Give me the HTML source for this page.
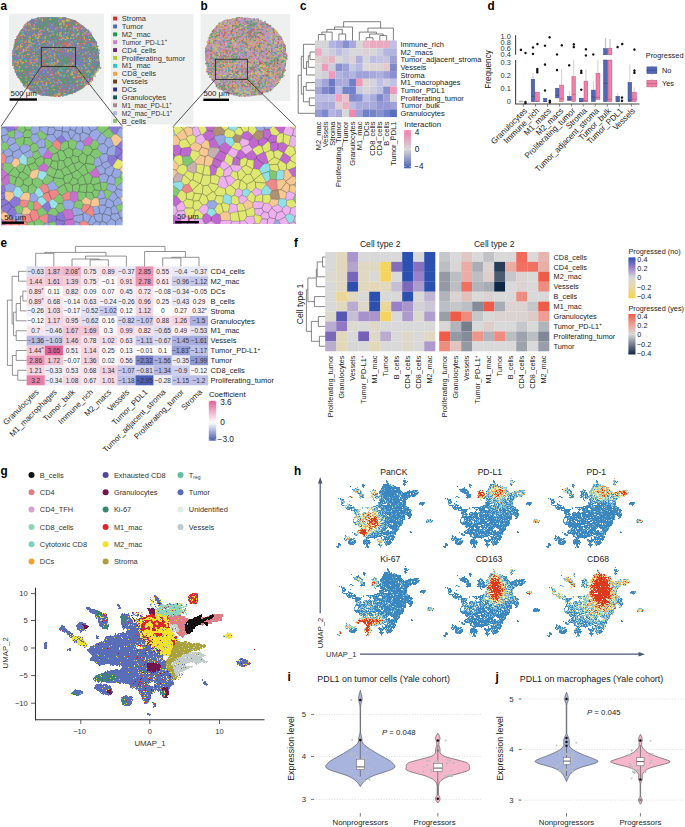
<!DOCTYPE html>
<html><head><meta charset="utf-8"><style>
html,body{margin:0;padding:0;background:#fff;}
svg{display:block;font-family:"Liberation Sans", sans-serif;}
</style></head><body>
<svg width="685" height="827" viewBox="0 0 685 827" fill="#222">
<defs><clipPath id="va"><rect x="1" y="126.4" width="121.5" height="98.8"/></clipPath>
<clipPath id="vb"><rect x="173" y="126.7" width="123" height="97.3"/></clipPath>
<linearGradient id="gc" x1="0" y1="0" x2="0" y2="1"><stop offset="0" stop-color="#f07aa8"/><stop offset="0.5" stop-color="#d8d8d8"/><stop offset="1" stop-color="#4a62b8"/></linearGradient>
<linearGradient id="ge" x1="0" y1="0" x2="0" y2="1"><stop offset="0" stop-color="#e35d94"/><stop offset="0.545" stop-color="#ffffff"/><stop offset="1" stop-color="#4a5cb2"/></linearGradient>
<linearGradient id="gfl" x1="0" y1="0" x2="0" y2="1"><stop offset="0" stop-color="#2c50b0"/><stop offset="0.25" stop-color="#9a80c8"/><stop offset="0.5" stop-color="#d9d9d9"/><stop offset="0.75" stop-color="#ead7a2"/><stop offset="1" stop-color="#f6d44a"/></linearGradient>
<linearGradient id="gfr" x1="0" y1="0" x2="0" y2="1"><stop offset="0" stop-color="#f05a48"/><stop offset="0.25" stop-color="#ef9d92"/><stop offset="0.5" stop-color="#d9d9d9"/><stop offset="0.75" stop-color="#767e8e"/><stop offset="1" stop-color="#0e2746"/></linearGradient>
<g id="hs"><path d="M71 4.5h1M53 6.5h1M70 6.5h3M53 7.5h2M70 7.5h3M74 7.5h1M54 8.5h1M71 8.5h3M54 9.5h2M70 9.5h2M29 10.5h2M50 10.5h6M57 10.5h1M70 10.5h3M29 11.5h3M50 11.5h8M60 11.5h1M71 11.5h1M17 12.5h1M29 12.5h2M49 12.5h11M61 12.5h2M24 13.5h1M30 13.5h1M49 13.5h18M22 14.5h3M48 14.5h19M19 15.5h8M40 15.5h1M48 15.5h10M59 15.5h2M63 15.5h4M20 16.5h8M39 16.5h4M47 16.5h21M76 16.5h1M79 16.5h6M20 17.5h6M27 17.5h2M37 17.5h3M41 17.5h2M46 17.5h23M74 17.5h10M22 18.5h7M38 18.5h4M43 18.5h1M46 18.5h4M51 18.5h17M69 18.5h1M72 18.5h11M84 18.5h2M24 19.5h5M38 19.5h3M42 19.5h3M46 19.5h2M49 19.5h15M65 19.5h12M78 19.5h2M81 19.5h4M27 20.5h4M38 20.5h7M48 20.5h16M65 20.5h1M67 20.5h1M69 20.5h5M75 20.5h2M78 20.5h6M26 21.5h5M37 21.5h8M46 21.5h15M62 21.5h4M68 21.5h15M16 22.5h2M27 22.5h4M38 22.5h3M42 22.5h5M48 22.5h1M50 22.5h17M68 22.5h10M79 22.5h3M18 23.5h1M26 23.5h5M37 23.5h10M48 23.5h8M57 23.5h9M67 23.5h1M69 23.5h6M76 23.5h1M5 24.5h1M7 24.5h1M40 24.5h1M42 24.5h3M46 24.5h20M67 24.5h8M7 25.5h1M9 25.5h2M40 25.5h1M46 25.5h5M52 25.5h17M70 25.5h4M8 26.5h3M41 26.5h1M46 26.5h6M53 26.5h20M8 27.5h1M10 27.5h2M16 27.5h1M47 27.5h7M55 27.5h4M60 27.5h7M69 27.5h4M8 28.5h4M45 28.5h5M51 28.5h18M70 28.5h3M87 28.5h5M9 29.5h2M14 29.5h1M45 29.5h8M54 29.5h19M86 29.5h5M8 30.5h1M14 30.5h3M46 30.5h4M54 30.5h3M58 30.5h6M65 30.5h8M86 30.5h1M88 30.5h3M9 31.5h5M15 31.5h4M43 31.5h25M69 31.5h3M89 31.5h1M12 32.5h1M14 32.5h2M17 32.5h1M20 32.5h1M40 32.5h8M49 32.5h10M60 32.5h2M63 32.5h11M13 33.5h9M32 33.5h9M42 33.5h7M50 33.5h1M52 33.5h7M60 33.5h9M70 33.5h2M74 33.5h2M13 34.5h1M15 34.5h7M29 34.5h1M34 34.5h1M36 34.5h1M38 34.5h7M47 34.5h29M14 35.5h3M18 35.5h1M21 35.5h7M35 35.5h3M39 35.5h6M48 35.5h13M62 35.5h7M70 35.5h8M18 36.5h9M36 36.5h1M39 36.5h8M48 36.5h10M59 36.5h20M21 37.5h6M35 37.5h1M40 37.5h2M43 37.5h7M51 37.5h1M53 37.5h4M59 37.5h7M67 37.5h8M76 37.5h2M21 38.5h5M30 38.5h3M34 38.5h3M39 38.5h12M52 38.5h26M21 39.5h3M25 39.5h2M29 39.5h2M32 39.5h11M45 39.5h13M59 39.5h13M73 39.5h6M23 40.5h5M29 40.5h9M39 40.5h12M52 40.5h27M22 41.5h1M26 41.5h1M29 41.5h9M39 41.5h10M50 41.5h4M56 41.5h12M69 41.5h3M74 41.5h5M22 42.5h10M33 42.5h5M39 42.5h14M54 42.5h2M57 42.5h15M75 42.5h3M21 43.5h18M40 43.5h2M43 43.5h4M48 43.5h24M76 43.5h2M24 44.5h8M33 44.5h1M35 44.5h9M45 44.5h14M60 44.5h12M75 44.5h2M20 45.5h1M24 45.5h4M29 45.5h6M36 45.5h1M38 45.5h18M57 45.5h4M62 45.5h6M69 45.5h3M94 45.5h2M97 45.5h1M20 46.5h1M24 46.5h1M26 46.5h5M32 46.5h13M47 46.5h16M64 46.5h1M67 46.5h3M93 46.5h7M20 47.5h1M25 47.5h3M29 47.5h3M34 47.5h3M38 47.5h11M50 47.5h20M93 47.5h7M20 48.5h9M30 48.5h3M34 48.5h1M36 48.5h1M38 48.5h9M49 48.5h21M93 48.5h4M98 48.5h1M21 49.5h32M54 49.5h2M58 49.5h1M60 49.5h10M22 50.5h20M44 50.5h1M46 50.5h4M51 50.5h8M60 50.5h9M25 51.5h13M41 51.5h10M52 51.5h17M25 52.5h20M46 52.5h3M50 52.5h17M26 53.5h2M29 53.5h5M35 53.5h5M41 53.5h6M48 53.5h5M54 53.5h1M56 53.5h8M65 53.5h1M28 54.5h2M31 54.5h3M36 54.5h4M42 54.5h2M45 54.5h2M48 54.5h6M57 54.5h9M27 55.5h2M30 55.5h13M44 55.5h1M47 55.5h6M59 55.5h7M25 56.5h2M28 56.5h11M40 56.5h1M42 56.5h2M45 56.5h8M54 56.5h2M59 56.5h6M24 57.5h2M27 57.5h6M34 57.5h16M51 57.5h5M57 57.5h2M60 57.5h4M77 57.5h1M19 58.5h1M24 58.5h13M38 58.5h25M77 58.5h2M21 59.5h2M25 59.5h38M21 60.5h2M24 60.5h1M29 60.5h3M33 60.5h7M41 60.5h1M44 60.5h3M48 60.5h1M50 60.5h9M60 60.5h1M62 60.5h1M12 61.5h1M23 61.5h2M30 61.5h1M34 61.5h16M53 61.5h2M57 61.5h4M12 62.5h2M15 62.5h1M30 62.5h2M34 62.5h14M50 62.5h2M53 62.5h1M55 62.5h7M12 63.5h1M14 63.5h3M32 63.5h12M48 63.5h1M51 63.5h6M59 63.5h3M11 64.5h2M14 64.5h3M18 64.5h1M20 64.5h2M33 64.5h1M35 64.5h1M41 64.5h1M48 64.5h1M51 64.5h2M54 64.5h7M11 65.5h1M13 65.5h2M16 65.5h5M31 65.5h4M44 65.5h2M48 65.5h8M57 65.5h4M12 66.5h2M15 66.5h4M21 66.5h2M30 66.5h7M44 66.5h7M52 66.5h1M54 66.5h1M56 66.5h2M59 66.5h1M15 67.5h3M19 67.5h4M30 67.5h7M45 67.5h5M51 67.5h1M53 67.5h5M15 68.5h8M30 68.5h8M46 68.5h1M48 68.5h1M51 68.5h1M53 68.5h6M5 69.5h2M15 69.5h7M30 69.5h7M46 69.5h2M52 69.5h1M54 69.5h4M5 70.5h3M17 70.5h4M31 70.5h1M33 70.5h2M36 70.5h1M45 70.5h5M53 70.5h4M5 71.5h3M33 71.5h2M46 71.5h3M53 71.5h1M3 72.5h3M33 72.5h3M47 72.5h1M4 73.5h2M32 73.5h1M34 73.5h2" fill="none" stroke="#3b87c0" stroke-width="1"/><path d="M53 8.5h1M59 11.5h1M60 12.5h1M58 15.5h1M61 15.5h1M42 18.5h1M50 18.5h1M68 18.5h1M71 18.5h1M83 18.5h1M48 19.5h1M26 20.5h1M47 20.5h1M66 20.5h1M68 20.5h1M74 20.5h1M84 20.5h1M61 21.5h1M66 21.5h2M47 22.5h1M49 22.5h1M15 23.5h1M19 23.5h1M68 23.5h1M75 23.5h1M27 24.5h1M8 25.5h1M54 27.5h1M59 27.5h1M69 28.5h1M8 29.5h1M91 29.5h1M45 30.5h1M64 30.5h1M87 30.5h1M68 31.5h1M72 31.5h1M48 32.5h1M59 32.5h1M62 32.5h1M12 33.5h1M29 33.5h1M49 33.5h1M51 33.5h1M72 33.5h2M14 34.5h1M61 35.5h1M47 36.5h1M42 37.5h1M50 37.5h1M52 37.5h1M57 37.5h2M38 38.5h1M51 38.5h1M31 39.5h1M58 39.5h1M72 39.5h1M22 40.5h1M23 41.5h1M25 41.5h1M49 41.5h1M68 41.5h1M32 42.5h1M53 42.5h1M56 42.5h1M42 43.5h1M21 44.5h1M32 44.5h1M59 44.5h1M28 45.5h1M37 45.5h1M56 45.5h1M61 45.5h1M96 45.5h1M65 46.5h2M23 47.5h2M37 47.5h1M29 48.5h1M37 48.5h1M97 48.5h1M53 49.5h1M56 49.5h1M45 50.5h1M50 50.5h1M51 51.5h1M49 52.5h1M47 53.5h1M53 53.5h1M64 53.5h1M29 55.5h1M43 55.5h1M45 55.5h2M27 56.5h1M39 56.5h1M41 56.5h1M59 57.5h1M23 60.5h1M42 60.5h2M47 60.5h1M59 60.5h1M61 60.5h1M22 61.5h1M31 61.5h1M33 61.5h1M55 61.5h2M32 62.5h1M52 62.5h1M58 63.5h1M13 64.5h1M17 64.5h1M34 64.5h1M53 64.5h1M15 65.5h1M56 65.5h1M20 66.5h1M52 67.5h1M47 68.5h1M52 68.5h1M53 69.5h1M16 70.5h1M52 70.5h1M47 73.5h1" fill="none" stroke="#7fb9d6" stroke-width="1"/></g></defs>
<text transform="translate(0.4 10.3) scale(0.901 1)" font-size="12.99" font-weight="bold" fill="#000">a</text>
<rect x="8.8" y="13.7" width="95.2" height="87.3" fill="#eef0ef"/>
<path d="M37.7 17.5L51.6 16.9L65.5 17.5L75.2 20.3L83.5 25.9L90.4 32.8L96 41.1L98.8 52.2L99.5 61.9L99.9 67.5L96 73L90.4 81.3L82.1 89L72.4 93.8L62.7 95.9L51.6 96.6L40.5 95.2L30.8 91.1L22.5 84.1L16.2 74.4L12.8 63.3L12.5 52.2L14.9 41.1L19.7 31.4L26.6 23.1L32.2 19.6Z" fill="#5f9472"/>
<path d="M37.7 18h1.4M41.7 18h1.4M44.4 18h1.4M47.1 18h1.4M52.5 18h1.4M55.2 18h1.4M63.3 18h2.7M30.9 19.4h4.1M36.3 19.4h1.4M39 19.4h1.4M56.6 19.4h5.4M64.7 19.4h1.4M29.6 20.7h1.4M33.6 20.7h1.4M37.7 20.7h2.7M43 20.7h1.4M47.1 20.7h1.4M51.2 20.7h1.4M59.2 20.7h1.4M71.4 20.7h1.4M28.2 22.1h2.7M32.2 22.1h1.4M36.3 22.1h2.7M41.7 22.1h1.4M48.5 22.1h1.4M60.6 22.1h1.4M64.7 22.1h1.4M68.7 22.1h1.4M74.1 22.1h1.4M26.9 23.4h1.4M29.6 23.4h1.4M33.6 23.4h4.1M39 23.4h1.4M41.7 23.4h1.4M49.8 23.4h1.4M52.5 23.4h2.7M72.8 23.4h1.4M26.9 24.8h1.4M36.3 24.8h1.4M39 24.8h2.7M48.5 24.8h2.7M55.2 24.8h1.4M76.8 24.8h1.4M32.2 26.1h1.4M35 26.1h2.7M47.1 26.1h1.4M49.8 26.1h1.4M52.5 26.1h1.4M60.6 26.1h1.4M64.7 26.1h1.4M76.8 26.1h1.4M25.5 27.5h1.4M37.7 27.5h2.7M47.1 27.5h6.8M59.2 27.5h1.4M62 27.5h1.4M80.9 27.5h4.1M25.5 28.8h1.4M28.2 28.8h4.1M48.5 28.8h6.8M56.6 28.8h1.4M60.6 28.8h2.7M82.2 28.8h1.4M84.9 28.8h1.4M26.9 30.2h1.4M29.6 30.2h1.4M39 30.2h1.4M41.7 30.2h1.4M45.8 30.2h1.4M48.5 30.2h1.4M51.2 30.2h4.1M56.6 30.2h9.5M67.3 30.2h1.4M71.4 30.2h1.4M78.2 30.2h1.4M82.2 30.2h1.4M86.2 30.2h2.7M20.1 31.5h1.4M24.1 31.5h1.4M26.9 31.5h2.7M32.2 31.5h2.7M37.7 31.5h1.4M40.4 31.5h1.4M43 31.5h1.4M49.8 31.5h1.4M53.9 31.5h1.4M60.6 31.5h1.4M68.7 31.5h1.4M72.8 31.5h1.4M84.9 31.5h1.4M87.6 31.5h1.4M22.8 32.9h1.4M25.5 32.9h1.4M28.2 32.9h1.4M30.9 32.9h4.1M36.3 32.9h1.4M39 32.9h1.4M41.7 32.9h1.4M49.8 32.9h4.1M55.2 32.9h1.4M57.9 32.9h1.4M63.3 32.9h1.4M66 32.9h1.4M74.1 32.9h1.4M80.9 32.9h1.4M24.1 34.2h1.4M26.9 34.2h4.1M32.2 34.2h1.4M36.3 34.2h1.4M41.7 34.2h1.4M44.4 34.2h1.4M48.5 34.2h2.7M60.6 34.2h9.5M86.2 34.2h1.4M90.3 34.2h1.4M22.8 35.6h1.4M25.5 35.6h2.7M29.6 35.6h1.4M36.3 35.6h1.4M39 35.6h1.4M45.8 35.6h2.7M55.2 35.6h1.4M62 35.6h1.4M64.7 35.6h1.4M68.7 35.6h1.4M74.1 35.6h1.4M79.5 35.6h1.4M24.1 36.9h1.4M26.9 36.9h1.4M33.6 36.9h1.4M40.4 36.9h1.4M47.1 36.9h1.4M57.9 36.9h2.7M62 36.9h4.1M70.1 36.9h1.4M74.1 36.9h1.4M18.8 38.3h1.4M24.1 38.3h2.7M43 38.3h1.4M48.5 38.3h2.7M59.2 38.3h1.4M75.5 38.3h2.7M86.2 38.3h1.4M91.7 38.3h1.4M14.7 39.6h1.4M18.8 39.6h2.7M25.5 39.6h1.4M35 39.6h4.1M40.4 39.6h1.4M43 39.6h2.7M53.9 39.6h2.7M57.9 39.6h1.4M62 39.6h2.7M67.3 39.6h4.1M79.5 39.6h1.4M24.1 41h1.4M36.3 41h1.4M39 41h2.7M48.5 41h2.7M56.6 41h1.4M59.2 41h2.7M67.3 41h1.4M70.1 41h1.4M72.8 41h1.4M78.2 41h1.4M86.2 41h4.1M91.7 41h2.7M21.5 42.3h1.4M35 42.3h5.4M44.4 42.3h1.4M47.1 42.3h1.4M49.8 42.3h1.4M52.5 42.3h1.4M55.2 42.3h1.4M66 42.3h1.4M68.7 42.3h1.4M74.1 42.3h5.4M84.9 42.3h2.7M89 42.3h1.4M94.4 42.3h2.7M17.4 43.7h1.4M22.8 43.7h1.4M28.2 43.7h1.4M37.7 43.7h1.4M40.4 43.7h1.4M45.8 43.7h4.1M55.2 43.7h2.7M59.2 43.7h1.4M70.1 43.7h6.8M86.2 43.7h5.4M95.7 43.7h1.4M16.1 45h2.7M26.9 45h1.4M35 45h2.7M39 45h2.7M45.8 45h1.4M48.5 45h1.4M51.2 45h1.4M53.9 45h2.7M63.3 45h1.4M68.7 45h1.4M72.8 45h2.7M76.8 45h2.7M82.2 45h2.7M90.3 45h2.7M22.8 46.4h1.4M29.6 46.4h1.4M35 46.4h4.1M41.7 46.4h6.8M49.8 46.4h1.4M53.9 46.4h1.4M59.2 46.4h1.4M62 46.4h1.4M64.7 46.4h1.4M68.7 46.4h4.1M75.5 46.4h1.4M79.5 46.4h1.4M82.2 46.4h2.7M87.6 46.4h2.7M21.5 47.7h1.4M29.6 47.7h1.4M32.2 47.7h2.7M37.7 47.7h1.4M43 47.7h2.7M47.1 47.7h4.1M53.9 47.7h1.4M57.9 47.7h1.4M62 47.7h5.4M68.7 47.7h1.4M72.8 47.7h1.4M75.5 47.7h4.1M13.3 49.1h1.4M21.5 49.1h1.4M30.9 49.1h1.4M37.7 49.1h5.4M45.8 49.1h1.4M49.8 49.1h1.4M63.3 49.1h1.4M66 49.1h4.1M72.8 49.1h1.4M75.5 49.1h1.4M78.2 49.1h1.4M80.9 49.1h2.7M84.9 49.1h5.4M17.4 50.4h1.4M21.5 50.4h1.4M26.9 50.4h1.4M29.6 50.4h1.4M32.2 50.4h1.4M36.3 50.4h5.4M44.4 50.4h1.4M49.8 50.4h1.4M60.6 50.4h5.4M68.7 50.4h1.4M71.4 50.4h1.4M78.2 50.4h2.7M82.2 50.4h4.1M89 50.4h1.4M98.4 50.4h1.4M13.3 51.8h2.7M17.4 51.8h1.4M25.5 51.8h2.7M30.9 51.8h1.4M36.3 51.8h2.7M43 51.8h1.4M49.8 51.8h4.1M57.9 51.8h1.4M60.6 51.8h1.4M63.3 51.8h1.4M66 51.8h1.4M68.7 51.8h4.1M74.1 51.8h4.1M79.5 51.8h5.4M89 51.8h1.4M93 51.8h1.4M13.3 53.1h2.7M21.5 53.1h1.4M26.9 53.1h5.4M37.7 53.1h1.4M40.4 53.1h1.4M43 53.1h4.1M48.5 53.1h1.4M51.2 53.1h2.7M60.6 53.1h4.1M66 53.1h5.4M72.8 53.1h4.1M79.5 53.1h1.4M83.6 53.1h1.4M90.3 53.1h1.4M97.1 53.1h1.4M16.1 54.5h2.7M20.1 54.5h1.4M29.6 54.5h1.4M39 54.5h1.4M43 54.5h1.4M45.8 54.5h1.4M49.8 54.5h4.1M59.2 54.5h14.9M75.5 54.5h2.7M83.6 54.5h4.1M90.3 54.5h2.7M95.7 54.5h1.4M12 55.8h1.4M16.1 55.8h1.4M18.8 55.8h1.4M26.9 55.8h1.4M29.6 55.8h1.4M32.2 55.8h1.4M39 55.8h2.7M44.4 55.8h1.4M48.5 55.8h1.4M52.5 55.8h1.4M57.9 55.8h1.4M60.6 55.8h1.4M66 55.8h1.4M68.7 55.8h1.4M72.8 55.8h1.4M76.8 55.8h5.4M86.2 55.8h2.7M91.7 55.8h1.4M95.7 55.8h1.4M12 57.2h8.1M24.1 57.2h1.4M32.2 57.2h2.7M37.7 57.2h1.4M49.8 57.2h1.4M52.5 57.2h1.4M57.9 57.2h4.1M63.3 57.2h2.7M70.1 57.2h1.4M72.8 57.2h1.4M75.5 57.2h1.4M79.5 57.2h4.1M84.9 57.2h1.4M90.3 57.2h5.4M17.4 58.5h2.7M24.1 58.5h5.4M32.2 58.5h1.4M35 58.5h1.4M44.4 58.5h1.4M49.8 58.5h1.4M55.2 58.5h1.4M57.9 58.5h1.4M60.6 58.5h2.7M68.7 58.5h1.4M71.4 58.5h1.4M74.1 58.5h2.7M79.5 58.5h1.4M89 58.5h1.4M91.7 58.5h1.4M94.4 58.5h2.7M12 59.9h4.1M17.4 59.9h1.4M26.9 59.9h2.7M37.7 59.9h1.4M43 59.9h1.4M49.8 59.9h1.4M59.2 59.9h1.4M74.1 59.9h8.1M83.6 59.9h4.1M94.4 59.9h1.4M16.1 61.2h1.4M18.8 61.2h1.4M22.8 61.2h1.4M30.9 61.2h1.4M35 61.2h1.4M37.7 61.2h1.4M48.5 61.2h2.7M52.5 61.2h2.7M70.1 61.2h1.4M74.1 61.2h9.5M87.6 61.2h1.4M91.7 61.2h1.4M94.4 61.2h4.1M25.5 62.6h1.4M32.2 62.6h1.4M39 62.6h1.4M41.7 62.6h1.4M57.9 62.6h1.4M62 62.6h1.4M70.1 62.6h1.4M72.8 62.6h1.4M75.5 62.6h2.7M79.5 62.6h4.1M84.9 62.6h4.1M94.4 62.6h2.7M18.8 63.9h1.4M22.8 63.9h1.4M25.5 63.9h1.4M30.9 63.9h2.7M35 63.9h1.4M39 63.9h1.4M49.8 63.9h1.4M57.9 63.9h1.4M74.1 63.9h9.5M90.3 63.9h4.1M95.7 63.9h1.4M98.4 63.9h1.4M24.1 65.3h1.4M26.9 65.3h2.7M33.6 65.3h1.4M44.4 65.3h1.4M66 65.3h1.4M74.1 65.3h2.7M78.2 65.3h5.4M84.9 65.3h1.4M93 65.3h1.4M20.1 66.6h1.4M26.9 66.6h2.7M30.9 66.6h1.4M33.6 66.6h1.4M40.4 66.6h4.1M45.8 66.6h1.4M60.6 66.6h2.7M72.8 66.6h2.7M78.2 66.6h2.7M89 66.6h2.7M93 66.6h2.7M98.4 66.6h1.4M16.1 68h1.4M24.1 68h6.8M37.7 68h2.7M44.4 68h1.4M79.5 68h1.4M87.6 68h1.4M94.4 68h1.4M99.8 68h1.4M32.2 69.3h1.4M36.3 69.3h2.7M41.7 69.3h4.1M47.1 69.3h1.4M53.9 69.3h1.4M56.6 69.3h2.7M67.3 69.3h1.4M70.1 69.3h2.7M74.1 69.3h2.7M78.2 69.3h2.7M84.9 69.3h1.4M87.6 69.3h1.4M93 69.3h2.7M14.7 70.7h1.4M22.8 70.7h1.4M29.6 70.7h1.4M35 70.7h2.7M40.4 70.7h6.8M49.8 70.7h1.4M59.2 70.7h1.4M63.3 70.7h1.4M66 70.7h1.4M68.7 70.7h2.7M78.2 70.7h1.4M82.2 70.7h1.4M86.2 70.7h1.4M91.7 70.7h1.4M95.7 70.7h1.4M16.1 72h1.4M25.5 72h1.4M30.9 72h12.2M44.4 72h2.7M48.5 72h1.4M53.9 72h1.4M63.3 72h1.4M68.7 72h2.7M72.8 72h1.4M82.2 72h2.7M87.6 72h1.4M17.4 73.4h2.7M24.1 73.4h1.4M28.2 73.4h1.4M35 73.4h1.4M39 73.4h5.4M45.8 73.4h4.1M56.6 73.4h1.4M59.2 73.4h1.4M68.7 73.4h2.7M74.1 73.4h1.4M80.9 73.4h1.4M89 73.4h2.7M16.1 74.7h1.4M20.1 74.7h1.4M26.9 74.7h2.7M32.2 74.7h4.1M37.7 74.7h1.4M43 74.7h6.8M57.9 74.7h1.4M62 74.7h2.7M74.1 74.7h4.1M91.7 74.7h1.4M18.8 76.1h1.4M22.8 76.1h4.1M32.2 76.1h2.7M37.7 76.1h1.4M43 76.1h1.4M47.1 76.1h1.4M53.9 76.1h2.7M64.7 76.1h1.4M68.7 76.1h1.4M72.8 76.1h1.4M17.4 77.4h1.4M33.6 77.4h2.7M39 77.4h1.4M41.7 77.4h1.4M47.1 77.4h4.1M57.9 77.4h1.4M62 77.4h2.7M66 77.4h1.4M80.9 77.4h1.4M90.3 77.4h2.7M29.6 78.8h1.4M32.2 78.8h2.7M36.3 78.8h2.7M40.4 78.8h1.4M43 78.8h1.4M51.2 78.8h2.7M57.9 78.8h1.4M64.7 78.8h1.4M68.7 78.8h1.4M71.4 78.8h2.7M75.5 78.8h1.4M78.2 78.8h1.4M80.9 78.8h1.4M83.6 78.8h1.4M22.8 80.1h1.4M26.9 80.1h1.4M32.2 80.1h9.5M43 80.1h1.4M45.8 80.1h1.4M53.9 80.1h1.4M59.2 80.1h2.7M68.7 80.1h1.4M74.1 80.1h1.4M76.8 80.1h1.4M26.9 81.5h1.4M30.9 81.5h2.7M44.4 81.5h1.4M48.5 81.5h4.1M56.6 81.5h2.7M67.3 81.5h2.7M79.5 81.5h1.4M86.2 81.5h2.7M39 82.8h2.7M43 82.8h1.4M51.2 82.8h1.4M55.2 82.8h1.4M57.9 82.8h2.7M64.7 82.8h1.4M68.7 82.8h1.4M72.8 82.8h1.4M75.5 82.8h4.1M80.9 82.8h1.4M26.9 84.2h6.8M35 84.2h1.4M39 84.2h2.7M44.4 84.2h1.4M47.1 84.2h1.4M51.2 84.2h1.4M55.2 84.2h1.4M57.9 84.2h4.1M66 84.2h1.4M68.7 84.2h2.7M72.8 84.2h2.7M26.9 85.5h1.4M39 85.5h4.1M47.1 85.5h1.4M49.8 85.5h2.7M53.9 85.5h1.4M56.6 85.5h1.4M62 85.5h2.7M71.4 85.5h1.4M74.1 85.5h1.4M82.2 85.5h1.4M24.1 86.9h1.4M33.6 86.9h1.4M36.3 86.9h2.7M43 86.9h1.4M45.8 86.9h1.4M48.5 86.9h2.7M52.5 86.9h1.4M62 86.9h1.4M66 86.9h1.4M70.1 86.9h2.7M74.1 86.9h2.7M80.9 86.9h2.7M29.6 88.2h1.4M33.6 88.2h1.4M43 88.2h1.4M45.8 88.2h1.4M62 88.2h1.4M64.7 88.2h1.4M67.3 88.2h1.4M70.1 88.2h2.7M75.5 88.2h4.1M29.6 89.6h1.4M33.6 89.6h1.4M36.3 89.6h4.1M43 89.6h1.4M45.8 89.6h4.1M57.9 89.6h1.4M64.7 89.6h2.7M71.4 89.6h1.4M74.1 89.6h2.7M29.6 90.9h1.4M32.2 90.9h1.4M36.3 90.9h1.4M41.7 90.9h1.4M44.4 90.9h1.4M47.1 90.9h1.4M51.2 90.9h1.4M56.6 90.9h1.4M60.6 90.9h1.4M71.4 90.9h2.7M75.5 90.9h1.4M33.6 92.3h1.4M41.7 92.3h1.4M44.4 92.3h4.1M51.2 92.3h1.4M55.2 92.3h1.4M62 92.3h1.4M66 92.3h2.7M71.4 92.3h4.1M39 93.6h8.1M51.2 93.6h1.4M53.9 93.6h1.4M41.7 95h2.7M47.1 95h2.7" fill="none" stroke="#7880b4" stroke-width="1.4"/>
<path d="M39 18h1.4M59.2 18h1.4M35 19.4h1.4M41.7 19.4h1.4M66 19.4h2.7M41.7 20.7h1.4M62 20.7h1.4M68.7 20.7h1.4M62 22.1h2.7M28.2 23.4h1.4M59.2 23.4h2.7M63.3 23.4h1.4M75.5 23.4h1.4M78.2 23.4h1.4M25.5 24.8h1.4M28.2 24.8h1.4M63.3 24.8h1.4M22.8 26.1h1.4M33.6 26.1h1.4M72.8 26.1h1.4M82.2 26.1h1.4M22.8 28.8h1.4M37.7 28.8h1.4M47.1 28.8h1.4M55.2 28.8h1.4M64.7 28.8h1.4M75.5 28.8h1.4M80.9 28.8h1.4M28.2 30.2h1.4M40.4 30.2h1.4M47.1 30.2h1.4M21.5 31.5h1.4M39 31.5h1.4M48.5 31.5h1.4M51.2 31.5h1.4M18.8 32.9h1.4M59.2 32.9h2.7M67.3 32.9h1.4M78.2 32.9h1.4M22.8 34.2h1.4M33.6 34.2h1.4M39 34.2h2.7M52.5 34.2h1.4M56.6 34.2h1.4M59.2 34.2h1.4M72.8 34.2h1.4M76.8 34.2h2.7M20.1 35.6h2.7M24.1 35.6h1.4M32.2 35.6h1.4M35 35.6h1.4M37.7 35.6h1.4M49.8 35.6h1.4M60.6 35.6h1.4M71.4 35.6h2.7M28.2 36.9h1.4M35 36.9h1.4M39 36.9h1.4M44.4 36.9h1.4M60.6 36.9h1.4M75.5 36.9h1.4M83.6 36.9h1.4M90.3 36.9h1.4M21.5 38.3h1.4M29.6 38.3h1.4M36.3 38.3h2.7M44.4 38.3h1.4M62 38.3h2.7M66 38.3h1.4M72.8 38.3h1.4M28.2 39.6h1.4M32.2 39.6h1.4M21.5 41h1.4M37.7 41h1.4M44.4 41h1.4M84.9 41h1.4M24.1 42.3h1.4M28.2 42.3h2.7M41.7 42.3h2.7M48.5 42.3h1.4M71.4 42.3h1.4M21.5 43.7h1.4M39 43.7h1.4M52.5 43.7h1.4M68.7 43.7h1.4M78.2 43.7h1.4M83.6 43.7h1.4M13.3 45h1.4M25.5 45h1.4M28.2 45h1.4M52.5 45h1.4M67.3 45h1.4M70.1 45h1.4M93 45h1.4M30.9 46.4h1.4M52.5 46.4h1.4M56.6 46.4h1.4M60.6 46.4h1.4M67.3 46.4h1.4M78.2 46.4h1.4M94.4 46.4h1.4M17.4 47.7h1.4M20.1 47.7h1.4M39 47.7h1.4M51.2 47.7h2.7M56.6 47.7h1.4M60.6 47.7h1.4M95.7 47.7h1.4M16.1 49.1h1.4M25.5 49.1h1.4M36.3 49.1h1.4M76.8 49.1h1.4M28.2 50.4h1.4M22.8 51.8h1.4M67.3 51.8h1.4M72.8 51.8h1.4M18.8 53.1h2.7M32.2 53.1h1.4M78.2 53.1h1.4M93 53.1h1.4M12 54.5h1.4M14.7 54.5h1.4M26.9 54.5h2.7M47.1 54.5h1.4M53.9 54.5h1.4M82.2 54.5h1.4M89 54.5h1.4M17.4 55.8h1.4M21.5 55.8h1.4M24.1 55.8h1.4M33.6 55.8h1.4M49.8 55.8h1.4M53.9 55.8h1.4M44.4 57.2h1.4M89 57.2h1.4M36.3 58.5h1.4M53.9 58.5h1.4M83.6 58.5h1.4M20.1 59.9h1.4M29.6 59.9h1.4M33.6 59.9h1.4M51.2 59.9h1.4M56.6 59.9h1.4M89 59.9h2.7M95.7 59.9h2.7M14.7 61.2h1.4M17.4 61.2h1.4M20.1 61.2h1.4M56.6 61.2h2.7M83.6 61.2h1.4M13.3 62.6h1.4M16.1 62.6h2.7M21.5 62.6h2.7M33.6 62.6h1.4M53.9 62.6h1.4M56.6 62.6h1.4M71.4 62.6h1.4M17.4 63.9h1.4M21.5 63.9h1.4M29.6 63.9h1.4M45.8 63.9h2.7M53.9 63.9h1.4M68.7 63.9h1.4M87.6 63.9h2.7M16.1 65.3h1.4M36.3 65.3h1.4M49.8 65.3h1.4M52.5 65.3h1.4M67.3 65.3h1.4M70.1 65.3h1.4M18.8 66.6h1.4M25.5 66.6h1.4M63.3 66.6h1.4M67.3 66.6h2.7M18.8 68h1.4M78.2 68h1.4M80.9 68h1.4M91.7 68h1.4M98.4 68h1.4M72.8 69.3h1.4M76.8 69.3h1.4M16.1 70.7h1.4M18.8 70.7h1.4M97.1 70.7h1.4M51.2 72h1.4M57.9 72h1.4M29.6 73.4h1.4M36.3 73.4h1.4M55.2 73.4h1.4M57.9 73.4h1.4M36.3 74.7h1.4M51.2 74.7h1.4M59.2 74.7h1.4M70.1 74.7h1.4M82.2 74.7h1.4M30.9 76.1h1.4M35 76.1h1.4M40.4 76.1h1.4M76.8 76.1h1.4M82.2 76.1h1.4M20.1 77.4h1.4M25.5 77.4h1.4M32.2 77.4h1.4M52.5 77.4h1.4M74.1 77.4h1.4M39 78.8h1.4M47.1 78.8h1.4M82.2 78.8h1.4M25.5 80.1h1.4M48.5 80.1h1.4M57.9 80.1h1.4M20.1 81.5h1.4M37.7 81.5h1.4M40.4 81.5h2.7M75.5 81.5h1.4M80.9 81.5h1.4M28.2 82.8h1.4M33.6 82.8h1.4M36.3 82.8h1.4M45.8 82.8h1.4M49.8 82.8h1.4M56.6 82.8h1.4M60.6 82.8h1.4M89 82.8h1.4M25.5 84.2h1.4M36.3 84.2h1.4M80.9 84.2h1.4M83.6 84.2h1.4M44.4 85.5h1.4M84.9 85.5h1.4M25.5 86.9h1.4M29.6 86.9h1.4M32.2 86.9h1.4M35 86.9h1.4M39 86.9h2.7M51.2 86.9h1.4M60.6 86.9h1.4M83.6 86.9h1.4M47.1 88.2h1.4M68.7 88.2h1.4M52.5 89.6h2.7M63.3 90.9h1.4M67.3 90.9h1.4M36.3 92.3h1.4M43 92.3h1.4M36.3 93.6h1.4M59.2 93.6h1.4M63.3 93.6h2.7M53.9 95h1.4M56.6 95h4.1M55.2 96.3h1.4" fill="none" stroke="#d8a060" stroke-width="1.4"/>
<path d="M40.4 18h1.4M43 18h1.4M44.4 19.4h1.4M48.5 19.4h1.4M30.9 20.7h1.4M36.3 20.7h1.4M70.1 20.7h1.4M74.1 20.7h1.4M26.9 22.1h1.4M70.1 22.1h1.4M75.5 22.1h1.4M47.1 23.4h1.4M76.8 23.4h1.4M32.2 24.8h1.4M64.7 24.8h5.4M71.4 24.8h1.4M26.9 26.1h2.7M30.9 26.1h1.4M63.3 26.1h1.4M70.1 26.1h1.4M78.2 26.1h4.1M24.1 27.5h1.4M28.2 27.5h1.4M32.2 27.5h1.4M35 27.5h1.4M55.2 27.5h1.4M57.9 27.5h1.4M66 27.5h1.4M79.5 27.5h1.4M26.9 28.8h1.4M68.7 28.8h1.4M78.2 28.8h2.7M33.6 30.2h1.4M30.9 31.5h1.4M41.7 31.5h1.4M70.1 31.5h1.4M76.8 31.5h2.7M35 32.9h1.4M71.4 32.9h2.7M86.2 32.9h1.4M18.8 34.2h1.4M35 34.2h1.4M45.8 34.2h1.4M17.4 35.6h2.7M33.6 35.6h1.4M56.6 35.6h1.4M67.3 35.6h1.4M83.6 35.6h1.4M87.6 35.6h1.4M16.1 36.9h1.4M18.8 36.9h1.4M21.5 36.9h1.4M56.6 36.9h1.4M78.2 36.9h1.4M82.2 36.9h1.4M17.4 38.3h1.4M39 38.3h1.4M57.9 38.3h1.4M60.6 38.3h1.4M79.5 38.3h1.4M16.1 39.6h1.4M49.8 39.6h1.4M74.1 39.6h1.4M76.8 39.6h2.7M82.2 39.6h6.8M14.7 41h2.7M18.8 41h1.4M22.8 41h1.4M41.7 41h1.4M51.2 41h1.4M68.7 41h1.4M76.8 41h1.4M80.9 41h1.4M14.7 42.3h1.4M25.5 42.3h2.7M45.8 42.3h1.4M57.9 42.3h1.4M63.3 42.3h2.7M67.3 42.3h1.4M72.8 42.3h1.4M83.6 42.3h1.4M87.6 42.3h1.4M91.7 42.3h1.4M20.1 43.7h1.4M57.9 43.7h1.4M62 43.7h5.4M79.5 43.7h2.7M84.9 43.7h1.4M18.8 45h1.4M22.8 45h1.4M43 45h1.4M62 45h1.4M64.7 45h2.7M71.4 45h1.4M80.9 45h1.4M16.1 46.4h1.4M18.8 46.4h1.4M26.9 46.4h1.4M40.4 46.4h1.4M63.3 46.4h1.4M66 46.4h1.4M80.9 46.4h1.4M18.8 47.7h1.4M35 47.7h1.4M55.2 47.7h1.4M79.5 47.7h1.4M84.9 47.7h1.4M18.8 49.1h2.7M24.1 49.1h1.4M26.9 49.1h1.4M29.6 49.1h1.4M32.2 49.1h1.4M47.1 49.1h1.4M53.9 49.1h1.4M56.6 49.1h1.4M59.2 49.1h2.7M79.5 49.1h1.4M90.3 49.1h1.4M18.8 50.4h2.7M47.1 50.4h1.4M57.9 50.4h2.7M66 50.4h1.4M72.8 50.4h1.4M76.8 50.4h1.4M18.8 51.8h1.4M29.6 51.8h1.4M35 51.8h1.4M41.7 51.8h1.4M45.8 51.8h1.4M56.6 51.8h1.4M59.2 51.8h1.4M62 51.8h1.4M64.7 51.8h1.4M86.2 51.8h1.4M47.1 53.1h1.4M59.2 53.1h1.4M25.5 54.5h1.4M41.7 54.5h1.4M74.1 54.5h1.4M94.4 54.5h1.4M13.3 55.8h1.4M37.7 55.8h1.4M59.2 55.8h1.4M64.7 55.8h1.4M70.1 55.8h1.4M83.6 55.8h1.4M93 55.8h2.7M22.8 57.2h1.4M28.2 57.2h1.4M43 57.2h1.4M55.2 57.2h1.4M68.7 57.2h1.4M45.8 58.5h1.4M32.2 59.9h1.4M39 59.9h1.4M48.5 59.9h1.4M67.3 59.9h1.4M70.1 59.9h2.7M12 61.2h1.4M33.6 61.2h1.4M41.7 61.2h1.4M71.4 61.2h1.4M84.9 61.2h1.4M93 61.2h1.4M14.7 62.6h1.4M24.1 62.6h1.4M26.9 62.6h4.1M35 62.6h1.4M59.2 62.6h1.4M68.7 62.6h1.4M89 62.6h1.4M93 62.6h1.4M13.3 63.9h4.1M28.2 63.9h1.4M41.7 63.9h1.4M44.4 63.9h1.4M12 65.3h1.4M14.7 65.3h1.4M40.4 65.3h4.1M56.6 65.3h1.4M59.2 65.3h1.4M68.7 65.3h1.4M90.3 65.3h1.4M17.4 66.6h1.4M91.7 66.6h1.4M13.3 68h1.4M41.7 68h1.4M45.8 68h1.4M55.2 68h1.4M60.6 68h1.4M68.7 68h4.1M89 68h1.4M32.2 70.7h1.4M37.7 70.7h2.7M74.1 70.7h1.4M76.8 70.7h1.4M79.5 70.7h2.7M84.9 70.7h1.4M14.7 72h1.4M24.1 72h1.4M28.2 72h2.7M62 72h1.4M75.5 72h2.7M22.8 73.4h1.4M49.8 73.4h1.4M75.5 73.4h2.7M25.5 74.7h1.4M52.5 74.7h1.4M55.2 74.7h1.4M78.2 74.7h1.4M83.6 74.7h1.4M36.3 76.1h1.4M45.8 76.1h1.4M52.5 76.1h1.4M57.9 76.1h1.4M75.5 76.1h1.4M94.4 76.1h1.4M18.8 77.4h1.4M30.9 77.4h1.4M37.7 77.4h1.4M44.4 77.4h2.7M75.5 77.4h1.4M78.2 77.4h2.7M82.2 77.4h1.4M35 78.8h1.4M74.1 78.8h1.4M76.8 78.8h1.4M91.7 78.8h1.4M51.2 80.1h2.7M55.2 80.1h1.4M64.7 80.1h1.4M72.8 80.1h1.4M91.7 80.1h1.4M33.6 81.5h1.4M36.3 81.5h1.4M43 81.5h1.4M47.1 81.5h1.4M53.9 81.5h1.4M64.7 81.5h1.4M82.2 81.5h1.4M90.3 81.5h1.4M44.4 82.8h1.4M47.1 82.8h1.4M79.5 82.8h1.4M84.9 82.8h2.7M53.9 84.2h1.4M56.6 84.2h1.4M62 84.2h1.4M71.4 84.2h1.4M75.5 84.2h1.4M87.6 84.2h1.4M64.7 85.5h1.4M67.3 85.5h1.4M28.2 86.9h1.4M44.4 86.9h1.4M57.9 86.9h1.4M78.2 86.9h2.7M26.9 88.2h2.7M74.1 88.2h1.4M80.9 88.2h1.4M32.2 89.6h1.4M40.4 89.6h1.4M59.2 89.6h5.4M78.2 89.6h1.4M35 90.9h1.4M43 90.9h1.4M59.2 90.9h1.4M64.7 90.9h1.4M68.7 90.9h1.4M35 92.3h1.4M40.4 92.3h1.4M60.6 92.3h1.4M37.7 93.6h1.4M48.5 93.6h1.4M71.4 93.6h1.4M51.2 95h1.4M62 95h1.4M53.9 96.3h1.4M57.9 96.3h2.7" fill="none" stroke="#c86c6c" stroke-width="1.4"/>
<path d="M49.8 18h1.4M40.4 19.4h1.4M60.6 20.7h1.4M64.7 20.7h1.4M25.5 26.1h1.4M29.6 26.1h1.4M30.9 27.5h1.4M56.6 27.5h1.4M76.8 27.5h1.4M72.8 30.2h1.4M22.8 31.5h1.4M52.5 31.5h1.4M74.1 31.5h1.4M82.2 31.5h1.4M21.5 32.9h1.4M26.9 32.9h1.4M37.7 32.9h1.4M21.5 34.2h1.4M75.5 34.2h1.4M63.3 35.6h1.4M76.8 35.6h1.4M82.2 35.6h1.4M87.6 36.9h1.4M35 38.3h1.4M41.7 38.3h1.4M71.4 38.3h1.4M59.2 39.6h1.4M66 39.6h1.4M17.4 41h1.4M20.1 41h1.4M29.6 41h1.4M52.5 41h1.4M55.2 41h1.4M74.1 41h2.7M18.8 42.3h1.4M30.9 42.3h1.4M70.1 42.3h1.4M49.8 43.7h1.4M37.7 45h1.4M59.2 45h1.4M87.6 45h1.4M76.8 46.4h1.4M28.2 47.7h1.4M83.6 47.7h1.4M86.2 47.7h1.4M33.6 49.1h1.4M55.2 49.1h1.4M57.9 49.1h1.4M70.1 49.1h1.4M12 50.4h1.4M33.6 50.4h1.4M45.8 50.4h1.4M51.2 50.4h1.4M94.4 50.4h1.4M97.1 51.8h1.4M49.8 53.1h1.4M18.8 54.5h1.4M55.2 54.5h1.4M57.9 54.5h1.4M36.3 55.8h1.4M35 57.2h1.4M51.2 57.2h1.4M12 58.5h1.4M21.5 58.5h1.4M80.9 58.5h1.4M16.1 59.9h1.4M24.1 59.9h1.4M93 59.9h1.4M13.3 61.2h1.4M86.2 61.2h1.4M12 62.6h1.4M36.3 62.6h1.4M49.8 62.6h4.1M78.2 62.6h1.4M90.3 62.6h1.4M12 63.9h1.4M33.6 63.9h1.4M40.4 63.9h1.4M63.3 63.9h1.4M39 65.3h1.4M87.6 65.3h2.7M66 66.6h1.4M76.8 66.6h1.4M14.7 68h1.4M43 68h1.4M51.2 68h1.4M63.3 68h1.4M75.5 68h1.4M82.2 68h1.4M17.4 69.3h1.4M59.2 69.3h2.7M80.9 69.3h1.4M33.6 70.7h1.4M57.9 70.7h1.4M60.6 70.7h2.7M72.8 70.7h1.4M43 72h1.4M56.6 72h1.4M32.2 73.4h2.7M60.6 74.7h1.4M64.7 74.7h1.4M72.8 74.7h1.4M87.6 74.7h1.4M60.6 76.1h1.4M84.9 76.1h1.4M90.3 76.1h1.4M49.8 78.8h1.4M44.4 80.1h1.4M78.2 80.1h2.7M28.2 81.5h1.4M35 81.5h1.4M52.5 81.5h1.4M70.1 81.5h1.4M53.9 82.8h1.4M83.6 82.8h1.4M79.5 84.2h1.4M37.7 85.5h1.4M43 85.5h1.4M45.8 85.5h1.4M70.1 85.5h1.4M30.9 86.9h1.4M30.9 90.9h1.4M56.6 93.6h1.4M63.3 95h4.1M62 96.3h1.4" fill="none" stroke="#58b0b8" stroke-width="1.4"/>
<path d="M60.6 18h1.4M49.8 19.4h1.4M63.3 20.7h1.4M66 20.7h2.7M59.2 24.8h1.4M75.5 24.8h1.4M66 26.1h1.4M60.6 27.5h1.4M32.2 28.8h2.7M76.8 30.2h1.4M86.2 31.5h1.4M64.7 32.9h1.4M82.2 34.2h1.4M59.2 35.6h1.4M37.7 36.9h1.4M66 36.9h1.4M67.3 38.3h1.4M70.1 38.3h1.4M83.6 38.3h1.4M60.6 39.6h1.4M64.7 39.6h1.4M89 39.6h1.4M28.2 41h1.4M76.8 43.7h1.4M20.1 45h1.4M29.6 45h1.4M17.4 46.4h1.4M20.1 46.4h2.7M26.9 47.7h1.4M82.2 47.7h1.4M22.8 49.1h1.4M52.5 49.1h1.4M22.8 50.4h1.4M25.5 50.4h1.4M67.3 50.4h1.4M70.1 50.4h1.4M44.4 51.8h1.4M84.9 53.1h1.4M30.9 57.2h1.4M87.6 58.5h1.4M25.5 61.2h1.4M89 61.2h1.4M30.9 62.6h1.4M51.2 63.9h1.4M71.4 63.9h2.7M32.2 65.3h1.4M64.7 65.3h1.4M83.6 65.3h1.4M44.4 66.6h1.4M70.1 66.6h1.4M97.1 69.3h1.4M21.5 70.7h1.4M67.3 70.7h1.4M87.6 70.7h1.4M47.1 72h1.4M71.4 72h1.4M86.2 72h1.4M89 72h1.4M95.7 72h1.4M71.4 73.4h1.4M78.2 73.4h1.4M94.4 73.4h1.4M71.4 74.7h1.4M80.9 74.7h1.4M94.4 74.7h1.4M63.3 76.1h1.4M79.5 76.1h1.4M91.7 76.1h2.7M72.8 77.4h1.4M82.2 80.1h1.4M76.8 81.5h1.4M45.8 84.2h1.4M28.2 85.5h1.4M52.5 85.5h1.4M76.8 85.5h1.4M26.9 86.9h1.4M72.8 89.6h1.4M57.9 93.6h1.4" fill="none" stroke="#c0c060" stroke-width="1.4"/>
<path d="M62 18h1.4M63.3 19.4h1.4M32.2 20.7h1.4M72.8 20.7h1.4M30.9 23.4h1.4M64.7 23.4h5.4M74.1 23.4h1.4M44.4 26.1h1.4M48.5 26.1h1.4M59.2 26.1h1.4M71.4 26.1h1.4M74.1 26.1h2.7M53.9 27.5h1.4M71.4 27.5h1.4M44.4 28.8h1.4M21.5 30.2h4.1M66 30.2h1.4M74.1 30.2h1.4M79.5 30.2h1.4M84.9 30.2h1.4M57.9 31.5h1.4M79.5 31.5h2.7M44.4 32.9h2.7M87.6 32.9h1.4M25.5 34.2h1.4M83.6 34.2h1.4M40.4 35.6h2.7M80.9 35.6h1.4M86.2 35.6h1.4M20.1 36.9h1.4M22.8 36.9h1.4M71.4 36.9h1.4M84.9 36.9h2.7M89 36.9h1.4M40.4 38.3h1.4M53.9 38.3h1.4M56.6 38.3h1.4M71.4 39.6h2.7M80.9 39.6h1.4M33.6 41h1.4M60.6 42.3h1.4M18.8 43.7h1.4M25.5 43.7h1.4M51.2 43.7h1.4M67.3 43.7h1.4M21.5 45h1.4M24.1 45h1.4M56.6 45h1.4M79.5 45h1.4M89 45h1.4M25.5 46.4h1.4M51.2 46.4h1.4M74.1 46.4h1.4M97.1 46.4h1.4M22.8 47.7h1.4M45.8 47.7h1.4M74.1 47.7h1.4M28.2 49.1h1.4M97.1 49.1h1.4M30.9 50.4h1.4M48.5 50.4h1.4M52.5 50.4h1.4M80.9 50.4h1.4M53.9 51.8h1.4M95.7 51.8h1.4M91.7 53.1h1.4M94.4 53.1h1.4M98.4 53.1h1.4M32.2 54.5h1.4M56.6 54.5h1.4M22.8 55.8h1.4M30.9 55.8h1.4M47.1 55.8h1.4M63.3 55.8h1.4M71.4 55.8h1.4M74.1 55.8h2.7M84.9 55.8h1.4M89 55.8h1.4M45.8 57.2h1.4M71.4 57.2h1.4M74.1 57.2h1.4M87.6 57.2h1.4M14.7 58.5h2.7M29.6 58.5h1.4M41.7 58.5h1.4M86.2 58.5h1.4M53.9 59.9h1.4M68.7 59.9h1.4M32.2 61.2h1.4M43 61.2h2.7M55.2 61.2h1.4M37.7 62.6h1.4M40.4 62.6h1.4M74.1 62.6h1.4M83.6 62.6h1.4M98.4 62.6h1.4M62 63.9h1.4M70.1 63.9h1.4M45.8 65.3h1.4M72.8 65.3h1.4M86.2 65.3h1.4M52.5 66.6h1.4M95.7 66.6h1.4M47.1 68h4.1M52.5 68h1.4M74.1 68h1.4M83.6 68h1.4M14.7 69.3h1.4M48.5 69.3h1.4M51.2 69.3h1.4M47.1 70.7h1.4M52.5 70.7h4.1M49.8 72h1.4M52.5 72h1.4M93 72h1.4M20.1 73.4h1.4M37.7 73.4h1.4M44.4 73.4h1.4M51.2 73.4h2.7M30.9 74.7h1.4M41.7 74.7h1.4M53.9 74.7h1.4M39 76.1h1.4M86.2 76.1h1.4M89 76.1h1.4M36.3 77.4h1.4M40.4 77.4h1.4M60.6 77.4h1.4M53.9 78.8h1.4M66 78.8h1.4M89 78.8h2.7M67.3 82.8h1.4M22.8 85.5h1.4M29.6 85.5h1.4M59.2 85.5h2.7M68.7 85.5h1.4M67.3 86.9h1.4M35 88.2h1.4M56.6 88.2h1.4M60.6 88.2h1.4M63.3 88.2h1.4M66 88.2h1.4M72.8 88.2h1.4M56.6 89.6h1.4M70.1 89.6h1.4M45.8 90.9h1.4M62 90.9h1.4M66 90.9h1.4M64.7 92.3h1.4M60.6 93.6h1.4M66 93.6h1.4M45.8 95h1.4" fill="none" stroke="#9070a8" stroke-width="1.4"/>
<path d="M68.7 19.4h1.4M57.9 20.7h1.4M35 22.1h1.4M25.5 23.4h1.4M24.1 24.8h1.4M29.6 24.8h1.4M33.6 24.8h1.4M51.2 24.8h1.4M60.6 24.8h1.4M79.5 24.8h1.4M44.4 27.5h1.4M72.8 27.5h4.1M78.2 27.5h1.4M24.1 28.8h1.4M35 28.8h1.4M70.1 28.8h1.4M72.8 28.8h1.4M83.6 28.8h1.4M25.5 30.2h1.4M43 30.2h1.4M89 31.5h1.4M40.4 32.9h1.4M83.6 32.9h2.7M89 32.9h2.7M37.7 34.2h1.4M71.4 34.2h1.4M84.9 34.2h1.4M87.6 34.2h1.4M75.5 35.6h1.4M17.4 36.9h1.4M29.6 36.9h1.4M25.5 41h1.4M47.1 41h1.4M51.2 42.3h1.4M30.9 43.7h4.1M91.7 43.7h1.4M94.4 43.7h1.4M47.1 45h1.4M94.4 45h1.4M28.2 46.4h1.4M72.8 46.4h1.4M91.7 46.4h1.4M16.1 47.7h1.4M25.5 47.7h1.4M70.1 47.7h1.4M14.7 49.1h1.4M48.5 49.1h1.4M64.7 49.1h1.4M13.3 50.4h1.4M24.1 50.4h1.4M55.2 50.4h1.4M75.5 50.4h1.4M12 51.8h1.4M21.5 51.8h1.4M48.5 51.8h1.4M87.6 51.8h1.4M12 53.1h1.4M33.6 53.1h1.4M41.7 53.1h1.4M53.9 53.1h1.4M86.2 53.1h1.4M97.1 54.5h1.4M21.5 57.2h1.4M48.5 57.2h1.4M43 58.5h1.4M72.8 58.5h1.4M18.8 59.9h1.4M30.9 59.9h1.4M35 59.9h2.7M40.4 59.9h1.4M29.6 61.2h1.4M36.3 61.2h1.4M48.5 63.9h1.4M55.2 63.9h1.4M76.8 65.3h1.4M36.3 66.6h1.4M39 66.6h1.4M84.9 66.6h1.4M32.2 68h1.4M84.9 68h2.7M40.4 69.3h1.4M45.8 69.3h1.4M49.8 69.3h1.4M94.4 70.7h1.4M66 72h1.4M74.1 72h1.4M94.4 72h1.4M30.9 73.4h1.4M49.8 74.7h1.4M29.6 76.1h1.4M67.3 76.1h1.4M78.2 76.1h1.4M84.9 78.8h1.4M87.6 78.8h1.4M30.9 80.1h1.4M84.9 80.1h4.1M59.2 81.5h1.4M83.6 81.5h1.4M41.7 84.2h1.4M84.9 84.2h2.7M72.8 86.9h1.4M40.4 88.2h1.4M44.4 88.2h1.4M59.2 88.2h1.4M35 89.6h1.4M41.7 89.6h1.4M57.9 90.9h1.4M59.2 92.3h1.4M55.2 93.6h1.4M40.4 95h1.4" fill="none" stroke="#c088b8" stroke-width="1.4"/>
<rect x="41.3" y="47.4" width="34.3" height="19" fill="none" stroke="#2a2a2a" stroke-width="0.9"/>
<text transform="translate(10.6 95.6)" font-size="7.8">500 μm</text>
<rect x="9.6" y="98.3" width="27.4" height="2.4" fill="#000"/>
<rect x="111" y="14" width="82.5" height="110.5" fill="#eef0ef"/>
<rect x="113.1" y="16.6" width="3.9" height="3.9" fill="#d42a2a"/>
<text transform="translate(121.8 21.1)" font-size="7.5" fill="#333">Stroma</text>
<rect x="113.1" y="24.5" width="3.9" height="3.9" fill="#4a6cc0"/>
<text transform="translate(121.8 29)" font-size="7.5" fill="#333">Tumor</text>
<rect x="113.1" y="32.4" width="3.9" height="3.9" fill="#1a9a4a"/>
<text transform="translate(121.8 36.9)" font-size="7.5" fill="#333">M2_mac</text>
<rect x="113.1" y="40.2" width="3.9" height="3.9" fill="#d080c8"/>
<text transform="translate(121.8 44.7)" font-size="7.5" fill="#333" textLength="45.4" lengthAdjust="spacingAndGlyphs">Tumor_PD-L1<tspan font-size="4.7" dy="-2.7">+</tspan></text>
<rect x="113.1" y="48.1" width="3.9" height="3.9" fill="#702880"/>
<text transform="translate(121.8 52.6)" font-size="7.5" fill="#333">CD4_cells</text>
<rect x="113.1" y="56" width="3.9" height="3.9" fill="#b0d030"/>
<text transform="translate(121.8 60.5)" font-size="7.5" fill="#333">Proliferating_tumor</text>
<rect x="113.1" y="63.9" width="3.9" height="3.9" fill="#30c0c8"/>
<text transform="translate(121.8 68.4)" font-size="7.5" fill="#333">M1_mac</text>
<rect x="113.1" y="71.8" width="3.9" height="3.9" fill="#f8a040"/>
<text transform="translate(121.8 76.3)" font-size="7.5" fill="#333">CD8_cells</text>
<rect x="113.1" y="79.6" width="3.9" height="3.9" fill="#6a4010"/>
<text transform="translate(121.8 84.1)" font-size="7.5" fill="#333">Vessels</text>
<rect x="113.1" y="87.5" width="3.9" height="3.9" fill="#28308a"/>
<text transform="translate(121.8 92)" font-size="7.5" fill="#333">DCs</text>
<rect x="113.1" y="95.4" width="3.9" height="3.9" fill="#0a5a5a"/>
<text transform="translate(121.8 99.9)" font-size="7.5" fill="#333">Granulocytes</text>
<rect x="113.1" y="103.3" width="3.9" height="3.9" fill="#a88888"/>
<text transform="translate(121.8 107.8)" font-size="7.5" fill="#333" textLength="49.8" lengthAdjust="spacingAndGlyphs">M1_mac_PD-L1<tspan font-size="4.7" dy="-2.7">+</tspan></text>
<rect x="113.1" y="111.2" width="3.9" height="3.9" fill="#b0b8e8"/>
<text transform="translate(121.8 115.7)" font-size="7.5" fill="#333" textLength="50.5" lengthAdjust="spacingAndGlyphs">M2_mac_PD-L1<tspan font-size="4.7" dy="-2.7">+</tspan></text>
<rect x="113.1" y="119" width="3.9" height="3.9" fill="#90c070"/>
<text transform="translate(121.8 123.5)" font-size="7.5" fill="#333">B_cells</text>
<path d="M41.3 66.4L1 126.4" stroke="#2a2a2a" stroke-width="0.8"/>
<path d="M75.6 66.4L122.5 126.4" stroke="#2a2a2a" stroke-width="0.8"/>
<g clip-path="url(#va)" stroke="#3a403a" stroke-width="0.45" stroke-opacity="0.5">
<path d="M81.7 209.5L73.7 207.2L74.3 202.3L77.9 200L81.4 200.8L83.4 203.9ZM33.8 221.6L35.2 226.7L34.2 229.4L26.3 231.7L25.3 231.1L27.6 222.5L32.3 221.1ZM39.7 130L37.2 133.9L39.8 139.4L44.6 139.3L46 138.3L47.2 135ZM66.6 157.7L63.3 150.9L68.9 147.7L72.8 149.8L72.7 155.5L70.6 157.8ZM47.6 148.9L52.5 145.2L52.8 143L46 138.3L44.6 139.3L45.1 147.1ZM97.2 128L97 128.9L101.1 133.2L102 133.4L109.2 127.8L109.4 126L102.8 123.1ZM66.6 157.7L63.6 160.6L59.3 160.3L57.5 152.7L59 150.5L60 150.1L63.3 150.9ZM91.2 200.6L85.9 196.9L86 192.7L86.6 192.1L92.1 192.6L94.4 197.9ZM103.6 191L106.8 189.5L112.9 192.2L108.3 198.8L107 199L105.4 197.9ZM53.3 199.4L58.8 193.6L62.1 195.5L64.1 200.4L62.6 203.3L58.1 203.6ZM33.8 221.6L35.2 226.7L42.1 227.6L44.5 223.3L38.6 218.6ZM23.3 136.4L23 133.4L25.5 130L30.5 130.2L32.4 134.3L30.4 137.6L24.4 137.5ZM34.6 192.9L37.1 188L32.3 183.8L28.4 186.3L27.9 192.4L30 194.1ZM86.6 192.1L87 184.4L86.3 184L79.8 185L78.8 191.7L86 192.7ZM71.4 173.2L64.3 175.8L61.2 170L65.4 166.7L67.4 167.1ZM100.1 190.9L94.5 189.7L93.1 184.9L100.1 182.8L101.3 190.4ZM116.5 186.9L123.5 181L123.5 180.8L119.8 176.9L115.1 177.9L114.6 184.5ZM95.9 167.5L89.5 173.1L88.1 172.9L84.8 164.1L85.6 163.4L94 164.5L95.9 167.2ZM53 181L53.7 177.6L53.7 177.6L63.2 178.9L64.9 183.2L64.3 184.3L58 187.9ZM76.4 170.4L73.7 163.7L79.3 161.5L83.8 164.2L77.8 170.5ZM8.2 174.1L2.5 169.2L3 164.1L5.3 162.5L11.4 163.7L14 167.3L8.2 174.1ZM28.4 186.3L23.2 184.2L23.4 180.4L29.5 176.4L32.4 179L32.3 183.8ZM35.4 159.4L41.3 156.4L42.9 156.9L43.9 158.1L43.9 163.1L38.5 166.9L35 162.4ZM58.5 212.8L63.1 211.9L65 209.5L62.6 203.3L58.1 203.6L55.1 208.3ZM56.8 169.9L53.7 177.6L53.7 177.6L46.9 174.4L46.1 172.1L48.9 167L49.9 166.6ZM7.3 134.6L8 131.6L15.3 129.8L14.4 137.9L9.3 137.4ZM43.2 183.7L42.3 180.4L46.9 174.4L53.7 177.6L53 181L47 184.9ZM20.1 123.6L16.1 129.4L23 133.4L25.5 130L24.2 125ZM71.4 139L77.2 141.9L75.6 148.4L72.8 149.8L68.9 147.7L68 141.1L70.8 139ZM35.4 159.4L32.6 156.6L26.9 158.1L26.7 164.7L27.9 165.2L35 162.4ZM89.8 145.8L84.6 145.3L82.2 150.9L82.8 152.9L87.4 155.6L90.3 154.7L92.7 149.9ZM92.4 177.2L89.5 173.1L88.1 172.9L83.4 175.6L86.3 184L87 184.4L90.6 183.4ZM66.6 157.7L63.6 160.6L65.4 166.7L67.4 167.1L72.7 163.2L70.6 157.8ZM3.4 142.2L-0.6 146.2L3.7 151.3L8.9 148.6L9.3 145.7L6.7 142.4ZM29.5 200.5L29.1 200.7L26.6 207.1L31.2 210.7L33.9 209.7L33.6 202.3ZM52.3 160.8L49.9 166.6L56.8 169.9L57.6 169.5L57.9 161.3ZM15.8 167.5L14 167.3L8.2 174.1L8.5 174.5L16.6 177.5L18.2 176.7L19.7 172.7ZM26.7 164.7L25.9 165L22.7 171.8L29.4 176.1L31.3 170.9L27.9 165.2ZM32.7 152.3L38.2 150.7L39.1 147.8L36.1 143.3L33.3 143.1L30.3 146L30.2 150ZM87.4 155.6L85.6 163.4L84.8 164.1L83.8 164.2L79.3 161.5L78.3 156.7L82.8 152.9ZM92.7 149.9L90.3 154.7L95 158.4L99.4 157.3L102 153.8L97.6 148.8ZM72.8 177.3L77.8 179.7L82.2 175.4L77.8 170.5L76.4 170.4L71.8 173.3ZM95 158.4L90.3 154.7L87.4 155.6L85.6 163.4L94 164.5ZM69.3 182.9L64.9 183.2L64.3 184.3L67.5 191.6L70.7 192.4L72.8 191.3L72.4 185.2ZM57.6 169.5L61.2 170L64.3 175.8L63.2 178.9L53.7 177.6L56.8 169.9ZM72.8 177.3L69.3 182.9L64.9 183.2L63.2 178.9L64.3 175.8L71.4 173.2L71.8 173.3ZM39.3 187.5L37.1 188L32.3 183.8L32.4 179L37.5 177.6L42.3 180.4L43.2 183.7ZM57.4 189.7L58.8 193.6L62.1 195.5L67.5 191.6L64.3 184.3L58 187.9ZM106.5 138.1L102 133.4L109.2 127.8L113.8 134.6L111 137.8ZM72.7 155.5L78.3 156.7L82.8 152.9L82.2 150.9L75.6 148.4L72.8 149.8ZM93.1 184.9L90.6 183.4L87 184.4L86.6 192.1L92.1 192.6L94.5 189.7ZM14.6 185L16.6 177.5L18.2 176.7L23.4 180.4L23.2 184.2L19.7 187L15.7 186.8ZM47.6 213.6L39.2 216.8L36.8 210.6L41.9 207L47.6 212.7ZM102.4 119.1L104.6 117.2L110 118.1L111.4 124L109.4 126L102.8 123.1ZM89.8 145.8L92.8 139.9L96.7 140.4L99.4 144.2L97.6 148.8L92.7 149.9ZM29 122.1L33 125.6L30.5 130.2L25.5 130L24.2 125ZM19.6 204.4L14.3 207.3L16.7 213.4L22 213.7L23.3 207.8ZM15.4 139L23.3 136.4L24.4 137.5L23.7 144.2L19.8 147.2L15.5 142.9ZM30.3 146L23.7 144.2L24.4 137.5L30.4 137.6L33.3 143.1ZM129.3 175.7L129.5 175L127.3 172.3L121.2 171.9L119.8 176.9L123.5 180.8ZM59.3 160.3L57.9 161.3L57.6 169.5L61.2 170L65.4 166.7L63.6 160.6ZM56.1 216.1L48.3 214.5L47.6 213.6L47.6 212.7L51.2 208.1L55.1 208.3L58.5 212.8ZM3.1 185.3L-2.2 186.7L-6.3 184.4L-4.1 176.9L1.7 179.5ZM35.4 159.4L41.3 156.4L38.2 150.7L32.7 152.3L32.6 156.6ZM79.8 185L78.1 183.5L77.8 179.7L82.2 175.4L83.4 175.6L86.3 184ZM14.6 185L9.1 183.2L8.5 174.5L16.6 177.5ZM35 162.4L38.5 166.9L38.3 169.1L31.3 170.9L27.9 165.2ZM68.9 147.7L68 141.1L66.4 140.8L61 143.3L60 150.1L63.3 150.9ZM101.3 190.4L103.6 191L106.8 189.5L107.9 183.7L106.9 182.1L100.4 182.3L100.1 182.8ZM52.3 160.8L49.9 166.6L48.9 167L43.9 163.1L43.9 158.1L50.9 158.5ZM77.8 170.5L83.8 164.2L84.8 164.1L88.1 172.9L83.4 175.6L82.2 175.4ZM59.3 160.3L57.9 161.3L52.3 160.8L50.9 158.5L52.6 154.2L57.5 152.7ZM23.2 192.9L19.7 187L23.2 184.2L28.4 186.3L27.9 192.4ZM72.8 177.3L69.3 182.9L72.4 185.2L78.1 183.5L77.8 179.7ZM86 192.7L78.8 191.7L77.5 192.6L77.9 200L81.4 200.8L85.9 196.9ZM47.6 148.9L52.5 145.2L59 150.5L57.5 152.7L52.6 154.2L47.7 149.6ZM70.6 157.8L72.7 163.2L73.7 163.7L79.3 161.5L78.3 156.7L72.7 155.5ZM100.1 182.8L100.4 182.3L98.9 176.8L92.4 177.2L90.6 183.4L93.1 184.9ZM29.4 176.1L29.5 176.4L23.4 180.4L18.2 176.7L19.7 172.7L22.7 171.8ZM78.8 191.7L77.5 192.6L72.8 191.3L72.4 185.2L78.1 183.5L79.8 185ZM115.4 206.2L121.8 203.7L123.9 208.8L118.6 212.3ZM56.8 226.5L51.9 230.3L51.2 229.9L48.2 222.6L55.6 221.3ZM71.8 173.3L71.4 173.2L67.4 167.1L72.7 163.2L73.7 163.7L76.4 170.4ZM97.2 128L102.8 123.1L102.4 119.1L98.1 117.3L94.2 122.2ZM22.7 171.8L19.7 172.7L15.8 167.5L20.2 163.5L25.9 165ZM100.1 190.9L97.2 198L94.4 197.9L92.1 192.6L94.5 189.7Z" fill="#82c872"/>
<path d="M121.8 203.7L122.2 202.6L129.2 201.2L131.8 205.6L127.7 210.3L123.9 208.8ZM77.8 124.8L82.1 125.1L82.6 132.2L79.9 134.1L75.8 132.9L75 131ZM19.1 225.5L13.6 229.6L14.4 231.7L20.8 233.9L24.6 231.1ZM-2.8 146L-6.1 148.2L-5.7 153.1L-2.4 155.9L3.4 152.9L3.7 151.3L-0.6 146.2ZM93.6 215.4L94.1 214.9L100.1 213.3L102.3 214.3L102.3 221.1L100.2 222.3L96.2 221.2ZM102.1 163.4L107.7 161L108.3 155.4L106.6 153.6L102 153.8L99.4 157.3ZM126.5 143.5L129.1 143.4L131.9 140.6L129.1 133L128 132.2L121.8 138.4L122 140.3ZM124.2 225.1L127.8 225.5L128.5 226.2L129.1 232L123.2 234.3L119.3 231.7L119 228.6ZM104.9 173.4L108.8 176L111.5 175.4L114.4 168.3L112.8 165.9L111.3 165.5L105.3 169.1ZM89.3 134.6L91.5 131.2L97 128.9L101.1 133.2L96.7 140.4L92.8 139.9L89.4 136ZM12.9 152.1L8.9 148.6L3.7 151.3L3.4 152.9L6.2 157.2L12.4 155.4ZM14.6 185L9.1 183.2L4.3 185.9L5.9 191.3L13 192.3L15.7 186.8ZM99.1 227.2L100.2 222.3L102.3 221.1L106.6 223.2L107.9 226.8L103.5 230.7ZM106.7 207.4L103.4 213.8L110.5 215.7L111.7 214.1L110.8 207.9ZM39.6 127.1L38.1 125.1L39 121.3L45.5 118.8L47.8 120.4L47.4 126.3ZM111.5 175.4L114.4 168.3L119.7 169.3L121.2 171.9L119.8 176.9L115.1 177.9ZM-0.1 128.7L-4.6 128.8L-8.3 133.5L-5.6 137.7L-5.1 137.9L0.7 136ZM30.2 150L30.3 146L23.7 144.2L19.8 147.2L19.7 149.1L22.9 153.8L23 153.8ZM0.7 128L-1.5 119.5L-1 119.1L6.4 119L8.8 121.6L5.1 127.4ZM29 118.9L29 122.1L33 125.6L38.1 125.1L39 121.3L37.5 118.5L30.7 116.6ZM39.7 130L37.2 133.9L32.4 134.3L30.5 130.2L33 125.6L38.1 125.1L39.6 127.1ZM110.3 227.8L115.5 226.1L119 228.6L119.3 231.7L112.2 238.2ZM106.7 207.4L105.1 205.2L107 199L108.3 198.8L113.2 201.8L113.9 205.7L110.8 207.9ZM67.9 132L62.4 131.5L61.9 135.1L66.4 140.8L68 141.1L70.8 139ZM75.8 132.9L71.4 139L77.2 141.9L80.4 140.9L79.9 134.1ZM55.5 130.3L62 130.8L63 125.2L59.4 121.7L55.6 123L53.9 127.1ZM70.6 121.8L66.9 115.4L59.9 119.5L59.4 121.7L63 125.2L69.4 123.4ZM119.8 127.2L127.9 131.2L128.5 129.9L127.5 121.5L127.2 121.3L118.7 123.6ZM117.7 197.4L114.7 191.8L116.7 188.7L125.5 191.1L126.4 192.6L120.2 198.3ZM82.1 125.1L82.2 125L86.9 125.4L91.5 131.2L89.3 134.6L82.6 132.2ZM120.4 217.7L115.6 221.2L115.5 226.1L119 228.6L124.2 225.1L120.6 217.8ZM97.2 128L97 128.9L91.5 131.2L86.9 125.4L91 121.1L94.2 122.2ZM62.6 203.3L65 209.5L71.8 209.6L73.7 207.2L74.3 202.3L70.2 199.7L64.1 200.4ZM83.7 213L81.7 209.5L73.7 207.2L71.8 209.6L73.9 216L82.9 214.2ZM119.8 127.2L116.3 134.3L121.8 138.4L128 132.2L127.9 131.2ZM115.4 206.2L113.9 205.7L113.2 201.8L117.7 197.4L120.2 198.3L122.2 202.6L121.8 203.7ZM12.9 152.1L19.7 149.1L22.9 153.8L18.8 158.7L14.3 158.2L12.4 155.4ZM108.2 147.9L104.1 143.6L106.5 138.1L111 137.8L113.7 145.4ZM34.6 192.9L38.7 197.6L37.3 200.9L33.6 202.3L29.5 200.5L30 194.1ZM47.5 134.8L53.4 134.3L55.5 130.3L53.9 127.1L48.3 127.1ZM15.5 142.9L9.3 145.7L8.9 148.6L12.9 152.1L19.7 149.1L19.8 147.2ZM116.7 188.7L114.7 191.8L112.9 192.2L106.8 189.5L107.9 183.7L114.6 184.5L116.5 186.9ZM110.5 215.7L110.9 218.6L115.6 221.2L120.4 217.7L118.3 213.4L111.7 214.1ZM89 224.8L92 224.9L95.9 228.6L95.1 232.1L92.3 233.6L88.7 232.2L87.2 228.5ZM100.4 182.3L106.9 182.1L108.8 176L104.9 173.4L100.1 174.7L98.9 176.8ZM15.4 139L14.4 137.9L9.3 137.4L6.7 142.4L9.3 145.7L15.5 142.9ZM39.1 147.8L36.1 143.3L39.8 139.4L44.6 139.3L45.1 147.1ZM83.3 220.4L82.9 214.2L73.9 216L72.9 219L74.6 221.5L79.8 222.6ZM80.4 140.9L82.7 141.8L84.6 145.3L82.2 150.9L75.6 148.4L77.2 141.9ZM22 213.7L16.7 213.4L12.6 218.4L12.8 218.8L19.4 222.6L22.8 220.4L22.8 214.7ZM70.6 121.8L74.1 121.6L77.8 124.8L75 131L70.3 129.7L69.4 123.4ZM110.8 207.9L113.9 205.7L115.4 206.2L118.6 212.3L118.3 213.4L111.7 214.1ZM110.5 215.7L110.9 218.6L106.6 223.2L102.3 221.1L102.3 214.3L103.4 213.8ZM100.1 190.9L97.2 198L98.6 199.2L105.4 197.9L103.6 191L101.3 190.4ZM88 222.8L91.5 215.9L85.1 212.8L83.7 213L82.9 214.2L83.3 220.4ZM108.2 147.9L106.6 153.6L108.3 155.4L115 155.7L116.1 146.1L113.7 145.4ZM32.6 156.6L32.7 152.3L30.2 150L23 153.8L26.9 158.1ZM124.2 151.3L127.7 153.9L133.2 149.3L129.1 143.4L126.5 143.5ZM86.9 125.4L91 121.1L89.8 118.6L83.7 117L82.2 125ZM100.1 174.7L95.9 167.5L95.9 167.2L101.4 165L105.3 169.1L104.9 173.4ZM97.6 148.8L102 153.8L106.6 153.6L108.2 147.9L104.1 143.6L99.4 144.2ZM96.7 140.4L101.1 133.2L102 133.4L106.5 138.1L104.1 143.6L99.4 144.2ZM52.8 143L46 138.3L47.2 135L47.5 134.8L53.4 134.3L56.5 138.8L56.4 139.8ZM118.6 212.3L118.3 213.4L120.4 217.7L120.6 217.8L128.6 215.2L127.7 210.3L123.9 208.8ZM69.4 123.4L63 125.2L62 130.8L62.4 131.5L67.9 132L70.3 129.7ZM3.4 142.2L1 136.2L7.3 134.6L9.3 137.4L6.7 142.4ZM43.7 231.3L51.2 229.9L48.2 222.6L48.1 222.5L44.5 223.3L42.1 227.6ZM55.5 130.3L53.4 134.3L56.5 138.8L61.9 135.1L62.4 131.5L62 130.8ZM116.7 188.7L125.5 191.1L126.6 184.6L123.5 181L116.5 186.9ZM107.9 226.8L106.6 223.2L110.9 218.6L115.6 221.2L115.5 226.1L110.3 227.8ZM1 136.2L0.7 136L-0.1 128.7L0.7 128L5.1 127.4L8 131.6L7.3 134.6ZM99.4 205L98.6 199.2L105.4 197.9L107 199L105.1 205.2ZM49.3 190.9L57.4 189.7L58 187.9L53 181L47 184.9ZM3.4 142.2L-0.6 146.2L-2.8 146L-5.1 137.9L0.7 136L1 136.2ZM98.4 206.2L92.3 206.5L94.1 214.9L100.1 213.3ZM15.4 139L14.4 137.9L15.3 129.8L15.4 129.6L16.1 129.4L23 133.4L23.3 136.4ZM117.7 197.4L114.7 191.8L112.9 192.2L108.3 198.8L113.2 201.8ZM88 222.8L91.5 215.9L93.6 215.4L96.2 221.2L92 224.9L89 224.8ZM12.4 155.4L6.2 157.2L5.3 162.5L11.4 163.7L14.3 158.2ZM39.7 130L47.2 135L47.5 134.8L48.3 127.1L47.4 126.3L39.6 127.1ZM79.8 222.6L74.6 221.5L72.7 229.4L80.4 229.8L81.1 229.1ZM108.8 176L111.5 175.4L115.1 177.9L114.6 184.5L107.9 183.7L106.9 182.1ZM101.4 165L102.1 163.4L99.4 157.3L95 158.4L94 164.5L95.9 167.2ZM36.1 143.3L39.8 139.4L37.2 133.9L32.4 134.3L30.4 137.6L33.3 143.1ZM106.7 207.4L105.1 205.2L99.4 205L98.4 206.2L100.1 213.3L102.3 214.3L103.4 213.8ZM75 131L75.8 132.9L71.4 139L70.8 139L67.9 132L70.3 129.7ZM-0.1 128.7L-4.6 128.8L-7.8 124.1L-4.6 119.7L-1.5 119.5L0.7 128ZM47.6 148.9L45.1 147.1L39.1 147.8L38.2 150.7L41.3 156.4L42.9 156.9L47.7 149.6ZM47.4 126.3L47.8 120.4L51.4 119.6L55.6 123L53.9 127.1L48.3 127.1ZM95.1 232.1L95.9 228.6L99.1 227.2L103.5 230.7L103.3 232.1L99.6 234.6ZM96.2 221.2L100.2 222.3L99.1 227.2L95.9 228.6L92 224.9ZM105.3 169.1L111.3 165.5L107.7 161L102.1 163.4L101.4 165ZM79.9 134.1L80.4 140.9L82.7 141.8L89.4 136L89.3 134.6L82.6 132.2Z" fill="#98a8e2"/>
<path d="M88 222.8L83.3 220.4L79.8 222.6L81.1 229.1L87.2 228.5L89 224.8ZM60 150.1L61 143.3L56.4 139.8L52.8 143L52.5 145.2L59 150.5ZM33.9 209.7L31.2 210.7L29.7 214L32.3 221.1L33.8 221.6L38.6 218.6L39.2 216.8L36.8 210.6ZM-0.2 230.4L-6 230.6L-7.7 226.5L-5.2 221.5L0.9 226ZM48.7 192L51.5 199.5L53.3 199.4L58.8 193.6L57.4 189.7L49.3 190.9ZM39.3 187.5L43.6 193.7L48.7 192L49.3 190.9L47 184.9L43.2 183.7ZM19.1 225.5L24.6 231.1L25.3 231.1L27.6 222.5L22.8 220.4L19.4 222.6ZM91.5 215.9L85.1 212.8L91 205.7L92.3 206.5L94.1 214.9L93.6 215.4ZM5.3 162.5L6.2 157.2L3.4 152.9L-2.4 155.9L-2.5 160.8L3 164.1ZM22.8 214.7L22.8 220.4L27.6 222.5L32.3 221.1L29.7 214ZM19.1 225.5L13.6 229.6L10.1 227.6L12.8 218.8L19.4 222.6ZM48.3 214.5L48.1 222.5L44.5 223.3L38.6 218.6L39.2 216.8L47.6 213.6ZM20.4 199.7L29.1 200.7L26.6 207.1L23.3 207.8L19.6 204.4ZM-1.5 217.3L-2.8 217.6L-6.2 212.3L-5.2 209.3L1.1 207.7L3.3 211.9ZM9.3 227.8L4.2 224.3L4.4 220.8L9.3 217.1L12.6 218.4L12.8 218.8L10.1 227.6ZM33.6 202.3L33.9 209.7L36.8 210.6L41.9 207L42.1 205.9L37.3 200.9ZM48.7 192L51.5 199.5L49.1 201.7L46.9 201.7L42.3 196.4L43.6 193.7ZM64.1 200.4L70.2 199.7L70.7 192.4L67.5 191.6L62.1 195.5ZM85.1 212.8L91 205.7L90.5 204.8L83.4 203.9L81.7 209.5L83.7 213Z" fill="#f08888"/>
<path d="M14.3 207.3L11.8 206.6L7.1 212.9L9.3 217.1L12.6 218.4L16.7 213.4ZM124.2 151.3L127.7 153.9L128.3 157L123.9 162L117.5 158.7L116.9 157.2L123.2 151.3ZM56.1 216.1L56.7 219.4L64.9 221.5L65.9 220.2L63.1 211.9L58.5 212.8ZM9.2 202.6L11.8 206.6L7.1 212.9L3.3 211.9L1.1 207.7L1.2 207.2ZM20.4 199.7L19.6 198L14.4 196.1L9.1 201.8L9.2 202.6L11.8 206.6L14.3 207.3L19.6 204.4ZM5.1 198.7L4.7 193L-2.8 193.8L-3.2 194.2L-0.4 200.3ZM56.1 216.1L56.7 219.4L55.6 221.3L48.2 222.6L48.1 222.5L48.3 214.5ZM56.8 226.5L51.9 230.3L52.5 232.3L58.3 234.6L61.5 231L60.4 227.3ZM1.2 207.2L1.1 207.7L-5.2 209.3L-9.2 203.5L-8.6 202.9L-1 201.7ZM124.2 151.3L126.5 143.5L122 140.3L116.4 146L123.2 151.3ZM49.1 201.7L51.2 208.1L47.6 212.7L41.9 207L42.1 205.9L46.9 201.7ZM119.8 127.2L116.3 134.3L113.8 134.6L109.2 127.8L109.4 126L111.4 124L118.6 123.6L118.7 123.6ZM64.9 221.5L56.7 219.4L55.6 221.3L56.8 226.5L60.4 227.3L64.7 223.1ZM112.8 165.9L117.5 158.7L116.9 157.2L115 155.7L108.3 155.4L107.7 161L111.3 165.5ZM4.3 185.9L5.9 191.3L4.7 193L-2.8 193.8L-2.2 186.7L3.1 185.3ZM69 229L64.7 223.1L60.4 227.3L61.5 231L65.2 232.1ZM120.6 217.8L128.6 215.2L129.6 216.1L127.8 225.5L124.2 225.1ZM15.4 129.6L15.3 129.8L8 131.6L5.1 127.4L8.8 121.6L8.9 121.6ZM123.2 151.3L116.9 157.2L115 155.7L116.1 146.1L116.4 146ZM9.1 201.8L5.1 198.7L-0.4 200.3L-1 201.7L1.2 207.2L9.2 202.6ZM61 143.3L66.4 140.8L61.9 135.1L56.5 138.8L56.4 139.8ZM-0.4 200.3L-3.2 194.2L-6.6 194.6L-8.6 202.9L-1 201.7Z" fill="#8a78d8"/>
<path d="M113.7 145.4L116.1 146.1L116.4 146L122 140.3L121.8 138.4L116.3 134.3L113.8 134.6L111 137.8ZM29.4 176.1L29.5 176.4L32.4 179L37.5 177.6L39.3 170.4L38.3 169.1L31.3 170.9ZM30 194.1L27.9 192.4L23.2 192.9L19.6 198L20.4 199.7L29.1 200.7L29.5 200.5ZM98.4 206.2L92.3 206.5L91 205.7L90.5 204.8L91.2 200.6L94.4 197.9L97.2 198L98.6 199.2L99.4 205ZM14.3 158.2L11.4 163.7L14 167.3L15.8 167.5L20.2 163.5L18.8 158.7ZM4.4 220.8L9.3 217.1L7.1 212.9L3.3 211.9L-1.5 217.3ZM91.2 200.6L90.5 204.8L83.4 203.9L81.4 200.8L85.9 196.9ZM9.1 201.8L14.4 196.1L13 192.3L5.9 191.3L4.7 193L5.1 198.7ZM120.2 198.3L126.4 192.6L128.4 193.5L130.2 196.5L129.2 201.2L122.2 202.6ZM128.5 166.6L127.3 172.3L121.2 171.9L119.7 169.3L124 163ZM23.3 207.8L22 213.7L22.8 214.7L29.7 214L31.2 210.7L26.6 207.1Z" fill="#f8c892"/>
<path d="M19 120.5L20.1 123.6L16.1 129.4L15.4 129.6L8.9 121.6L14.3 119ZM98.9 176.8L100.1 174.7L95.9 167.5L89.5 173.1L92.4 177.2ZM74.3 202.3L77.9 200L77.5 192.6L72.8 191.3L70.7 192.4L70.2 199.7ZM43.9 163.1L48.9 167L46.1 172.1L39.3 170.4L38.3 169.1L38.5 166.9ZM82.7 141.8L84.6 145.3L89.8 145.8L92.8 139.9L89.4 136ZM29 118.9L29 122.1L24.2 125L20.1 123.6L19 120.5L21.8 116.8ZM72.7 229.4L72.6 229.5L69 229L64.7 223.1L64.9 221.5L65.9 220.2L72.9 219L74.6 221.5ZM47.7 149.6L52.6 154.2L50.9 158.5L43.9 158.1L42.9 156.9ZM4.3 185.9L9.1 183.2L8.5 174.5L8.2 174.1L8.2 174.1L1.7 179.5L3.1 185.3ZM5.7 232.4L1 231.8L-0.2 230.4L0.9 226L4.2 224.3L9.3 227.8ZM3 164.1L-2.5 160.8L-6.5 162.5L-7.4 167.2L-1.5 171.2L2.5 169.2ZM65.9 220.2L63.1 211.9L65 209.5L71.8 209.6L73.9 216L72.9 219ZM1.7 179.5L-4.1 176.9L-4.1 176.8L-1.5 171.2L2.5 169.2L8.2 174.1ZM4.2 224.3L4.4 220.8L-1.5 217.3L-2.8 217.6L-5.2 221.2L-5.2 221.5L0.9 226Z" fill="#c870d0"/>
<path d="M37.3 200.9L42.1 205.9L46.9 201.7L42.3 196.4L38.7 197.6ZM26.7 164.7L25.9 165L20.2 163.5L18.8 158.7L22.9 153.8L23 153.8L26.9 158.1ZM49.1 201.7L51.2 208.1L55.1 208.3L58.1 203.6L53.3 199.4L51.5 199.5ZM19.6 198L14.4 196.1L13 192.3L15.7 186.8L19.7 187L23.2 192.9ZM46.9 174.4L46.1 172.1L39.3 170.4L37.5 177.6L42.3 180.4ZM39.3 187.5L37.1 188L34.6 192.9L38.7 197.6L42.3 196.4L43.6 193.7Z" fill="#98e2ea"/>
<path d="M35.2 226.7L42.1 227.6L43.7 231.3L42.2 234.8L35.7 232.7L34.2 229.4Z" fill="#e8b0e0"/>
<path d="M124 163L123.9 162L117.5 158.7L112.8 165.9L114.4 168.3L119.7 169.3Z" fill="#e8e870"/>
</g>
<text transform="translate(4.2 219.6)" font-size="7.8">50 μm</text>
<rect x="2" y="221.5" width="22" height="2.4" fill="#000"/>
<text transform="translate(200.4 10.3) scale(0.901 1)" font-size="12.99" font-weight="bold" fill="#000">b</text>
<rect x="200.6" y="14" width="89.6" height="87" fill="#eef0ef"/>
<path d="M224.2 20.1L236.3 18L247 17.6L257.7 19.4L267.2 23.4L275.2 29.5L281.9 37.5L285.3 45.6L286.6 55L286 65.7L283.3 75.1L277.9 83.2L269.8 89.9L260.4 94.6L249.7 96.6L239 96.6L228.2 93.9L218.8 88.6L212.1 80.5L207.4 71.1L205.4 60.3L206 48.3L208.7 37.5L213.4 29.5L218.8 23.4Z" fill="#bc98bc"/>
<path d="M236.1 17.7h1.4M234.7 19h1.4M244.2 20.4h1.4M249.6 20.4h1.4M226.6 21.7h1.4M234.7 21.7h1.4M250.9 23.1h1.4M263.1 23.1h1.4M222.6 24.4h1.4M261.7 24.4h1.4M233.3 25.8h1.4M238.8 27.1h1.4M250.9 27.1h1.4M249.6 28.5h1.4M259 28.5h1.4M225.2 29.8h1.4M230.7 29.8h1.4M213.1 31.2h1.4M237.4 31.2h1.4M267.1 31.2h1.4M269.8 31.2h1.4M244.2 32.5h1.4M226.6 33.9h1.4M246.8 35.2h1.4M263.1 35.2h1.4M232 36.6h1.4M244.2 36.6h1.4M246.8 36.6h1.4M267.1 36.6h1.4M211.8 37.9h1.4M268.4 37.9h2.7M273.9 37.9h1.4M223.9 39.3h1.4M223.9 40.6h1.4M249.6 40.6h1.4M269.8 40.6h1.4M217.2 42h1.4M222.6 42h1.4M226.6 42h1.4M236.1 42h1.4M264.4 42h1.4M272.5 42h1.4M222.6 43.3h1.4M227.9 43.3h1.4M244.2 43.3h1.4M267.1 43.3h1.4M214.4 44.7h1.4M217.2 44.7h1.4M227.9 44.7h1.4M240.1 44.7h1.4M272.5 44.7h1.4M210.4 46h1.4M221.2 46h1.4M241.4 46h1.4M226.6 47.4h1.4M230.7 47.4h1.4M244.2 47.4h1.4M246.8 47.4h1.4M273.9 47.4h1.4M211.8 48.7h1.4M240.1 48.7h2.7M244.2 48.7h1.4M209.1 50.1h1.4M218.5 51.4h1.4M230.7 51.4h1.4M234.7 52.8h1.4M240.1 52.8h1.4M264.4 52.8h1.4M275.2 52.8h1.4M236.1 55.5h1.4M244.2 55.5h1.4M222.6 56.8h1.4M234.7 56.8h1.4M248.2 56.8h1.4M265.8 56.8h1.4M279.2 56.8h1.4M277.9 58.2h1.4M218.5 59.5h1.4M229.3 59.5h4.1M280.6 59.5h1.4M236.1 60.9h1.4M230.7 62.2h1.4M245.5 62.2h1.4M269.8 62.2h1.4M225.2 63.6h1.4M221.2 64.9h1.4M226.6 64.9h1.4M237.4 64.9h1.4M283.3 66.3h1.4M248.2 67.6h1.4M225.2 69h1.4M227.9 69h1.4M236.1 69h1.4M238.8 69h1.4M259 69h1.4M225.2 70.3h1.4M227.9 70.3h1.4M230.7 70.3h1.4M237.4 70.3h1.4M269.8 71.7h1.4M273.9 71.7h1.4M226.6 74.4h1.4M230.7 74.4h1.4M267.1 74.4h1.4M272.5 74.4h1.4M238.8 75.7h1.4M245.5 75.7h1.4M250.9 75.7h2.7M254.9 75.7h1.4M260.4 75.7h1.4M229.3 77.1h1.4M241.4 77.1h1.4M245.5 77.1h1.4M265.8 77.1h1.4M269.8 77.1h1.4M267.1 78.4h1.4M269.8 78.4h1.4M225.2 79.8h2.7M232 79.8h1.4M240.1 79.8h1.4M249.6 79.8h1.4M264.4 79.8h1.4M227.9 81.1h1.4M230.7 81.1h1.4M233.3 81.1h1.4M237.4 81.1h1.4M237.4 82.5h1.4M234.7 83.8h1.4M261.7 83.8h1.4M261.7 85.2h1.4M271.1 85.2h1.4M218.5 86.5h1.4M234.7 86.5h1.4M268.4 86.5h1.4M271.1 86.5h1.4M234.7 87.9h1.4M240.1 87.9h1.4M268.4 87.9h1.4M234.7 89.2h1.4M237.4 89.2h1.4M241.4 89.2h1.4M245.5 89.2h1.4M241.4 90.6h2.7M259 94.6h1.4" fill="none" stroke="#5eb4b8" stroke-width="1.4"/>
<path d="M237.4 17.7h1.4M236.1 19h1.4M237.4 21.7h1.4M246.8 21.7h1.4M234.7 23.1h1.4M242.8 23.1h1.4M261.7 23.1h1.4M254.9 24.4h1.4M267.1 24.4h1.4M223.9 25.8h2.7M234.7 25.8h1.4M268.4 25.8h1.4M221.2 27.1h1.4M232 27.1h1.4M249.6 27.1h1.4M261.7 27.1h1.4M213.1 29.8h1.4M222.6 29.8h2.7M240.1 29.8h1.4M244.2 29.8h1.4M250.9 29.8h4.1M257.6 29.8h1.4M214.4 31.2h1.4M227.9 31.2h1.4M249.6 31.2h2.7M213.1 32.5h1.4M221.2 32.5h1.4M223.9 32.5h2.7M230.7 32.5h1.4M242.8 32.5h1.4M248.2 32.5h1.4M250.9 32.5h1.4M253.6 32.5h1.4M273.9 32.5h1.4M223.9 33.9h1.4M229.3 33.9h2.7M248.2 33.9h2.7M252.2 33.9h1.4M261.7 33.9h2.7M215.8 35.2h2.7M222.6 35.2h2.7M249.6 35.2h1.4M254.9 35.2h1.4M261.7 35.2h1.4M240.1 36.6h1.4M249.6 36.6h1.4M257.6 36.6h1.4M272.5 36.6h1.4M275.2 36.6h1.4M279.2 36.6h1.4M218.5 37.9h1.4M225.2 37.9h2.7M230.7 37.9h5.4M237.4 37.9h1.4M248.2 37.9h1.4M257.6 37.9h1.4M229.3 39.3h2.7M245.5 39.3h1.4M261.7 39.3h1.4M272.5 39.3h1.4M280.6 39.3h1.4M222.6 40.6h1.4M226.6 40.6h1.4M254.9 40.6h1.4M263.1 40.6h2.7M219.8 42h1.4M223.9 42h1.4M241.4 42h1.4M277.9 42h1.4M207.7 43.3h2.7M256.3 43.3h1.4M260.4 43.3h1.4M277.9 43.3h1.4M219.8 44.7h1.4M223.9 44.7h1.4M259 44.7h1.4M268.4 44.7h1.4M283.3 44.7h1.4M240.1 46h1.4M242.8 46h1.4M254.9 46h1.4M284.6 46h1.4M218.5 47.4h1.4M225.2 47.4h1.4M232 47.4h1.4M245.5 47.4h1.4M253.6 47.4h1.4M236.1 48.7h1.4M210.4 50.1h1.4M222.6 50.1h2.7M226.6 50.1h1.4M237.4 50.1h1.4M240.1 50.1h1.4M260.4 50.1h1.4M205 51.4h1.4M211.8 51.4h1.4M225.2 51.4h1.4M229.3 51.4h1.4M233.3 51.4h1.4M263.1 51.4h1.4M283.3 51.4h1.4M213.1 52.8h1.4M217.2 52.8h1.4M222.6 52.8h1.4M225.2 52.8h1.4M267.1 52.8h1.4M214.4 54.1h2.7M229.3 54.1h1.4M236.1 54.1h1.4M245.5 54.1h1.4M253.6 54.1h1.4M280.6 54.1h1.4M206.3 55.5h1.4M210.4 55.5h1.4M219.8 55.5h1.4M222.6 55.5h1.4M225.2 55.5h1.4M230.7 55.5h1.4M261.7 55.5h1.4M279.2 55.5h1.4M286 55.5h1.4M206.3 56.8h1.4M218.5 56.8h1.4M223.9 56.8h1.4M226.6 56.8h2.7M238.8 56.8h1.4M249.6 56.8h1.4M263.1 56.8h1.4M222.6 58.2h1.4M245.5 58.2h1.4M261.7 58.2h1.4M265.8 58.2h1.4M276.6 58.2h1.4M284.6 58.2h1.4M209.1 59.5h1.4M219.8 59.5h1.4M256.3 59.5h1.4M277.9 59.5h1.4M223.9 60.9h1.4M229.3 60.9h1.4M259 60.9h1.4M206.3 62.2h1.4M215.8 62.2h1.4M225.2 62.2h1.4M248.2 62.2h2.7M259 62.2h2.7M263.1 62.2h2.7M273.9 62.2h1.4M213.1 63.6h1.4M244.2 63.6h1.4M261.7 63.6h1.4M268.4 63.6h1.4M273.9 63.6h1.4M284.6 63.6h1.4M257.6 64.9h2.7M263.1 64.9h1.4M272.5 64.9h1.4M279.2 64.9h1.4M223.9 66.3h1.4M265.8 66.3h1.4M273.9 66.3h1.4M221.2 67.6h1.4M232 67.6h1.4M241.4 67.6h1.4M244.2 67.6h1.4M252.2 67.6h1.4M261.7 67.6h1.4M264.4 67.6h1.4M210.4 69h1.4M234.7 69h1.4M246.8 69h1.4M252.2 69h1.4M265.8 69h2.7M271.1 69h1.4M273.9 69h1.4M283.3 69h1.4M232 70.3h1.4M241.4 70.3h1.4M246.8 70.3h1.4M252.2 70.3h1.4M264.4 70.3h1.4M276.6 70.3h1.4M283.3 70.3h1.4M206.3 71.7h2.7M214.4 71.7h1.4M234.7 71.7h1.4M245.5 71.7h1.4M249.6 71.7h1.4M265.8 71.7h4.1M271.1 71.7h1.4M276.6 71.7h1.4M281.9 71.7h1.4M210.4 73h1.4M234.7 73h1.4M279.2 73h1.4M210.4 74.4h1.4M214.4 74.4h1.4M265.8 74.4h1.4M213.1 75.7h1.4M249.6 75.7h1.4M256.3 75.7h1.4M279.2 75.7h1.4M240.1 77.1h1.4M275.2 77.1h1.4M225.2 78.4h1.4M234.7 78.4h1.4M238.8 78.4h1.4M242.8 78.4h4.1M275.2 78.4h1.4M221.2 79.8h1.4M241.4 79.8h1.4M244.2 79.8h1.4M256.3 79.8h1.4M265.8 79.8h1.4M232 81.1h1.4M246.8 81.1h4.1M232 82.5h1.4M234.7 82.5h1.4M241.4 82.5h1.4M257.6 82.5h1.4M277.9 82.5h1.4M246.8 83.8h1.4M249.6 83.8h1.4M267.1 83.8h1.4M221.2 85.2h1.4M226.6 85.2h2.7M232 85.2h1.4M249.6 85.2h1.4M252.2 85.2h1.4M232 86.5h1.4M241.4 86.5h1.4M245.5 86.5h2.7M254.9 86.5h1.4M222.6 87.9h2.7M232 87.9h1.4M265.8 87.9h1.4M221.2 89.2h1.4M230.7 89.2h1.4M233.3 91.9h1.4M249.6 91.9h1.4M261.7 91.9h1.4M229.3 93.3h1.4M234.7 93.3h1.4M250.9 93.3h1.4M259 93.3h1.4M244.2 96h1.4" fill="none" stroke="#c86868" stroke-width="1.4"/>
<path d="M238.8 17.7h1.4M241.4 17.7h1.4M253.6 19h1.4M256.3 19h1.4M226.6 20.4h1.4M233.3 20.4h1.4M250.9 20.4h1.4M253.6 20.4h1.4M238.8 21.7h1.4M244.2 21.7h2.7M248.2 21.7h1.4M250.9 21.7h1.4M264.4 21.7h1.4M222.6 23.1h1.4M229.3 23.1h1.4M245.5 23.1h1.4M249.6 23.1h1.4M244.2 24.4h1.4M246.8 25.8h1.4M250.9 25.8h1.4M253.6 25.8h1.4M256.3 25.8h1.4M218.5 27.1h1.4M244.2 27.1h5.4M253.6 27.1h1.4M263.1 27.1h1.4M227.9 28.5h1.4M246.8 28.5h1.4M250.9 28.5h2.7M257.6 28.5h1.4M249.6 29.8h1.4M259 29.8h2.7M232 31.2h1.4M252.2 31.2h1.4M272.5 31.2h1.4M254.9 32.5h1.4M272.5 32.5h1.4M221.2 33.9h1.4M242.8 33.9h1.4M245.5 33.9h1.4M256.3 33.9h1.4M273.9 33.9h1.4M227.9 35.2h1.4M250.9 35.2h1.4M245.5 36.6h1.4M276.6 36.6h1.4M245.5 37.9h1.4M250.9 37.9h1.4M254.9 37.9h1.4M280.6 37.9h1.4M242.8 39.3h1.4M273.9 39.3h1.4M209.1 40.6h1.4M215.8 40.6h1.4M259 40.6h1.4M209.1 42h1.4M218.5 42h1.4M229.3 42h1.4M219.8 43.3h1.4M237.4 43.3h1.4M221.2 44.7h1.4M246.8 44.7h1.4M276.6 44.7h1.4M280.6 44.7h1.4M207.7 46h1.4M246.8 46h1.4M260.4 46h1.4M276.6 46h1.4M240.1 47.4h1.4M250.9 47.4h1.4M254.9 47.4h1.4M257.6 47.4h1.4M280.6 47.4h1.4M219.8 48.7h1.4M205 50.1h1.4M218.5 50.1h1.4M227.9 50.1h1.4M241.4 50.1h1.4M249.6 50.1h1.4M254.9 50.1h1.4M271.1 50.1h1.4M283.3 50.1h1.4M206.3 51.4h1.4M238.8 51.4h1.4M276.6 51.4h2.7M205 52.8h1.4M215.8 52.8h1.4M226.6 52.8h1.4M229.3 52.8h1.4M244.2 52.8h2.7M252.2 52.8h1.4M260.4 52.8h1.4M269.8 52.8h1.4M272.5 52.8h1.4M281.9 52.8h1.4M226.6 54.1h1.4M232 54.1h1.4M260.4 54.1h1.4M279.2 54.1h1.4M223.9 55.5h1.4M227.9 55.5h1.4M241.4 55.5h1.4M245.5 55.5h1.4M259 55.5h1.4M277.9 55.5h1.4M283.3 55.5h1.4M225.2 56.8h1.4M242.8 56.8h1.4M267.1 56.8h1.4M284.6 56.8h2.7M214.4 58.2h1.4M218.5 58.2h1.4M221.2 58.2h1.4M257.6 58.2h1.4M241.4 60.9h1.4M244.2 60.9h1.4M248.2 60.9h1.4M261.7 60.9h1.4M256.3 62.2h1.4M267.1 62.2h1.4M205 63.6h1.4M207.7 64.9h1.4M210.4 64.9h1.4M236.1 64.9h1.4M210.4 66.3h1.4M219.8 66.3h1.4M236.1 66.3h1.4M257.6 66.3h1.4M268.4 66.3h1.4M219.8 67.6h1.4M230.7 67.6h1.4M250.9 67.6h1.4M256.3 67.6h1.4M207.7 69h1.4M211.8 69h1.4M240.1 69h1.4M277.9 69h1.4M214.4 70.3h1.4M238.8 70.3h1.4M245.5 70.3h1.4M254.9 70.3h1.4M280.6 70.3h1.4M227.9 71.7h1.4M236.1 71.7h1.4M244.2 71.7h1.4M248.2 71.7h1.4M279.2 71.7h1.4M207.7 73h1.4M242.8 74.4h1.4M264.4 74.4h1.4M280.6 74.4h2.7M227.9 75.7h1.4M236.1 75.7h1.4M261.7 75.7h1.4M275.2 75.7h1.4M225.2 77.1h1.4M232 77.1h1.4M234.7 77.1h1.4M248.2 77.1h1.4M256.3 77.1h1.4M268.4 77.1h1.4M281.9 77.1h1.4M222.6 78.4h1.4M236.1 78.4h1.4M254.9 78.4h1.4M259 78.4h2.7M268.4 78.4h1.4M279.2 78.4h1.4M257.6 81.1h1.4M261.7 81.1h1.4M267.1 81.1h1.4M272.5 81.1h1.4M223.9 82.5h2.7M269.8 82.5h1.4M219.8 83.8h1.4M222.6 83.8h1.4M242.8 83.8h1.4M260.4 83.8h1.4M271.1 83.8h1.4M222.6 85.2h1.4M253.6 85.2h1.4M264.4 85.2h1.4M272.5 85.2h1.4M222.6 86.5h1.4M244.2 86.5h1.4M257.6 86.5h2.7M265.8 86.5h1.4M269.8 86.5h1.4M273.9 86.5h1.4M217.2 87.9h1.4M260.4 87.9h2.7M222.6 89.2h1.4M260.4 89.2h1.4M271.1 89.2h1.4M246.8 90.6h2.7M265.8 90.6h1.4M252.2 91.9h1.4M257.6 91.9h2.7M265.8 91.9h1.4M230.7 93.3h1.4M245.5 93.3h1.4M253.6 93.3h1.4M257.6 93.3h1.4M248.2 94.6h1.4M260.4 94.6h1.4" fill="none" stroke="#8488b8" stroke-width="1.4"/>
<path d="M240.1 17.7h1.4M233.3 19h1.4M238.8 19h1.4M250.9 19h1.4M232 20.4h1.4M248.2 20.4h1.4M256.3 20.4h1.4M259 20.4h1.4M225.2 21.7h1.4M253.6 21.7h1.4M221.2 23.1h1.4M223.9 23.1h1.4M227.9 23.1h1.4M219.8 24.4h1.4M237.4 24.4h1.4M241.4 24.4h1.4M215.8 25.8h1.4M219.8 25.8h1.4M222.6 25.8h1.4M229.3 25.8h2.7M244.2 25.8h2.7M257.6 25.8h1.4M233.3 27.1h1.4M240.1 27.1h1.4M254.9 27.1h1.4M259 27.1h1.4M218.5 28.5h1.4M221.2 28.5h1.4M225.2 28.5h1.4M230.7 28.5h1.4M233.3 28.5h1.4M240.1 28.5h1.4M245.5 28.5h1.4M217.2 29.8h1.4M229.3 29.8h1.4M267.1 29.8h1.4M217.2 31.2h1.4M236.1 31.2h1.4M244.2 31.2h1.4M256.3 31.2h1.4M259 31.2h1.4M271.1 31.2h1.4M275.2 31.2h1.4M214.4 32.5h1.4M227.9 32.5h1.4M252.2 32.5h1.4M269.8 32.5h1.4M275.2 32.5h1.4M215.8 33.9h1.4M236.1 33.9h1.4M275.2 33.9h1.4M209.1 35.2h1.4M213.1 35.2h1.4M234.7 35.2h1.4M237.4 35.2h1.4M257.6 35.2h1.4M260.4 35.2h1.4M271.1 35.2h1.4M276.6 35.2h2.7M209.1 36.6h1.4M218.5 36.6h1.4M230.7 36.6h1.4M269.8 36.6h2.7M273.9 36.6h1.4M207.7 37.9h1.4M213.1 37.9h1.4M215.8 37.9h1.4M229.3 37.9h1.4M260.4 37.9h2.7M271.1 37.9h1.4M275.2 37.9h2.7M210.4 39.3h1.4M217.2 39.3h2.7M226.6 39.3h1.4M232 39.3h1.4M234.7 39.3h1.4M244.2 39.3h1.4M269.8 39.3h1.4M275.2 39.3h1.4M210.4 40.6h2.7M232 40.6h2.7M256.3 40.6h1.4M261.7 40.6h1.4M271.1 40.6h1.4M280.6 40.6h1.4M206.3 42h2.7M210.4 42h1.4M232 42h1.4M271.1 42h1.4M279.2 42h1.4M211.8 43.3h1.4M225.2 43.3h1.4M234.7 43.3h1.4M249.6 43.3h2.7M264.4 43.3h1.4M273.9 43.3h2.7M279.2 43.3h1.4M213.1 44.7h1.4M215.8 44.7h1.4M225.2 44.7h1.4M234.7 44.7h1.4M253.6 44.7h1.4M260.4 44.7h1.4M271.1 44.7h1.4M277.9 44.7h1.4M213.1 46h1.4M217.2 46h2.7M234.7 46h1.4M245.5 46h1.4M261.7 46h1.4M269.8 46h1.4M272.5 46h1.4M205 47.4h1.4M213.1 47.4h2.7M221.2 47.4h1.4M233.3 47.4h1.4M248.2 47.4h1.4M256.3 47.4h1.4M268.4 47.4h1.4M279.2 47.4h1.4M281.9 47.4h1.4M214.4 48.7h2.7M226.6 48.7h1.4M245.5 48.7h1.4M261.7 48.7h1.4M275.2 48.7h1.4M277.9 48.7h1.4M281.9 48.7h1.4M214.4 50.1h2.7M245.5 50.1h2.7M276.6 50.1h4.1M213.1 51.4h1.4M217.2 51.4h1.4M234.7 51.4h2.7M248.2 51.4h1.4M269.8 51.4h1.4M272.5 51.4h1.4M281.9 51.4h1.4M218.5 52.8h1.4M238.8 52.8h1.4M277.9 52.8h1.4M280.6 52.8h1.4M217.2 54.1h2.7M223.9 54.1h1.4M230.7 54.1h1.4M261.7 54.1h1.4M268.4 54.1h1.4M272.5 54.1h1.4M277.9 54.1h1.4M213.1 55.5h1.4M218.5 55.5h1.4M226.6 55.5h1.4M229.3 55.5h1.4M256.3 55.5h2.7M267.1 55.5h1.4M284.6 55.5h1.4M209.1 56.8h1.4M214.4 56.8h1.4M217.2 56.8h1.4M273.9 56.8h1.4M281.9 56.8h1.4M217.2 58.2h1.4M223.9 58.2h1.4M227.9 58.2h1.4M260.4 58.2h1.4M264.4 58.2h1.4M279.2 58.2h5.4M207.7 59.5h1.4M223.9 59.5h1.4M241.4 59.5h1.4M246.8 59.5h2.7M254.9 59.5h1.4M261.7 59.5h1.4M283.3 59.5h2.7M209.1 60.9h1.4M249.6 60.9h1.4M256.3 60.9h1.4M263.1 60.9h2.7M268.4 60.9h1.4M211.8 62.2h1.4M219.8 62.2h1.4M242.8 62.2h1.4M283.3 62.2h1.4M227.9 63.6h1.4M234.7 63.6h2.7M240.1 63.6h1.4M245.5 63.6h1.4M248.2 63.6h1.4M256.3 63.6h2.7M263.1 63.6h1.4M283.3 63.6h1.4M206.3 64.9h1.4M223.9 64.9h1.4M244.2 64.9h1.4M248.2 64.9h2.7M260.4 64.9h1.4M264.4 64.9h1.4M234.7 66.3h1.4M245.5 66.3h1.4M249.6 66.3h1.4M259 66.3h6.8M222.6 67.6h2.7M229.3 67.6h1.4M234.7 67.6h1.4M242.8 67.6h1.4M257.6 67.6h1.4M263.1 67.6h1.4M265.8 67.6h2.7M273.9 67.6h1.4M217.2 69h1.4M230.7 69h1.4M233.3 69h1.4M248.2 69h1.4M260.4 69h1.4M275.2 69h1.4M223.9 70.3h1.4M261.7 70.3h2.7M265.8 70.3h1.4M268.4 70.3h1.4M271.1 70.3h1.4M226.6 71.7h1.4M233.3 71.7h1.4M257.6 71.7h1.4M263.1 71.7h2.7M277.9 71.7h1.4M280.6 71.7h1.4M211.8 73h1.4M225.2 73h1.4M229.3 73h4.1M238.8 73h2.7M250.9 73h2.7M254.9 73h2.7M259 73h1.4M263.1 73h1.4M265.8 73h1.4M269.8 73h1.4M280.6 73h1.4M209.1 74.4h1.4M219.8 74.4h1.4M234.7 74.4h2.7M240.1 74.4h1.4M248.2 74.4h1.4M250.9 74.4h1.4M259 74.4h1.4M261.7 74.4h2.7M269.8 74.4h1.4M209.1 75.7h1.4M211.8 75.7h1.4M217.2 75.7h1.4M222.6 75.7h4.1M229.3 75.7h2.7M237.4 75.7h1.4M257.6 75.7h1.4M269.8 75.7h2.7M213.1 77.1h1.4M233.3 77.1h1.4M253.6 77.1h1.4M211.8 78.4h1.4M219.8 78.4h1.4M227.9 78.4h2.7M232 78.4h1.4M249.6 78.4h2.7M256.3 78.4h1.4M263.1 78.4h1.4M272.5 78.4h1.4M276.6 78.4h1.4M218.5 79.8h1.4M233.3 79.8h1.4M245.5 79.8h1.4M261.7 79.8h1.4M273.9 79.8h1.4M217.2 81.1h2.7M245.5 81.1h1.4M260.4 81.1h1.4M269.8 81.1h1.4M277.9 81.1h1.4M218.5 82.5h1.4M227.9 82.5h1.4M249.6 82.5h1.4M254.9 82.5h1.4M265.8 82.5h1.4M275.2 82.5h2.7M221.2 83.8h1.4M226.6 83.8h1.4M233.3 83.8h1.4M244.2 83.8h2.7M263.1 83.8h1.4M268.4 83.8h1.4M272.5 83.8h1.4M275.2 83.8h1.4M229.3 85.2h1.4M236.1 85.2h1.4M240.1 85.2h1.4M245.5 85.2h1.4M256.3 85.2h1.4M260.4 85.2h1.4M265.8 85.2h1.4M273.9 85.2h1.4M217.2 86.5h1.4M225.2 86.5h1.4M233.3 86.5h1.4M260.4 86.5h1.4M226.6 87.9h1.4M253.6 87.9h1.4M264.4 87.9h1.4M271.1 87.9h1.4M236.1 89.2h1.4M238.8 89.2h1.4M261.7 89.2h1.4M234.7 90.6h1.4M237.4 90.6h1.4M244.2 90.6h1.4M249.6 90.6h1.4M253.6 90.6h1.4M227.9 91.9h2.7M234.7 91.9h4.1M241.4 91.9h1.4M244.2 91.9h5.4M256.3 91.9h1.4M240.1 93.3h1.4M246.8 93.3h1.4M249.6 93.3h1.4M256.3 93.3h1.4M237.4 94.6h1.4M241.4 94.6h1.4M244.2 94.6h1.4M249.6 94.6h1.4M241.4 96h1.4" fill="none" stroke="#bcc86c" stroke-width="1.4"/>
<path d="M232 19h1.4M246.8 19h1.4M225.2 20.4h1.4M230.7 20.4h1.4M222.6 21.7h1.4M229.3 21.7h1.4M236.1 21.7h1.4M254.9 21.7h1.4M259 21.7h1.4M233.3 23.1h1.4M236.1 23.1h1.4M244.2 23.1h1.4M226.6 24.4h1.4M230.7 24.4h1.4M233.3 24.4h4.1M217.2 25.8h2.7M227.9 25.8h1.4M237.4 25.8h1.4M260.4 25.8h1.4M217.2 27.1h1.4M219.8 27.1h1.4M225.2 27.1h2.7M252.2 27.1h1.4M257.6 27.1h1.4M260.4 27.1h1.4M222.6 28.5h2.7M238.8 28.5h1.4M254.9 28.5h2.7M260.4 28.5h1.4M265.8 28.5h1.4M214.4 29.8h1.4M234.7 29.8h1.4M237.4 29.8h1.4M268.4 29.8h1.4M273.9 29.8h1.4M221.2 31.2h1.4M260.4 31.2h1.4M273.9 31.2h1.4M222.6 32.5h1.4M229.3 32.5h1.4M232 32.5h2.7M237.4 32.5h1.4M271.1 32.5h1.4M276.6 32.5h1.4M213.1 33.9h1.4M217.2 33.9h1.4M267.1 33.9h2.7M211.8 35.2h1.4M214.4 35.2h1.4M244.2 35.2h2.7M259 35.2h1.4M219.8 36.6h1.4M223.9 36.6h1.4M236.1 36.6h1.4M261.7 36.6h1.4M223.9 37.9h1.4M227.9 37.9h1.4M240.1 37.9h1.4M246.8 37.9h1.4M263.1 37.9h1.4M211.8 39.3h1.4M215.8 39.3h1.4M241.4 39.3h1.4M248.2 39.3h1.4M253.6 39.3h1.4M256.3 39.3h4.1M240.1 40.6h1.4M242.8 40.6h2.7M246.8 40.6h2.7M250.9 40.6h2.7M257.6 40.6h1.4M260.4 40.6h1.4M276.6 40.6h1.4M215.8 42h1.4M233.3 42h2.7M237.4 42h1.4M245.5 42h1.4M248.2 42h1.4M250.9 42h2.7M254.9 42h1.4M263.1 42h1.4M281.9 42h1.4M210.4 43.3h1.4M217.2 43.3h1.4M236.1 43.3h1.4M254.9 43.3h1.4M257.6 43.3h1.4M265.8 43.3h1.4M207.7 44.7h2.7M218.5 44.7h1.4M222.6 44.7h1.4M232 44.7h1.4M241.4 44.7h1.4M248.2 44.7h1.4M250.9 44.7h2.7M257.6 44.7h1.4M261.7 44.7h2.7M214.4 46h1.4M230.7 46h1.4M249.6 46h1.4M252.2 46h2.7M256.3 46h1.4M206.3 47.4h1.4M219.8 47.4h1.4M236.1 47.4h1.4M238.8 47.4h1.4M242.8 47.4h1.4M260.4 47.4h1.4M264.4 47.4h1.4M213.1 48.7h1.4M229.3 48.7h1.4M242.8 48.7h1.4M254.9 48.7h4.1M260.4 48.7h1.4M263.1 48.7h1.4M267.1 48.7h1.4M221.2 50.1h1.4M229.3 50.1h1.4M234.7 50.1h1.4M250.9 50.1h1.4M259 50.1h1.4M275.2 50.1h1.4M221.2 51.4h1.4M223.9 51.4h1.4M227.9 51.4h1.4M241.4 51.4h1.4M257.6 51.4h1.4M267.1 51.4h1.4M284.6 51.4h1.4M209.1 52.8h1.4M211.8 52.8h1.4M221.2 52.8h1.4M223.9 52.8h1.4M249.6 52.8h1.4M254.9 52.8h1.4M268.4 52.8h1.4M279.2 52.8h1.4M227.9 54.1h1.4M209.1 55.5h1.4M211.8 55.5h1.4M233.3 55.5h1.4M249.6 55.5h1.4M205 56.8h1.4M246.8 56.8h1.4M252.2 56.8h1.4M268.4 56.8h2.7M272.5 56.8h1.4M209.1 58.2h1.4M229.3 58.2h2.7M246.8 58.2h1.4M272.5 58.2h1.4M206.3 59.5h1.4M221.2 59.5h1.4M225.2 59.5h2.7M236.1 59.5h1.4M244.2 59.5h1.4M252.2 59.5h1.4M263.1 59.5h1.4M268.4 59.5h1.4M271.1 59.5h1.4M281.9 59.5h1.4M207.7 60.9h1.4M230.7 60.9h1.4M237.4 60.9h1.4M267.1 60.9h1.4M284.6 60.9h1.4M223.9 62.2h1.4M227.9 62.2h1.4M233.3 62.2h1.4M252.2 62.2h1.4M275.2 62.2h1.4M279.2 62.2h1.4M219.8 63.6h4.1M226.6 63.6h1.4M230.7 63.6h4.1M250.9 63.6h1.4M272.5 63.6h1.4M275.2 63.6h1.4M279.2 63.6h1.4M218.5 64.9h1.4M225.2 64.9h1.4M229.3 64.9h1.4M261.7 64.9h1.4M271.1 64.9h1.4M211.8 66.3h1.4M217.2 66.3h1.4M221.2 66.3h1.4M225.2 66.3h4.1M233.3 66.3h1.4M250.9 66.3h1.4M267.1 66.3h1.4M271.1 66.3h1.4M275.2 66.3h1.4M279.2 66.3h1.4M210.4 67.6h1.4M213.1 67.6h2.7M217.2 67.6h1.4M226.6 67.6h1.4M233.3 67.6h1.4M238.8 67.6h2.7M269.8 67.6h1.4M275.2 67.6h1.4M206.3 69h1.4M218.5 69h2.7M226.6 69h1.4M264.4 69h1.4M269.8 69h1.4M206.3 70.3h1.4M209.1 70.3h1.4M234.7 70.3h2.7M275.2 70.3h1.4M209.1 71.7h1.4M213.1 71.7h1.4M215.8 71.7h1.4M218.5 71.7h1.4M213.1 73h1.4M253.6 73h1.4M264.4 73h1.4M271.1 73h1.4M275.2 73h4.1M217.2 74.4h1.4M227.9 74.4h1.4M246.8 74.4h1.4M252.2 74.4h1.4M256.3 74.4h1.4M268.4 74.4h1.4M271.1 74.4h1.4M273.9 74.4h2.7M279.2 74.4h1.4M219.8 75.7h2.7M240.1 75.7h1.4M248.2 75.7h1.4M268.4 75.7h1.4M272.5 75.7h1.4M276.6 75.7h1.4M283.3 75.7h1.4M237.4 77.1h1.4M244.2 77.1h1.4M250.9 77.1h1.4M254.9 77.1h1.4M273.9 77.1h1.4M253.6 78.4h1.4M264.4 78.4h1.4M277.9 78.4h1.4M230.7 79.8h1.4M257.6 79.8h1.4M267.1 79.8h1.4M269.8 79.8h1.4M276.6 79.8h1.4M279.2 79.8h1.4M240.1 81.1h1.4M256.3 81.1h1.4M271.1 81.1h1.4M221.2 82.5h1.4M259 82.5h1.4M272.5 82.5h1.4M265.8 83.8h1.4M233.3 85.2h2.7M250.9 85.2h1.4M254.9 85.2h1.4M229.3 86.5h2.7M236.1 86.5h1.4M252.2 86.5h2.7M219.8 87.9h1.4M236.1 87.9h1.4M238.8 87.9h1.4M218.5 89.2h1.4M226.6 89.2h1.4M233.3 89.2h1.4M242.8 89.2h2.7M253.6 89.2h1.4M257.6 89.2h2.7M264.4 89.2h4.1M250.9 90.6h1.4M256.3 90.6h1.4M263.1 90.6h1.4M260.4 91.9h1.4M263.1 91.9h2.7M238.8 93.3h1.4M254.9 93.3h1.4M256.3 94.6h2.7" fill="none" stroke="#d8a060" stroke-width="1.4"/>
<path d="M237.4 19h1.4M240.1 19h2.7M248.2 19h1.4M257.6 19h1.4M229.3 20.4h1.4M234.7 20.4h1.4M246.8 20.4h1.4M260.4 20.4h1.4M242.8 21.7h1.4M252.2 21.7h1.4M257.6 21.7h1.4M232 23.1h1.4M238.8 23.1h1.4M221.2 24.4h1.4M242.8 24.4h1.4M245.5 24.4h1.4M248.2 24.4h1.4M240.1 25.8h1.4M254.9 25.8h1.4M259 25.8h1.4M264.4 25.8h1.4M223.9 27.1h1.4M242.8 27.1h1.4M267.1 27.1h1.4M269.8 27.1h1.4M214.4 28.5h1.4M226.6 28.5h1.4M232 28.5h1.4M236.1 28.5h2.7M241.4 28.5h1.4M261.7 28.5h1.4M264.4 28.5h1.4M215.8 29.8h1.4M227.9 29.8h1.4M236.1 29.8h1.4M245.5 29.8h1.4M263.1 29.8h1.4M269.8 29.8h1.4M215.8 31.2h1.4M222.6 31.2h1.4M229.3 31.2h1.4M233.3 31.2h2.7M240.1 31.2h1.4M254.9 31.2h1.4M257.6 31.2h1.4M261.7 31.2h1.4M268.4 31.2h1.4M217.2 32.5h1.4M234.7 32.5h1.4M238.8 32.5h1.4M268.4 32.5h1.4M232 33.9h4.1M244.2 33.9h1.4M250.9 33.9h1.4M257.6 33.9h1.4M272.5 33.9h1.4M225.2 35.2h1.4M229.3 35.2h2.7M233.3 35.2h1.4M252.2 35.2h1.4M272.5 35.2h4.1M217.2 36.6h1.4M233.3 36.6h1.4M210.4 37.9h1.4M219.8 37.9h1.4M238.8 37.9h1.4M256.3 37.9h1.4M272.5 37.9h1.4M213.1 39.3h2.7M222.6 39.3h1.4M227.9 39.3h1.4M260.4 39.3h1.4M276.6 39.3h1.4M207.7 40.6h1.4M265.8 40.6h1.4M227.9 42h1.4M230.7 42h1.4M249.6 42h1.4M256.3 42h1.4M259 42h2.7M269.8 42h1.4M214.4 43.3h2.7M218.5 43.3h1.4M221.2 43.3h1.4M226.6 43.3h1.4M232 43.3h1.4M238.8 43.3h1.4M280.6 43.3h1.4M210.4 44.7h2.7M230.7 44.7h1.4M236.1 44.7h1.4M249.6 44.7h1.4M206.3 46h1.4M209.1 46h1.4M211.8 46h1.4M219.8 46h1.4M223.9 46h1.4M233.3 46h1.4M238.8 46h1.4M244.2 46h1.4M250.9 46h1.4M277.9 46h1.4M207.7 47.4h2.7M217.2 47.4h1.4M249.6 47.4h1.4M261.7 47.4h1.4M284.6 47.4h1.4M206.3 48.7h4.1M223.9 48.7h1.4M227.9 48.7h1.4M230.7 48.7h1.4M233.3 48.7h1.4M238.8 48.7h1.4M264.4 48.7h1.4M211.8 50.1h2.7M219.8 50.1h1.4M207.7 51.4h1.4M219.8 51.4h1.4M246.8 51.4h1.4M265.8 51.4h1.4M273.9 51.4h1.4M279.2 51.4h1.4M206.3 52.8h2.7M210.4 52.8h1.4M214.4 52.8h1.4M230.7 52.8h1.4M233.3 52.8h1.4M236.1 52.8h1.4M250.9 52.8h1.4M256.3 52.8h1.4M265.8 52.8h1.4M207.7 54.1h2.7M221.2 54.1h2.7M225.2 54.1h1.4M242.8 54.1h1.4M252.2 54.1h1.4M263.1 54.1h1.4M276.6 54.1h1.4M281.9 54.1h1.4M286 54.1h1.4M205 55.5h1.4M207.7 55.5h1.4M263.1 55.5h2.7M280.6 55.5h2.7M232 56.8h1.4M237.4 56.8h1.4M240.1 56.8h2.7M245.5 56.8h1.4M253.6 56.8h1.4M264.4 56.8h1.4M280.6 56.8h1.4M205 58.2h4.1M219.8 58.2h1.4M242.8 58.2h1.4M249.6 58.2h1.4M259 58.2h1.4M263.1 58.2h1.4M205 59.5h1.4M210.4 59.5h1.4M217.2 59.5h1.4M222.6 59.5h1.4M249.6 59.5h1.4M265.8 59.5h1.4M275.2 59.5h1.4M279.2 59.5h1.4M286 59.5h1.4M206.3 60.9h1.4M210.4 60.9h1.4M213.1 60.9h1.4M226.6 60.9h2.7M242.8 60.9h1.4M279.2 60.9h2.7M234.7 62.2h1.4M209.1 63.6h1.4M241.4 63.6h1.4M254.9 63.6h1.4M267.1 63.6h1.4M217.2 64.9h1.4M227.9 64.9h1.4M234.7 64.9h1.4M241.4 64.9h1.4M245.5 64.9h2.7M237.4 66.3h1.4M248.2 66.3h1.4M253.6 66.3h1.4M246.8 67.6h1.4M259 67.6h1.4M272.5 67.6h1.4M222.6 69h2.7M232 69h1.4M272.5 69h1.4M211.8 70.3h1.4M217.2 70.3h1.4M219.8 70.3h1.4M249.6 70.3h2.7M223.9 71.7h1.4M230.7 71.7h1.4M250.9 71.7h1.4M275.2 71.7h1.4M214.4 73h2.7M218.5 73h1.4M222.6 73h1.4M227.9 73h1.4M233.3 73h1.4M237.4 73h1.4M273.9 73h1.4M213.1 74.4h1.4M222.6 74.4h1.4M245.5 74.4h1.4M257.6 74.4h1.4M215.8 75.7h1.4M253.6 75.7h1.4M277.9 75.7h1.4M210.4 77.1h1.4M215.8 77.1h1.4M227.9 77.1h1.4M249.6 77.1h1.4M271.1 77.1h2.7M276.6 77.1h1.4M213.1 78.4h1.4M230.7 78.4h1.4M237.4 78.4h1.4M241.4 78.4h1.4M223.9 79.8h1.4M227.9 79.8h1.4M234.7 79.8h4.1M272.5 79.8h1.4M275.2 79.8h1.4M223.9 81.1h1.4M229.3 81.1h1.4M238.8 81.1h1.4M242.8 81.1h2.7M275.2 81.1h2.7M226.6 82.5h1.4M242.8 82.5h1.4M261.7 82.5h2.7M267.1 82.5h1.4M271.1 82.5h1.4M273.9 82.5h1.4M230.7 83.8h2.7M236.1 83.8h1.4M240.1 83.8h2.7M273.9 83.8h1.4M217.2 85.2h1.4M219.8 85.2h1.4M225.2 85.2h1.4M230.7 85.2h1.4M257.6 85.2h1.4M263.1 85.2h1.4M267.1 85.2h4.1M240.1 86.5h1.4M267.1 86.5h1.4M272.5 86.5h1.4M242.8 87.9h1.4M263.1 87.9h1.4M267.1 87.9h1.4M269.8 87.9h1.4M272.5 87.9h1.4M250.9 89.2h1.4M268.4 89.2h1.4M229.3 90.6h2.7M233.3 90.6h1.4M238.8 90.6h1.4M268.4 90.6h1.4M230.7 91.9h1.4M232 93.3h1.4" fill="none" stroke="#cc8cc0" stroke-width="1.4"/>
<path d="M244.2 19h1.4M236.1 20.4h1.4M246.8 23.1h1.4M249.6 24.4h1.4M260.4 24.4h1.4M265.8 24.4h1.4M232 25.8h1.4M215.8 27.1h1.4M237.4 27.1h1.4M234.7 28.5h1.4M232 29.8h1.4M241.4 29.8h1.4M211.8 31.2h1.4M230.7 31.2h1.4M236.1 32.5h1.4M246.8 32.5h1.4M259 32.5h2.7M218.5 35.2h1.4M214.4 36.6h1.4M252.2 36.6h1.4M254.9 36.6h1.4M233.3 39.3h1.4M277.9 39.3h1.4M214.4 40.6h1.4M234.7 40.6h1.4M241.4 40.6h1.4M245.5 43.3h1.4M245.5 44.7h1.4M276.6 47.4h1.4M283.3 47.4h1.4M249.6 48.7h1.4M207.7 50.1h1.4M253.6 50.1h1.4M261.7 51.4h1.4M268.4 51.4h1.4M271.1 51.4h1.4M280.6 51.4h1.4M210.4 54.1h1.4M265.8 54.1h1.4M283.3 54.1h1.4M254.9 55.5h1.4M210.4 58.2h1.4M276.6 59.5h1.4M214.4 60.9h1.4M276.6 60.9h1.4M211.8 63.6h1.4M259 63.6h2.7M269.8 63.6h1.4M276.6 63.6h1.4M214.4 64.9h1.4M241.4 66.3h1.4M236.1 67.6h1.4M253.6 67.6h1.4M279.2 67.6h1.4M242.8 69h1.4M250.9 69h1.4M259 70.3h1.4M232 71.7h1.4M237.4 71.7h1.4M241.4 71.7h1.4M236.1 73h1.4M246.8 73h1.4M229.3 74.4h1.4M263.1 75.7h1.4M265.8 75.7h2.7M252.2 77.1h1.4M233.3 78.4h1.4M261.7 78.4h1.4M211.8 79.8h1.4M241.4 81.1h1.4M259 81.1h1.4M245.5 82.5h1.4M252.2 83.8h1.4M257.6 83.8h1.4M215.8 85.2h1.4M223.9 85.2h1.4M241.4 85.2h1.4M259 85.2h1.4M221.2 87.9h1.4M233.3 87.9h1.4M225.2 89.2h1.4M227.9 90.6h1.4M254.9 90.6h1.4M257.6 90.6h1.4M269.8 90.6h1.4M227.9 93.3h1.4M236.1 93.3h1.4M261.7 93.3h1.4" fill="none" stroke="#927050" stroke-width="1.4"/>
<path d="M257.6 20.4h1.4M249.6 21.7h1.4M218.5 23.1h1.4M248.2 23.1h1.4M252.2 23.1h5.4M264.4 23.1h1.4M238.8 24.4h2.7M250.9 24.4h4.1M263.1 24.4h1.4M236.1 25.8h1.4M238.8 25.8h1.4M241.4 25.8h2.7M248.2 25.8h2.7M252.2 25.8h1.4M261.7 25.8h1.4M267.1 25.8h1.4M269.8 25.8h1.4M236.1 27.1h1.4M256.3 27.1h1.4M265.8 27.1h1.4M242.8 28.5h2.7M248.2 28.5h1.4M272.5 28.5h1.4M218.5 29.8h1.4M238.8 29.8h1.4M256.3 29.8h1.4M261.7 29.8h1.4M272.5 29.8h1.4M219.8 31.2h1.4M242.8 31.2h1.4M248.2 31.2h1.4M265.8 31.2h1.4M215.8 32.5h1.4M218.5 32.5h1.4M249.6 32.5h1.4M256.3 32.5h2.7M210.4 33.9h2.7M214.4 33.9h1.4M238.8 33.9h1.4M241.4 33.9h1.4M253.6 33.9h1.4M260.4 33.9h1.4M210.4 35.2h1.4M232 35.2h1.4M236.1 35.2h1.4M241.4 35.2h1.4M248.2 35.2h1.4M253.6 35.2h1.4M210.4 36.6h2.7M215.8 36.6h1.4M222.6 36.6h1.4M237.4 36.6h2.7M248.2 36.6h1.4M250.9 36.6h1.4M256.3 36.6h1.4M277.9 36.6h1.4M209.1 37.9h1.4M214.4 37.9h1.4M236.1 37.9h1.4M252.2 37.9h1.4M259 37.9h1.4M236.1 39.3h1.4M249.6 39.3h1.4M227.9 40.6h2.7M253.6 40.6h1.4M272.5 40.6h1.4M213.1 42h1.4M238.8 42h1.4M242.8 42h2.7M213.1 43.3h1.4M229.3 43.3h2.7M242.8 43.3h1.4M259 43.3h1.4M263.1 43.3h1.4M272.5 43.3h1.4M267.1 44.7h1.4M269.8 44.7h1.4M227.9 46h2.7M257.6 46h2.7M271.1 46h1.4M279.2 46h2.7M283.3 46h1.4M210.4 47.4h1.4M227.9 47.4h2.7M259 47.4h1.4M275.2 47.4h1.4M205 48.7h1.4M210.4 48.7h1.4M232 48.7h1.4M234.7 48.7h1.4M253.6 48.7h1.4M265.8 48.7h1.4M271.1 48.7h1.4M279.2 48.7h1.4M284.6 48.7h1.4M206.3 50.1h1.4M225.2 50.1h1.4M232 50.1h1.4M265.8 50.1h1.4M284.6 50.1h1.4M209.1 51.4h2.7M226.6 51.4h1.4M244.2 51.4h1.4M256.3 51.4h1.4M260.4 51.4h1.4M219.8 52.8h1.4M237.4 52.8h1.4M241.4 52.8h1.4M253.6 52.8h1.4M259 52.8h1.4M273.9 52.8h1.4M205 54.1h1.4M233.3 54.1h2.7M244.2 54.1h1.4M271.1 54.1h1.4M275.2 54.1h1.4M284.6 54.1h1.4M215.8 55.5h2.7M232 55.5h1.4M272.5 55.5h1.4M210.4 56.8h1.4M221.2 56.8h1.4M230.7 56.8h1.4M233.3 56.8h1.4M236.1 56.8h1.4M250.9 56.8h1.4M277.9 56.8h1.4M283.3 56.8h1.4M211.8 58.2h1.4M215.8 58.2h1.4M232 58.2h1.4M234.7 58.2h2.7M238.8 58.2h1.4M248.2 58.2h1.4M267.1 58.2h2.7M271.1 58.2h1.4M273.9 58.2h2.7M286 58.2h1.4M213.1 59.5h2.7M233.3 59.5h2.7M273.9 59.5h1.4M217.2 60.9h1.4M219.8 60.9h2.7M225.2 60.9h1.4M232 60.9h4.1M269.8 60.9h6.8M277.9 60.9h1.4M281.9 60.9h2.7M210.4 62.2h1.4M217.2 62.2h2.7M222.6 62.2h1.4M226.6 62.2h1.4M229.3 62.2h1.4M232 62.2h1.4M238.8 62.2h1.4M253.6 62.2h1.4M265.8 62.2h1.4M271.1 62.2h1.4M276.6 62.2h1.4M280.6 62.2h2.7M206.3 63.6h2.7M215.8 63.6h1.4M253.6 63.6h1.4M264.4 63.6h2.7M271.1 63.6h1.4M277.9 63.6h1.4M219.8 64.9h1.4M222.6 64.9h1.4M256.3 64.9h1.4M265.8 64.9h4.1M273.9 64.9h1.4M284.6 64.9h1.4M207.7 66.3h1.4M213.1 66.3h4.1M218.5 66.3h1.4M222.6 66.3h1.4M232 66.3h1.4M252.2 66.3h1.4M254.9 66.3h1.4M272.5 66.3h1.4M276.6 66.3h1.4M211.8 67.6h1.4M227.9 67.6h1.4M249.6 67.6h1.4M260.4 67.6h1.4M268.4 67.6h1.4M209.1 69h1.4M213.1 69h1.4M215.8 69h1.4M245.5 69h1.4M249.6 69h1.4M257.6 69h1.4M263.1 69h1.4M279.2 69h1.4M210.4 70.3h1.4M215.8 70.3h1.4M218.5 70.3h1.4M221.2 70.3h1.4M229.3 70.3h1.4M253.6 70.3h1.4M267.1 70.3h1.4M272.5 70.3h1.4M277.9 70.3h1.4M284.6 70.3h1.4M211.8 71.7h1.4M225.2 71.7h1.4M253.6 71.7h1.4M260.4 71.7h1.4M283.3 71.7h1.4M209.1 73h1.4M244.2 73h1.4M272.5 73h1.4M281.9 73h1.4M207.7 74.4h1.4M215.8 74.4h1.4M233.3 74.4h1.4M237.4 74.4h1.4M241.4 74.4h1.4M253.6 74.4h1.4M276.6 74.4h2.7M226.6 75.7h1.4M233.3 75.7h1.4M281.9 75.7h1.4M209.1 77.1h1.4M217.2 77.1h1.4M221.2 77.1h1.4M223.9 77.1h1.4M226.6 77.1h1.4M230.7 77.1h1.4M236.1 77.1h1.4M246.8 77.1h1.4M260.4 77.1h1.4M277.9 77.1h4.1M240.1 78.4h1.4M248.2 78.4h1.4M222.6 79.8h1.4M229.3 79.8h1.4M238.8 79.8h1.4M246.8 79.8h2.7M260.4 79.8h1.4M219.8 81.1h1.4M226.6 81.1h1.4M234.7 81.1h1.4M250.9 81.1h4.1M264.4 81.1h1.4M222.6 82.5h1.4M229.3 82.5h1.4M240.1 82.5h1.4M252.2 82.5h1.4M260.4 82.5h1.4M264.4 82.5h1.4M268.4 82.5h1.4M218.5 83.8h1.4M227.9 83.8h1.4M248.2 83.8h1.4M250.9 83.8h1.4M254.9 83.8h1.4M259 83.8h1.4M264.4 83.8h1.4M276.6 83.8h1.4M218.5 85.2h1.4M237.4 85.2h1.4M242.8 85.2h2.7M275.2 85.2h1.4M215.8 86.5h1.4M219.8 86.5h2.7M223.9 86.5h1.4M227.9 86.5h1.4M237.4 86.5h1.4M249.6 86.5h1.4M256.3 86.5h1.4M261.7 86.5h2.7M218.5 87.9h1.4M227.9 87.9h1.4M230.7 87.9h1.4M252.2 87.9h1.4M254.9 87.9h5.4M223.9 89.2h1.4M229.3 89.2h1.4M252.2 89.2h1.4M254.9 89.2h1.4M269.8 89.2h1.4M222.6 90.6h1.4M232 90.6h1.4M267.1 90.6h1.4M226.6 91.9h1.4M232 91.9h1.4M253.6 91.9h2.7M267.1 91.9h1.4M233.3 93.3h1.4M237.4 93.3h1.4M242.8 93.3h1.4M233.3 94.6h1.4M236.1 94.6h1.4M240.1 94.6h1.4M246.8 94.6h1.4M250.9 94.6h1.4M253.6 94.6h2.7M238.8 96h1.4" fill="none" stroke="#60a070" stroke-width="1.4"/>
<rect x="215.4" y="59.3" width="32" height="20.1" fill="none" stroke="#2a2a2a" stroke-width="0.9"/>
<path d="M215.4 79.4L173 126.7" stroke="#2a2a2a" stroke-width="0.8"/>
<path d="M247.4 79.4L296 126.7" stroke="#2a2a2a" stroke-width="0.8"/>
<text transform="translate(203.4 96)" font-size="7.8">500 μm</text>
<rect x="203.4" y="98.6" width="25.6" height="2.4" fill="#000"/>
<g clip-path="url(#vb)" stroke="#3a403a" stroke-width="0.45" stroke-opacity="0.5">
<path d="M232.2 164.5L233.4 157.8L227.4 153.6L226.4 153.9L224 160.8L229.8 166L230.3 166.1ZM186.2 138.9L190.5 145.4L190.1 147L181.4 148.5L178.6 145L180 140.3ZM267.8 163.1L268.1 162.1L274.3 157.2L280 159.6L280.1 160.1L277.5 164.2L269.2 164.8ZM283 142.4L283.6 133.8L282.9 133L280 133.1L276.7 135.8L276.3 141.9L278.1 143.4ZM223.6 196L216.4 195.5L214.3 192L218.8 186.5L225.3 188.7L225.9 193.7ZM255.4 182.3L255.7 187.6L261.3 190.6L266.3 184.3L266.1 182.9ZM250.5 174.2L246.1 174.5L241.5 168.4L241.7 167.2L246 165.2L252.7 169ZM202.6 205L198.3 209.8L195.1 210.2L192.9 208L193.5 201.2L199 200.5ZM247.6 159.4L245.7 157.1L240.1 159.3L239.8 165.2L241.7 167.2L246 165.2ZM255.5 196.2L251.9 191.8L250.6 191.8L246.8 197.4L247.4 199.8L253.1 202.8L254.6 201.4ZM183.5 129.4L179 124.9L175.7 124.9L172.8 128.2L175.2 134.9L176.3 135.1ZM286.3 205.4L290.9 208.1L297.2 206L297.4 205.8L297.4 205.1L293.3 199.4L286.6 200.1ZM234.8 122.1L237.9 127.4L240.7 127.5L243.3 124.4L241.7 120.3L237.1 119.7ZM177.5 172.7L176.5 170.2L178.8 165.9L183.1 164.2L187 166.2L187.4 170.7L184 174.9L183.1 175.2ZM191.4 149.8L198.8 151.6L200.4 155.1L194.3 161.8L193.6 161.7L189.7 155.8ZM223.3 176.1L224 170.3L219.7 166.8L217.1 167.7L215.4 174.8L219.8 177.1ZM194.4 193.2L192.6 200L186.5 199L186.2 193.2L192.4 190.8ZM210.7 175.3L210.8 175.2L209.8 166.1L204.4 165.4L202.6 174.3L203 174.9ZM254 179.8L254 180.6L246.9 184.2L241.1 180.2L246.1 174.5L250.5 174.2ZM202.3 193.7L206.6 195.9L208.4 201L206.6 204.6L202.6 205L199 200.5L201.7 194ZM246 209.8L252.9 207L254.5 208.8L255.1 214.5L253.7 216.2L246.8 216.7L245.6 210.5ZM262.7 194.7L270 194.4L271.2 198.8L269.1 203.3L263.9 203.4L262.7 202.1ZM293.7 147.1L299.8 142L304.4 147.7L303 152.4L298.3 154.1L296 153.1ZM192.8 217.4L190.2 218.1L185.6 216L184.1 210.4L185.6 207.9L192.9 208L195.1 210.2ZM203.5 214.7L198.3 209.8L195.1 210.2L192.8 217.4L194.5 218.9L202.2 218.7ZM183.7 129.4L187.8 126.6L187.9 120.2L186.9 119.2L181.6 119L179 124.9L183.5 129.4ZM228.2 128.6L224.9 130.7L223.9 134.7L225.4 137.3L232.8 137.6L235.3 134.4L234.4 131.2ZM179.9 154.8L175.1 156.1L173.4 159.6L178.8 165.9L183.1 164.2L182.5 156.8ZM203 174.9L202.6 174.3L196.2 172L194 173.3L192.8 179.8L199.6 183.4L200.3 183.3ZM235.6 180L238.3 179.4L240.3 180.2L239 188.6L235.9 189.7L230.7 185.3ZM261.8 146.5L263.8 152.1L265.1 152.6L270.7 150.3L270.3 142.8L268.1 141.1ZM212.5 191.8L206.6 195.9L202.3 193.7L203 185.8L208 185.2ZM221.2 203.9L223.5 212L219.9 214.6L216.3 213.5L214.4 209.2L217.5 203.9ZM245.6 210.5L246.8 216.7L244.5 220.4L239.9 221.1L237.8 211.4ZM208 185.2L203 185.8L200.3 183.3L203 174.9L210.7 175.3L210.4 182.9ZM219.8 177.1L215.4 174.8L210.8 175.2L210.7 175.3L210.4 182.9L218 184.6ZM225.9 193.7L225.3 188.7L228.3 185.7L230.7 185.3L235.9 189.7L234.5 195.2L231.4 196.4ZM288.1 145.7L283.7 152.8L290.3 157.2L296 153.1L293.7 147.1L288.9 145.5ZM231.4 196.4L234.5 195.2L238.7 197.2L239.5 202.9L236.9 204.9L231.3 203.6ZM249.1 124.7L249.4 124.5L254.4 124.3L257.1 130.6L252.7 135.5L248.1 131.4ZM255.4 182.3L255.7 187.6L251.9 191.8L250.6 191.8L246.8 188.5L246.9 184.2L254 180.6ZM229.8 213.3L230.8 220.4L231.6 221.4L239.8 221.2L239.9 221.1L237.8 211.4L237.6 211.3ZM202.3 193.7L203 185.8L200.3 183.3L199.6 183.4L192.5 190.1L192.4 190.8L194.4 193.2L201.7 194ZM262.7 194.7L262.7 202.1L254.6 201.4L255.5 196.2L261.7 193.9ZM303.5 172.6L303.4 163.6L299.8 162.6L296.9 164.1L295.6 167.3L298.5 172.9ZM279.5 170.1L277.5 164.2L280.1 160.1L286.4 164.1L286.7 169.2L284.1 170.8ZM261.8 146.5L263.8 152.1L256.9 155.7L252.5 150.2L252.4 148.7L259 144.9ZM167.5 127.4L165 121.6L167.2 118.7L173 120.1L175.7 124.9L172.8 128.2ZM190.7 180.6L192.8 179.8L194 173.3L187.4 170.7L184 174.9ZM221.3 121.1L220.5 126.6L214.7 127.4L212.5 121.7L216.9 116.9ZM237.4 172.1L238.3 179.4L240.3 180.2L241.1 180.2L246.1 174.5L241.5 168.4ZM198.8 123.1L204.7 123.4L207.1 130.5L202.8 134.7L201 134.4L197.2 125.9ZM242.4 190.5L246.8 188.5L246.9 184.2L241.1 180.2L240.3 180.2L239 188.6ZM254 179.8L261.6 173.8L261.6 173.8L259.2 169.3L253.6 168.4L252.7 169L250.5 174.2ZM186.5 199L183.1 202.1L185.6 207.9L192.9 208L193.5 201.2L192.6 200ZM280 133.1L276.7 135.8L271.2 134.8L269.3 129.1L273.6 125.6ZM254 179.8L254 180.6L255.4 182.3L266.1 182.9L266.4 182.3L261.6 173.8ZM296 153.1L298.3 154.1L299.8 162.6L296.9 164.1L290.2 160.2L290.3 157.2ZM223.6 196L216.4 195.5L214.6 200.5L217.5 203.9L221.2 203.9L222.9 202.5ZM240.7 127.5L243.4 132.2L248.1 131.4L249.1 124.7L243.3 124.4ZM265.1 152.6L268.1 162.1L274.3 157.2L273.5 151.4L270.7 150.3ZM186.2 138.9L190.5 145.4L195.3 142.1L196.2 136.7L193 134.6L187.1 136.3ZM186.2 193.2L181.8 190.1L179.9 190.7L176.7 196.1L181.3 201.7L183.1 202.1L186.5 199ZM241.2 149.7L242.1 147.3L239.5 142.4L234.6 142.2L231.1 147L231.2 147.7L238.5 150.8ZM252.7 169L246 165.2L247.6 159.4L254.2 160L253.6 168.4ZM295.6 167.3L288.5 169.8L286.7 169.2L286.4 164.1L290.2 160.2L296.9 164.1ZM216.4 195.5L214.3 192L212.5 191.8L206.6 195.9L208.4 201L214.6 200.5ZM236.9 204.9L239.5 202.9L242.9 203.5L246 209.8L245.6 210.5L237.8 211.4L237.6 211.3ZM230 122.3L228.1 119.8L221.3 121.1L220.5 126.6L224.9 130.7L228.2 128.6ZM283.6 152.8L280 159.6L274.3 157.2L273.5 151.4L277.6 149.8ZM240.7 127.5L243.4 132.2L241.3 135.9L235.3 134.4L234.4 131.2L237.9 127.4ZM204 164.9L196.4 164L196.2 172L202.6 174.3L204.4 165.4ZM190.7 180.6L192.8 179.8L199.6 183.4L192.5 190.1L188.6 184ZM222.9 202.5L221.2 203.9L223.5 212L228.5 212.1L230 204.5ZM297.4 205.8L307.1 210.4L302.1 216L297.3 214.6L297.2 206ZM201.7 194L194.4 193.2L192.6 200L193.5 201.2L199 200.5ZM288.1 145.7L283 142.4L283.6 133.8L291 136L288.9 145.5ZM255.2 223.1L258.8 224.3L262 218.7L260.7 215.7L255.1 214.5L253.7 216.2ZM218.8 186.5L214.3 192L212.5 191.8L208 185.2L210.4 182.9L218 184.6ZM183.1 175.2L184 174.9L190.7 180.6L188.6 184L183.9 185.2L181.3 181.3ZM235.6 180L238.3 179.4L237.4 172.1L232.4 170.7L230.2 175.5ZM241.7 120.3L247.1 113.7L249.4 124.5L249.1 124.7L243.3 124.4ZM270.1 169.9L269.2 164.8L277.5 164.2L279.5 170.1L276.6 171.8ZM302.7 188.3L297 188.7L294.7 193.6L295 194.4L302.9 196.3L304 189.3Z" fill="#e0e872"/>
<path d="M286.5 124.6L293.6 129.2L297.6 126.8L298.3 122.7L293.7 118.4L288.1 121.4ZM286.2 182.4L289.9 185.1L294.4 184.6L296.7 180.4L295.2 176.7L292.6 176.1L285.8 181.1ZM286.2 182.4L289.9 185.1L289 191.5L286.7 192.6L281 189.5ZM212.1 164.5L213.7 158.2L208.2 155.3L205.3 156.5L204 164.9L204.4 165.4L209.8 166.1ZM180 140.3L178.6 145L171.6 145.9L170.1 137.6L175.2 134.9L176.3 135.1ZM187.1 136.3L193 134.6L192.4 128.1L187.8 126.6L183.7 129.4ZM223.5 212L228.5 212.1L229.8 213.3L230.8 220.4L221 220.6L219.9 214.6ZM204 164.9L196.4 164L194.3 161.8L200.4 155.1L205.3 156.5ZM190.1 147L191.4 149.8L198.8 151.6L201.6 147.1L201 144.7L195.3 142.1L190.5 145.4ZM286.2 182.4L281 189.5L278.1 190L277 189.5L276.6 180L283.5 179.2L285.8 181.1ZM208.2 155.3L208.6 149.4L201.6 147.1L198.8 151.6L200.4 155.1L205.3 156.5ZM186.2 138.9L180 140.3L176.3 135.1L183.5 129.4L183.7 129.4L187.1 136.3ZM278.1 190L279.7 198.7L285.7 199.1L286.7 192.6L281 189.5ZM247.4 199.8L242.9 203.5L246 209.8L252.9 207L253.1 202.8ZM208.9 140.8L205.6 139.7L201 144.7L201.6 147.1L208.6 149.4L210.2 147.6ZM177.5 172.7L176.5 170.2L169.5 168.5L168.4 169.1L166.9 174.7L173.2 178.2ZM178.8 165.9L176.5 170.2L169.5 168.5L170.7 161.1L173.4 159.6ZM289 191.5L294.7 193.6L297 188.7L294.4 184.6L289.9 185.1ZM285.8 181.1L292.6 176.1L288.5 169.8L286.7 169.2L284.1 170.8L283.5 179.2ZM278.2 204.5L271.8 207.3L269.1 203.3L271.2 198.8L278.8 199.5Z" fill="#f8c892"/>
<path d="M261.6 173.8L269.3 171.3L270.1 169.9L269.2 164.8L267.8 163.1L263.5 163.9L259.2 169.3ZM181.3 181.3L183.9 185.2L181.8 190.1L179.9 190.7L172.3 184.8L173.7 182.1ZM283.5 179.2L284.1 170.8L279.5 170.1L276.6 171.8L276.1 179.7L276.6 180ZM223.6 196L222.9 202.5L230 204.5L231.3 203.6L231.4 196.4L225.9 193.7ZM234.8 122.1L230 122.3L228.2 128.6L234.4 131.2L237.9 127.4ZM278.2 204.5L282.5 208.2L286.3 205.4L286.6 200.1L285.7 199.1L279.7 198.7L278.8 199.5ZM262.7 194.7L270 194.4L272 190.6L266.3 184.3L261.3 190.6L261.7 193.9ZM261.6 173.8L266.4 182.3L270.4 179.4L269.3 171.3L261.6 173.8ZM206.9 232.4L208.5 230.7L206.2 223.7L204.5 223.1L198 227.3L199.8 232.1ZM170.1 137.6L175.2 134.9L172.8 128.2L167.5 127.4L165.2 131.7L168.3 137.1ZM214.4 209.2L208.6 207.8L206.7 213.6L211.5 217.1L216.3 213.5ZM225.4 137.3L232.8 137.6L234.6 142.2L231.1 147L224.8 141.9ZM246.8 197.4L242.1 195.2L242.4 190.5L246.8 188.5L250.6 191.8ZM285 217L285.4 215.2L289.7 213.5L294.8 216.4L293.8 221.9L289 223.7Z" fill="#90e0e8"/>
<path d="M230 226.8L233.3 231.8L239.7 230.2L239.8 221.2L231.6 221.4ZM195.3 142.1L201 144.7L205.6 139.7L202.8 134.7L201 134.4L196.2 136.7ZM247.4 199.8L242.9 203.5L239.5 202.9L238.7 197.2L242.1 195.2L246.8 197.4ZM269.1 203.3L263.9 203.4L261.8 208.3L263.5 211.7L268.2 212.5L271.8 208L271.8 207.3ZM167.7 210.3L173 215.8L174.7 215.4L177.6 211.2L175.9 205.9L171.3 204.6ZM224.9 176.8L230.2 175.5L235.6 180L230.7 185.3L228.3 185.7ZM289 223.7L293.8 221.9L297.5 224.3L297 231.6L296.2 232.3L290.7 231.4L288.3 224.9ZM249.5 225.5L244.5 220.4L246.8 216.7L253.7 216.2L255.2 223.1ZM288.9 145.5L291 136L292.7 135.2L299.6 138.2L300.3 139.5L299.8 142L293.7 147.1ZM253.2 234.2L259.6 229.4L260.1 226.5L258.8 224.3L255.2 223.1L249.5 225.5L249.4 227ZM275.6 219.6L275.1 218.9L269.6 217.6L267.5 219.3L267.2 226L271.1 229.1L271.8 229ZM232.2 164.5L239.8 165.2L241.7 167.2L241.5 168.4L237.4 172.1L232.4 170.7L230.3 166.1ZM278.4 220.5L282.1 226.9L288.3 224.9L289 223.7L285 217ZM275.1 218.9L277 212.8L271.8 208L268.2 212.5L269.6 217.6ZM192.8 217.4L190.2 218.1L187.1 225.4L189.5 229.2L196.3 226.5L194.5 218.9ZM184.1 210.4L177.6 211.2L174.7 215.4L180.5 219.3L185.6 216ZM262.7 202.1L263.9 203.4L261.8 208.3L254.5 208.8L252.9 207L253.1 202.8L254.6 201.4ZM261.7 193.9L261.3 190.6L255.7 187.6L251.9 191.8L255.5 196.2ZM297.2 206L290.9 208.1L289.7 213.5L294.8 216.4L297.3 214.6ZM190.2 218.1L185.6 216L180.5 219.3L180.9 224.3L187.1 225.4ZM189.5 229.2L189.4 229.7L185 232.9L177.2 229.7L177.4 227.7L180.9 224.3L187.1 225.4ZM267.2 226L267.5 219.3L262 218.7L258.8 224.3L260.1 226.5ZM278.2 204.5L282.5 208.2L282 211L277 212.8L271.8 208L271.8 207.3ZM211.1 220.8L206.2 223.7L208.5 230.7L213.3 230.9L217.5 224.9ZM224.9 176.8L228.3 185.7L225.3 188.7L218.8 186.5L218 184.6L219.8 177.1L223.3 176.1ZM285.9 124.9L282.9 133L283.6 133.8L291 136L292.7 135.2L293.6 129.2L286.5 124.6ZM249.4 227L249.5 225.5L244.5 220.4L239.9 221.1L239.8 221.2L239.7 230.2L242.1 232ZM245.7 154.7L252.5 150.2L252.4 148.7L249 144.6L242.1 147.3L241.2 149.7ZM289 191.5L294.7 193.6L295 194.4L293.3 199.4L286.6 200.1L285.7 199.1L286.7 192.6ZM169 221.5L170 221.1L177.4 227.7L177.2 229.7L176.8 230.1L171.4 232.1L167.2 230.3L165.7 226ZM297.6 126.8L302.1 130.7L299.6 138.2L292.7 135.2L293.6 129.2ZM308.9 176.5L303.5 172.6L298.5 172.9L295.2 176.7L296.7 180.4L302.4 181.5ZM230 204.5L228.5 212.1L229.8 213.3L237.6 211.3L236.9 204.9L231.3 203.6ZM263.5 211.7L260.7 215.7L255.1 214.5L254.5 208.8L261.8 208.3ZM206.6 204.6L208.6 207.8L206.7 213.6L203.5 214.7L198.3 209.8L202.6 205ZM303.7 232.3L297 231.6L297.5 224.3L302.8 223L305.8 230.5ZM278.4 220.5L275.6 219.6L275.1 218.9L277 212.8L282 211L285.4 215.2L285 217ZM302.1 216L303.9 221.4L302.8 223L297.5 224.3L293.8 221.9L294.8 216.4L297.3 214.6ZM224 170.3L219.7 166.8L221.5 161.7L224 160.8L229.8 166ZM267.5 219.3L262 218.7L260.7 215.7L263.5 211.7L268.2 212.5L269.6 217.6ZM221 220.6L230.8 220.4L231.6 221.4L230 226.8L223.5 228.6L219.1 224.5ZM202.2 218.7L204.5 223.1L198 227.3L196.3 226.5L194.5 218.9ZM236.3 156.8L233.4 157.8L227.4 153.6L231.2 147.7L238.5 150.8ZM185.6 207.9L183.1 202.1L181.3 201.7L175.9 205.9L177.6 211.2L184.1 210.4ZM234.5 195.2L238.7 197.2L242.1 195.2L242.4 190.5L239 188.6L235.9 189.7ZM224.9 176.8L230.2 175.5L232.4 170.7L230.3 166.1L229.8 166L224 170.3L223.3 176.1ZM282.5 208.2L282 211L285.4 215.2L289.7 213.5L290.9 208.1L286.3 205.4ZM239.5 142.4L241.9 137.8L249.4 140.4L249 144.6L242.1 147.3ZM192.4 128.1L197.2 125.9L201 134.4L196.2 136.7L193 134.6Z" fill="#eeb0ee"/>
<path d="M171.6 145.9L178.6 145L181.4 148.5L179.9 154.8L175.1 156.1L170.7 151.1L170.6 147.1ZM243.4 132.2L241.3 135.9L241.9 137.8L249.4 140.4L252.7 136.9L252.7 135.5L248.1 131.4ZM216.3 213.5L211.5 217.1L211.1 220.8L217.5 224.9L219.1 224.5L221 220.6L219.9 214.6ZM259 144.9L252.4 148.7L249 144.6L249.4 140.4L252.7 136.9L258 140.2ZM214.3 137.6L215 136L212.7 131.2L207.1 130.5L202.8 134.7L205.6 139.7L208.9 140.8ZM245.7 154.7L241.2 149.7L238.5 150.8L236.3 156.8L240.1 159.3L245.7 157.1ZM170.8 203.1L174.9 196.3L176.7 196.1L181.3 201.7L175.9 205.9L171.3 204.6ZM267.8 163.1L268.1 162.1L265.1 152.6L263.8 152.1L256.9 155.7L256.3 158.3L263.5 163.9ZM211.1 220.8L206.2 223.7L204.5 223.1L202.2 218.7L203.5 214.7L206.7 213.6L211.5 217.1ZM283.7 152.8L283.6 152.8L280 159.6L280.1 160.1L286.4 164.1L290.2 160.2L290.3 157.2ZM173 215.8L170 221.1L177.4 227.7L180.9 224.3L180.5 219.3L174.7 215.4ZM285.9 124.9L282.9 133L280 133.1L273.6 125.6L274 124L278.5 122.3ZM254.2 160L256.3 158.3L256.9 155.7L252.5 150.2L245.7 154.7L245.7 157.1L247.6 159.4ZM219.1 146.4L224.8 141.9L231.1 147L231.2 147.7L227.4 153.6L226.4 153.9L219.6 150.5L218.7 147.8ZM181.4 148.5L179.9 154.8L182.5 156.8L189.7 155.8L191.4 149.8L190.1 147ZM295.2 176.7L298.5 172.9L295.6 167.3L288.5 169.8L292.6 176.1ZM263.4 137.1L262.6 130.8L264.6 129L269.3 129.1L271.2 134.8L267.7 139.8ZM288.1 145.7L283 142.4L278.1 143.4L277.6 149.8L283.6 152.8L283.7 152.8ZM224 160.8L226.4 153.9L219.6 150.5L214.4 158L221.5 161.7ZM253.6 168.4L254.2 160L256.3 158.3L263.5 163.9L259.2 169.3ZM268.1 141.1L270.3 142.8L276.3 141.9L276.7 135.8L271.2 134.8L267.7 139.8ZM261.8 146.5L268.1 141.1L267.7 139.8L263.4 137.1L258 140.2L259 144.9ZM219.1 146.4L214.3 137.6L208.9 140.8L210.2 147.6L218.7 147.8ZM175.1 156.1L170.7 151.1L165 154.5L165.6 159.4L170.7 161.1L173.4 159.6ZM212.1 164.5L213.7 158.2L214.4 158L221.5 161.7L219.7 166.8L217.1 167.7ZM232.2 164.5L233.4 157.8L236.3 156.8L240.1 159.3L239.8 165.2ZM212.5 121.7L207.1 121.3L204.7 123.4L207.1 130.5L212.7 131.2L214.7 127.4ZM270.3 142.8L276.3 141.9L278.1 143.4L277.6 149.8L273.5 151.4L270.7 150.3ZM212.1 164.5L217.1 167.7L215.4 174.8L210.8 175.2L209.8 166.1Z" fill="#c068d0"/>
<path d="M187 166.2L193.6 161.7L194.3 161.8L196.4 164L196.2 172L194 173.3L187.4 170.7ZM218.7 147.8L219.6 150.5L214.4 158L213.7 158.2L208.2 155.3L208.6 149.4L210.2 147.6ZM187.9 120.2L187.8 126.6L192.4 128.1L197.2 125.9L198.8 123.1L196.4 118.5ZM177.5 172.7L173.2 178.2L173.7 182.1L181.3 181.3L183.1 175.2Z" fill="#c8b0b0"/>
<path d="M172.3 184.8L179.9 190.7L176.7 196.1L174.9 196.3L170.7 193.9L169.5 188L170.9 185.5ZM302.4 181.5L296.7 180.4L294.4 184.6L297 188.7L302.7 188.3ZM173.2 178.2L166.9 174.7L166.2 175.1L164.3 181.4L170.9 185.5L172.3 184.8L173.7 182.1ZM302.9 196.3L304.2 198.8L297.4 205.1L293.3 199.4L295 194.4ZM182.5 156.8L183.1 164.2L187 166.2L193.6 161.7L189.7 155.8ZM270.4 179.4L269.3 171.3L270.1 169.9L276.6 171.8L276.1 179.7ZM166.3 196.6L166 200.3L170.8 203.1L174.9 196.3L170.7 193.9Z" fill="#82c872"/>
<path d="M258 140.2L252.7 136.9L252.7 135.5L257.1 130.6L262.6 130.8L263.4 137.1ZM234.6 142.2L232.8 137.6L235.3 134.4L241.3 135.9L241.9 137.8L239.5 142.4ZM277 189.5L272 190.6L270 194.4L271.2 198.8L278.8 199.5L279.7 198.7L278.1 190ZM223.9 134.7L224.9 130.7L220.5 126.6L214.7 127.4L212.7 131.2L215 136Z" fill="#b09072"/>
<path d="M219.1 146.4L224.8 141.9L225.4 137.3L223.9 134.7L215 136L214.3 137.6ZM274 124L271.2 119.8L265.7 118.9L262.6 121.7L264.6 129L269.3 129.1L273.6 125.6ZM217.5 203.9L214.6 200.5L208.4 201L206.6 204.6L208.6 207.8L214.4 209.2ZM254.4 124.3L257.1 130.6L262.6 130.8L264.6 129L262.6 121.7L257.2 120.8ZM278.4 220.5L275.6 219.6L271.8 229L273.9 229.9L281.2 228.5L282.1 226.9Z" fill="#98a8e2"/>
<path d="M277 189.5L272 190.6L266.3 184.3L266.1 182.9L266.4 182.3L270.4 179.4L276.1 179.7L276.6 180ZM188.6 184L192.5 190.1L192.4 190.8L186.2 193.2L181.8 190.1L183.9 185.2Z" fill="#f08888"/>
</g>
<text transform="translate(177 219)" font-size="7.8">50 μm</text>
<rect x="175" y="221" width="24" height="2.4" fill="#000"/>
<text transform="translate(299.9 10.3) scale(0.901 1)" font-size="12.99" font-weight="bold" fill="#000">c</text>
<rect x="315" y="40.5" width="6.9" height="7.7" fill="#d6d6d6"/>
<rect x="321.8" y="40.5" width="6.9" height="7.7" fill="#d4d4d8"/>
<rect x="328.6" y="40.5" width="6.9" height="7.7" fill="#b4b4e0"/>
<rect x="335.5" y="40.5" width="6.9" height="7.7" fill="#a8a8dc"/>
<rect x="342.3" y="40.5" width="6.9" height="7.7" fill="#8890d0"/>
<rect x="349.1" y="40.5" width="6.9" height="7.7" fill="#a8a8dc"/>
<rect x="355.9" y="40.5" width="6.9" height="7.7" fill="#d8d8d8"/>
<rect x="362.7" y="40.5" width="6.9" height="7.7" fill="#e8b8c8"/>
<rect x="369.6" y="40.5" width="6.9" height="7.7" fill="#eaaac0"/>
<rect x="376.4" y="40.5" width="6.9" height="7.7" fill="#eaaac0"/>
<rect x="383.2" y="40.5" width="6.9" height="7.7" fill="#eaaac0"/>
<rect x="390" y="40.5" width="6.9" height="7.7" fill="#c0c0e4"/>
<rect x="315" y="48.2" width="6.9" height="7.7" fill="#eaaac0"/>
<rect x="321.8" y="48.2" width="6.9" height="7.7" fill="#d6d6d8"/>
<rect x="328.6" y="48.2" width="6.9" height="7.7" fill="#cccce0"/>
<rect x="335.5" y="48.2" width="6.9" height="7.7" fill="#bcbce4"/>
<rect x="342.3" y="48.2" width="6.9" height="7.7" fill="#cccce0"/>
<rect x="349.1" y="48.2" width="6.9" height="7.7" fill="#d8d8d8"/>
<rect x="355.9" y="48.2" width="6.9" height="7.7" fill="#d6d6dc"/>
<rect x="362.7" y="48.2" width="6.9" height="7.7" fill="#dcd0d4"/>
<rect x="369.6" y="48.2" width="6.9" height="7.7" fill="#d8d8d8"/>
<rect x="376.4" y="48.2" width="6.9" height="7.7" fill="#cccce0"/>
<rect x="383.2" y="48.2" width="6.9" height="7.7" fill="#b4b4e0"/>
<rect x="390" y="48.2" width="6.9" height="7.7" fill="#b4b4e0"/>
<rect x="315" y="55.8" width="6.9" height="7.7" fill="#dcd0d0"/>
<rect x="321.8" y="55.8" width="6.9" height="7.7" fill="#dcc8cc"/>
<rect x="328.6" y="55.8" width="6.9" height="7.7" fill="#e8b4c4"/>
<rect x="335.5" y="55.8" width="6.9" height="7.7" fill="#d8d8d8"/>
<rect x="342.3" y="55.8" width="6.9" height="7.7" fill="#ccccdc"/>
<rect x="349.1" y="55.8" width="6.9" height="7.7" fill="#dcd4d4"/>
<rect x="355.9" y="55.8" width="6.9" height="7.7" fill="#b0b0e0"/>
<rect x="362.7" y="55.8" width="6.9" height="7.7" fill="#d4d4dc"/>
<rect x="369.6" y="55.8" width="6.9" height="7.7" fill="#bcbce4"/>
<rect x="376.4" y="55.8" width="6.9" height="7.7" fill="#c4c4e0"/>
<rect x="383.2" y="55.8" width="6.9" height="7.7" fill="#c4c4e0"/>
<rect x="390" y="55.8" width="6.9" height="7.7" fill="#a0a0d8"/>
<rect x="315" y="63.5" width="6.9" height="7.7" fill="#d8d8d8"/>
<rect x="321.8" y="63.5" width="6.9" height="7.7" fill="#ee9cbc"/>
<rect x="328.6" y="63.5" width="6.9" height="7.7" fill="#ccccdc"/>
<rect x="335.5" y="63.5" width="6.9" height="7.7" fill="#8890d0"/>
<rect x="342.3" y="63.5" width="6.9" height="7.7" fill="#a0a0d8"/>
<rect x="349.1" y="63.5" width="6.9" height="7.7" fill="#c8c8e0"/>
<rect x="355.9" y="63.5" width="6.9" height="7.7" fill="#b8b8e4"/>
<rect x="362.7" y="63.5" width="6.9" height="7.7" fill="#dcd8d8"/>
<rect x="369.6" y="63.5" width="6.9" height="7.7" fill="#ddd4d4"/>
<rect x="376.4" y="63.5" width="6.9" height="7.7" fill="#ddd4d4"/>
<rect x="383.2" y="63.5" width="6.9" height="7.7" fill="#e4c8cc"/>
<rect x="390" y="63.5" width="6.9" height="7.7" fill="#8088cc"/>
<rect x="315" y="71.1" width="6.9" height="7.7" fill="#d8d8d8"/>
<rect x="321.8" y="71.1" width="6.9" height="7.7" fill="#d0d0d8"/>
<rect x="328.6" y="71.1" width="6.9" height="7.7" fill="#ee9cbc"/>
<rect x="335.5" y="71.1" width="6.9" height="7.7" fill="#b4b4e0"/>
<rect x="342.3" y="71.1" width="6.9" height="7.7" fill="#a8a8dc"/>
<rect x="349.1" y="71.1" width="6.9" height="7.7" fill="#b4b4e0"/>
<rect x="355.9" y="71.1" width="6.9" height="7.7" fill="#a0a0d8"/>
<rect x="362.7" y="71.1" width="6.9" height="7.7" fill="#a0a0d8"/>
<rect x="369.6" y="71.1" width="6.9" height="7.7" fill="#a8a8dc"/>
<rect x="376.4" y="71.1" width="6.9" height="7.7" fill="#b0b0e0"/>
<rect x="383.2" y="71.1" width="6.9" height="7.7" fill="#a0a0d8"/>
<rect x="390" y="71.1" width="6.9" height="7.7" fill="#8890d0"/>
<rect x="315" y="78.8" width="6.9" height="7.7" fill="#bcbce0"/>
<rect x="321.8" y="78.8" width="6.9" height="7.7" fill="#a4a4d8"/>
<rect x="328.6" y="78.8" width="6.9" height="7.7" fill="#6c7cc4"/>
<rect x="335.5" y="78.8" width="6.9" height="7.7" fill="#a8a8dc"/>
<rect x="342.3" y="78.8" width="6.9" height="7.7" fill="#acacdc"/>
<rect x="349.1" y="78.8" width="6.9" height="7.7" fill="#7080c8"/>
<rect x="355.9" y="78.8" width="6.9" height="7.7" fill="#f09ab8"/>
<rect x="362.7" y="78.8" width="6.9" height="7.7" fill="#ddd4d4"/>
<rect x="369.6" y="78.8" width="6.9" height="7.7" fill="#d4d4dc"/>
<rect x="376.4" y="78.8" width="6.9" height="7.7" fill="#c0c0e4"/>
<rect x="383.2" y="78.8" width="6.9" height="7.7" fill="#d0d0dc"/>
<rect x="390" y="78.8" width="6.9" height="7.7" fill="#c0c0e4"/>
<rect x="315" y="86.5" width="6.9" height="7.7" fill="#a4a4d8"/>
<rect x="321.8" y="86.5" width="6.9" height="7.7" fill="#8088cc"/>
<rect x="328.6" y="86.5" width="6.9" height="7.7" fill="#6c7cc4"/>
<rect x="335.5" y="86.5" width="6.9" height="7.7" fill="#bcbce4"/>
<rect x="342.3" y="86.5" width="6.9" height="7.7" fill="#7484c8"/>
<rect x="349.1" y="86.5" width="6.9" height="7.7" fill="#7080c8"/>
<rect x="355.9" y="86.5" width="6.9" height="7.7" fill="#c8c8e0"/>
<rect x="362.7" y="86.5" width="6.9" height="7.7" fill="#d8d4d8"/>
<rect x="369.6" y="86.5" width="6.9" height="7.7" fill="#ccccdc"/>
<rect x="376.4" y="86.5" width="6.9" height="7.7" fill="#c0c0e4"/>
<rect x="383.2" y="86.5" width="6.9" height="7.7" fill="#8890d0"/>
<rect x="390" y="86.5" width="6.9" height="7.7" fill="#f09ab8"/>
<rect x="315" y="94.1" width="6.9" height="7.7" fill="#bcbce4"/>
<rect x="321.8" y="94.1" width="6.9" height="7.7" fill="#bcbce4"/>
<rect x="328.6" y="94.1" width="6.9" height="7.7" fill="#c0c0e4"/>
<rect x="335.5" y="94.1" width="6.9" height="7.7" fill="#eea0bc"/>
<rect x="342.3" y="94.1" width="6.9" height="7.7" fill="#e4c4cc"/>
<rect x="349.1" y="94.1" width="6.9" height="7.7" fill="#8088cc"/>
<rect x="355.9" y="94.1" width="6.9" height="7.7" fill="#8890d0"/>
<rect x="362.7" y="94.1" width="6.9" height="7.7" fill="#bcbce4"/>
<rect x="369.6" y="94.1" width="6.9" height="7.7" fill="#acacdc"/>
<rect x="376.4" y="94.1" width="6.9" height="7.7" fill="#8088cc"/>
<rect x="383.2" y="94.1" width="6.9" height="7.7" fill="#a0a0d8"/>
<rect x="390" y="94.1" width="6.9" height="7.7" fill="#d8d8d8"/>
<rect x="315" y="101.8" width="6.9" height="7.7" fill="#b4b4e0"/>
<rect x="321.8" y="101.8" width="6.9" height="7.7" fill="#acacdc"/>
<rect x="328.6" y="101.8" width="6.9" height="7.7" fill="#acacdc"/>
<rect x="335.5" y="101.8" width="6.9" height="7.7" fill="#dcd0d4"/>
<rect x="342.3" y="101.8" width="6.9" height="7.7" fill="#e8b4c4"/>
<rect x="349.1" y="101.8" width="6.9" height="7.7" fill="#bcbce4"/>
<rect x="355.9" y="101.8" width="6.9" height="7.7" fill="#acacdc"/>
<rect x="362.7" y="101.8" width="6.9" height="7.7" fill="#acacdc"/>
<rect x="369.6" y="101.8" width="6.9" height="7.7" fill="#a8a8dc"/>
<rect x="376.4" y="101.8" width="6.9" height="7.7" fill="#9898d4"/>
<rect x="383.2" y="101.8" width="6.9" height="7.7" fill="#9898d4"/>
<rect x="390" y="101.8" width="6.9" height="7.7" fill="#a0a0d8"/>
<rect x="315" y="109.4" width="6.9" height="7.7" fill="#9898d4"/>
<rect x="321.8" y="109.4" width="6.9" height="7.7" fill="#8088cc"/>
<rect x="328.6" y="109.4" width="6.9" height="7.7" fill="#b4b4e0"/>
<rect x="335.5" y="109.4" width="6.9" height="7.7" fill="#a8a8dc"/>
<rect x="342.3" y="109.4" width="6.9" height="7.7" fill="#d8d8d8"/>
<rect x="349.1" y="109.4" width="6.9" height="7.7" fill="#f088b0"/>
<rect x="355.9" y="109.4" width="6.9" height="7.7" fill="#a0a0d8"/>
<rect x="362.7" y="109.4" width="6.9" height="7.7" fill="#7080c8"/>
<rect x="369.6" y="109.4" width="6.9" height="7.7" fill="#7484c8"/>
<rect x="376.4" y="109.4" width="6.9" height="7.7" fill="#8890d0"/>
<rect x="383.2" y="109.4" width="6.9" height="7.7" fill="#7080c8"/>
<rect x="390" y="109.4" width="6.9" height="7.7" fill="#5870bc"/>
<path d="M318.4 40.5V34.5H325.2V40.5M321.8 34.5V32.1H332.1V40.5M338.9 40.5V34H345.7V40.5M326.9 32.1V29.4H342.3V34M334.6 29.4V27H352.5V40.5M366.1 40.5V37.7H373V40.5M379.8 40.5V35.6H386.6V40.5M369.6 37.7V34H383.2V35.6M359.3 40.5V32.1H376.4V34M367.9 32.1V28.1H393.4V40.5M343.6 27V21.7H380.6V28.1" fill="none" stroke="#555" stroke-width="0.75"/>
<path d="M315 52H310V59.6H315M310 55.8H308.3V67.3H315M308.3 61.6H306.5V75H315M315 44.3H303.4V68.3H306.5M315 82.6H306.2V90.3H315M315 98H309.3V105.6H315M306.2 86.5H303.4V101.8H309.3M303.4 56.3H301.3V94.1H303.4M301.3 75.2H298.2V113.3H315" fill="none" stroke="#555" stroke-width="0.75"/>
<text transform="translate(400.5 47)" font-size="7.5">Immune_rich</text>
<text transform="translate(400.5 54.7)" font-size="7.5">M2_macs</text>
<text transform="translate(400.5 62.4)" font-size="7.5">Tumor_adjacent_stroma</text>
<text transform="translate(400.5 70)" font-size="7.5">Vessels</text>
<text transform="translate(400.5 77.7)" font-size="7.5">Stroma</text>
<text transform="translate(400.5 85.3)" font-size="7.5">M1_macrophages</text>
<text transform="translate(400.5 93)" font-size="7.5">Tumor_PDL1</text>
<text transform="translate(400.5 100.7)" font-size="7.5">Proliferating_tumor</text>
<text transform="translate(400.5 108.3)" font-size="7.5">Tumor_bulk</text>
<text transform="translate(400.5 116)" font-size="7.5">Granulocytes</text>
<text transform="translate(320.8 121.5) rotate(-90)" font-size="7.5" text-anchor="end">M2_mac</text>
<text transform="translate(327.6 121.5) rotate(-90)" font-size="7.5" text-anchor="end">Vessels</text>
<text transform="translate(334.5 121.5) rotate(-90)" font-size="7.5" text-anchor="end">Stroma</text>
<text transform="translate(341.3 121.5) rotate(-90)" font-size="7.5" text-anchor="end">Proliferating_Tumor</text>
<text transform="translate(348.1 121.5) rotate(-90)" font-size="7.5" text-anchor="end">Tumor</text>
<text transform="translate(354.9 121.5) rotate(-90)" font-size="7.5" text-anchor="end">Granulocytes</text>
<text transform="translate(361.7 121.5) rotate(-90)" font-size="7.5" text-anchor="end">M1_mac</text>
<text transform="translate(368.6 121.5) rotate(-90)" font-size="7.5" text-anchor="end">DCs</text>
<text transform="translate(375.4 121.5) rotate(-90)" font-size="7.5" text-anchor="end">CD8_cells</text>
<text transform="translate(382.2 121.5) rotate(-90)" font-size="7.5" text-anchor="end">CD4_cells</text>
<text transform="translate(389 121.5) rotate(-90)" font-size="7.5" text-anchor="end">B_cells</text>
<text transform="translate(395.8 121.5) rotate(-90)" font-size="7.5" text-anchor="end">Tumor_PDL1</text>
<text transform="translate(404.3 126.6)" font-size="7.9">Interaction</text>
<rect x="404" y="130.2" width="7" height="38.1" fill="url(#gc)"/>
<text transform="translate(414.8 134.9)" font-size="8.2">4</text>
<text transform="translate(414.8 151.8)" font-size="8.2">0</text>
<text transform="translate(414.3 169.3)" font-size="8.2">−4</text>
<path d="M404 132L405.6 132" stroke="#fff" stroke-width="0.5"/>
<path d="M409.4 132L411 132" stroke="#fff" stroke-width="0.5"/>
<path d="M404 149.3L405.6 149.3" stroke="#fff" stroke-width="0.5"/>
<path d="M409.4 149.3L411 149.3" stroke="#fff" stroke-width="0.5"/>
<path d="M404 166.5L405.6 166.5" stroke="#fff" stroke-width="0.5"/>
<path d="M409.4 166.5L411 166.5" stroke="#fff" stroke-width="0.5"/>
<text transform="translate(487.4 10.3) scale(0.901 1)" font-size="12.99" font-weight="bold" fill="#000">d</text>
<path d="M515.6 35.2L515.6 54.8" stroke="#444" stroke-width="1.1"/>
<path d="M515.6 60L515.6 104" stroke="#444" stroke-width="1.1"/>
<path d="M515.1 104L639.5 104" stroke="#444" stroke-width="1.1"/>
<text transform="translate(510.8 38.6)" font-size="7.4" text-anchor="end" fill="#333">1.0</text>
<text transform="translate(510.8 44.8)" font-size="7.4" text-anchor="end" fill="#333">0.8</text>
<text transform="translate(510.8 51)" font-size="7.4" text-anchor="end" fill="#333">0.6</text>
<text transform="translate(510.8 57.2)" font-size="7.4" text-anchor="end" fill="#333">0.4</text>
<text transform="translate(510.8 64.5)" font-size="7.4" text-anchor="end" fill="#333">0.3</text>
<text transform="translate(510.8 77.8)" font-size="7.4" text-anchor="end" fill="#333">0.2</text>
<text transform="translate(510.8 91.1)" font-size="7.4" text-anchor="end" fill="#333">0.1</text>
<text transform="translate(510.8 104.4)" font-size="7.4" text-anchor="end" fill="#333">0</text>
<text transform="translate(490.6 69.5) rotate(-90)" font-size="8.2" text-anchor="middle">Frequency</text>
<path d="M523.4 104L523.4 106.6" stroke="#555" stroke-width="0.7"/>
<path d="M535.5 104L535.5 106.6" stroke="#555" stroke-width="0.7"/>
<path d="M547.5 104L547.5 106.6" stroke="#555" stroke-width="0.7"/>
<path d="M559.6 104L559.6 106.6" stroke="#555" stroke-width="0.7"/>
<path d="M571.6 104L571.6 106.6" stroke="#555" stroke-width="0.7"/>
<path d="M583.2 104L583.2 106.6" stroke="#555" stroke-width="0.7"/>
<path d="M595.2 104L595.2 106.6" stroke="#555" stroke-width="0.7"/>
<path d="M607.3 104L607.3 106.6" stroke="#555" stroke-width="0.7"/>
<path d="M619.3 104L619.3 106.6" stroke="#555" stroke-width="0.7"/>
<path d="M631.4 104L631.4 106.6" stroke="#555" stroke-width="0.7"/>
<rect x="519.2" y="101" width="3.7" height="0.9" fill="#c8c8c8" stroke="#aaa" stroke-width="0.5"/>
<path d="M519.2 101.5L523 101.5" stroke="#aaa" stroke-width="0.8"/>
<path d="M533 73L533 79.2" stroke="#bbb" stroke-width="0.7"/>
<rect x="531.2" y="79.2" width="3.5" height="22.5" fill="#5168b8" stroke="#3a4a88" stroke-width="0.5"/>
<path d="M531.2 96.3L534.8 96.3" stroke="#3a4a88" stroke-width="0.8"/>
<rect x="535.2" y="92.2" width="4.2" height="9.5" fill="#f27fa6" stroke="#b85a7c" stroke-width="0.5"/>
<path d="M535.2 101.2L539.5 101.2" stroke="#b85a7c" stroke-width="0.8"/>
<rect x="543.5" y="98.2" width="3.3" height="3.5" fill="#5168b8" stroke="#3a4a88" stroke-width="0.5"/>
<path d="M543.5 101.5L546.8 101.5" stroke="#3a4a88" stroke-width="0.8"/>
<rect x="555.5" y="88.2" width="3.6" height="9.7" fill="#5168b8" stroke="#3a4a88" stroke-width="0.5"/>
<path d="M555.5 95.3L559.1 95.3" stroke="#3a4a88" stroke-width="0.8"/>
<path d="M561.6 69L561.6 85.1" stroke="#bbb" stroke-width="0.7"/>
<rect x="559.6" y="85.1" width="4" height="16.4" fill="#f27fa6" stroke="#b85a7c" stroke-width="0.5"/>
<path d="M559.6 98.4L563.6 98.4" stroke="#b85a7c" stroke-width="0.8"/>
<path d="M569.4 91L569.4 96.3" stroke="#bbb" stroke-width="0.7"/>
<rect x="567.5" y="96.3" width="3.9" height="4.2" fill="#5168b8" stroke="#3a4a88" stroke-width="0.5"/>
<path d="M567.5 98.8L571.4 98.8" stroke="#3a4a88" stroke-width="0.8"/>
<path d="M573.7 59.7L573.7 76.6" stroke="#bbb" stroke-width="0.7"/>
<rect x="571.9" y="76.6" width="3.6" height="24.9" fill="#f27fa6" stroke="#b85a7c" stroke-width="0.5"/>
<path d="M571.9 94.4L575.5 94.4" stroke="#b85a7c" stroke-width="0.8"/>
<rect x="579.2" y="98.2" width="4.3" height="3.5" fill="#5168b8" stroke="#3a4a88" stroke-width="0.5"/>
<path d="M579.2 101.4L583.5 101.4" stroke="#3a4a88" stroke-width="0.8"/>
<path d="M586 69.2L586 81.1" stroke="#bbb" stroke-width="0.7"/>
<rect x="584" y="81.1" width="3.8" height="20.6" fill="#f27fa6" stroke="#b85a7c" stroke-width="0.5"/>
<path d="M584 101L587.9 101" stroke="#b85a7c" stroke-width="0.8"/>
<path d="M593.4 81.1L593.4 90.1" stroke="#bbb" stroke-width="0.7"/>
<rect x="591.4" y="90.1" width="4.1" height="11.4" fill="#5168b8" stroke="#3a4a88" stroke-width="0.5"/>
<path d="M591.4 97.2L595.5 97.2" stroke="#3a4a88" stroke-width="0.8"/>
<path d="M597.9 59.7L597.9 73.2" stroke="#bbb" stroke-width="0.7"/>
<rect x="596" y="73.2" width="3.9" height="26.4" fill="#f27fa6" stroke="#b85a7c" stroke-width="0.5"/>
<path d="M596 97.4L599.9 97.4" stroke="#b85a7c" stroke-width="0.8"/>
<rect x="603.5" y="60" width="4.1" height="41.7" fill="#5168b8" stroke="#3a4a88" stroke-width="0.5"/>
<path d="M603.5 83.3L607.6 83.3" stroke="#3a4a88" stroke-width="0.8"/>
<rect x="608.1" y="60" width="3.8" height="41.7" fill="#f27fa6" stroke="#b85a7c" stroke-width="0.5"/>
<path d="M608.1 99.3L612 99.3" stroke="#b85a7c" stroke-width="0.8"/>
<path d="M617.7 93L617.7 96.3" stroke="#bbb" stroke-width="0.7"/>
<rect x="615.9" y="96.3" width="3.7" height="5.4" fill="#5168b8" stroke="#3a4a88" stroke-width="0.5"/>
<path d="M615.9 101.2L619.5 101.2" stroke="#3a4a88" stroke-width="0.8"/>
<path d="M629.8 64.5L629.8 82.3" stroke="#bbb" stroke-width="0.7"/>
<rect x="628" y="82.3" width="3.7" height="19.4" fill="#5168b8" stroke="#3a4a88" stroke-width="0.5"/>
<path d="M628 100.3L631.6 100.3" stroke="#3a4a88" stroke-width="0.8"/>
<path d="M634.3 87.3L634.3 92.2" stroke="#bbb" stroke-width="0.7"/>
<rect x="632.1" y="92.2" width="4.3" height="9.5" fill="#f27fa6" stroke="#b85a7c" stroke-width="0.5"/>
<path d="M632.1 99.1L636.5 99.1" stroke="#b85a7c" stroke-width="0.8"/>
<rect x="603.5" y="48.5" width="4.1" height="6.3" fill="#5168b8" stroke="#3a4a88" stroke-width="0.5"/>
<rect x="608.1" y="48.2" width="3.8" height="6.6" fill="#f27fa6" stroke="#b85a7c" stroke-width="0.5"/>
<path d="M605.6 38.1L605.6 48.5" stroke="#999" stroke-width="0.7"/>
<path d="M610 39L610 48.2" stroke="#999" stroke-width="0.7"/>
<path d="M520.9 48.6a1.25 1.25 0 1 0 0.01 0zM525.5 51.7a1.25 1.25 0 1 0 0.01 0zM533 46.2a1.25 1.25 0 1 0 0.01 0zM533 52.7a1.25 1.25 0 1 0 0.01 0zM537.4 42.8a1.25 1.25 0 1 0 0.01 0zM549.6 36a1.25 1.25 0 1 0 0.01 0zM545 44.4a1.25 1.25 0 1 0 0.01 0zM561.8 44a1.25 1.25 0 1 0 0.01 0zM557 53.2a1.25 1.25 0 1 0 0.01 0zM573.8 43.1a1.25 1.25 0 1 0 0.01 0zM573.8 45.8a1.25 1.25 0 1 0 0.01 0zM585.9 48a1.25 1.25 0 1 0 0.01 0zM585.9 54.2a1.25 1.25 0 1 0 0.01 0zM593.3 53.2a1.25 1.25 0 1 0 0.01 0zM617.6 45.8a1.25 1.25 0 1 0 0.01 0zM622.2 42.8a1.25 1.25 0 1 0 0.01 0zM634.4 48.3a1.25 1.25 0 1 0 0.01 0zM545 63.3a1.25 1.25 0 1 0 0.01 0zM537.3 67.8a1.25 1.25 0 1 0 0.01 0zM537.3 69.5a1.25 1.25 0 1 0 0.01 0zM537.3 71a1.25 1.25 0 1 0 0.01 0zM545 89.2a1.25 1.25 0 1 0 0.01 0zM549.8 99.5a1.25 1.25 0 1 0 0.01 0zM549.8 101a1.25 1.25 0 1 0 0.01 0zM557 68.8a1.25 1.25 0 1 0 0.01 0zM569.2 64a1.25 1.25 0 1 0 0.01 0zM581.3 69.6a1.25 1.25 0 1 0 0.01 0zM581.3 71.5a1.25 1.25 0 1 0 0.01 0zM581.3 88.4a1.25 1.25 0 1 0 0.01 0zM622 96.3a1.25 1.25 0 1 0 0.01 0zM622 99.6a1.25 1.25 0 1 0 0.01 0zM634.4 69.3a1.25 1.25 0 1 0 0.01 0zM634.4 71.5a1.25 1.25 0 1 0 0.01 0zM525.5 100.8a1.25 1.25 0 1 0 0.01 0zM525.5 101.8a1.25 1.25 0 1 0 0.01 0z" fill="#111"/>
<text transform="translate(645.7 57.8)" font-size="7.4">Progressed</text>
<path d="M651.9 65.4L651.9 75.1" stroke="#bbb" stroke-width="0.6"/>
<rect x="646.9" y="66.9" width="10" height="6.7" fill="#5168b8" stroke="#3a4a88" stroke-width="0.5"/>
<path d="M646.9 70.3L656.9 70.3" stroke="#3a4a88" stroke-width="0.8"/>
<text transform="translate(662 73.1)" font-size="7.4">No</text>
<path d="M651.9 78.7L651.9 88.4" stroke="#bbb" stroke-width="0.6"/>
<rect x="646.9" y="80.2" width="10" height="6.7" fill="#f27fa6" stroke="#b85a7c" stroke-width="0.5"/>
<path d="M646.9 83.6L656.9 83.6" stroke="#b85a7c" stroke-width="0.8"/>
<text transform="translate(662 86.4)" font-size="7.4">Yes</text>
<text transform="translate(527.6 111.4) rotate(-45) scale(0.952 1)" font-size="8.4" text-anchor="end">Granulocytes</text>
<text transform="translate(539.7 111.4) rotate(-45) scale(0.952 1)" font-size="8.4" text-anchor="end">Immune_rich</text>
<text transform="translate(551.7 111.4) rotate(-45) scale(0.952 1)" font-size="8.4" text-anchor="end">M1_macs</text>
<text transform="translate(563.8 111.4) rotate(-45) scale(0.952 1)" font-size="8.4" text-anchor="end">M2_macs</text>
<text transform="translate(575.8 111.4) rotate(-45) scale(0.952 1)" font-size="8.4" text-anchor="end">Proliferating_tumor</text>
<text transform="translate(587.4 111.4) rotate(-45) scale(0.952 1)" font-size="8.4" text-anchor="end">Stroma</text>
<text transform="translate(599.4 111.4) rotate(-45) scale(0.952 1)" font-size="8.4" text-anchor="end">Tumor_adjacent_stroma</text>
<text transform="translate(611.5 111.4) rotate(-45) scale(0.952 1)" font-size="8.4" text-anchor="end">Tumor_bulk</text>
<text transform="translate(623.5 111.4) rotate(-45) scale(0.952 1)" font-size="8.4" text-anchor="end">Tumor_PDL1</text>
<text transform="translate(635.6 111.4) rotate(-45) scale(0.952 1)" font-size="8.4" text-anchor="end">Vessels</text>
<text transform="translate(0.4 247.3) scale(0.901 1)" font-size="12.99" font-weight="bold" fill="#000">e</text>
<rect x="26.6" y="266.4" width="18.2" height="10" fill="#dddef2"/>
<rect x="44.8" y="266.4" width="18.2" height="10" fill="#f1bdd0"/>
<rect x="62.9" y="266.4" width="18.2" height="10" fill="#efb5cb"/>
<rect x="81" y="266.4" width="18.2" height="10" fill="#f8e4eb"/>
<rect x="99.2" y="266.4" width="18.2" height="10" fill="#f7dfe8"/>
<rect x="117.3" y="266.4" width="18.2" height="10" fill="#eaeaf7"/>
<rect x="135.5" y="266.4" width="18.2" height="10" fill="#ea93b4"/>
<rect x="153.6" y="266.4" width="18.2" height="10" fill="#faeaf0"/>
<rect x="171.8" y="266.4" width="18.2" height="10" fill="#e9e9f6"/>
<rect x="189.9" y="266.4" width="18.2" height="10" fill="#eaeaf7"/>
<rect x="26.6" y="276.3" width="18.2" height="10" fill="#f3ccda"/>
<rect x="44.8" y="276.3" width="18.2" height="10" fill="#f2c6d6"/>
<rect x="62.9" y="276.3" width="18.2" height="10" fill="#f4cedc"/>
<rect x="81" y="276.3" width="18.2" height="10" fill="#f8e4eb"/>
<rect x="99.2" y="276.3" width="18.2" height="10" fill="#f9f9fd"/>
<rect x="117.3" y="276.3" width="18.2" height="10" fill="#f7dee7"/>
<rect x="135.5" y="276.3" width="18.2" height="10" fill="#eb96b6"/>
<rect x="153.6" y="276.3" width="18.2" height="10" fill="#fae8ee"/>
<rect x="171.8" y="276.3" width="18.2" height="10" fill="#cccded"/>
<rect x="189.9" y="276.3" width="18.2" height="10" fill="#c3c5e9"/>
<rect x="26.6" y="286.2" width="18.2" height="10" fill="#f7dfe8"/>
<rect x="44.8" y="286.2" width="18.2" height="10" fill="#fefbfc"/>
<rect x="62.9" y="286.2" width="18.2" height="10" fill="#f8e1e9"/>
<rect x="81" y="286.2" width="18.2" height="10" fill="#fefcfc"/>
<rect x="99.2" y="286.2" width="18.2" height="10" fill="#fefcfd"/>
<rect x="117.3" y="286.2" width="18.2" height="10" fill="#fbeef2"/>
<rect x="135.5" y="286.2" width="18.2" height="10" fill="#f9e5ec"/>
<rect x="153.6" y="286.2" width="18.2" height="10" fill="#fafafd"/>
<rect x="171.8" y="286.2" width="18.2" height="10" fill="#ececf7"/>
<rect x="189.9" y="286.2" width="18.2" height="10" fill="#fcfcfe"/>
<rect x="26.6" y="296.1" width="18.2" height="10" fill="#f7dfe8"/>
<rect x="44.8" y="296.1" width="18.2" height="10" fill="#f9e6ed"/>
<rect x="62.9" y="296.1" width="18.2" height="10" fill="#f7f7fc"/>
<rect x="81" y="296.1" width="18.2" height="10" fill="#fae8ee"/>
<rect x="99.2" y="296.1" width="18.2" height="10" fill="#f1f1f9"/>
<rect x="117.3" y="296.1" width="18.2" height="10" fill="#f0f0f9"/>
<rect x="135.5" y="296.1" width="18.2" height="10" fill="#f6dce6"/>
<rect x="153.6" y="296.1" width="18.2" height="10" fill="#fdf6f8"/>
<rect x="171.8" y="296.1" width="18.2" height="10" fill="#e7e8f6"/>
<rect x="189.9" y="296.1" width="18.2" height="10" fill="#fdf4f7"/>
<rect x="26.6" y="306" width="18.2" height="10" fill="#f0f0f9"/>
<rect x="44.8" y="306" width="18.2" height="10" fill="#f6dae4"/>
<rect x="62.9" y="306" width="18.2" height="10" fill="#f5f5fb"/>
<rect x="81" y="306" width="18.2" height="10" fill="#e3e3f4"/>
<rect x="99.2" y="306" width="18.2" height="10" fill="#c9caeb"/>
<rect x="117.3" y="306" width="18.2" height="10" fill="#fefafc"/>
<rect x="135.5" y="306" width="18.2" height="10" fill="#f5d7e2"/>
<rect x="153.6" y="306" width="18.2" height="10" fill="#ffffff"/>
<rect x="171.8" y="306" width="18.2" height="10" fill="#fdf5f7"/>
<rect x="189.9" y="306" width="18.2" height="10" fill="#fcf3f6"/>
<rect x="26.6" y="315.9" width="18.2" height="10" fill="#f8f8fc"/>
<rect x="44.8" y="315.9" width="18.2" height="10" fill="#f5d5e1"/>
<rect x="62.9" y="315.9" width="18.2" height="10" fill="#f6dde6"/>
<rect x="81" y="315.9" width="18.2" height="10" fill="#dedef3"/>
<rect x="99.2" y="315.9" width="18.2" height="10" fill="#fef9fb"/>
<rect x="117.3" y="315.9" width="18.2" height="10" fill="#d3d4ef"/>
<rect x="135.5" y="315.9" width="18.2" height="10" fill="#c6c7ea"/>
<rect x="153.6" y="315.9" width="18.2" height="10" fill="#f7dfe8"/>
<rect x="171.8" y="315.9" width="18.2" height="10" fill="#f4d2df"/>
<rect x="189.9" y="315.9" width="18.2" height="10" fill="#abb0df"/>
<rect x="26.6" y="325.8" width="18.2" height="10" fill="#f9e5ec"/>
<rect x="44.8" y="325.8" width="18.2" height="10" fill="#e6e6f5"/>
<rect x="62.9" y="325.8" width="18.2" height="10" fill="#f2c4d5"/>
<rect x="81" y="325.8" width="18.2" height="10" fill="#f2c4d4"/>
<rect x="99.2" y="325.8" width="18.2" height="10" fill="#fdf4f7"/>
<rect x="117.3" y="325.8" width="18.2" height="10" fill="#f6dbe5"/>
<rect x="135.5" y="325.8" width="18.2" height="10" fill="#f8e1e9"/>
<rect x="153.6" y="325.8" width="18.2" height="10" fill="#dcdcf2"/>
<rect x="171.8" y="325.8" width="18.2" height="10" fill="#fbecf1"/>
<rect x="189.9" y="325.8" width="18.2" height="10" fill="#e2e2f4"/>
<rect x="26.6" y="335.7" width="18.2" height="10" fill="#b4b8e3"/>
<rect x="44.8" y="335.7" width="18.2" height="10" fill="#c8c9eb"/>
<rect x="62.9" y="335.7" width="18.2" height="10" fill="#f3cbda"/>
<rect x="81" y="335.7" width="18.2" height="10" fill="#f8e2ea"/>
<rect x="99.2" y="335.7" width="18.2" height="10" fill="#f6dae5"/>
<rect x="117.3" y="335.7" width="18.2" height="10" fill="#fae8ee"/>
<rect x="135.5" y="335.7" width="18.2" height="10" fill="#c3c5e9"/>
<rect x="153.6" y="335.7" width="18.2" height="10" fill="#dbdcf2"/>
<rect x="171.8" y="335.7" width="18.2" height="10" fill="#aeb3e0"/>
<rect x="189.9" y="335.7" width="18.2" height="10" fill="#a4abdc"/>
<rect x="26.6" y="345.6" width="18.2" height="10" fill="#f3ccda"/>
<rect x="44.8" y="345.6" width="18.2" height="10" fill="#e35d94"/>
<rect x="62.9" y="345.6" width="18.2" height="10" fill="#fbecf1"/>
<rect x="81" y="345.6" width="18.2" height="10" fill="#f5d6e2"/>
<rect x="99.2" y="345.6" width="18.2" height="10" fill="#fdf6f8"/>
<rect x="117.3" y="345.6" width="18.2" height="10" fill="#fefafb"/>
<rect x="135.5" y="345.6" width="18.2" height="10" fill="#fefeff"/>
<rect x="153.6" y="345.6" width="18.2" height="10" fill="#fefbfc"/>
<rect x="171.8" y="345.6" width="18.2" height="10" fill="#979fd6"/>
<rect x="189.9" y="345.6" width="18.2" height="10" fill="#bfc2e8"/>
<rect x="26.6" y="355.5" width="18.2" height="10" fill="#ea92b4"/>
<rect x="44.8" y="355.5" width="18.2" height="10" fill="#f2c3d4"/>
<rect x="62.9" y="355.5" width="18.2" height="10" fill="#fbfbfd"/>
<rect x="81" y="355.5" width="18.2" height="10" fill="#f4cfdc"/>
<rect x="99.2" y="355.5" width="18.2" height="10" fill="#fffefe"/>
<rect x="117.3" y="355.5" width="18.2" height="10" fill="#faeaf0"/>
<rect x="135.5" y="355.5" width="18.2" height="10" fill="#7783c8"/>
<rect x="153.6" y="355.5" width="18.2" height="10" fill="#a7addd"/>
<rect x="171.8" y="355.5" width="18.2" height="10" fill="#ebecf7"/>
<rect x="189.9" y="355.5" width="18.2" height="10" fill="#8d97d2"/>
<rect x="26.6" y="365.4" width="18.2" height="10" fill="#f5d4e0"/>
<rect x="44.8" y="365.4" width="18.2" height="10" fill="#ececf7"/>
<rect x="62.9" y="365.4" width="18.2" height="10" fill="#fbebf0"/>
<rect x="81" y="365.4" width="18.2" height="10" fill="#f9e6ed"/>
<rect x="99.2" y="365.4" width="18.2" height="10" fill="#f4cfdd"/>
<rect x="117.3" y="365.4" width="18.2" height="10" fill="#c6c7ea"/>
<rect x="135.5" y="365.4" width="18.2" height="10" fill="#d4d4ef"/>
<rect x="153.6" y="365.4" width="18.2" height="10" fill="#b5b9e3"/>
<rect x="171.8" y="365.4" width="18.2" height="10" fill="#cfd0ee"/>
<rect x="189.9" y="365.4" width="18.2" height="10" fill="#f8f8fc"/>
<rect x="26.6" y="375.3" width="18.2" height="10" fill="#e77ea7"/>
<rect x="44.8" y="375.3" width="18.2" height="10" fill="#ececf7"/>
<rect x="62.9" y="375.3" width="18.2" height="10" fill="#f6d8e3"/>
<rect x="81" y="375.3" width="18.2" height="10" fill="#f9e6ed"/>
<rect x="99.2" y="375.3" width="18.2" height="10" fill="#f6dbe5"/>
<rect x="117.3" y="375.3" width="18.2" height="10" fill="#bfc1e7"/>
<rect x="135.5" y="375.3" width="18.2" height="10" fill="#4d5fb4"/>
<rect x="153.6" y="375.3" width="18.2" height="10" fill="#efeff8"/>
<rect x="171.8" y="375.3" width="18.2" height="10" fill="#c1c3e8"/>
<rect x="189.9" y="375.3" width="18.2" height="10" fill="#bec0e7"/>
<text transform="translate(35.7 273.8)" font-size="6.5" text-anchor="middle" fill="#333">−0.63</text>
<text transform="translate(53.8 273.8)" font-size="6.5" text-anchor="middle" fill="#333">1.87</text>
<text transform="translate(72.5 273.8)" font-size="6.5" text-anchor="middle" fill="#333">2.08<tspan font-size="5.4" dy="-1.6">*</tspan></text>
<text transform="translate(90.1 273.8)" font-size="6.5" text-anchor="middle" fill="#333">0.75</text>
<text transform="translate(108.3 273.8)" font-size="6.5" text-anchor="middle" fill="#333">0.89</text>
<text transform="translate(126.4 273.8)" font-size="6.5" text-anchor="middle" fill="#333">−0.37</text>
<text transform="translate(144.6 273.8)" font-size="6.5" text-anchor="middle" fill="#333">2.85</text>
<text transform="translate(162.7 273.8)" font-size="6.5" text-anchor="middle" fill="#333">0.55</text>
<text transform="translate(180.9 273.8)" font-size="6.5" text-anchor="middle" fill="#333">−0.4</text>
<text transform="translate(199 273.8)" font-size="6.5" text-anchor="middle" fill="#333">−0.37</text>
<text transform="translate(35.7 283.8)" font-size="6.5" text-anchor="middle" fill="#333">1.44</text>
<text transform="translate(53.8 283.8)" font-size="6.5" text-anchor="middle" fill="#333">1.61</text>
<text transform="translate(72 283.8)" font-size="6.5" text-anchor="middle" fill="#333">1.39</text>
<text transform="translate(90.1 283.8)" font-size="6.5" text-anchor="middle" fill="#333">0.75</text>
<text transform="translate(108.3 283.8)" font-size="6.5" text-anchor="middle" fill="#333">−0.1</text>
<text transform="translate(126.4 283.8)" font-size="6.5" text-anchor="middle" fill="#333">0.91</text>
<text transform="translate(144.6 283.8)" font-size="6.5" text-anchor="middle" fill="#333">2.78</text>
<text transform="translate(162.7 283.8)" font-size="6.5" text-anchor="middle" fill="#333">0.61</text>
<text transform="translate(180.9 283.8)" font-size="6.5" text-anchor="middle" fill="#333">−0.96</text>
<text transform="translate(199 283.8)" font-size="6.5" text-anchor="middle" fill="#333">−1.12</text>
<text transform="translate(36.2 293.6)" font-size="6.5" text-anchor="middle" fill="#333">0.89<tspan font-size="5.4" dy="-1.6">*</tspan></text>
<text transform="translate(53.8 293.6)" font-size="6.5" text-anchor="middle" fill="#333">0.11</text>
<text transform="translate(72 293.6)" font-size="6.5" text-anchor="middle" fill="#333">0.82</text>
<text transform="translate(90.1 293.6)" font-size="6.5" text-anchor="middle" fill="#333">0.09</text>
<text transform="translate(108.3 293.6)" font-size="6.5" text-anchor="middle" fill="#333">0.07</text>
<text transform="translate(126.4 293.6)" font-size="6.5" text-anchor="middle" fill="#333">0.45</text>
<text transform="translate(144.6 293.6)" font-size="6.5" text-anchor="middle" fill="#333">0.72</text>
<text transform="translate(162.7 293.6)" font-size="6.5" text-anchor="middle" fill="#333">−0.08</text>
<text transform="translate(180.9 293.6)" font-size="6.5" text-anchor="middle" fill="#333">−0.34</text>
<text transform="translate(199 293.6)" font-size="6.5" text-anchor="middle" fill="#333">−0.05</text>
<text transform="translate(36.2 303.5)" font-size="6.5" text-anchor="middle" fill="#333">0.89<tspan font-size="5.4" dy="-1.6">*</tspan></text>
<text transform="translate(53.8 303.5)" font-size="6.5" text-anchor="middle" fill="#333">0.68</text>
<text transform="translate(72 303.5)" font-size="6.5" text-anchor="middle" fill="#333">−0.14</text>
<text transform="translate(90.1 303.5)" font-size="6.5" text-anchor="middle" fill="#333">0.63</text>
<text transform="translate(108.3 303.5)" font-size="6.5" text-anchor="middle" fill="#333">−0.24</text>
<text transform="translate(126.4 303.5)" font-size="6.5" text-anchor="middle" fill="#333">−0.26</text>
<text transform="translate(144.6 303.5)" font-size="6.5" text-anchor="middle" fill="#333">0.96</text>
<text transform="translate(162.7 303.5)" font-size="6.5" text-anchor="middle" fill="#333">0.25</text>
<text transform="translate(180.9 303.5)" font-size="6.5" text-anchor="middle" fill="#333">−0.43</text>
<text transform="translate(199 303.5)" font-size="6.5" text-anchor="middle" fill="#333">0.29</text>
<text transform="translate(35.7 313.4)" font-size="6.5" text-anchor="middle" fill="#333">−0.26</text>
<text transform="translate(53.8 313.4)" font-size="6.5" text-anchor="middle" fill="#333">1.03</text>
<text transform="translate(72 313.4)" font-size="6.5" text-anchor="middle" fill="#333">−0.17</text>
<text transform="translate(90.1 313.4)" font-size="6.5" text-anchor="middle" fill="#333">−0.52</text>
<text transform="translate(108.3 313.4)" font-size="6.5" text-anchor="middle" fill="#333">−1.02</text>
<text transform="translate(126.4 313.4)" font-size="6.5" text-anchor="middle" fill="#333">0.12</text>
<text transform="translate(144.6 313.4)" font-size="6.5" text-anchor="middle" fill="#333">1.12</text>
<text transform="translate(162.7 313.4)" font-size="6.5" text-anchor="middle" fill="#333">0</text>
<text transform="translate(180.9 313.4)" font-size="6.5" text-anchor="middle" fill="#333">0.27</text>
<text transform="translate(199.5 313.4)" font-size="6.5" text-anchor="middle" fill="#333">0.32<tspan font-size="5.4" dy="-1.6">*</tspan></text>
<text transform="translate(35.7 323.3)" font-size="6.5" text-anchor="middle" fill="#333">−0.12</text>
<text transform="translate(53.8 323.3)" font-size="6.5" text-anchor="middle" fill="#333">1.17</text>
<text transform="translate(72 323.3)" font-size="6.5" text-anchor="middle" fill="#333">0.95</text>
<text transform="translate(90.1 323.3)" font-size="6.5" text-anchor="middle" fill="#333">−0.62</text>
<text transform="translate(108.3 323.3)" font-size="6.5" text-anchor="middle" fill="#333">0.16</text>
<text transform="translate(126.4 323.3)" font-size="6.5" text-anchor="middle" fill="#333">−0.82</text>
<text transform="translate(144.6 323.3)" font-size="6.5" text-anchor="middle" fill="#333">−1.07</text>
<text transform="translate(162.7 323.3)" font-size="6.5" text-anchor="middle" fill="#333">0.88</text>
<text transform="translate(180.9 323.3)" font-size="6.5" text-anchor="middle" fill="#333">1.26</text>
<text transform="translate(199 323.3)" font-size="6.5" text-anchor="middle" fill="#333">−1.5</text>
<text transform="translate(35.7 333.2)" font-size="6.5" text-anchor="middle" fill="#333">0.7</text>
<text transform="translate(53.8 333.2)" font-size="6.5" text-anchor="middle" fill="#333">−0.46</text>
<text transform="translate(72 333.2)" font-size="6.5" text-anchor="middle" fill="#333">1.67</text>
<text transform="translate(90.1 333.2)" font-size="6.5" text-anchor="middle" fill="#333">1.69</text>
<text transform="translate(108.3 333.2)" font-size="6.5" text-anchor="middle" fill="#333">0.3</text>
<text transform="translate(126.4 333.2)" font-size="6.5" text-anchor="middle" fill="#333">0.99</text>
<text transform="translate(144.6 333.2)" font-size="6.5" text-anchor="middle" fill="#333">0.82</text>
<text transform="translate(162.7 333.2)" font-size="6.5" text-anchor="middle" fill="#333">−0.65</text>
<text transform="translate(180.9 333.2)" font-size="6.5" text-anchor="middle" fill="#333">0.49</text>
<text transform="translate(199 333.2)" font-size="6.5" text-anchor="middle" fill="#333">−0.53</text>
<text transform="translate(35.7 343.1)" font-size="6.5" text-anchor="middle" fill="#333">−1.36</text>
<text transform="translate(53.8 343.1)" font-size="6.5" text-anchor="middle" fill="#333">−1.03</text>
<text transform="translate(72 343.1)" font-size="6.5" text-anchor="middle" fill="#333">1.46</text>
<text transform="translate(90.1 343.1)" font-size="6.5" text-anchor="middle" fill="#333">0.78</text>
<text transform="translate(108.3 343.1)" font-size="6.5" text-anchor="middle" fill="#333">1.02</text>
<text transform="translate(126.4 343.1)" font-size="6.5" text-anchor="middle" fill="#333">0.63</text>
<text transform="translate(144.6 343.1)" font-size="6.5" text-anchor="middle" fill="#333">−1.11</text>
<text transform="translate(162.7 343.1)" font-size="6.5" text-anchor="middle" fill="#333">−0.67</text>
<text transform="translate(180.9 343.1)" font-size="6.5" text-anchor="middle" fill="#333">−1.45</text>
<text transform="translate(199 343.1)" font-size="6.5" text-anchor="middle" fill="#333">−1.61</text>
<text transform="translate(36.2 353)" font-size="6.5" text-anchor="middle" fill="#333">1.44<tspan font-size="5.4" dy="-1.6">*</tspan></text>
<text transform="translate(53.8 353)" font-size="6.5" text-anchor="middle" fill="#333">3.65</text>
<text transform="translate(72 353)" font-size="6.5" text-anchor="middle" fill="#333">0.51</text>
<text transform="translate(90.1 353)" font-size="6.5" text-anchor="middle" fill="#333">1.14</text>
<text transform="translate(108.3 353)" font-size="6.5" text-anchor="middle" fill="#333">0.25</text>
<text transform="translate(126.4 353)" font-size="6.5" text-anchor="middle" fill="#333">0.13</text>
<text transform="translate(144.6 353)" font-size="6.5" text-anchor="middle" fill="#333">−0.01</text>
<text transform="translate(162.7 353)" font-size="6.5" text-anchor="middle" fill="#333">0.1</text>
<text transform="translate(181.4 353)" font-size="6.5" text-anchor="middle" fill="#333">−1.83<tspan font-size="5.4" dy="-1.6">*</tspan></text>
<text transform="translate(199 353)" font-size="6.5" text-anchor="middle" fill="#333">−1.17</text>
<text transform="translate(35.7 362.9)" font-size="6.5" text-anchor="middle" fill="#333">2.86</text>
<text transform="translate(53.8 362.9)" font-size="6.5" text-anchor="middle" fill="#333">1.72</text>
<text transform="translate(72 362.9)" font-size="6.5" text-anchor="middle" fill="#333">−0.07</text>
<text transform="translate(90.1 362.9)" font-size="6.5" text-anchor="middle" fill="#333">1.36</text>
<text transform="translate(108.3 362.9)" font-size="6.5" text-anchor="middle" fill="#333">0.02</text>
<text transform="translate(126.4 362.9)" font-size="6.5" text-anchor="middle" fill="#333">0.56</text>
<text transform="translate(144.6 362.9)" font-size="6.5" text-anchor="middle" fill="#333">−2.32</text>
<text transform="translate(162.7 362.9)" font-size="6.5" text-anchor="middle" fill="#333">−1.56</text>
<text transform="translate(180.9 362.9)" font-size="6.5" text-anchor="middle" fill="#333">−0.35</text>
<text transform="translate(199 362.9)" font-size="6.5" text-anchor="middle" fill="#333">−1.99</text>
<text transform="translate(35.7 372.8)" font-size="6.5" text-anchor="middle" fill="#333">1.21</text>
<text transform="translate(53.8 372.8)" font-size="6.5" text-anchor="middle" fill="#333">−0.33</text>
<text transform="translate(72 372.8)" font-size="6.5" text-anchor="middle" fill="#333">0.53</text>
<text transform="translate(90.1 372.8)" font-size="6.5" text-anchor="middle" fill="#333">0.68</text>
<text transform="translate(108.3 372.8)" font-size="6.5" text-anchor="middle" fill="#333">1.34</text>
<text transform="translate(126.4 372.8)" font-size="6.5" text-anchor="middle" fill="#333">−1.07</text>
<text transform="translate(144.6 372.8)" font-size="6.5" text-anchor="middle" fill="#333">−0.81</text>
<text transform="translate(162.7 372.8)" font-size="6.5" text-anchor="middle" fill="#333">−1.34</text>
<text transform="translate(180.9 372.8)" font-size="6.5" text-anchor="middle" fill="#333">−0.9</text>
<text transform="translate(199 372.8)" font-size="6.5" text-anchor="middle" fill="#333">−0.12</text>
<text transform="translate(35.7 382.8)" font-size="6.5" text-anchor="middle" fill="#333">3.2</text>
<text transform="translate(53.8 382.8)" font-size="6.5" text-anchor="middle" fill="#333">−0.34</text>
<text transform="translate(72 382.8)" font-size="6.5" text-anchor="middle" fill="#333">1.08</text>
<text transform="translate(90.1 382.8)" font-size="6.5" text-anchor="middle" fill="#333">0.67</text>
<text transform="translate(108.3 382.8)" font-size="6.5" text-anchor="middle" fill="#333">1.01</text>
<text transform="translate(126.4 382.8)" font-size="6.5" text-anchor="middle" fill="#333">−1.18</text>
<text transform="translate(144.6 382.8)" font-size="6.5" text-anchor="middle" fill="#333">−2.95</text>
<text transform="translate(162.7 382.8)" font-size="6.5" text-anchor="middle" fill="#333">−0.28</text>
<text transform="translate(180.9 382.8)" font-size="6.5" text-anchor="middle" fill="#333">−1.15</text>
<text transform="translate(199 382.8)" font-size="6.5" text-anchor="middle" fill="#333">−1.2</text>
<path d="M35.7 266.4V253.3H53.8V266.4M90.1 266.4V259.8H108.3V266.4M72 266.4V259H99.2V259.8M85.6 259V256.1H126.4V266.4M44.8 253.3V252.4H106V256.1M162.7 266.4V258H180.9V266.4M171.8 258V257.3H199V266.4M144.6 266.4V251.5H185.4V257.3M75.4 252.4V246.4H165V251.5" fill="none" stroke="#666" stroke-width="0.7"/>
<path d="M26.6 271.3H18.6V281.2H26.6M26.6 291.1H22.9V301H26.6M22.9 296.1H20.4V310.9H26.6M20.4 303.5H16.2V320.8H26.6M26.6 330.8H16.2V340.6H26.6M16.2 312.2H13.6V335.7H16.2M18.6 276.3H12.1V323.9H13.6M26.6 350.5H16.2V360.4H26.6M26.6 370.3H17.8V380.2H26.6M16.2 355.5H12.4V375.3H17.8M12.1 300.1H7.4V365.4H12.4" fill="none" stroke="#666" stroke-width="0.7"/>
<text transform="translate(210.6 274)" font-size="7.5">CD4_cells</text>
<text transform="translate(210.6 283.9)" font-size="7.5">M2_mac</text>
<text transform="translate(210.6 293.8)" font-size="7.5">DCs</text>
<text transform="translate(210.6 303.7)" font-size="7.5">B_cells</text>
<text transform="translate(210.6 313.6)" font-size="7.5">Stroma</text>
<text transform="translate(210.6 323.5)" font-size="7.5">Granulocytes</text>
<text transform="translate(210.6 333.4)" font-size="7.5">M1_mac</text>
<text transform="translate(210.6 343.3)" font-size="7.5">Vessels</text>
<text transform="translate(210.6 353.2)" font-size="7.5">Tumor_PD-L1<tspan font-size="4.7" dy="-2.7">+</tspan></text>
<text transform="translate(210.6 363.1)" font-size="7.5">Tumor</text>
<text transform="translate(210.6 373)" font-size="7.5">CD8_cells</text>
<text transform="translate(210.6 382.9)" font-size="7.5">Proliferating_tumor</text>
<text transform="translate(39.2 392.6) rotate(-45)" font-size="7.9" text-anchor="end">Granulocytes</text>
<text transform="translate(57.3 392.6) rotate(-45)" font-size="7.9" text-anchor="end">M1_macrophages</text>
<text transform="translate(75.5 392.6) rotate(-45)" font-size="7.9" text-anchor="end">Tumor_bulk</text>
<text transform="translate(93.6 392.6) rotate(-45)" font-size="7.9" text-anchor="end">Immune_rich</text>
<text transform="translate(111.8 392.6) rotate(-45)" font-size="7.9" text-anchor="end">M2_macs</text>
<text transform="translate(129.9 392.6) rotate(-45)" font-size="7.9" text-anchor="end">Vessels</text>
<text transform="translate(148.1 392.6) rotate(-45)" font-size="7.9" text-anchor="end">Tumor_PDL1</text>
<text transform="translate(166.2 392.6) rotate(-45)" font-size="7.9" text-anchor="end">Tumor_adjacent_stroma</text>
<text transform="translate(184.4 392.6) rotate(-45)" font-size="7.9" text-anchor="end">Proliferating_tumor</text>
<text transform="translate(202.5 392.6) rotate(-45)" font-size="7.9" text-anchor="end">Stroma</text>
<text transform="translate(208.9 396.9)" font-size="7.8">Coefficient</text>
<rect x="208.8" y="400.8" width="7.4" height="39.9" fill="url(#ge)"/>
<text transform="translate(220.2 404.8)" font-size="8.3">3.6</text>
<text transform="translate(220.2 425.3)" font-size="8.3">0</text>
<text transform="translate(217.6 441.6)" font-size="8.3">−3.0</text>
<path d="M208.8 401.6L210.3 401.6" stroke="#fff" stroke-width="0.5"/>
<path d="M214.7 401.6L216.2 401.6" stroke="#fff" stroke-width="0.5"/>
<path d="M208.8 439.9L210.3 439.9" stroke="#fff" stroke-width="0.5"/>
<path d="M214.7 439.9L216.2 439.9" stroke="#fff" stroke-width="0.5"/>
<text transform="translate(294.1 246.8) scale(0.901 1)" font-size="12.99" font-weight="bold" fill="#000">f</text>
<rect x="325.2" y="252" width="11.1" height="10" fill="#d9d9d9"/>
<rect x="439.2" y="252" width="11.1" height="10" fill="#c5c7ca"/>
<rect x="336.2" y="252" width="11.1" height="10" fill="#e2d8be"/>
<rect x="450.2" y="252" width="11.1" height="10" fill="#d9d9d9"/>
<rect x="347.2" y="252" width="11.1" height="10" fill="#aa96cc"/>
<rect x="461.2" y="252" width="11.1" height="10" fill="#e0c7c4"/>
<rect x="358.2" y="252" width="11.1" height="10" fill="#d9d9d9"/>
<rect x="472.2" y="252" width="11.1" height="10" fill="#d9d9d9"/>
<rect x="369.2" y="252" width="11.1" height="10" fill="#d9d9d9"/>
<rect x="483.2" y="252" width="11.1" height="10" fill="#c0c2c6"/>
<rect x="380.2" y="252" width="11.1" height="10" fill="#d9d9d9"/>
<rect x="494.2" y="252" width="11.1" height="10" fill="#d9d9d9"/>
<rect x="391.2" y="252" width="11.1" height="10" fill="#d9d9d9"/>
<rect x="505.2" y="252" width="11.1" height="10" fill="#d9d9d9"/>
<rect x="402.2" y="252" width="11.1" height="10" fill="#2c50b0"/>
<rect x="516.2" y="252" width="11.1" height="10" fill="#f06b5b"/>
<rect x="413.2" y="252" width="11.1" height="10" fill="#d9d9d9"/>
<rect x="527.2" y="252" width="11.1" height="10" fill="#d9d9d9"/>
<rect x="424.2" y="252" width="11.1" height="10" fill="#2c50b0"/>
<rect x="538.2" y="252" width="11.1" height="10" fill="#e6b5ae"/>
<rect x="325.2" y="261.9" width="11.1" height="10" fill="#d9d9d9"/>
<rect x="439.2" y="261.9" width="11.1" height="10" fill="#bbbec2"/>
<rect x="336.2" y="261.9" width="11.1" height="10" fill="#e2d8be"/>
<rect x="450.2" y="261.9" width="11.1" height="10" fill="#dad6d5"/>
<rect x="347.2" y="261.9" width="11.1" height="10" fill="#b3a4cf"/>
<rect x="461.2" y="261.9" width="11.1" height="10" fill="#eaaca4"/>
<rect x="358.2" y="261.9" width="11.1" height="10" fill="#e0d8c3"/>
<rect x="472.2" y="261.9" width="11.1" height="10" fill="#a8acb4"/>
<rect x="369.2" y="261.9" width="11.1" height="10" fill="#e0d8c3"/>
<rect x="483.2" y="261.9" width="11.1" height="10" fill="#dbd3d2"/>
<rect x="380.2" y="261.9" width="11.1" height="10" fill="#f3d560"/>
<rect x="494.2" y="261.9" width="11.1" height="10" fill="#283d58"/>
<rect x="391.2" y="261.9" width="11.1" height="10" fill="#826cbe"/>
<rect x="505.2" y="261.9" width="11.1" height="10" fill="#eaaca4"/>
<rect x="402.2" y="261.9" width="11.1" height="10" fill="#2c50b0"/>
<rect x="516.2" y="261.9" width="11.1" height="10" fill="#f07162"/>
<rect x="413.2" y="261.9" width="11.1" height="10" fill="#8770c0"/>
<rect x="527.2" y="261.9" width="11.1" height="10" fill="#f07162"/>
<rect x="424.2" y="261.9" width="11.1" height="10" fill="#2c50b0"/>
<rect x="538.2" y="261.9" width="11.1" height="10" fill="#e8afa7"/>
<rect x="325.2" y="271.8" width="11.1" height="10" fill="#dcd9d1"/>
<rect x="439.2" y="271.8" width="11.1" height="10" fill="#9499a4"/>
<rect x="336.2" y="271.8" width="11.1" height="10" fill="#e0d8c3"/>
<rect x="450.2" y="271.8" width="11.1" height="10" fill="#bbbec2"/>
<rect x="347.2" y="271.8" width="11.1" height="10" fill="#7864ba"/>
<rect x="461.2" y="271.8" width="11.1" height="10" fill="#eaaca4"/>
<rect x="358.2" y="271.8" width="11.1" height="10" fill="#e0d8c3"/>
<rect x="472.2" y="271.8" width="11.1" height="10" fill="#bbbec2"/>
<rect x="369.2" y="271.8" width="11.1" height="10" fill="#d9d9d9"/>
<rect x="483.2" y="271.8" width="11.1" height="10" fill="#ddcdcb"/>
<rect x="380.2" y="271.8" width="11.1" height="10" fill="#f3d560"/>
<rect x="494.2" y="271.8" width="11.1" height="10" fill="#4c5b71"/>
<rect x="391.2" y="271.8" width="11.1" height="10" fill="#d9d9d9"/>
<rect x="505.2" y="271.8" width="11.1" height="10" fill="#c5c7ca"/>
<rect x="402.2" y="271.8" width="11.1" height="10" fill="#2c50b0"/>
<rect x="516.2" y="271.8" width="11.1" height="10" fill="#dbd3d2"/>
<rect x="413.2" y="271.8" width="11.1" height="10" fill="#9a80c8"/>
<rect x="527.2" y="271.8" width="11.1" height="10" fill="#d9d9d9"/>
<rect x="424.2" y="271.8" width="11.1" height="10" fill="#2c50b0"/>
<rect x="538.2" y="271.8" width="11.1" height="10" fill="#f05a48"/>
<rect x="325.2" y="281.8" width="11.1" height="10" fill="#d9d9d9"/>
<rect x="439.2" y="281.8" width="11.1" height="10" fill="#9499a4"/>
<rect x="336.2" y="281.8" width="11.1" height="10" fill="#e0d8c3"/>
<rect x="450.2" y="281.8" width="11.1" height="10" fill="#bbbec2"/>
<rect x="347.2" y="281.8" width="11.1" height="10" fill="#2c50b0"/>
<rect x="461.2" y="281.8" width="11.1" height="10" fill="#f07162"/>
<rect x="358.2" y="281.8" width="11.1" height="10" fill="#e2d8be"/>
<rect x="472.2" y="281.8" width="11.1" height="10" fill="#b1b5bb"/>
<rect x="369.2" y="281.8" width="11.1" height="10" fill="#e3d8b8"/>
<rect x="483.2" y="281.8" width="11.1" height="10" fill="#a8acb4"/>
<rect x="380.2" y="281.8" width="11.1" height="10" fill="#e2d8be"/>
<rect x="494.2" y="281.8" width="11.1" height="10" fill="#0e2746"/>
<rect x="391.2" y="281.8" width="11.1" height="10" fill="#c6bed4"/>
<rect x="505.2" y="281.8" width="11.1" height="10" fill="#d9d9d9"/>
<rect x="402.2" y="281.8" width="11.1" height="10" fill="#7d68bc"/>
<rect x="516.2" y="281.8" width="11.1" height="10" fill="#dbd3d2"/>
<rect x="413.2" y="281.8" width="11.1" height="10" fill="#ad9bcd"/>
<rect x="527.2" y="281.8" width="11.1" height="10" fill="#d9d9d9"/>
<rect x="424.2" y="281.8" width="11.1" height="10" fill="#2c50b0"/>
<rect x="538.2" y="281.8" width="11.1" height="10" fill="#ef8c80"/>
<rect x="325.2" y="291.7" width="11.1" height="10" fill="#d9d9d9"/>
<rect x="439.2" y="291.7" width="11.1" height="10" fill="#b1b5bb"/>
<rect x="336.2" y="291.7" width="11.1" height="10" fill="#ebd799"/>
<rect x="450.2" y="291.7" width="11.1" height="10" fill="#dbd3d2"/>
<rect x="347.2" y="291.7" width="11.1" height="10" fill="#e2d8be"/>
<rect x="461.2" y="291.7" width="11.1" height="10" fill="#e2c1bd"/>
<rect x="358.2" y="291.7" width="11.1" height="10" fill="#d9d9d9"/>
<rect x="472.2" y="291.7" width="11.1" height="10" fill="#d9d9d9"/>
<rect x="369.2" y="291.7" width="11.1" height="10" fill="#2c50b0"/>
<rect x="483.2" y="291.7" width="11.1" height="10" fill="#dbd3d2"/>
<rect x="380.2" y="291.7" width="11.1" height="10" fill="#d9d9d9"/>
<rect x="494.2" y="291.7" width="11.1" height="10" fill="#d9d9d9"/>
<rect x="391.2" y="291.7" width="11.1" height="10" fill="#d9d9d9"/>
<rect x="505.2" y="291.7" width="11.1" height="10" fill="#d9d9d9"/>
<rect x="402.2" y="291.7" width="11.1" height="10" fill="#2c50b0"/>
<rect x="516.2" y="291.7" width="11.1" height="10" fill="#ef8c80"/>
<rect x="413.2" y="291.7" width="11.1" height="10" fill="#d9d9d9"/>
<rect x="527.2" y="291.7" width="11.1" height="10" fill="#d9d9d9"/>
<rect x="424.2" y="291.7" width="11.1" height="10" fill="#c0b5d2"/>
<rect x="538.2" y="291.7" width="11.1" height="10" fill="#d9d9d9"/>
<rect x="325.2" y="301.6" width="11.1" height="10" fill="#d9d9d9"/>
<rect x="439.2" y="301.6" width="11.1" height="10" fill="#bbbec2"/>
<rect x="336.2" y="301.6" width="11.1" height="10" fill="#e0d8c3"/>
<rect x="450.2" y="301.6" width="11.1" height="10" fill="#c5c7ca"/>
<rect x="347.2" y="301.6" width="11.1" height="10" fill="#baacd0"/>
<rect x="461.2" y="301.6" width="11.1" height="10" fill="#bbbec2"/>
<rect x="358.2" y="301.6" width="11.1" height="10" fill="#ded8c8"/>
<rect x="472.2" y="301.6" width="11.1" height="10" fill="#858c99"/>
<rect x="369.2" y="301.6" width="11.1" height="10" fill="#2c50b0"/>
<rect x="483.2" y="301.6" width="11.1" height="10" fill="#f05a48"/>
<rect x="380.2" y="301.6" width="11.1" height="10" fill="#ebd799"/>
<rect x="494.2" y="301.6" width="11.1" height="10" fill="#a8acb4"/>
<rect x="391.2" y="301.6" width="11.1" height="10" fill="#9a80c8"/>
<rect x="505.2" y="301.6" width="11.1" height="10" fill="#dbd3d2"/>
<rect x="402.2" y="301.6" width="11.1" height="10" fill="#aa96cc"/>
<rect x="516.2" y="301.6" width="11.1" height="10" fill="#dbd3d2"/>
<rect x="413.2" y="301.6" width="11.1" height="10" fill="#d3d0d7"/>
<rect x="527.2" y="301.6" width="11.1" height="10" fill="#c5c7ca"/>
<rect x="424.2" y="301.6" width="11.1" height="10" fill="#ccc7d6"/>
<rect x="538.2" y="301.6" width="11.1" height="10" fill="#f05a48"/>
<rect x="325.2" y="311.5" width="11.1" height="10" fill="#ded8c8"/>
<rect x="439.2" y="311.5" width="11.1" height="10" fill="#999ea8"/>
<rect x="336.2" y="311.5" width="11.1" height="10" fill="#5756b3"/>
<rect x="450.2" y="311.5" width="11.1" height="10" fill="#f05a48"/>
<rect x="347.2" y="311.5" width="11.1" height="10" fill="#c6bed4"/>
<rect x="461.2" y="311.5" width="11.1" height="10" fill="#ef8c80"/>
<rect x="358.2" y="311.5" width="11.1" height="10" fill="#a792cb"/>
<rect x="472.2" y="311.5" width="11.1" height="10" fill="#c5c7ca"/>
<rect x="369.2" y="311.5" width="11.1" height="10" fill="#aa96cc"/>
<rect x="483.2" y="311.5" width="11.1" height="10" fill="#d9d9d9"/>
<rect x="380.2" y="311.5" width="11.1" height="10" fill="#f3d560"/>
<rect x="494.2" y="311.5" width="11.1" height="10" fill="#dbd3d2"/>
<rect x="391.2" y="311.5" width="11.1" height="10" fill="#d9d9d9"/>
<rect x="505.2" y="311.5" width="11.1" height="10" fill="#dbd3d2"/>
<rect x="402.2" y="311.5" width="11.1" height="10" fill="#ad9bcd"/>
<rect x="516.2" y="311.5" width="11.1" height="10" fill="#dbd3d2"/>
<rect x="413.2" y="311.5" width="11.1" height="10" fill="#dcd9ce"/>
<rect x="527.2" y="311.5" width="11.1" height="10" fill="#decac7"/>
<rect x="424.2" y="311.5" width="11.1" height="10" fill="#b09fce"/>
<rect x="538.2" y="311.5" width="11.1" height="10" fill="#ef9d92"/>
<rect x="325.2" y="321.4" width="11.1" height="10" fill="#baacd0"/>
<rect x="439.2" y="321.4" width="11.1" height="10" fill="#dad6d5"/>
<rect x="336.2" y="321.4" width="11.1" height="10" fill="#9078c4"/>
<rect x="450.2" y="321.4" width="11.1" height="10" fill="#b1b5bb"/>
<rect x="347.2" y="321.4" width="11.1" height="10" fill="#dcd9ce"/>
<rect x="461.2" y="321.4" width="11.1" height="10" fill="#767e8e"/>
<rect x="358.2" y="321.4" width="11.1" height="10" fill="#d9d9d9"/>
<rect x="472.2" y="321.4" width="11.1" height="10" fill="#d9d9d9"/>
<rect x="369.2" y="321.4" width="11.1" height="10" fill="#ded8c8"/>
<rect x="483.2" y="321.4" width="11.1" height="10" fill="#ddcdcb"/>
<rect x="380.2" y="321.4" width="11.1" height="10" fill="#d9d9d9"/>
<rect x="494.2" y="321.4" width="11.1" height="10" fill="#d9d9d9"/>
<rect x="391.2" y="321.4" width="11.1" height="10" fill="#d9d9d9"/>
<rect x="505.2" y="321.4" width="11.1" height="10" fill="#d9d9d9"/>
<rect x="402.2" y="321.4" width="11.1" height="10" fill="#d9d9d9"/>
<rect x="516.2" y="321.4" width="11.1" height="10" fill="#c5c7ca"/>
<rect x="413.2" y="321.4" width="11.1" height="10" fill="#d9d9d9"/>
<rect x="527.2" y="321.4" width="11.1" height="10" fill="#d9d9d9"/>
<rect x="424.2" y="321.4" width="11.1" height="10" fill="#d9d9d9"/>
<rect x="538.2" y="321.4" width="11.1" height="10" fill="#b1b5bb"/>
<rect x="325.2" y="331.4" width="11.1" height="10" fill="#7d68bc"/>
<rect x="439.2" y="331.4" width="11.1" height="10" fill="#f05a48"/>
<rect x="336.2" y="331.4" width="11.1" height="10" fill="#e2d8be"/>
<rect x="450.2" y="331.4" width="11.1" height="10" fill="#9499a4"/>
<rect x="347.2" y="331.4" width="11.1" height="10" fill="#d9d9d9"/>
<rect x="461.2" y="331.4" width="11.1" height="10" fill="#858c99"/>
<rect x="358.2" y="331.4" width="11.1" height="10" fill="#7460b8"/>
<rect x="472.2" y="331.4" width="11.1" height="10" fill="#ef968b"/>
<rect x="369.2" y="331.4" width="11.1" height="10" fill="#ded8c8"/>
<rect x="483.2" y="331.4" width="11.1" height="10" fill="#b1b5bb"/>
<rect x="380.2" y="331.4" width="11.1" height="10" fill="#baacd0"/>
<rect x="494.2" y="331.4" width="11.1" height="10" fill="#ef8c80"/>
<rect x="391.2" y="331.4" width="11.1" height="10" fill="#d9d9d9"/>
<rect x="505.2" y="331.4" width="11.1" height="10" fill="#bbbec2"/>
<rect x="402.2" y="331.4" width="11.1" height="10" fill="#ded8c8"/>
<rect x="516.2" y="331.4" width="11.1" height="10" fill="#9ea2ac"/>
<rect x="413.2" y="331.4" width="11.1" height="10" fill="#d9d9d9"/>
<rect x="527.2" y="331.4" width="11.1" height="10" fill="#bbbec2"/>
<rect x="424.2" y="331.4" width="11.1" height="10" fill="#e0d8c3"/>
<rect x="538.2" y="331.4" width="11.1" height="10" fill="#808796"/>
<rect x="325.2" y="341.3" width="11.1" height="10" fill="#baacd0"/>
<rect x="439.2" y="341.3" width="11.1" height="10" fill="#ef8c80"/>
<rect x="336.2" y="341.3" width="11.1" height="10" fill="#e3d8b8"/>
<rect x="450.2" y="341.3" width="11.1" height="10" fill="#e1c4c0"/>
<rect x="347.2" y="341.3" width="11.1" height="10" fill="#d6d5d8"/>
<rect x="461.2" y="341.3" width="11.1" height="10" fill="#9499a4"/>
<rect x="358.2" y="341.3" width="11.1" height="10" fill="#d9d9d9"/>
<rect x="472.2" y="341.3" width="11.1" height="10" fill="#d9d9d9"/>
<rect x="369.2" y="341.3" width="11.1" height="10" fill="#e3d8b8"/>
<rect x="483.2" y="341.3" width="11.1" height="10" fill="#d9d9d9"/>
<rect x="380.2" y="341.3" width="11.1" height="10" fill="#d9d9d9"/>
<rect x="494.2" y="341.3" width="11.1" height="10" fill="#d9d9d9"/>
<rect x="391.2" y="341.3" width="11.1" height="10" fill="#d9d9d9"/>
<rect x="505.2" y="341.3" width="11.1" height="10" fill="#d9d9d9"/>
<rect x="402.2" y="341.3" width="11.1" height="10" fill="#ded8c8"/>
<rect x="516.2" y="341.3" width="11.1" height="10" fill="#9ea2ac"/>
<rect x="413.2" y="341.3" width="11.1" height="10" fill="#d9d9d9"/>
<rect x="527.2" y="341.3" width="11.1" height="10" fill="#d9d9d9"/>
<rect x="424.2" y="341.3" width="11.1" height="10" fill="#ad9bcd"/>
<rect x="538.2" y="341.3" width="11.1" height="10" fill="#999ea8"/>
<path d="M325.2 257H322.6V266.9H325.2M322.6 261.9H317.2V276.8H325.2M317.2 269.4H316.3V286.7H325.2M325.2 296.6H314.4V306.6H325.2M316.3 278H307.9V301.6H314.4M325.2 316.5H318.4V326.4H325.2M325.2 336.3H319.4V346.2H325.2M318.4 321.4H311.4V341.3H319.4M307.9 289.8H306.4V331.4H311.4" fill="none" stroke="#555" stroke-width="0.7"/>
<text transform="translate(380.2 247.3)" font-size="8.6" text-anchor="middle">Cell type 2</text>
<text transform="translate(494.2 247.3)" font-size="8.6" text-anchor="middle">Cell type 2</text>
<text transform="translate(303.2 304) rotate(-90)" font-size="8.6" text-anchor="middle">Cell type 1</text>
<text transform="translate(333.3 355.6) rotate(-90)" font-size="7.3" text-anchor="end">Proliferating_tumor</text>
<text transform="translate(344.3 355.6) rotate(-90)" font-size="7.3" text-anchor="end">Granulocytes</text>
<text transform="translate(355.3 355.6) rotate(-90)" font-size="7.3" text-anchor="end">Vessels</text>
<text transform="translate(366.3 355.6) rotate(-90)" font-size="7.3" text-anchor="end">Tumor_PD-L1<tspan font-size="4.5" dy="-2.6">+</tspan></text>
<text transform="translate(377.3 355.6) rotate(-90)" font-size="7.3" text-anchor="end">M1_mac</text>
<text transform="translate(388.3 355.6) rotate(-90)" font-size="7.3" text-anchor="end">Tumor</text>
<text transform="translate(399.3 355.6) rotate(-90)" font-size="7.3" text-anchor="end">B_cells</text>
<text transform="translate(410.3 355.6) rotate(-90)" font-size="7.3" text-anchor="end">CD4_cells</text>
<text transform="translate(421.3 355.6) rotate(-90)" font-size="7.3" text-anchor="end">CD8_cells</text>
<text transform="translate(432.3 355.6) rotate(-90)" font-size="7.3" text-anchor="end">M2_mac</text>
<text transform="translate(447.3 355.6) rotate(-90)" font-size="7.3" text-anchor="end">Proliferating_tumor</text>
<text transform="translate(458.3 355.6) rotate(-90)" font-size="7.3" text-anchor="end">Granulocytes</text>
<text transform="translate(469.3 355.6) rotate(-90)" font-size="7.3" text-anchor="end">Vessels</text>
<text transform="translate(480.3 355.6) rotate(-90)" font-size="7.3" text-anchor="end">Tumor_PD-L1<tspan font-size="4.5" dy="-2.6">+</tspan></text>
<text transform="translate(491.3 355.6) rotate(-90)" font-size="7.3" text-anchor="end">M1_mac</text>
<text transform="translate(502.3 355.6) rotate(-90)" font-size="7.3" text-anchor="end">Tumor</text>
<text transform="translate(513.3 355.6) rotate(-90)" font-size="7.3" text-anchor="end">B_cells</text>
<text transform="translate(524.3 355.6) rotate(-90)" font-size="7.3" text-anchor="end">CD4_cells</text>
<text transform="translate(535.3 355.6) rotate(-90)" font-size="7.3" text-anchor="end">CD8_cells</text>
<text transform="translate(546.3 355.6) rotate(-90)" font-size="7.3" text-anchor="end">M2_mac</text>
<text transform="translate(553.6 259.6)" font-size="7.3">CD8_cells</text>
<text transform="translate(553.6 269.5)" font-size="7.3">CD4_cells</text>
<text transform="translate(553.6 279.4)" font-size="7.3">M2_mac</text>
<text transform="translate(553.6 289.3)" font-size="7.3">Vessels</text>
<text transform="translate(553.6 299.2)" font-size="7.3">B_cells</text>
<text transform="translate(553.6 309.2)" font-size="7.3">M1_mac</text>
<text transform="translate(553.6 319.1)" font-size="7.3">Granulocytes</text>
<text transform="translate(553.6 329)" font-size="7.3">Tumor_PD-L1<tspan font-size="4.5" dy="-2.6">+</tspan></text>
<text transform="translate(553.6 338.9)" font-size="7.3">Proliferating_tumor</text>
<text transform="translate(553.6 348.8)" font-size="7.3">Tumor</text>
<text transform="translate(628.4 253.6)" font-size="7.3">Progressed (no)</text>
<rect x="628.4" y="257.4" width="7.1" height="40.8" fill="url(#gfl)"/>
<text transform="translate(637.3 262)" font-size="7.3">0.4</text>
<text transform="translate(637.3 270.8)" font-size="7.3">0.2</text>
<text transform="translate(637.3 280.4)" font-size="7.3">0</text>
<text transform="translate(636.8 290)" font-size="7.3">−0.2</text>
<text transform="translate(636.8 299.2)" font-size="7.3">−0.4</text>
<text transform="translate(628.4 310.6)" font-size="7.3">Progressed (yes)</text>
<rect x="628.4" y="314" width="7.1" height="40.5" fill="url(#gfr)"/>
<text transform="translate(637.3 318.6)" font-size="7.3">0.4</text>
<text transform="translate(637.3 327.9)" font-size="7.3">0.2</text>
<text transform="translate(637.3 337.1)" font-size="7.3">0</text>
<text transform="translate(636.8 346.6)" font-size="7.3">−0.2</text>
<text transform="translate(636.8 355.6)" font-size="7.3">−0.4</text>
<text transform="translate(0.4 474.8) scale(0.901 1)" font-size="12.99" font-weight="bold" fill="#000">g</text>
<circle cx="31.5" cy="475" r="3" fill="#111111"/>
<text transform="translate(39.8 477.6)" font-size="7.4" fill="#333">B_cells</text>
<circle cx="31.5" cy="492.3" r="3" fill="#e07b88"/>
<text transform="translate(39.8 494.9)" font-size="7.4" fill="#333">CD4</text>
<circle cx="31.5" cy="509.6" r="3" fill="#d8a0d2"/>
<text transform="translate(39.8 512.2)" font-size="7.4" fill="#333">CD4_TFH</text>
<circle cx="31.5" cy="526.9" r="3" fill="#8fd3bf"/>
<text transform="translate(39.8 529.5)" font-size="7.4" fill="#333">CD8_cells</text>
<circle cx="31.5" cy="544.2" r="3" fill="#7fd1bf"/>
<text transform="translate(39.8 546.8)" font-size="7.4" fill="#333">Cytotoxic CD8</text>
<circle cx="31.5" cy="561.5" r="3" fill="#f2a030"/>
<text transform="translate(39.8 564.1)" font-size="7.4" fill="#333">DCs</text>
<circle cx="105.6" cy="475" r="3" fill="#4f479c"/>
<text transform="translate(113.9 477.6)" font-size="7.4" fill="#333">Exhausted CD8</text>
<circle cx="105.6" cy="492.3" r="3" fill="#72154d"/>
<text transform="translate(113.9 494.9)" font-size="7.4" fill="#333">Granulocytes</text>
<circle cx="105.6" cy="509.6" r="3" fill="#3a8570"/>
<text transform="translate(113.9 512.2)" font-size="7.4" fill="#333">Ki-67</text>
<circle cx="105.6" cy="526.9" r="3" fill="#e0262a"/>
<text transform="translate(113.9 529.5)" font-size="7.4" fill="#333">M1_mac</text>
<circle cx="105.6" cy="544.2" r="3" fill="#f3e22c"/>
<text transform="translate(113.9 546.8)" font-size="7.4" fill="#333">M2_mac</text>
<circle cx="105.6" cy="561.5" r="3" fill="#a9a23e"/>
<text transform="translate(113.9 564.1)" font-size="7.4" fill="#333">Stroma</text>
<circle cx="180.5" cy="475" r="3" fill="#5fc0a0"/>
<text transform="translate(188.8 477.6)" font-size="7.4" fill="#333">T<tspan font-size="5" dy="1.5">reg</tspan></text>
<circle cx="180.5" cy="492.3" r="3" fill="#5a6db8"/>
<text transform="translate(188.8 494.9)" font-size="7.4" fill="#333">Tumor</text>
<circle cx="180.5" cy="509.6" r="3" fill="#e2ede8"/>
<text transform="translate(188.8 512.2)" font-size="7.4" fill="#333">Unidentified</text>
<circle cx="180.5" cy="526.9" r="3" fill="#c0cac8"/>
<text transform="translate(188.8 529.5)" font-size="7.4" fill="#333">Vessels</text>
<path d="M35.5 587.7L35.5 720.3" stroke="#333" stroke-width="1.1"/>
<path d="M35 719.8L264.5 719.8" stroke="#333" stroke-width="1.1"/>
<path d="M31 593.6L35.5 593.6" stroke="#333" stroke-width="0.8"/>
<text transform="translate(27.8 596.2)" font-size="7.6" text-anchor="end" fill="#333">10</text>
<path d="M31 620.5L35.5 620.5" stroke="#333" stroke-width="0.8"/>
<text transform="translate(27.8 623.1)" font-size="7.6" text-anchor="end" fill="#333">5</text>
<path d="M31 648L35.5 648" stroke="#333" stroke-width="0.8"/>
<text transform="translate(27.8 650.6)" font-size="7.6" text-anchor="end" fill="#333">0</text>
<path d="M31 675.6L35.5 675.6" stroke="#333" stroke-width="0.8"/>
<text transform="translate(27.8 678.2)" font-size="7.6" text-anchor="end" fill="#333">−5</text>
<path d="M31 703.2L35.5 703.2" stroke="#333" stroke-width="0.8"/>
<text transform="translate(27.8 705.8)" font-size="7.6" text-anchor="end" fill="#333">−10</text>
<path d="M80.8 719.8L80.8 724" stroke="#333" stroke-width="0.8"/>
<text transform="translate(79.6 734.4)" font-size="7.6" text-anchor="middle" fill="#333">−10</text>
<path d="M149.8 719.8L149.8 724" stroke="#333" stroke-width="0.8"/>
<text transform="translate(149.8 734.4)" font-size="7.6" text-anchor="middle" fill="#333">0</text>
<path d="M219.5 719.8L219.5 724" stroke="#333" stroke-width="0.8"/>
<text transform="translate(219.5 734.4)" font-size="7.6" text-anchor="middle" fill="#333">10</text>
<text transform="translate(150 746)" font-size="7.8" text-anchor="middle" fill="#333">UMAP_1</text>
<text transform="translate(8.3 652.8) rotate(-90)" font-size="7.8" text-anchor="middle" fill="#333">UMAP_2</text>
<path d="M192 593.5h3M196 593.5h1M190 594.5h3M194 594.5h2M197 594.5h1M189 595.5h6M196 595.5h2M154 596.5h1M188 596.5h1M190 596.5h1M195 596.5h3M188 597.5h2M191 597.5h3M195 597.5h3M189 598.5h1M191 598.5h2M194 598.5h2M197 598.5h1M191 599.5h1M193 599.5h3M197 599.5h1M188 600.5h3M193 600.5h2M196 600.5h2M153 601.5h1M189 601.5h2M192 601.5h4M197 601.5h1M190 602.5h5M196 602.5h1M169 603.5h1M190 603.5h2M193 603.5h1M195 603.5h2M177 604.5h1M155 606.5h1M168 606.5h1M164 607.5h1M165 608.5h1M185 608.5h1M172 610.5h1M136 612.5h1M182 612.5h1M101 613.5h1M103 613.5h1M151 613.5h1M99 614.5h1M103 614.5h2M150 614.5h3M104 615.5h2M146 615.5h1M148 615.5h7M168 615.5h1M146 616.5h9M167 616.5h1M143 617.5h4M152 617.5h4M161 617.5h2M167 617.5h1M103 618.5h1M105 618.5h1M142 618.5h2M145 618.5h1M149 618.5h1M154 618.5h1M161 618.5h2M167 618.5h2M103 619.5h1M107 619.5h1M138 619.5h2M142 619.5h1M162 619.5h1M167 619.5h1M104 620.5h3M139 620.5h1M144 620.5h5M150 620.5h2M156 620.5h2M162 620.5h2M143 621.5h1M145 621.5h4M151 621.5h2M154 621.5h5M163 621.5h2M168 621.5h1M128 622.5h1M143 622.5h5M151 622.5h5M157 622.5h8M135 623.5h1M138 623.5h2M142 623.5h4M152 623.5h3M158 623.5h6M168 623.5h1M141 624.5h4M153 624.5h3M158 624.5h7M168 624.5h1M136 625.5h1M141 625.5h4M153 625.5h13M168 625.5h1M139 626.5h1M141 626.5h3M148 626.5h1M153 626.5h13M168 626.5h1M141 627.5h4M147 627.5h3M153 627.5h2M157 627.5h3M166 627.5h4M137 628.5h1M141 628.5h5M147 628.5h3M153 628.5h2M157 628.5h2M140 629.5h1M142 629.5h4M148 629.5h2M152 629.5h4M62 630.5h1M141 630.5h3M152 630.5h2M155 630.5h1M141 631.5h1M138 632.5h1M141 632.5h1M154 633.5h5M160 633.5h2M136 634.5h1M155 634.5h7M135 635.5h1M156 635.5h6M144 636.5h2M157 636.5h1M175 636.5h2M143 637.5h1M145 637.5h2M148 637.5h1M175 637.5h2M141 638.5h2M147 638.5h2M175 638.5h1M138 639.5h1M145 639.5h1M147 639.5h2M171 639.5h1M144 640.5h1M148 640.5h3M171 640.5h4M145 641.5h1M149 641.5h3M172 641.5h3M173 642.5h2M173 643.5h2M137 644.5h1M173 644.5h2M138 645.5h1M140 645.5h1M173 645.5h1M140 646.5h1M154 646.5h1M152 647.5h1M103 648.5h1M108 648.5h1M153 648.5h1M155 648.5h1M140 649.5h1M159 649.5h1M254 649.5h1M159 650.5h1M145 651.5h1M159 651.5h1M151 652.5h1M143 653.5h1M157 653.5h1M137 655.5h1M128 656.5h1M136 656.5h1M142 657.5h1M136 658.5h1M93 659.5h1M101 659.5h1M162 659.5h1M142 660.5h1M156 661.5h1M145 662.5h1M165 662.5h1M237 662.5h1M248 663.5h1M140 666.5h1M244 666.5h1M141 668.5h1M145 668.5h1M143 669.5h1M137 670.5h1M139 670.5h1M139 671.5h1M147 671.5h1M105 672.5h1M150 674.5h1M163 674.5h1M140 675.5h1M153 675.5h1M158 675.5h1M142 676.5h1M155 676.5h1M148 678.5h1M150 678.5h1M137 679.5h1M157 679.5h1M162 679.5h1M175 679.5h1M138 681.5h1M140 681.5h1M141 682.5h1M205 682.5h1M142 683.5h1M144 686.5h1M144 690.5h1M147 691.5h1M151 692.5h1M151 693.5h1M142 695.5h1M147 697.5h1M142 698.5h1M147 699.5h1M126 700.5h1M145 701.5h1M144 702.5h1M154 703.5h1M155 704.5h1M155 705.5h1M155 706.5h1M147 714.5h1" fill="none" stroke="#e0262a" stroke-width="1"/>
<path d="M195 593.5h1M196 594.5h1M154 595.5h2M155 596.5h2M191 596.5h1M155 597.5h3M190 597.5h1M155 598.5h4M190 598.5h1M193 598.5h1M150 599.5h1M155 599.5h4M188 599.5h2M151 600.5h1M155 600.5h6M157 601.5h3M157 602.5h4M157 603.5h1M160 603.5h2M194 603.5h1M117 604.5h2M150 604.5h1M154 604.5h1M159 604.5h2M167 604.5h1M170 604.5h1M173 604.5h1M186 604.5h1M117 605.5h3M158 605.5h2M181 605.5h1M118 606.5h2M86 607.5h4M119 607.5h2M166 607.5h1M174 607.5h1M86 608.5h5M118 608.5h3M179 608.5h1M87 609.5h8M162 609.5h1M89 610.5h9M175 610.5h1M184 610.5h1M89 611.5h7M158 611.5h1M166 611.5h1M90 612.5h7M100 612.5h2M133 612.5h1M138 612.5h1M183 612.5h1M92 613.5h3M105 613.5h1M122 613.5h1M124 613.5h1M128 613.5h1M132 613.5h1M101 614.5h2M121 614.5h2M124 614.5h5M133 614.5h2M137 614.5h1M95 615.5h1M101 615.5h3M106 615.5h1M121 615.5h1M124 615.5h6M132 615.5h1M135 615.5h4M179 615.5h2M95 616.5h1M97 616.5h1M101 616.5h6M123 616.5h1M126 616.5h2M129 616.5h1M137 616.5h1M140 616.5h3M96 617.5h1M98 617.5h2M104 617.5h4M122 617.5h1M126 617.5h4M141 617.5h1M96 618.5h1M98 618.5h5M104 618.5h1M107 618.5h1M123 618.5h1M126 618.5h5M136 618.5h1M140 618.5h2M155 618.5h1M98 619.5h3M102 619.5h1M104 619.5h1M106 619.5h1M121 619.5h1M123 619.5h1M125 619.5h3M129 619.5h3M134 619.5h1M137 619.5h1M151 619.5h1M160 619.5h1M169 619.5h1M98 620.5h2M102 620.5h2M107 620.5h1M125 620.5h2M128 620.5h5M135 620.5h1M138 620.5h1M149 620.5h1M98 621.5h4M103 621.5h2M106 621.5h2M121 621.5h3M125 621.5h8M137 621.5h1M142 621.5h1M79 622.5h4M98 622.5h10M121 622.5h3M125 622.5h3M129 622.5h4M136 622.5h1M78 623.5h7M99 623.5h8M121 623.5h1M123 623.5h12M136 623.5h1M77 624.5h5M84 624.5h2M99 624.5h5M105 624.5h2M121 624.5h8M130 624.5h1M132 624.5h6M165 624.5h1M184 624.5h1M61 625.5h2M76 625.5h7M87 625.5h1M99 625.5h5M107 625.5h1M122 625.5h6M129 625.5h4M134 625.5h2M139 625.5h1M61 626.5h4M76 626.5h8M100 626.5h3M122 626.5h1M125 626.5h14M144 626.5h1M61 627.5h4M77 627.5h7M102 627.5h2M105 627.5h1M107 627.5h1M122 627.5h1M124 627.5h12M138 627.5h1M165 627.5h1M59 628.5h7M77 628.5h7M102 628.5h2M123 628.5h2M126 628.5h11M138 628.5h3M175 628.5h1M59 629.5h8M77 629.5h3M81 629.5h4M123 629.5h1M127 629.5h1M130 629.5h9M162 629.5h1M165 629.5h1M172 629.5h1M60 630.5h1M63 630.5h5M79 630.5h5M85 630.5h1M127 630.5h11M139 630.5h1M157 630.5h1M163 630.5h1M62 631.5h8M80 631.5h2M126 631.5h10M137 631.5h2M140 631.5h1M64 632.5h1M66 632.5h5M80 632.5h1M122 632.5h2M126 632.5h12M140 632.5h1M67 633.5h6M115 633.5h1M118 633.5h22M142 633.5h1M67 634.5h3M71 634.5h2M115 634.5h1M117 634.5h2M120 634.5h16M137 634.5h3M153 634.5h1M70 635.5h2M73 635.5h1M96 635.5h1M110 635.5h1M114 635.5h13M128 635.5h7M136 635.5h4M172 635.5h1M231 635.5h1M69 636.5h1M71 636.5h2M75 636.5h1M78 636.5h1M96 636.5h3M106 636.5h34M142 636.5h2M156 636.5h1M159 636.5h1M162 636.5h1M224 636.5h1M70 637.5h2M77 637.5h1M80 637.5h1M82 637.5h1M96 637.5h2M105 637.5h9M115 637.5h6M122 637.5h17M144 637.5h1M78 638.5h2M96 638.5h3M105 638.5h11M117 638.5h5M123 638.5h13M137 638.5h4M176 638.5h1M74 639.5h1M77 639.5h1M79 639.5h1M82 639.5h1M104 639.5h2M107 639.5h21M129 639.5h9M139 639.5h3M144 639.5h1M146 639.5h1M75 640.5h2M80 640.5h2M104 640.5h34M139 640.5h5M74 641.5h1M76 641.5h1M81 641.5h2M101 641.5h1M103 641.5h42M45 642.5h2M74 642.5h1M76 642.5h1M83 642.5h1M99 642.5h5M105 642.5h32M138 642.5h3M142 642.5h3M149 642.5h1M162 642.5h1M44 643.5h3M85 643.5h1M96 643.5h45M142 643.5h3M44 644.5h3M95 644.5h3M99 644.5h31M131 644.5h4M136 644.5h1M138 644.5h1M140 644.5h2M144 644.5h1M149 644.5h1M151 644.5h1M171 644.5h1M44 645.5h3M80 645.5h1M83 645.5h2M86 645.5h1M93 645.5h1M95 645.5h16M112 645.5h24M141 645.5h5M147 645.5h3M157 645.5h1M44 646.5h3M90 646.5h19M110 646.5h14M125 646.5h1M127 646.5h7M135 646.5h1M137 646.5h1M142 646.5h2M145 646.5h6M163 646.5h1M44 647.5h3M84 647.5h1M90 647.5h4M95 647.5h24M120 647.5h16M143 647.5h1M145 647.5h6M154 647.5h1M166 647.5h1M44 648.5h3M69 648.5h2M89 648.5h13M104 648.5h3M109 648.5h10M120 648.5h17M143 648.5h8M152 648.5h1M156 648.5h1M67 649.5h4M87 649.5h32M120 649.5h13M134 649.5h1M136 649.5h4M141 649.5h10M152 649.5h1M157 649.5h1M67 650.5h1M69 650.5h2M87 650.5h32M120 650.5h6M127 650.5h10M138 650.5h8M147 650.5h5M153 650.5h2M156 650.5h1M88 651.5h57M148 651.5h6M157 651.5h2M89 652.5h40M130 652.5h8M139 652.5h12M152 652.5h4M157 652.5h3M90 653.5h28M119 653.5h19M139 653.5h4M144 653.5h1M146 653.5h1M148 653.5h5M154 653.5h3M158 653.5h1M91 654.5h6M98 654.5h39M138 654.5h10M149 654.5h9M159 654.5h1M162 654.5h1M166 654.5h1M198 654.5h1M92 655.5h6M99 655.5h5M105 655.5h6M113 655.5h24M138 655.5h25M92 656.5h6M99 656.5h17M117 656.5h7M125 656.5h3M129 656.5h7M137 656.5h5M143 656.5h1M145 656.5h8M154 656.5h9M91 657.5h26M118 657.5h19M138 657.5h2M143 657.5h2M146 657.5h10M157 657.5h4M162 657.5h1M90 658.5h9M100 658.5h5M106 658.5h2M109 658.5h18M128 658.5h8M137 658.5h8M146 658.5h4M151 658.5h6M158 658.5h1M161 658.5h2M191 658.5h1M240 658.5h3M90 659.5h3M94 659.5h5M100 659.5h1M102 659.5h43M146 659.5h2M149 659.5h8M158 659.5h1M160 659.5h2M177 659.5h1M201 659.5h1M239 659.5h2M242 659.5h4M90 660.5h2M93 660.5h11M105 660.5h29M135 660.5h1M137 660.5h5M143 660.5h1M145 660.5h7M153 660.5h4M158 660.5h4M163 660.5h2M240 660.5h1M242 660.5h6M94 661.5h54M149 661.5h5M155 661.5h1M157 661.5h4M162 661.5h4M179 661.5h1M236 661.5h3M240 661.5h8M95 662.5h1M97 662.5h23M121 662.5h24M146 662.5h7M155 662.5h10M238 662.5h10M249 662.5h1M96 663.5h41M138 663.5h9M159 663.5h6M237 663.5h4M242 663.5h6M249 663.5h2M98 664.5h7M110 664.5h28M139 664.5h5M145 664.5h2M160 664.5h6M178 664.5h1M182 664.5h1M184 664.5h1M237 664.5h1M239 664.5h4M245 664.5h1M247 664.5h3M110 665.5h1M112 665.5h2M116 665.5h2M119 665.5h1M121 665.5h8M130 665.5h4M135 665.5h12M161 665.5h5M239 665.5h5M245 665.5h2M119 666.5h1M122 666.5h12M135 666.5h1M137 666.5h3M141 666.5h1M143 666.5h4M161 666.5h5M241 666.5h3M122 667.5h6M129 667.5h18M161 667.5h5M185 667.5h1M121 668.5h16M138 668.5h3M142 668.5h3M161 668.5h3M165 668.5h2M181 668.5h1M115 669.5h3M120 669.5h23M144 669.5h3M160 669.5h2M164 669.5h1M167 669.5h1M107 670.5h1M110 670.5h27M140 670.5h3M144 670.5h3M156 670.5h1M160 670.5h5M166 670.5h2M105 671.5h1M107 671.5h32M140 671.5h2M143 671.5h1M145 671.5h2M148 671.5h2M151 671.5h1M156 671.5h3M160 671.5h7M168 671.5h2M104 672.5h1M106 672.5h22M129 672.5h9M139 672.5h1M141 672.5h1M144 672.5h7M152 672.5h1M154 672.5h8M163 672.5h1M165 672.5h4M101 673.5h2M108 673.5h2M111 673.5h31M144 673.5h2M150 673.5h8M159 673.5h1M161 673.5h9M98 674.5h1M101 674.5h1M104 674.5h1M110 674.5h1M113 674.5h1M115 674.5h24M140 674.5h3M144 674.5h6M151 674.5h12M164 674.5h7M179 674.5h1M182 674.5h1M96 675.5h1M103 675.5h3M107 675.5h1M109 675.5h1M114 675.5h14M129 675.5h11M141 675.5h12M155 675.5h3M159 675.5h2M162 675.5h7M170 675.5h1M105 676.5h2M108 676.5h1M111 676.5h1M115 676.5h1M118 676.5h24M144 676.5h5M150 676.5h3M156 676.5h7M164 676.5h2M167 676.5h3M171 676.5h1M98 677.5h1M103 677.5h1M106 677.5h2M113 677.5h1M118 677.5h17M136 677.5h12M149 677.5h6M156 677.5h5M162 677.5h4M167 677.5h6M93 678.5h2M100 678.5h1M102 678.5h1M104 678.5h1M116 678.5h17M134 678.5h7M142 678.5h6M149 678.5h1M151 678.5h2M154 678.5h9M164 678.5h3M168 678.5h3M172 678.5h1M93 679.5h1M95 679.5h1M105 679.5h1M107 679.5h2M116 679.5h3M120 679.5h17M138 679.5h2M141 679.5h8M150 679.5h3M155 679.5h2M158 679.5h4M163 679.5h4M169 679.5h3M202 679.5h1M94 680.5h2M101 680.5h1M105 680.5h1M111 680.5h1M114 680.5h42M157 680.5h2M160 680.5h6M167 680.5h4M172 680.5h1M202 680.5h1M95 681.5h1M99 681.5h1M101 681.5h1M104 681.5h31M136 681.5h2M139 681.5h1M141 681.5h9M151 681.5h2M154 681.5h13M168 681.5h5M204 681.5h2M101 682.5h1M106 682.5h10M117 682.5h4M122 682.5h17M140 682.5h1M142 682.5h2M146 682.5h5M154 682.5h2M157 682.5h17M203 682.5h2M100 683.5h1M119 683.5h2M123 683.5h1M125 683.5h8M134 683.5h8M143 683.5h4M148 683.5h1M156 683.5h4M161 683.5h1M163 683.5h1M165 683.5h9M203 683.5h4M96 684.5h6M103 684.5h4M129 684.5h9M139 684.5h5M145 684.5h3M154 684.5h2M157 684.5h17M204 684.5h4M95 685.5h13M109 685.5h1M130 685.5h10M142 685.5h8M154 685.5h6M161 685.5h11M206 685.5h1M95 686.5h9M105 686.5h6M130 686.5h4M135 686.5h3M139 686.5h5M145 686.5h8M154 686.5h1M156 686.5h7M164 686.5h7M94 687.5h17M130 687.5h2M133 687.5h2M136 687.5h2M139 687.5h2M142 687.5h21M165 687.5h1M168 687.5h2M94 688.5h8M103 688.5h9M132 688.5h1M135 688.5h10M146 688.5h7M154 688.5h3M158 688.5h2M161 688.5h1M168 688.5h2M75 689.5h1M96 689.5h12M109 689.5h1M111 689.5h1M136 689.5h1M138 689.5h13M152 689.5h7M160 689.5h2M168 689.5h1M74 690.5h7M97 690.5h9M111 690.5h1M139 690.5h5M146 690.5h5M152 690.5h1M155 690.5h1M157 690.5h5M163 690.5h1M168 690.5h1M73 691.5h2M77 691.5h6M99 691.5h8M111 691.5h2M139 691.5h4M145 691.5h1M148 691.5h6M158 691.5h1M74 692.5h9M100 692.5h1M102 692.5h5M112 692.5h1M139 692.5h12M154 692.5h1M76 693.5h4M81 693.5h2M101 693.5h8M139 693.5h1M141 693.5h4M146 693.5h4M152 693.5h1M160 693.5h3M77 694.5h4M103 694.5h1M105 694.5h5M140 694.5h11M77 695.5h2M108 695.5h1M125 695.5h2M141 695.5h1M143 695.5h1M145 695.5h2M148 695.5h2M163 695.5h1M167 695.5h1M123 696.5h5M129 696.5h3M141 696.5h10M162 696.5h2M122 697.5h1M125 697.5h8M142 697.5h2M146 697.5h1M148 697.5h3M163 697.5h1M123 698.5h1M126 698.5h6M143 698.5h8M121 699.5h1M126 699.5h7M142 699.5h1M145 699.5h2M149 699.5h1M123 700.5h1M125 700.5h1M127 700.5h4M132 700.5h1M143 700.5h6M121 701.5h2M126 701.5h6M146 701.5h3M124 702.5h1M127 702.5h5M145 702.5h3M153 702.5h1M127 703.5h5M144 703.5h3M153 703.5h1M155 703.5h1M127 704.5h4M153 704.5h2M124 705.5h6M154 705.5h1M153 706.5h2M147 713.5h2M148 714.5h3M149 715.5h1" fill="none" stroke="#5a6db8" stroke-width="1"/>
<path d="M197 593.5h1M193 594.5h1M195 595.5h1M189 596.5h1M192 596.5h1M194 596.5h1M153 597.5h2M194 597.5h1M159 598.5h1M188 598.5h1M196 598.5h1M152 599.5h1M160 599.5h1M190 599.5h1M192 599.5h1M196 599.5h1M152 600.5h1M191 600.5h2M150 601.5h1M152 601.5h1M160 601.5h1M191 601.5h1M196 601.5h1M152 602.5h1M189 602.5h1M195 602.5h1M156 603.5h1M175 603.5h1M180 603.5h1M189 603.5h1M192 603.5h1M151 604.5h1M155 604.5h1M163 604.5h1M195 604.5h1M169 605.5h1M178 605.5h1M151 606.5h1M158 606.5h1M155 608.5h1M155 609.5h1M160 609.5h1M170 609.5h1M174 609.5h1M180 609.5h1M156 610.5h1M186 610.5h1M156 611.5h1M170 611.5h1M183 611.5h1M102 613.5h1M104 613.5h1M135 613.5h1M137 613.5h2M155 613.5h2M164 613.5h1M180 613.5h1M105 614.5h1M149 614.5h1M155 614.5h6M99 615.5h1M133 615.5h1M147 615.5h1M155 615.5h1M157 615.5h5M164 615.5h1M167 615.5h1M173 615.5h1M96 616.5h1M100 616.5h1M128 616.5h1M155 616.5h4M160 616.5h7M95 617.5h1M97 617.5h1M100 617.5h4M140 617.5h1M142 617.5h1M147 617.5h5M156 617.5h4M163 617.5h4M97 618.5h1M106 618.5h1M132 618.5h1M146 618.5h3M150 618.5h4M156 618.5h5M163 618.5h4M178 618.5h1M101 619.5h1M105 619.5h1M132 619.5h1M135 619.5h2M140 619.5h1M143 619.5h8M152 619.5h5M158 619.5h2M161 619.5h1M163 619.5h4M168 619.5h1M100 620.5h2M127 620.5h1M137 620.5h1M140 620.5h4M152 620.5h4M158 620.5h3M164 620.5h5M176 620.5h1M135 621.5h2M138 621.5h1M140 621.5h2M149 621.5h2M153 621.5h1M159 621.5h3M165 621.5h3M133 622.5h1M135 622.5h1M137 622.5h6M148 622.5h3M156 622.5h1M165 622.5h4M107 623.5h1M140 623.5h2M146 623.5h2M149 623.5h3M155 623.5h3M164 623.5h3M187 623.5h1M104 624.5h1M107 624.5h1M129 624.5h1M131 624.5h1M139 624.5h2M145 624.5h8M156 624.5h2M166 624.5h2M133 625.5h1M140 625.5h1M145 625.5h8M166 625.5h2M103 626.5h1M140 626.5h1M145 626.5h3M149 626.5h4M166 626.5h2M136 627.5h2M139 627.5h2M145 627.5h2M150 627.5h3M155 627.5h2M160 627.5h3M164 627.5h1M150 628.5h2M155 628.5h2M159 628.5h8M168 628.5h2M80 629.5h1M128 629.5h2M139 629.5h1M146 629.5h2M150 629.5h2M156 629.5h6M163 629.5h2M166 629.5h6M61 630.5h1M138 630.5h1M140 630.5h1M144 630.5h8M156 630.5h1M158 630.5h5M164 630.5h8M139 631.5h1M142 631.5h1M144 631.5h28M139 632.5h1M142 632.5h31M227 632.5h1M140 633.5h2M143 633.5h3M147 633.5h7M159 633.5h1M162 633.5h11M227 633.5h4M70 634.5h1M140 634.5h2M143 634.5h10M154 634.5h1M163 634.5h4M168 634.5h7M226 634.5h6M72 635.5h1M127 635.5h1M140 635.5h1M142 635.5h1M144 635.5h2M147 635.5h6M154 635.5h2M162 635.5h1M164 635.5h2M167 635.5h5M173 635.5h2M223 635.5h5M229 635.5h2M73 636.5h2M76 636.5h2M79 636.5h2M140 636.5h2M146 636.5h4M151 636.5h3M155 636.5h1M158 636.5h1M160 636.5h2M164 636.5h11M225 636.5h8M72 637.5h5M78 637.5h2M81 637.5h1M114 637.5h1M140 637.5h3M149 637.5h18M168 637.5h6M177 637.5h1M227 637.5h5M72 638.5h6M80 638.5h3M143 638.5h4M149 638.5h26M177 638.5h1M228 638.5h2M72 639.5h2M75 639.5h2M78 639.5h1M80 639.5h2M83 639.5h1M106 639.5h1M128 639.5h1M142 639.5h1M149 639.5h3M153 639.5h18M172 639.5h7M72 640.5h1M74 640.5h1M77 640.5h3M82 640.5h2M147 640.5h1M151 640.5h8M161 640.5h7M169 640.5h2M175 640.5h1M77 641.5h4M84 641.5h1M146 641.5h1M148 641.5h1M152 641.5h20M175 641.5h2M75 642.5h1M77 642.5h6M84 642.5h2M104 642.5h1M137 642.5h1M141 642.5h1M145 642.5h3M150 642.5h2M153 642.5h9M163 642.5h10M175 642.5h1M77 643.5h8M86 643.5h1M141 643.5h1M145 643.5h2M149 643.5h24M78 644.5h10M130 644.5h1M142 644.5h2M145 644.5h2M148 644.5h1M152 644.5h5M159 644.5h9M169 644.5h2M172 644.5h1M81 645.5h2M85 645.5h1M94 645.5h1M111 645.5h1M136 645.5h1M151 645.5h6M158 645.5h15M188 645.5h1M83 646.5h4M109 646.5h1M126 646.5h1M141 646.5h1M152 646.5h2M155 646.5h8M164 646.5h9M199 646.5h1M85 647.5h1M140 647.5h1M142 647.5h1M144 647.5h1M151 647.5h1M156 647.5h8M165 647.5h1M167 647.5h6M102 648.5h1M139 648.5h2M142 648.5h1M154 648.5h1M157 648.5h15M200 648.5h1M119 649.5h1M133 649.5h1M135 649.5h1M151 649.5h1M153 649.5h3M160 649.5h4M165 649.5h7M184 649.5h1M195 649.5h1M152 650.5h1M155 650.5h1M161 650.5h10M193 650.5h1M146 651.5h2M155 651.5h2M160 651.5h2M163 651.5h8M138 652.5h1M160 652.5h11M183 652.5h1M147 653.5h1M153 653.5h1M160 653.5h11M97 654.5h1M137 654.5h1M158 654.5h1M160 654.5h2M163 654.5h3M167 654.5h3M98 655.5h1M164 655.5h5M116 656.5h1M124 656.5h1M153 656.5h1M141 657.5h1M145 657.5h1M156 657.5h1M161 657.5h1M171 657.5h1M127 658.5h1M157 658.5h1M159 658.5h2M145 659.5h1M148 659.5h1M157 659.5h1M159 659.5h1M136 660.5h1M144 660.5h1M152 660.5h1M157 660.5h1M238 660.5h2M241 660.5h1M148 661.5h1M154 661.5h1M239 661.5h1M248 661.5h1M96 662.5h1M120 662.5h1M154 662.5h1M173 662.5h1M248 662.5h1M137 663.5h1M157 663.5h1M171 663.5h1M178 663.5h1M138 664.5h1M238 664.5h1M243 664.5h2M246 664.5h1M134 666.5h1M142 666.5h1M166 666.5h1M128 667.5h1M166 667.5h1M137 668.5h1M146 668.5h1M160 668.5h1M162 669.5h2M165 669.5h2M177 669.5h1M138 670.5h1M165 670.5h1M142 671.5h1M159 671.5h1M128 672.5h1M140 672.5h1M162 672.5h1M169 672.5h3M142 673.5h2M146 673.5h1M148 673.5h1M158 673.5h1M139 674.5h1M181 674.5h1M95 675.5h1M100 675.5h1M112 675.5h1M154 675.5h1M101 676.5h1M143 676.5h1M149 676.5h1M153 676.5h2M163 676.5h1M175 676.5h1M115 677.5h1M135 677.5h1M148 677.5h1M155 677.5h1M161 677.5h1M166 677.5h1M179 677.5h1M96 678.5h1M110 678.5h1M133 678.5h1M153 678.5h1M163 678.5h1M167 678.5h1M171 678.5h1M119 679.5h1M154 679.5h1M167 679.5h2M172 679.5h1M96 680.5h1M113 680.5h1M166 680.5h1M171 680.5h1M173 680.5h1M150 681.5h1M153 681.5h1M167 681.5h1M116 682.5h1M121 682.5h1M144 682.5h1M147 683.5h1M155 683.5h1M162 683.5h1M164 683.5h1M144 684.5h1M148 684.5h1M156 684.5h1M141 685.5h1M153 686.5h1M163 686.5h1M132 687.5h1M138 687.5h1M141 687.5h1M102 688.5h1M153 688.5h1M157 688.5h1M160 688.5h1M108 689.5h1M106 690.5h1M143 691.5h2M146 691.5h1M154 691.5h1M161 691.5h1M164 691.5h1M71 692.5h1M101 692.5h1M152 692.5h1M164 692.5h1M140 693.5h1M145 693.5h1M72 694.5h1M111 694.5h1M161 694.5h1M144 695.5h1M147 695.5h1M164 695.5h1M144 697.5h1M121 698.5h1M124 699.5h1M143 699.5h1M131 700.5h1M149 700.5h1M144 701.5h1M149 701.5h1M148 702.5h1M126 703.5h1M147 703.5h1M124 704.5h1M149 713.5h1" fill="none" stroke="#f3e22c" stroke-width="1"/>
<path d="M193 596.5h1M150 597.5h1M153 602.5h1M151 603.5h1M170 603.5h1M176 603.5h1M179 603.5h1M161 604.5h2M166 604.5h1M168 604.5h2M171 604.5h2M174 604.5h3M178 604.5h1M180 604.5h2M150 605.5h1M160 605.5h9M170 605.5h8M179 605.5h2M182 605.5h1M186 605.5h1M160 606.5h8M169 606.5h12M183 606.5h4M152 607.5h1M156 607.5h1M159 607.5h5M165 607.5h1M167 607.5h7M175 607.5h9M150 608.5h1M157 608.5h8M166 608.5h1M169 608.5h10M180 608.5h2M156 609.5h4M161 609.5h1M165 609.5h5M171 609.5h3M175 609.5h5M181 609.5h1M183 609.5h3M157 610.5h15M173 610.5h2M176 610.5h7M185 610.5h1M157 611.5h1M159 611.5h7M167 611.5h3M171 611.5h12M184 611.5h1M155 612.5h27M185 612.5h1M157 613.5h7M165 613.5h15M183 613.5h1M186 613.5h1M161 614.5h12M174 614.5h7M186 614.5h1M215 614.5h1M156 615.5h1M162 615.5h2M165 615.5h2M169 615.5h2M172 615.5h1M176 615.5h1M168 616.5h2M172 616.5h1M213 617.5h1M128 619.5h1M157 619.5h1M219 619.5h1M136 620.5h1M161 620.5h1M174 620.5h1M181 620.5h1M212 620.5h1M148 623.5h1M143 631.5h1M183 631.5h1M173 633.5h1M184 635.5h1M154 636.5h1M163 636.5h1M167 637.5h1M226 637.5h1M159 640.5h1M168 640.5h1M177 640.5h1M168 644.5h1M134 646.5h1M119 647.5h1M164 649.5h1M148 654.5h1M104 655.5h1M117 657.5h1M108 658.5h1M99 659.5h1M134 660.5h1M100 665.5h1M156 682.5h1M80 693.5h1" fill="none" stroke="#8fd3bf" stroke-width="1"/>
<path d="M195 600.5h1M158 603.5h2M177 603.5h1M147 608.5h3M151 608.5h3M148 609.5h7M148 610.5h7M149 611.5h6M132 612.5h1M149 612.5h6M149 613.5h2M152 613.5h3M106 614.5h1M138 614.5h1M153 614.5h2M173 614.5h1M131 615.5h1M140 615.5h1M132 617.5h1M160 617.5h1M133 618.5h1M139 618.5h1M144 618.5h1M134 620.5h1M102 621.5h1M134 621.5h1M162 621.5h1M167 623.5h1M82 624.5h2M83 625.5h4M137 625.5h1M84 626.5h5M123 626.5h1M84 627.5h4M163 627.5h1M84 628.5h3M146 628.5h1M152 628.5h1M141 629.5h1M154 630.5h1M142 634.5h1M143 635.5h1M146 635.5h1M153 635.5h1M166 635.5h1M150 636.5h1M147 637.5h1M174 637.5h1M143 639.5h1M152 639.5h1M73 640.5h1M160 640.5h1M176 640.5h1M147 641.5h1M148 642.5h1M152 642.5h1M147 643.5h2M98 644.5h1M147 644.5h1M150 644.5h1M139 645.5h1M146 645.5h1M150 645.5h1M107 648.5h1M151 648.5h1M137 650.5h1M146 650.5h1M157 650.5h2M160 650.5h1M154 651.5h1M118 653.5h1M145 653.5h1M159 653.5h1M137 657.5h1M140 657.5h1M99 658.5h1M241 659.5h1M153 662.5h1M147 663.5h10M158 663.5h1M241 663.5h1M144 664.5h1M147 664.5h13M99 665.5h1M147 665.5h14M244 665.5h1M147 666.5h14M147 667.5h14M147 668.5h13M147 669.5h13M147 670.5h9M157 670.5h3M150 671.5h1M152 671.5h4M167 671.5h1M142 672.5h2M151 672.5h1M153 672.5h1M164 672.5h1M147 673.5h1M160 673.5h1M161 675.5h1M169 675.5h1M170 676.5h1M141 678.5h1M140 679.5h1M149 679.5h1M135 681.5h1M139 682.5h1M145 682.5h1M133 683.5h1M160 683.5h1M138 684.5h1M140 685.5h1M155 686.5h1M163 687.5h2M166 687.5h2M145 688.5h1M162 688.5h6M110 689.5h1M151 689.5h1M162 689.5h6M107 690.5h4M138 690.5h1M145 690.5h1M151 690.5h1M153 690.5h1M162 690.5h1M165 690.5h3M107 691.5h4M165 691.5h4M107 692.5h5M166 692.5h3M109 693.5h3M166 693.5h3M110 694.5h1M165 694.5h4M150 695.5h1M162 695.5h1M165 695.5h2M165 696.5h2M164 697.5h4M148 699.5h1" fill="none" stroke="#72154d" stroke-width="1"/>
<path d="M96 611.5h4M97 612.5h3M95 613.5h6M95 614.5h4M100 614.5h1M123 614.5h1M96 615.5h3M100 615.5h1M122 615.5h2M98 616.5h2M120 616.5h3M124 616.5h2M120 617.5h2M123 617.5h3M121 618.5h2M124 618.5h2M122 619.5h1M124 619.5h1M121 620.5h4M105 621.5h1M124 621.5h1M124 622.5h1M85 623.5h1M122 623.5h1M108 624.5h1M104 625.5h3M108 625.5h1M104 626.5h5M124 626.5h1M60 627.5h1M104 627.5h1M106 627.5h1M104 628.5h4M107 629.5h1M136 631.5h1M69 635.5h1M139 637.5h1M116 638.5h1M136 638.5h1M138 640.5h1M83 641.5h1M144 646.5h1M156 649.5h1M119 650.5h1M126 650.5h1M138 653.5h1M111 655.5h2M98 656.5h1M142 656.5h1M144 656.5h1M105 658.5h1M92 660.5h1M104 660.5h1M129 665.5h1M136 666.5h1M164 668.5h1M143 670.5h1M144 671.5h1M103 673.5h5M110 673.5h1M170 673.5h1M99 674.5h2M102 674.5h2M105 674.5h5M111 674.5h2M114 674.5h1M143 674.5h1M97 675.5h3M101 675.5h2M106 675.5h1M108 675.5h1M110 675.5h2M113 675.5h1M128 675.5h1M95 676.5h6M102 676.5h3M107 676.5h1M109 676.5h2M112 676.5h3M116 676.5h2M94 677.5h4M99 677.5h4M104 677.5h2M108 677.5h5M114 677.5h1M116 677.5h2M95 678.5h1M97 678.5h3M101 678.5h1M103 678.5h1M105 678.5h5M111 678.5h5M96 679.5h9M106 679.5h1M109 679.5h7M97 680.5h4M102 680.5h3M106 680.5h5M112 680.5h1M156 680.5h1M159 680.5h1M97 681.5h2M102 681.5h2M98 682.5h1M138 686.5h1M159 689.5h1M164 690.5h1M75 691.5h2M160 691.5h1M162 691.5h2M72 692.5h2M160 692.5h4M165 692.5h1M71 693.5h5M150 693.5h1M163 693.5h3M73 694.5h4M160 694.5h1M162 694.5h3M76 695.5h1M164 696.5h1M121 697.5h1M123 697.5h2M122 698.5h1M124 698.5h2M122 699.5h2M125 699.5h1M144 699.5h1M121 700.5h2M124 700.5h1M123 701.5h3M122 702.5h2M125 702.5h2M152 702.5h1M122 703.5h4M122 704.5h2M125 704.5h2M153 707.5h1" fill="none" stroke="#3a8570" stroke-width="1"/>
<path d="M141 612.5h1M133 613.5h1M142 614.5h1M213 614.5h2M216 614.5h7M141 615.5h1M171 615.5h1M174 615.5h2M177 615.5h2M209 615.5h1M214 615.5h9M159 616.5h1M170 616.5h2M173 616.5h12M207 616.5h2M214 616.5h9M168 617.5h17M201 617.5h4M214 617.5h8M169 618.5h9M179 618.5h9M201 618.5h2M212 618.5h10M133 619.5h1M170 619.5h19M207 619.5h1M210 619.5h9M220 619.5h2M169 620.5h5M175 620.5h1M177 620.5h4M182 620.5h6M206 620.5h6M213 620.5h9M139 621.5h1M169 621.5h18M204 621.5h14M170 622.5h16M208 622.5h4M170 623.5h16M201 623.5h3M208 623.5h4M138 624.5h1M177 624.5h7M187 624.5h1M201 624.5h3M178 625.5h7M202 625.5h1M178 626.5h7M123 627.5h1M178 627.5h7M167 628.5h1M179 628.5h6M180 629.5h5M179 630.5h6M179 631.5h4M184 631.5h2M176 632.5h10M146 633.5h1M177 633.5h10M162 634.5h1M167 634.5h1M178 634.5h9M163 635.5h1M179 635.5h5M228 635.5h1M181 636.5h3M223 636.5h1M182 637.5h1M75 641.5h1M157 644.5h2M153 647.5h1M164 647.5h1M162 651.5h1M163 655.5h1M134 686.5h1" fill="none" stroke="#e07b88" stroke-width="1"/>
<path d="M201 614.5h1M212 614.5h1M199 615.5h3M210 615.5h4M197 616.5h5M209 616.5h5M194 617.5h7M205 617.5h8M193 618.5h8M203 618.5h9M189 619.5h18M208 619.5h2M188 620.5h18M187 621.5h17M186 622.5h22M186 623.5h1M188 623.5h13M204 623.5h4M185 624.5h2M188 624.5h13M205 624.5h3M185 625.5h13M206 625.5h2M185 626.5h11M185 627.5h10M185 628.5h10M185 629.5h8M185 630.5h8M186 631.5h7M186 632.5h5M187 633.5h3" fill="none" stroke="#111111" stroke-width="1"/>
<path d="M170 624.5h2M173 624.5h4M170 625.5h8M171 626.5h1M173 626.5h5M171 627.5h3M175 627.5h3M171 628.5h1M173 628.5h2M177 628.5h2M173 629.5h7M172 630.5h2M175 630.5h4M172 631.5h3M176 631.5h3M186 643.5h1M195 643.5h1M203 644.5h1M195 645.5h1M182 646.5h1M193 647.5h2M179 649.5h1M192 649.5h1M189 652.5h9M199 652.5h2M176 653.5h1M188 653.5h3M192 653.5h10M183 654.5h2M186 654.5h9M197 654.5h1M199 654.5h5M183 655.5h15M199 655.5h7M181 656.5h23M177 657.5h1M179 657.5h6M186 657.5h1M189 657.5h13M169 658.5h1M177 658.5h14M192 658.5h11M175 659.5h2M178 659.5h23M202 659.5h2M176 660.5h29M175 661.5h4M180 661.5h28M174 662.5h16M192 662.5h1M194 662.5h7M203 662.5h2M206 662.5h1M173 663.5h3M179 663.5h8M195 663.5h2M198 663.5h1M167 664.5h1M172 664.5h3M176 664.5h2M179 664.5h3M183 664.5h1M196 664.5h1M172 665.5h2M175 665.5h11M169 666.5h1M173 666.5h2M176 666.5h6M183 666.5h10M173 667.5h10M184 667.5h1M186 667.5h4M191 667.5h1M173 668.5h8M182 668.5h7M174 669.5h3M178 669.5h9M174 670.5h4M179 670.5h6M174 671.5h9M174 672.5h6M183 672.5h1M175 673.5h5M181 673.5h2M175 674.5h3M176 675.5h3M173 677.5h1M178 677.5h1" fill="none" stroke="#c3cdcb" stroke-width="1"/>
<path d="M172 624.5h1M172 628.5h1M177 641.5h3M184 641.5h3M176 642.5h11M188 642.5h2M175 643.5h11M187 643.5h5M193 643.5h2M196 643.5h4M175 644.5h27M204 644.5h1M174 645.5h14M189 645.5h6M196 645.5h10M173 646.5h9M183 646.5h16M200 646.5h6M173 647.5h20M195 647.5h7M203 647.5h2M172 648.5h16M189 648.5h11M201 648.5h1M172 649.5h7M180 649.5h4M185 649.5h7M193 649.5h2M196 649.5h4M171 650.5h22M194 650.5h3M199 650.5h1M171 651.5h20M171 652.5h12M184 652.5h5M198 652.5h1M171 653.5h5M177 653.5h11M170 654.5h13M196 654.5h1M169 655.5h13M169 656.5h12M168 657.5h3M172 657.5h5M178 657.5h1M187 657.5h1M168 658.5h1M170 658.5h7M167 659.5h8M166 660.5h10M166 661.5h8M166 662.5h6M165 663.5h6M176 663.5h1M166 664.5h1M168 664.5h3M166 665.5h6M174 665.5h1M167 666.5h2M170 666.5h3M175 666.5h1M167 667.5h6M183 667.5h1M167 668.5h6M168 669.5h6M168 670.5h6M170 671.5h4M172 672.5h2M171 673.5h4M171 674.5h4M171 675.5h5M179 675.5h1M181 675.5h1M172 676.5h3M176 676.5h2M174 677.5h3M180 677.5h1M173 678.5h4M173 679.5h2M178 679.5h1" fill="none" stroke="#a9a23e" stroke-width="1"/>
<text transform="translate(293.9 475.3) scale(0.901 1)" font-size="12.99" font-weight="bold" fill="#000">h</text>
<path d="M320.2 481L320.2 613.3" stroke="#4a5670" stroke-width="1.2"/>
<path d="M320.2 477L318 483.5L322.4 483.5Z" fill="#4a5670"/>
<path d="M359.9 654.2L641 654.2" stroke="#4a5670" stroke-width="1.2"/>
<path d="M645 654.2L638.5 652L638.5 656.4Z" fill="#4a5670"/>
<text transform="translate(323.1 633) rotate(-90)" font-size="7.6" text-anchor="middle" fill="#333">UMAP_2</text>
<text transform="translate(326 656.9)" font-size="7.6" fill="#333">UMAP_1</text>
<text transform="translate(393.8 474.8)" font-size="8.6" text-anchor="middle">PanCK</text>
<text transform="translate(489.8 474.8)" font-size="8.6" text-anchor="middle">PD-L1</text>
<text transform="translate(596.3 474.8)" font-size="8.6" text-anchor="middle">PD-1</text>
<text transform="translate(390.2 561.6)" font-size="8.6" text-anchor="middle">Ki-67</text>
<text transform="translate(489 561.6)" font-size="8.6" text-anchor="middle">CD163</text>
<text transform="translate(598 561.6)" font-size="8.6" text-anchor="middle">CD68</text>
<use href="#hs" x="333" y="474"/>
<use href="#hs" x="440" y="474"/>
<use href="#hs" x="543" y="474"/>
<use href="#hs" x="334" y="562"/>
<use href="#hs" x="440" y="563"/>
<use href="#hs" x="544" y="563"/>
<path d="M387 482.5h1M390 485.5h1M357 487.5h1M384 488.5h1M353 489.5h2M356 489.5h1M382 489.5h1M353 490.5h2M356 490.5h1M372 490.5h1M381 490.5h1M384 490.5h1M412 490.5h1M370 491.5h1M414 491.5h1M357 492.5h2M415 492.5h1M380 493.5h1M396 493.5h1M401 493.5h1M359 494.5h1M361 494.5h3M377 494.5h1M359 495.5h1M363 495.5h1M380 495.5h1M382 495.5h1M349 496.5h1M378 496.5h1M359 497.5h1M382 497.5h1M387 497.5h1M360 498.5h1M373 498.5h1M376 498.5h2M383 498.5h1M392 498.5h1M406 498.5h1M373 499.5h1M379 499.5h1M382 499.5h1M389 499.5h1M341 500.5h1M343 500.5h1M392 500.5h1M341 501.5h1M343 501.5h2M387 502.5h1M341 503.5h1M343 503.5h1M378 503.5h1M381 503.5h1M389 503.5h2M398 503.5h1M402 503.5h1M380 504.5h1M382 504.5h1M397 504.5h1M344 505.5h1M348 505.5h2M378 505.5h1M395 505.5h1M398 505.5h1M347 506.5h2M353 506.5h1M382 506.5h1M354 507.5h1M366 507.5h3M371 507.5h2M377 507.5h2M380 507.5h1M348 508.5h1M352 508.5h3M362 508.5h1M367 508.5h1M371 508.5h1M375 508.5h2M380 508.5h1M389 508.5h1M356 509.5h1M372 509.5h2M376 509.5h2M384 509.5h2M393 509.5h1M397 509.5h1M403 509.5h1M352 510.5h1M355 510.5h1M357 510.5h1M374 510.5h1M377 510.5h1M382 510.5h1M384 510.5h2M410 510.5h2M356 511.5h2M359 511.5h1M376 511.5h1M379 511.5h1M383 511.5h1M387 511.5h2M406 511.5h1M364 512.5h1M369 512.5h1M378 512.5h1M354 513.5h1M358 513.5h1M363 513.5h2M375 513.5h1M381 513.5h1M383 513.5h1M391 513.5h1M396 513.5h1M355 514.5h2M381 514.5h1M383 514.5h1M392 514.5h1M395 514.5h1M400 514.5h1M402 514.5h1M404 514.5h1M356 515.5h1M376 515.5h1M378 515.5h1M385 515.5h1M391 515.5h1M358 516.5h1M366 516.5h1M377 516.5h2M380 516.5h1M382 516.5h1M396 516.5h1M354 517.5h2M364 518.5h2M382 518.5h2M392 518.5h1M403 518.5h1M379 519.5h1M386 519.5h1M398 519.5h1M427 519.5h1M357 520.5h1M359 520.5h1M363 520.5h1M376 520.5h1M382 520.5h2M386 520.5h1M388 520.5h1M360 521.5h1M384 521.5h1M427 521.5h1M353 522.5h1M359 522.5h1M363 522.5h1M382 522.5h2M401 522.5h1M427 522.5h1M430 522.5h1M355 523.5h1M358 523.5h2M364 523.5h1M380 523.5h1M384 523.5h1M391 523.5h1M364 524.5h1M382 524.5h2M391 524.5h1M397 524.5h1M358 525.5h1M367 525.5h1M379 525.5h1M382 525.5h2M386 525.5h1M389 525.5h1M401 525.5h1M367 526.5h1M379 526.5h2M383 526.5h1M380 527.5h1M382 527.5h1M384 527.5h1M372 528.5h1M376 528.5h1M378 528.5h1M398 528.5h1M379 529.5h1M382 529.5h1M370 530.5h1M376 530.5h1M378 530.5h1M385 530.5h1M357 531.5h1M373 531.5h1M375 531.5h1M385 531.5h1M357 532.5h1M372 532.5h1M374 532.5h1M355 533.5h1M370 533.5h2M373 533.5h1M377 533.5h1M355 534.5h1M357 534.5h1M375 534.5h1M389 534.5h1M393 534.5h1M371 535.5h1M373 535.5h1M386 535.5h1M345 536.5h2M364 536.5h2M367 536.5h2M371 536.5h1M375 536.5h1M345 537.5h1M349 537.5h1M349 538.5h1M353 539.5h1M364 539.5h2M377 539.5h2M382 539.5h1M346 540.5h1M353 541.5h1M366 541.5h1M385 541.5h1M365 542.5h1M367 542.5h1M381 542.5h1M353 543.5h1M379 543.5h1M386 543.5h1M369 544.5h1M339 545.5h1M380 545.5h1M380 546.5h1" fill="none" stroke="#7fb9d6" stroke-width="1"/>
<path d="M392 486.5h1M356 488.5h1M359 489.5h1M355 490.5h1M357 490.5h2M374 490.5h1M353 491.5h2M375 491.5h1M355 492.5h1M361 492.5h1M357 493.5h1M372 493.5h1M360 494.5h1M361 495.5h1M376 495.5h2M379 495.5h1M363 496.5h1M371 496.5h1M348 497.5h1M361 497.5h1M372 497.5h1M374 497.5h1M376 497.5h2M379 497.5h1M379 498.5h2M385 501.5h1M343 502.5h2M347 503.5h1M348 504.5h1M345 505.5h2M350 506.5h1M376 506.5h2M346 507.5h1M365 507.5h1M375 507.5h1M369 508.5h1M359 509.5h2M375 509.5h1M358 510.5h1M369 510.5h1M372 510.5h2M376 510.5h1M355 511.5h1M358 511.5h1M368 511.5h1M373 511.5h1M375 511.5h1M378 511.5h1M381 511.5h1M354 512.5h1M356 512.5h1M358 512.5h1M363 512.5h1M373 512.5h1M381 512.5h1M356 513.5h1M359 513.5h1M362 513.5h1M367 513.5h3M379 513.5h1M411 513.5h1M357 514.5h1M359 514.5h1M367 514.5h1M372 514.5h2M375 514.5h1M378 514.5h2M386 514.5h1M359 515.5h1M362 515.5h1M366 515.5h1M373 515.5h1M380 515.5h1M355 516.5h1M360 516.5h2M365 516.5h1M368 516.5h2M379 516.5h1M381 516.5h1M388 516.5h1M357 517.5h2M360 517.5h1M377 517.5h3M381 517.5h1M384 517.5h1M357 518.5h1M359 518.5h1M378 518.5h4M399 518.5h1M363 519.5h1M380 519.5h1M384 519.5h1M428 519.5h2M353 520.5h1M361 520.5h2M380 520.5h1M426 520.5h2M429 520.5h1M431 520.5h1M356 521.5h1M359 521.5h1M368 521.5h1M378 521.5h1M381 521.5h1M430 521.5h1M432 521.5h1M356 522.5h3M361 522.5h2M365 522.5h1M428 522.5h1M431 522.5h1M354 523.5h1M357 523.5h1M360 523.5h2M359 524.5h1M361 524.5h2M366 524.5h1M379 524.5h1M381 524.5h1M387 524.5h1M359 525.5h1M365 525.5h1M398 525.5h1M359 526.5h1M369 526.5h1M381 526.5h2M386 526.5h2M362 528.5h1M360 529.5h1M373 529.5h1M376 529.5h1M380 529.5h1M366 530.5h1M369 530.5h1M371 530.5h1M374 530.5h2M380 530.5h1M393 530.5h1M358 531.5h1M369 531.5h1M371 531.5h2M378 531.5h1M384 531.5h1M371 532.5h1M376 532.5h1M379 532.5h2M358 533.5h1M369 533.5h1M368 534.5h1M370 534.5h1M379 534.5h1M391 534.5h1M357 535.5h1M367 535.5h1M378 535.5h1M348 536.5h1M369 536.5h1M347 537.5h1M345 538.5h1M390 538.5h1M347 539.5h2M367 539.5h1M381 539.5h1M348 540.5h1M380 540.5h2M384 541.5h1M379 542.5h1M380 544.5h3" fill="none" stroke="#a9dbc2" stroke-width="1"/>
<path d="M357 488.5h1M355 489.5h1M359 490.5h1M358 491.5h1M371 491.5h2M374 491.5h1M359 492.5h1M371 492.5h3M375 492.5h2M371 494.5h1M370 495.5h4M373 496.5h1M360 497.5h1M370 497.5h2M373 497.5h1M375 498.5h1M347 504.5h1M345 506.5h1M369 507.5h2M373 507.5h1M372 508.5h2M358 509.5h1M368 509.5h3M359 510.5h1M374 511.5h1M367 512.5h1M371 512.5h1M374 512.5h4M371 513.5h3M364 514.5h3M370 514.5h1M376 514.5h2M355 515.5h1M358 515.5h1M364 515.5h2M370 515.5h1M374 515.5h2M377 515.5h1M362 516.5h1M372 516.5h1M376 516.5h1M356 517.5h1M359 517.5h1M361 517.5h4M370 517.5h2M373 517.5h1M354 518.5h1M358 518.5h1M361 518.5h2M366 518.5h1M370 518.5h1M384 518.5h1M357 519.5h1M359 519.5h1M361 519.5h1M364 519.5h1M369 519.5h1M378 519.5h1M383 519.5h1M365 520.5h2M370 520.5h1M363 521.5h1M373 521.5h1M379 521.5h1M383 521.5h1M360 522.5h1M364 522.5h1M378 522.5h1M429 522.5h1M356 523.5h1M362 523.5h1M365 523.5h2M379 523.5h1M357 524.5h1M363 524.5h1M367 524.5h1M369 524.5h1M378 524.5h1M380 524.5h1M360 525.5h1M362 525.5h3M366 525.5h1M368 525.5h1M358 526.5h1M362 526.5h1M368 526.5h1M376 526.5h2M359 527.5h2M362 527.5h3M366 527.5h1M372 527.5h1M376 527.5h2M379 527.5h1M364 528.5h1M366 528.5h1M381 528.5h1M365 529.5h4M370 529.5h1M372 529.5h1M374 529.5h2M377 529.5h1M367 530.5h1M372 530.5h2M379 530.5h1M367 531.5h1M370 531.5h1M374 531.5h1M358 532.5h1M367 532.5h3M359 533.5h1M368 533.5h1M367 534.5h1M348 537.5h1M365 537.5h1M346 538.5h1M378 540.5h2M382 540.5h1M381 541.5h2M380 543.5h1" fill="none" stroke="#f1e89a" stroke-width="1"/>
<path d="M357 489.5h1M357 491.5h1M359 493.5h1M377 493.5h1M373 494.5h1M375 494.5h1M350 496.5h1M351 497.5h1M375 497.5h1M365 513.5h1M370 513.5h1M368 514.5h1M367 515.5h2M359 516.5h1M370 516.5h1M375 516.5h1M365 517.5h1M368 517.5h1M374 517.5h1M376 517.5h1M369 518.5h1M371 518.5h5M360 519.5h1M366 519.5h1M370 519.5h2M373 519.5h4M368 520.5h2M371 520.5h5M377 520.5h1M362 521.5h1M364 521.5h1M369 521.5h4M374 521.5h3M369 522.5h3M375 522.5h3M367 523.5h1M369 523.5h1M372 523.5h1M374 523.5h2M377 523.5h1M368 524.5h1M372 524.5h3M377 524.5h1M361 525.5h1M369 525.5h1M375 525.5h2M378 525.5h1M370 526.5h1M372 526.5h2M375 526.5h1M369 527.5h1M374 527.5h1M361 528.5h1M370 528.5h2M379 528.5h1M362 529.5h1M364 529.5h1M369 529.5h1M358 530.5h8M368 530.5h1M361 531.5h5M359 532.5h8M360 533.5h6M363 534.5h2M364 535.5h1M346 539.5h1" fill="none" stroke="#dc3a1e" stroke-width="1"/>
<path d="M360 490.5h1M373 490.5h1M355 491.5h2M361 491.5h1M356 492.5h1M374 492.5h1M361 493.5h1M371 493.5h1M373 493.5h1M375 493.5h2M372 494.5h1M374 494.5h1M360 495.5h1M375 495.5h1M372 496.5h1M375 496.5h1M352 497.5h1M349 501.5h1M375 510.5h1M357 512.5h1M365 512.5h1M368 512.5h1M372 512.5h1M366 513.5h1M374 513.5h1M360 514.5h1M362 514.5h1M369 514.5h1M374 514.5h1M363 515.5h1M369 515.5h1M372 515.5h1M356 516.5h2M363 516.5h2M367 516.5h1M373 516.5h2M366 517.5h2M369 517.5h1M375 517.5h1M363 518.5h1M368 518.5h1M376 518.5h1M362 519.5h1M365 519.5h1M367 519.5h1M372 519.5h1M377 519.5h1M360 520.5h1M367 520.5h1M357 521.5h1M367 521.5h1M377 521.5h1M380 521.5h1M429 521.5h1M367 522.5h1M372 522.5h3M379 522.5h1M363 523.5h1M368 523.5h1M370 523.5h2M373 523.5h1M376 523.5h1M378 523.5h1M360 524.5h1M365 524.5h1M370 524.5h2M370 525.5h1M374 525.5h1M377 525.5h1M363 526.5h4M371 526.5h1M374 526.5h1M365 527.5h1M368 527.5h1M370 527.5h2M375 527.5h1M365 528.5h1M369 528.5h1M375 528.5h1M361 529.5h1M363 529.5h1M371 529.5h1M360 531.5h1M368 531.5h1M375 532.5h1M366 533.5h2M362 534.5h1M366 534.5h1M369 534.5h1M363 535.5h1M363 536.5h1M347 538.5h2M377 540.5h1M378 541.5h3" fill="none" stroke="#f0a35c" stroke-width="1"/>
<path d="M511 478.5h1M511 482.5h2M495 484.5h1M494 485.5h1M470 486.5h1M494 486.5h1M497 486.5h1M500 486.5h1M491 487.5h1M497 487.5h1M501 487.5h1M503 487.5h1M505 487.5h1M489 488.5h1M493 488.5h1M504 488.5h1M506 488.5h1M492 489.5h1M501 489.5h1M506 489.5h1M479 490.5h1M489 490.5h1M497 490.5h1M491 491.5h1M504 491.5h2M516 491.5h1M523 491.5h1M486 492.5h1M491 492.5h1M503 492.5h1M505 492.5h1M508 492.5h1M511 492.5h1M513 492.5h1M521 492.5h1M525 492.5h1M487 493.5h1M496 493.5h1M507 493.5h1M509 493.5h1M513 493.5h1M521 493.5h1M524 493.5h1M483 494.5h1M489 494.5h3M497 494.5h1M506 494.5h1M510 494.5h1M512 494.5h1M520 494.5h2M489 495.5h2M493 495.5h1M500 495.5h1M508 495.5h1M518 495.5h1M492 496.5h1M495 496.5h1M501 496.5h2M506 496.5h1M509 496.5h1M515 496.5h1M519 496.5h1M489 497.5h1M499 497.5h5M505 497.5h1M507 497.5h1M509 497.5h1M511 497.5h2M515 497.5h2M498 498.5h3M505 498.5h1M480 499.5h1M496 499.5h2M481 500.5h1M490 500.5h1M499 500.5h2M504 500.5h1M492 501.5h1M501 501.5h1M503 501.5h1M512 501.5h1M498 502.5h2M511 502.5h1M495 503.5h1M499 503.5h1M503 503.5h1M505 503.5h1M503 504.5h2M490 505.5h1M497 505.5h1M507 505.5h1M492 506.5h1M500 506.5h2M492 507.5h2M504 507.5h1M476 508.5h1M494 508.5h1M491 509.5h1M506 509.5h1M493 510.5h1M510 510.5h1M501 511.5h1M511 512.5h1M501 513.5h1M499 514.5h1M473 515.5h1M489 515.5h1M497 515.5h1M502 515.5h1M496 518.5h1M535 519.5h1M479 520.5h1M533 520.5h1M535 520.5h1M537 520.5h1M477 521.5h1M479 521.5h1M533 521.5h1M537 521.5h1M533 522.5h1M473 523.5h1M504 523.5h1M472 524.5h1M501 527.5h1M465 530.5h1M474 531.5h1M492 533.5h1M461 540.5h1" fill="none" stroke="#a9dbc2" stroke-width="1"/>
<path d="M510 480.5h2M510 481.5h1M494 483.5h2M494 484.5h1M493 485.5h1M496 485.5h1M500 485.5h1M490 486.5h1M492 486.5h1M502 486.5h1M489 487.5h1M498 487.5h1M504 487.5h1M506 487.5h1M462 488.5h1M488 488.5h1M489 489.5h1M505 489.5h1M487 490.5h2M507 490.5h1M520 490.5h4M460 491.5h1M477 491.5h1M487 491.5h2M493 491.5h1M506 491.5h1M515 491.5h1M517 491.5h3M522 491.5h1M489 492.5h2M492 492.5h1M506 492.5h1M512 492.5h1M514 492.5h2M517 492.5h2M524 492.5h1M489 493.5h1M493 493.5h1M508 493.5h1M514 493.5h1M516 493.5h1M522 493.5h1M487 494.5h1M507 494.5h1M509 494.5h1M513 494.5h4M519 494.5h1M523 494.5h1M477 495.5h1M486 495.5h3M507 495.5h1M512 495.5h1M515 495.5h1M519 495.5h2M522 495.5h1M486 496.5h1M489 496.5h1M497 496.5h1M503 496.5h1M505 496.5h1M511 496.5h1M514 496.5h1M520 496.5h1M470 497.5h1M477 497.5h1M485 497.5h2M490 497.5h1M492 497.5h1M504 497.5h1M508 497.5h1M514 497.5h1M490 498.5h1M493 498.5h1M502 498.5h3M509 498.5h1M512 498.5h1M514 498.5h1M486 499.5h1M492 499.5h4M500 499.5h3M508 499.5h1M489 500.5h1M491 500.5h1M496 500.5h3M501 500.5h2M506 500.5h3M510 500.5h2M488 501.5h1M491 501.5h1M493 501.5h1M495 501.5h1M497 501.5h2M500 501.5h1M502 501.5h1M506 501.5h1M450 502.5h1M491 502.5h2M494 502.5h2M502 502.5h1M504 502.5h1M508 502.5h1M485 503.5h1M492 503.5h1M496 503.5h2M500 503.5h1M507 503.5h4M531 503.5h1M448 504.5h1M454 504.5h2M485 504.5h1M495 504.5h1M500 504.5h3M505 504.5h1M511 504.5h2M489 505.5h1M492 505.5h1M495 505.5h2M499 505.5h2M503 505.5h2M506 505.5h1M509 505.5h1M511 505.5h1M480 506.5h1M484 506.5h1M488 506.5h1M491 506.5h1M496 506.5h1M499 506.5h1M503 506.5h1M505 506.5h2M510 506.5h1M494 507.5h1M496 507.5h1M500 507.5h2M503 507.5h1M505 507.5h1M508 507.5h1M456 508.5h1M487 508.5h1M489 508.5h1M496 508.5h1M498 508.5h2M505 508.5h2M511 508.5h1M514 508.5h1M475 509.5h1M488 509.5h1M490 509.5h1M496 509.5h2M501 509.5h1M508 509.5h1M511 509.5h1M487 510.5h1M491 510.5h1M494 510.5h2M502 510.5h1M509 510.5h1M461 511.5h2M498 511.5h2M507 511.5h1M513 511.5h1M495 512.5h1M499 512.5h1M502 512.5h1M506 512.5h1M508 512.5h1M512 512.5h1M470 513.5h1M479 513.5h1M481 513.5h1M486 513.5h1M488 513.5h3M495 513.5h1M497 513.5h1M499 513.5h2M504 513.5h1M509 513.5h1M470 514.5h1M482 514.5h1M490 514.5h1M493 514.5h3M504 514.5h1M509 514.5h1M514 514.5h1M469 515.5h1M506 515.5h1M510 515.5h1M516 515.5h1M484 516.5h1M495 516.5h1M498 516.5h1M503 516.5h1M505 517.5h1M465 518.5h1M470 518.5h1M494 518.5h1M503 518.5h1M473 519.5h1M479 519.5h1M487 519.5h1M498 519.5h1M511 519.5h1M534 519.5h1M536 519.5h1M472 520.5h1M478 520.5h1M500 520.5h1M539 520.5h1M488 521.5h1M495 521.5h1M509 521.5h1M539 521.5h1M462 522.5h1M470 522.5h1M472 522.5h1M499 522.5h1M537 522.5h1M503 523.5h1M502 524.5h1M465 525.5h1M471 525.5h1M492 525.5h1M483 526.5h1M488 526.5h1M502 526.5h1M467 527.5h1M479 528.5h1M497 528.5h1M483 529.5h1M483 530.5h1M469 531.5h1M491 531.5h1M485 532.5h1M492 532.5h1M475 533.5h1M478 534.5h1M479 535.5h1M484 535.5h1M482 536.5h1M456 537.5h1M488 537.5h1M488 539.5h1M475 540.5h1M457 542.5h1M488 542.5h1M497 543.5h1" fill="none" stroke="#7fb9d6" stroke-width="1"/>
<path d="M511 481.5h2M511 483.5h1M492 485.5h1M499 485.5h1M491 486.5h1M501 486.5h1M494 487.5h3M499 487.5h1M502 487.5h1M491 488.5h2M494 488.5h1M496 488.5h6M503 488.5h1M505 488.5h1M480 489.5h1M490 489.5h2M493 489.5h1M496 489.5h2M503 489.5h2M481 490.5h1M490 490.5h1M492 490.5h4M499 490.5h1M503 490.5h1M516 490.5h1M481 491.5h1M489 491.5h2M497 491.5h2M503 491.5h1M487 492.5h1M494 492.5h1M496 492.5h1M499 492.5h1M507 492.5h1M509 492.5h1M520 492.5h1M482 493.5h1M490 493.5h3M494 493.5h1M502 493.5h1M506 493.5h1M512 493.5h1M518 493.5h2M493 494.5h1M495 494.5h1M503 494.5h1M505 494.5h1M522 494.5h1M494 495.5h1M496 495.5h1M499 495.5h1M502 495.5h1M505 495.5h2M513 495.5h1M517 495.5h1M483 496.5h2M493 496.5h2M500 496.5h1M504 496.5h1M480 497.5h1M483 497.5h1M491 497.5h1M493 497.5h1M497 497.5h2M480 498.5h1M482 498.5h1M488 498.5h1M492 498.5h1M495 498.5h2M501 498.5h1M498 499.5h2M506 499.5h1M487 500.5h1M499 501.5h1M496 502.5h1M501 505.5h1M501 508.5h1M498 509.5h1M537 519.5h1M536 520.5h1M538 520.5h1M538 521.5h1M534 522.5h1" fill="none" stroke="#f1e89a" stroke-width="1"/>
<path d="M512 484.5h1M496 486.5h1M492 487.5h1M495 488.5h1M494 489.5h2M498 489.5h1M491 490.5h1M498 490.5h1M504 490.5h2M478 491.5h1M482 491.5h1M492 491.5h1M494 491.5h1M500 491.5h2M508 491.5h1M521 491.5h1M478 492.5h1M488 492.5h1M493 492.5h1M495 492.5h1M498 492.5h1M501 492.5h2M504 492.5h1M516 492.5h1M519 492.5h1M484 493.5h1M497 493.5h3M501 493.5h1M503 493.5h1M478 494.5h2M482 494.5h1M492 494.5h1M499 494.5h4M524 494.5h1M478 495.5h1M484 495.5h1M491 495.5h1M495 495.5h1M501 495.5h1M503 495.5h1M521 495.5h1M479 496.5h2M498 496.5h2M479 497.5h1M481 497.5h2M494 497.5h1M503 499.5h1M500 502.5h1M502 503.5h1M494 506.5h1M534 520.5h1M534 521.5h1M536 521.5h1M536 522.5h1" fill="none" stroke="#f0a35c" stroke-width="1"/>
<path d="M500 487.5h1M499 489.5h2M482 490.5h1M496 490.5h1M500 490.5h3M479 491.5h1M495 491.5h2M499 491.5h1M502 491.5h1M479 492.5h5M497 492.5h1M500 492.5h1M478 493.5h3M483 493.5h1M495 493.5h1M500 493.5h1M505 493.5h1M480 494.5h2M484 494.5h1M494 494.5h1M496 494.5h1M498 494.5h1M479 495.5h5M497 495.5h2M504 495.5h1M478 496.5h1M482 496.5h1M496 496.5h1M478 497.5h1M495 497.5h1M535 521.5h1M535 522.5h1" fill="none" stroke="#dc3a1e" stroke-width="1"/>
<path d="M614 478.5h1M613 480.5h1M613 481.5h1M600 486.5h1M602 486.5h1M604 486.5h1M606 487.5h3M565 488.5h1M602 488.5h1M606 488.5h1M597 489.5h1M600 489.5h2M606 489.5h1M598 490.5h1M601 490.5h1M606 490.5h2M619 490.5h1M624 490.5h1M593 491.5h1M595 491.5h2M598 491.5h2M604 491.5h1M607 491.5h1M617 491.5h1M622 491.5h1M593 492.5h1M600 492.5h2M608 492.5h1M611 492.5h2M618 492.5h1M620 492.5h1M601 493.5h3M606 493.5h1M609 493.5h1M614 493.5h2M619 493.5h1M625 493.5h1M599 494.5h1M601 494.5h1M603 494.5h4M609 494.5h1M617 494.5h1M622 494.5h1M625 494.5h2M609 495.5h1M619 495.5h1M621 495.5h1M597 496.5h1M602 496.5h1M605 496.5h1M615 496.5h1M617 496.5h1M605 497.5h1M613 497.5h1M600 498.5h1M637 520.5h1M638 521.5h1" fill="none" stroke="#f0a35c" stroke-width="1"/>
<path d="M614 480.5h1M614 481.5h1M597 483.5h1M613 483.5h1M593 484.5h2M600 484.5h1M614 484.5h1M573 485.5h1M593 485.5h1M597 485.5h1M599 485.5h2M594 486.5h2M601 486.5h1M605 486.5h1M567 487.5h1M592 487.5h2M592 488.5h1M567 489.5h2M591 489.5h2M607 489.5h1M566 490.5h1M568 490.5h1M583 490.5h1M590 490.5h2M623 490.5h1M625 490.5h1M589 491.5h1M591 491.5h1M600 491.5h2M606 491.5h1M610 491.5h1M570 492.5h1M582 492.5h1M585 492.5h1M589 492.5h1M594 492.5h1M597 492.5h1M628 492.5h1M567 493.5h2M571 493.5h1M593 493.5h1M618 493.5h1M627 493.5h1M584 494.5h1M591 494.5h1M600 494.5h1M611 494.5h1M573 495.5h1M584 495.5h1M586 495.5h1M592 495.5h1M603 495.5h1M608 495.5h1M612 495.5h1M583 496.5h1M586 496.5h1M589 496.5h3M594 496.5h1M596 496.5h1M599 496.5h1M603 496.5h1M612 496.5h1M614 496.5h1M618 496.5h1M562 497.5h1M573 497.5h1M583 497.5h2M587 497.5h3M592 497.5h1M595 497.5h3M608 497.5h1M611 497.5h2M586 498.5h1M591 498.5h2M596 498.5h1M599 498.5h1M601 498.5h1M605 498.5h1M610 498.5h1M615 498.5h1M617 498.5h1M591 499.5h1M605 499.5h1M607 499.5h2M613 499.5h1M615 499.5h1M589 500.5h1M591 500.5h1M601 500.5h1M604 500.5h1M606 500.5h1M609 500.5h1M611 500.5h1M613 500.5h3M591 501.5h2M595 501.5h2M598 501.5h2M601 501.5h1M604 501.5h1M609 501.5h1M612 501.5h1M615 501.5h1M592 502.5h1M594 502.5h1M599 502.5h2M602 502.5h1M604 502.5h1M607 502.5h1M610 502.5h1M614 502.5h1M594 503.5h1M607 503.5h1M610 503.5h1M612 503.5h1M559 504.5h1M588 504.5h1M606 504.5h1M609 504.5h1M612 504.5h1M552 505.5h1M586 505.5h1M593 505.5h1M604 505.5h1M612 505.5h1M593 506.5h1M606 506.5h1M611 506.5h2M577 508.5h1M606 508.5h1M585 509.5h1M600 509.5h1M616 509.5h1M606 510.5h2M618 510.5h1M590 511.5h1M602 511.5h1M597 512.5h1M618 512.5h1M602 514.5h1M572 516.5h1M605 516.5h1M610 516.5h1M568 518.5h1M575 518.5h1M586 518.5h1M614 518.5h1M579 519.5h1M584 519.5h1M590 519.5h2M638 519.5h2M608 520.5h1M636 520.5h1M568 521.5h1M595 521.5h1M637 521.5h1M563 522.5h1M586 522.5h1M638 522.5h1M640 522.5h1M565 523.5h1M567 523.5h1M604 523.5h1M592 524.5h1M603 526.5h1M570 527.5h1M605 528.5h1M570 529.5h1M608 529.5h1M575 530.5h1M588 530.5h1M567 531.5h1M572 531.5h1M580 531.5h1M600 531.5h1M620 531.5h1M571 532.5h1M600 532.5h3M578 533.5h1M589 533.5h1M604 533.5h1M578 534.5h1M603 535.5h1M590 536.5h1M593 536.5h1M596 536.5h1M554 539.5h1M557 539.5h1M574 540.5h1M588 540.5h1M579 542.5h1M561 543.5h1M576 546.5h1" fill="none" stroke="#7fb9d6" stroke-width="1"/>
<path d="M615 480.5h1M598 483.5h1M614 483.5h1M595 484.5h1M595 485.5h1M598 485.5h1M603 485.5h1M614 485.5h1M592 486.5h1M598 486.5h2M595 487.5h4M603 487.5h2M566 488.5h1M591 488.5h1M593 488.5h1M595 488.5h1M597 488.5h4M603 488.5h1M607 488.5h1M566 489.5h1M596 489.5h1M598 489.5h1M604 489.5h1M608 489.5h2M567 490.5h1M582 490.5h1M592 490.5h2M605 490.5h1M622 490.5h1M626 490.5h2M564 491.5h1M566 491.5h1M568 491.5h1M590 491.5h1M603 491.5h1M608 491.5h2M611 491.5h1M621 491.5h1M626 491.5h1M565 492.5h2M568 492.5h1M590 492.5h2M604 492.5h1M606 492.5h1M610 492.5h1M617 492.5h1M569 493.5h1M587 493.5h1M590 493.5h1M592 493.5h1M594 493.5h2M598 493.5h1M613 493.5h1M572 494.5h1M590 494.5h1M592 494.5h1M595 494.5h2M610 494.5h1M614 494.5h1M618 494.5h1M571 495.5h1M582 495.5h1M589 495.5h1M599 495.5h3M611 495.5h1M615 495.5h1M618 495.5h1M625 495.5h1M592 496.5h2M600 496.5h2M609 496.5h1M616 496.5h1M623 496.5h2M582 497.5h1M593 497.5h1M598 497.5h1M600 497.5h1M602 497.5h1M606 497.5h1M616 497.5h1M618 497.5h2M570 498.5h1M589 498.5h1M594 498.5h1M598 498.5h1M602 498.5h1M604 498.5h1M607 498.5h1M611 498.5h1M592 499.5h1M596 499.5h1M598 499.5h1M602 499.5h1M604 499.5h1M606 499.5h1M609 499.5h1M614 499.5h1M593 500.5h2M600 500.5h1M602 500.5h1M605 500.5h1M607 500.5h1M606 501.5h2M589 502.5h1M598 502.5h1M609 502.5h1M591 503.5h1M611 504.5h1M613 505.5h1M564 507.5h1M604 507.5h1M594 511.5h1M620 513.5h1M595 514.5h1M569 517.5h1M593 517.5h1M619 518.5h1M640 519.5h1M586 520.5h1M638 520.5h1M641 520.5h2M636 521.5h1M565 522.5h1M636 522.5h1M639 522.5h1M605 524.5h1M587 531.5h1M594 532.5h1M565 540.5h1" fill="none" stroke="#a9dbc2" stroke-width="1"/>
<path d="M615 482.5h1M560 486.5h1M594 487.5h1M599 487.5h3M605 487.5h1M609 487.5h1M594 488.5h1M596 488.5h1M604 488.5h2M608 488.5h2M563 489.5h3M593 489.5h1M595 489.5h1M599 489.5h1M603 489.5h1M563 490.5h2M594 490.5h4M599 490.5h2M603 490.5h1M608 490.5h1M610 490.5h1M563 491.5h1M565 491.5h1M585 491.5h1M592 491.5h1M594 491.5h1M602 491.5h1M605 491.5h1M618 491.5h1M625 491.5h1M569 492.5h1M592 492.5h1M595 492.5h2M599 492.5h1M605 492.5h1M609 492.5h1M614 492.5h1M619 492.5h1M622 492.5h1M626 492.5h2M589 493.5h1M596 493.5h2M599 493.5h2M604 493.5h2M610 493.5h1M612 493.5h1M616 493.5h1M570 494.5h1M593 494.5h2M597 494.5h2M602 494.5h1M608 494.5h1M616 494.5h1M619 494.5h1M621 494.5h1M627 494.5h1M593 495.5h1M595 495.5h4M605 495.5h2M610 495.5h1M613 495.5h2M620 495.5h1M622 495.5h1M624 495.5h1M570 496.5h1M595 496.5h1M598 496.5h1M606 496.5h1M619 496.5h2M622 496.5h1M594 497.5h1M601 497.5h1M603 497.5h2M607 497.5h1M614 497.5h2M617 497.5h1M597 498.5h1M603 498.5h1M606 498.5h1M612 498.5h1M599 499.5h3M603 499.5h1M610 499.5h2M611 502.5h1M613 502.5h1M591 505.5h1M594 506.5h1M639 521.5h3M575 529.5h1" fill="none" stroke="#f1e89a" stroke-width="1"/>
<path d="M562 489.5h1M602 489.5h1M565 490.5h1M602 490.5h1M604 490.5h1M609 490.5h1M597 491.5h1M619 491.5h2M623 491.5h2M598 492.5h1M602 492.5h2M607 492.5h1M615 492.5h2M621 492.5h1M623 492.5h3M608 493.5h1M617 493.5h1M621 493.5h2M624 493.5h1M626 493.5h1M613 494.5h1M615 494.5h1M623 494.5h2M602 495.5h1M604 495.5h1M607 495.5h1M616 495.5h2M623 495.5h1M604 496.5h1M640 520.5h1M637 522.5h1" fill="none" stroke="#dc3a1e" stroke-width="1"/>
<path d="M404 572.5h1M388 573.5h1M355 577.5h2M358 577.5h1M355 578.5h1M357 578.5h1M359 578.5h1M361 578.5h1M373 578.5h1M376 578.5h1M354 579.5h2M371 579.5h2M375 579.5h2M393 579.5h1M358 580.5h2M362 580.5h1M372 580.5h1M375 580.5h1M390 580.5h1M396 580.5h1M358 581.5h1M361 581.5h1M373 581.5h1M376 581.5h2M360 582.5h1M362 582.5h1M361 583.5h1M376 583.5h1M363 584.5h1M376 584.5h1M389 584.5h1M361 586.5h1M383 586.5h1M344 587.5h1M374 587.5h1M395 587.5h1M399 587.5h1M381 589.5h1M395 589.5h1M382 591.5h1M390 591.5h1M392 592.5h1M378 594.5h1M384 594.5h1M392 594.5h1M405 594.5h2M369 595.5h1M407 595.5h1M352 596.5h1M381 596.5h1M359 597.5h1M371 597.5h1M374 597.5h1M386 597.5h1M380 598.5h1M385 598.5h1M376 599.5h1M383 599.5h1M359 600.5h1M364 600.5h2M369 600.5h1M378 600.5h1M403 600.5h1M411 600.5h1M357 601.5h1M363 601.5h1M368 601.5h1M375 601.5h2M356 602.5h1M359 602.5h1M361 602.5h1M366 602.5h1M376 602.5h1M387 602.5h1M391 602.5h1M409 602.5h1M356 603.5h1M359 603.5h2M368 603.5h1M370 603.5h1M385 603.5h1M358 604.5h1M360 604.5h1M365 604.5h1M368 604.5h1M373 604.5h2M378 604.5h1M382 604.5h1M388 604.5h1M404 604.5h1M362 605.5h1M368 605.5h1M374 605.5h1M388 605.5h1M358 606.5h1M362 606.5h1M364 606.5h1M373 606.5h1M360 607.5h2M365 607.5h2M368 607.5h1M372 607.5h2M380 607.5h1M383 607.5h1M429 607.5h1M354 608.5h1M360 608.5h1M370 608.5h3M376 608.5h1M378 608.5h1M383 608.5h1M391 608.5h1M430 608.5h1M354 609.5h1M359 609.5h3M363 609.5h1M368 609.5h2M394 609.5h1M400 609.5h1M428 609.5h1M433 609.5h1M360 610.5h1M370 610.5h1M372 610.5h1M374 610.5h1M391 610.5h1M394 610.5h2M365 611.5h1M369 611.5h1M375 611.5h1M382 611.5h1M357 612.5h1M361 612.5h1M364 612.5h1M367 612.5h1M379 612.5h2M375 613.5h1M377 613.5h1M384 613.5h1M392 613.5h1M361 614.5h1M367 614.5h2M373 614.5h1M382 614.5h1M360 615.5h1M365 615.5h3M373 615.5h1M375 615.5h1M377 615.5h1M382 615.5h1M372 616.5h1M377 616.5h1M380 616.5h1M382 616.5h1M365 617.5h1M368 617.5h1M376 617.5h1M383 617.5h1M397 617.5h1M359 618.5h1M372 618.5h3M376 618.5h1M383 618.5h2M393 618.5h1M382 619.5h1M384 620.5h1M386 620.5h2M382 621.5h4M387 621.5h1M387 622.5h2M381 623.5h2M378 624.5h1M385 624.5h1M349 625.5h2M374 625.5h1M382 625.5h1M394 625.5h1M345 626.5h1M351 627.5h1M353 627.5h2M382 627.5h1M347 628.5h1M349 628.5h1M352 628.5h1M356 629.5h1M364 629.5h1M350 630.5h1M339 631.5h2M370 632.5h1M368 635.5h1" fill="none" stroke="#7fb9d6" stroke-width="1"/>
<path d="M354 577.5h1M360 577.5h1M356 578.5h1M374 578.5h1M413 578.5h1M357 579.5h1M374 580.5h1M376 580.5h1M360 581.5h1M362 581.5h1M361 582.5h1M376 582.5h2M360 583.5h1M362 583.5h1M371 583.5h1M377 583.5h1M381 583.5h1M404 583.5h1M374 584.5h1M371 585.5h1M373 585.5h3M374 586.5h1M380 594.5h1M397 594.5h1M377 595.5h1M390 595.5h1M360 597.5h1M378 597.5h1M373 600.5h1M391 600.5h1M359 601.5h1M364 601.5h1M372 601.5h1M380 601.5h1M357 602.5h1M365 602.5h1M369 602.5h1M374 602.5h1M382 602.5h1M363 603.5h1M365 603.5h2M369 604.5h1M375 604.5h1M379 604.5h1M395 604.5h1M365 605.5h1M370 605.5h1M386 605.5h1M361 606.5h1M369 606.5h1M371 606.5h1M392 606.5h2M378 607.5h1M431 607.5h1M364 608.5h1M427 608.5h1M429 608.5h1M365 609.5h1M373 609.5h1M380 609.5h1M427 609.5h1M429 609.5h4M363 610.5h2M373 610.5h1M427 610.5h2M430 610.5h1M360 612.5h1M363 612.5h1M371 612.5h2M362 613.5h1M365 613.5h2M376 613.5h1M360 614.5h1M370 614.5h1M374 614.5h1M376 614.5h2M384 614.5h1M379 615.5h2M362 616.5h1M367 616.5h1M379 616.5h1M385 616.5h1M362 617.5h1M366 617.5h1M372 617.5h1M377 617.5h1M380 617.5h2M360 618.5h3M370 618.5h1M381 618.5h2M358 619.5h1M371 619.5h1M381 619.5h1M383 619.5h1M353 620.5h1M368 620.5h1M383 620.5h1M385 620.5h1M381 621.5h1M386 622.5h1M377 623.5h1M380 623.5h1M346 624.5h2M372 624.5h1M375 624.5h2M381 624.5h1M348 625.5h1M372 625.5h2M377 625.5h1M350 626.5h3M375 626.5h1M345 627.5h1M347 627.5h1M349 627.5h2M352 627.5h1M350 628.5h1M368 628.5h1M382 628.5h1M349 629.5h1M370 630.5h1M385 630.5h1M368 631.5h1M338 634.5h1M338 635.5h1" fill="none" stroke="#a9dbc2" stroke-width="1"/>
<path d="M357 577.5h1M372 582.5h3M374 583.5h1M372 584.5h1M366 618.5h1M379 618.5h1M364 619.5h1M366 619.5h1M369 619.5h2M372 619.5h1M375 619.5h2M358 620.5h3M362 620.5h1M364 620.5h4M369 620.5h2M372 620.5h2M376 620.5h2M379 620.5h2M382 620.5h1M359 621.5h7M367 621.5h3M371 621.5h4M376 621.5h3M357 622.5h2M363 622.5h3M367 622.5h5M373 622.5h1M379 622.5h1M358 623.5h1M364 623.5h2M367 623.5h5M376 623.5h1M366 624.5h1M368 624.5h2M371 624.5h1M374 624.5h1M366 625.5h3M371 625.5h1M367 626.5h3M366 627.5h3M366 628.5h2M369 628.5h1M365 629.5h4M366 630.5h3M366 631.5h2M340 632.5h1M365 632.5h1M368 632.5h1M340 633.5h1M367 634.5h1M366 635.5h1" fill="none" stroke="#dc3a1e" stroke-width="1"/>
<path d="M358 578.5h1M358 579.5h2M356 580.5h1M360 580.5h2M373 580.5h1M377 580.5h1M359 581.5h1M372 581.5h1M373 583.5h1M377 584.5h2M376 585.5h1M367 605.5h1M367 606.5h1M363 607.5h1M367 607.5h1M432 608.5h1M431 610.5h1M368 612.5h1M366 614.5h1M376 615.5h1M366 616.5h1M371 616.5h1M373 616.5h1M361 617.5h1M369 617.5h1M371 617.5h1M378 617.5h1M363 618.5h2M367 618.5h1M369 618.5h1M375 618.5h1M380 618.5h1M385 618.5h1M373 619.5h2M379 619.5h2M378 620.5h1M355 621.5h1M355 622.5h1M372 622.5h1M380 622.5h2M356 623.5h1M375 623.5h1M378 623.5h1M364 624.5h1M373 624.5h1M377 624.5h1M379 624.5h1M370 625.5h1M375 625.5h1M348 626.5h2M354 626.5h1M365 627.5h1M378 627.5h1M364 628.5h1M370 628.5h1M370 629.5h1M365 630.5h1M364 631.5h2M369 631.5h2M339 632.5h1M341 632.5h1M339 634.5h1M369 634.5h1M369 635.5h1" fill="none" stroke="#f1e89a" stroke-width="1"/>
<path d="M374 581.5h1M375 582.5h1M372 583.5h1M375 583.5h1M373 584.5h1M370 606.5h1M431 608.5h1M370 616.5h1M367 617.5h1M374 617.5h1M365 618.5h1M368 618.5h1M371 618.5h1M377 618.5h1M359 619.5h1M361 619.5h3M365 619.5h1M368 619.5h1M377 619.5h2M361 620.5h1M363 620.5h1M374 620.5h2M381 620.5h1M356 621.5h1M366 621.5h1M370 621.5h1M375 621.5h1M379 621.5h2M356 622.5h1M375 622.5h4M357 623.5h1M372 623.5h3M349 624.5h1M365 624.5h1M370 624.5h1M369 625.5h1M346 626.5h2M355 626.5h1M348 627.5h1M365 628.5h1M369 629.5h1M364 630.5h1M369 630.5h1M367 632.5h1M339 633.5h1M341 633.5h1M367 633.5h2M368 634.5h1" fill="none" stroke="#f0a35c" stroke-width="1"/>
<path d="M511 567.5h1M510 569.5h1M493 570.5h1M495 572.5h1M493 573.5h1M495 574.5h1M497 574.5h1M492 575.5h1M496 575.5h2M495 576.5h1M491 577.5h2M494 577.5h1M496 577.5h2M488 578.5h1M496 578.5h1M501 578.5h1M490 579.5h1M500 579.5h1M489 580.5h1M491 580.5h1M496 580.5h1M499 580.5h3M489 581.5h1M494 581.5h1M497 581.5h1M500 581.5h1M487 582.5h1M503 582.5h1M500 583.5h2M488 584.5h2M504 584.5h1M489 586.5h1M502 586.5h2M514 586.5h1M486 587.5h1M491 587.5h1M501 587.5h2M504 588.5h1M486 589.5h1M504 590.5h1M506 590.5h1M509 590.5h1M487 591.5h3M501 591.5h1M510 591.5h1M530 591.5h1M487 592.5h1M502 592.5h2M507 592.5h1M528 592.5h1M530 592.5h1M504 593.5h1M508 593.5h1M510 593.5h1M526 593.5h1M487 594.5h1M489 594.5h1M503 594.5h1M506 594.5h1M487 595.5h1M489 595.5h1M490 596.5h1M500 596.5h1M503 596.5h2M503 597.5h2M506 597.5h1M479 598.5h1M488 598.5h1M503 598.5h1M486 599.5h2M489 599.5h2M499 599.5h1M505 599.5h2M514 599.5h1M491 600.5h2M494 600.5h1M496 600.5h1M500 600.5h2M492 601.5h1M496 601.5h2M475 602.5h1M489 602.5h1M492 602.5h1M497 602.5h1M499 602.5h2M465 603.5h1M484 603.5h1M489 603.5h1M495 603.5h3M500 603.5h1M475 604.5h1M498 605.5h1M463 606.5h1M476 606.5h1M492 606.5h2M466 608.5h1M502 609.5h1M481 610.5h1M487 610.5h1M501 611.5h1M473 612.5h1M473 615.5h1" fill="none" stroke="#f1e89a" stroke-width="1"/>
<path d="M493 569.5h1M493 571.5h1M511 571.5h3M494 572.5h1M510 572.5h1M490 573.5h2M510 573.5h1M490 574.5h1M493 574.5h2M500 574.5h1M469 575.5h1M489 575.5h2M490 576.5h1M500 576.5h1M505 576.5h1M488 577.5h1M500 577.5h5M460 578.5h1M489 578.5h1M500 578.5h1M482 579.5h1M487 579.5h1M487 580.5h1M502 580.5h2M480 581.5h1M487 581.5h2M502 581.5h1M506 581.5h1M516 581.5h1M466 582.5h1M478 582.5h1M505 582.5h2M484 583.5h1M503 583.5h1M506 583.5h1M508 583.5h2M482 584.5h1M486 584.5h1M507 584.5h1M519 584.5h1M457 585.5h1M479 585.5h1M487 585.5h1M510 585.5h1M512 585.5h1M509 586.5h1M513 586.5h1M507 587.5h2M511 587.5h1M486 588.5h2M503 588.5h1M505 588.5h1M508 588.5h1M510 588.5h1M505 589.5h2M510 589.5h1M512 589.5h1M510 590.5h1M512 590.5h1M485 591.5h2M506 591.5h1M509 591.5h1M529 591.5h1M486 592.5h1M509 592.5h1M512 592.5h1M486 593.5h1M506 593.5h1M484 594.5h1M504 594.5h2M508 594.5h2M481 595.5h1M485 595.5h1M488 595.5h1M504 595.5h1M506 595.5h1M508 595.5h2M511 595.5h2M469 596.5h1M474 596.5h1M483 596.5h1M488 596.5h1M508 596.5h1M512 596.5h2M483 597.5h1M501 597.5h1M513 597.5h1M466 598.5h2M481 598.5h1M484 598.5h1M490 598.5h1M507 598.5h1M511 598.5h1M513 598.5h1M460 599.5h1M476 599.5h1M483 599.5h1M485 599.5h1M503 599.5h1M507 599.5h1M509 599.5h2M512 599.5h1M516 599.5h1M462 600.5h1M464 600.5h1M481 600.5h1M485 600.5h1M488 600.5h2M502 600.5h2M508 600.5h1M511 600.5h1M514 600.5h1M483 601.5h2M500 601.5h1M503 601.5h1M508 601.5h1M512 601.5h1M516 601.5h1M462 602.5h1M473 602.5h1M488 602.5h1M494 602.5h1M501 602.5h1M503 602.5h2M506 602.5h1M515 602.5h1M466 603.5h1M471 603.5h2M475 603.5h2M479 603.5h1M481 603.5h2M493 603.5h2M504 603.5h1M507 603.5h1M511 603.5h1M515 603.5h1M463 604.5h1M465 604.5h1M469 604.5h1M471 604.5h1M474 604.5h1M477 604.5h1M481 604.5h1M483 604.5h1M493 604.5h1M496 604.5h2M500 604.5h1M502 604.5h3M507 604.5h1M511 604.5h1M517 604.5h1M462 605.5h1M464 605.5h1M468 605.5h1M471 605.5h1M474 605.5h2M479 605.5h1M481 605.5h2M485 605.5h1M488 605.5h1M493 605.5h3M497 605.5h1M500 605.5h1M505 605.5h1M469 606.5h1M474 606.5h1M477 606.5h1M484 606.5h2M491 606.5h1M498 606.5h1M500 606.5h2M505 606.5h1M464 607.5h2M467 607.5h1M473 607.5h1M476 607.5h1M481 607.5h1M493 607.5h1M495 607.5h2M500 607.5h1M505 607.5h1M509 607.5h1M474 608.5h1M477 608.5h1M485 608.5h1M487 608.5h1M493 608.5h3M499 608.5h1M506 608.5h1M464 609.5h1M467 609.5h1M474 609.5h2M493 609.5h1M495 609.5h1M497 609.5h1M501 609.5h1M509 609.5h1M466 610.5h1M470 610.5h1M477 610.5h1M486 610.5h1M498 610.5h1M507 610.5h1M463 611.5h1M467 611.5h2M472 611.5h1M493 611.5h1M468 612.5h1M485 612.5h1M494 612.5h1M501 612.5h1M504 612.5h1M472 613.5h1M486 613.5h1M496 613.5h1M466 614.5h1M471 614.5h1M487 614.5h1M489 614.5h1M494 614.5h1M469 615.5h3M476 615.5h1M489 616.5h1M503 618.5h1M471 619.5h1M468 620.5h1M476 620.5h1M497 620.5h1M468 621.5h1M493 621.5h1M498 621.5h1M491 622.5h1M461 623.5h1M469 623.5h1M483 623.5h1M496 623.5h1M462 624.5h1M499 626.5h1M457 631.5h1M445 632.5h1M473 632.5h1M458 633.5h1M488 633.5h1M496 633.5h1" fill="none" stroke="#7fb9d6" stroke-width="1"/>
<path d="M511 569.5h2M494 570.5h1M510 570.5h1M492 573.5h1M494 573.5h2M511 573.5h1M496 574.5h1M493 575.5h1M499 575.5h3M491 576.5h2M498 576.5h1M502 576.5h1M489 577.5h1M490 578.5h1M493 578.5h1M488 579.5h2M494 579.5h1M502 579.5h2M506 579.5h1M520 579.5h1M488 580.5h1M486 581.5h1M499 581.5h1M503 581.5h3M488 582.5h1M502 582.5h1M508 582.5h1M523 582.5h1M487 583.5h1M505 583.5h1M491 584.5h1M508 584.5h2M504 585.5h3M513 585.5h1M486 586.5h1M490 586.5h1M504 586.5h1M511 586.5h1M503 587.5h1M507 588.5h1M511 588.5h1M488 589.5h2M500 589.5h1M503 589.5h1M507 589.5h1M488 590.5h1M505 590.5h1M504 591.5h1M508 591.5h1M512 591.5h1M527 591.5h2M531 591.5h1M485 592.5h1M505 592.5h2M508 592.5h1M527 592.5h1M485 593.5h1M489 593.5h1M503 593.5h1M511 593.5h1M485 594.5h1M488 594.5h1M507 594.5h1M484 595.5h1M503 595.5h1M507 595.5h1M510 595.5h1M513 595.5h1M477 596.5h1M484 596.5h1M487 596.5h1M502 596.5h1M505 596.5h3M510 596.5h2M484 597.5h1M487 597.5h2M500 597.5h1M502 597.5h1M507 597.5h1M514 597.5h1M454 598.5h1M483 598.5h1M499 598.5h2M502 598.5h1M504 598.5h1M508 598.5h1M514 598.5h1M459 599.5h1M465 599.5h1M482 599.5h1M484 599.5h1M488 599.5h1M491 599.5h1M511 599.5h1M484 600.5h1M490 600.5h1M493 600.5h1M505 600.5h1M507 600.5h1M517 600.5h1M474 601.5h2M482 601.5h1M486 601.5h1M490 601.5h1M499 601.5h1M502 601.5h1M504 601.5h1M481 602.5h1M490 602.5h2M493 602.5h1M495 602.5h1M498 602.5h1M509 602.5h1M477 603.5h1M490 603.5h1M498 603.5h2M501 603.5h2M470 604.5h1M472 604.5h1M487 604.5h1M489 604.5h1M492 604.5h1M510 604.5h1M466 605.5h1M469 605.5h1M486 605.5h2M492 605.5h1M504 605.5h1M488 606.5h1M503 606.5h1M466 607.5h1M475 607.5h1M479 607.5h1M490 607.5h1M494 607.5h1M499 607.5h1M468 608.5h1M472 608.5h1M491 608.5h1M496 608.5h1M502 608.5h1M468 609.5h1M470 609.5h1M467 610.5h1M499 610.5h1M503 610.5h1M495 611.5h1M508 611.5h1M471 612.5h1M474 612.5h1M497 613.5h1M492 615.5h1M491 616.5h1M477 618.5h1M500 618.5h1M470 622.5h1M494 624.5h1" fill="none" stroke="#a9dbc2" stroke-width="1"/>
<path d="M511 570.5h1M494 571.5h1M497 573.5h1M495 575.5h1M498 575.5h1M497 576.5h1M499 576.5h1M490 577.5h1M493 577.5h1M495 577.5h1M499 577.5h1M497 578.5h2M499 579.5h1M501 579.5h1M492 580.5h1M490 581.5h1M501 581.5h1M489 582.5h1M501 582.5h1M489 583.5h2M502 583.5h1M487 584.5h1M490 584.5h1M498 584.5h2M501 584.5h2M488 585.5h1M491 585.5h1M499 585.5h4M501 586.5h1M499 587.5h1M504 587.5h1M498 588.5h1M501 588.5h1M487 590.5h1M490 590.5h1M492 590.5h1M501 590.5h1M503 590.5h1M503 591.5h1M505 591.5h1M488 592.5h1M495 592.5h1M500 592.5h2M504 592.5h1M529 592.5h1M531 592.5h1M488 593.5h1M502 593.5h1M505 593.5h1M530 593.5h1M498 594.5h1M501 594.5h2M486 595.5h1M490 595.5h2M494 595.5h1M498 595.5h2M502 595.5h1M505 595.5h1M497 596.5h1M501 596.5h1M489 597.5h3M493 597.5h2M497 597.5h2M505 597.5h1M509 597.5h1M492 598.5h1M494 598.5h1M492 599.5h1M494 599.5h2M500 599.5h1M495 600.5h1M498 600.5h2M504 600.5h1M510 600.5h1M489 601.5h1M491 601.5h1M498 601.5h1M501 601.5h1M502 602.5h1" fill="none" stroke="#f0a35c" stroke-width="1"/>
<path d="M491 574.5h2M491 575.5h1M494 575.5h1M493 576.5h2M496 576.5h1M498 577.5h1M491 578.5h2M494 578.5h2M499 578.5h1M491 579.5h3M495 579.5h4M490 580.5h1M493 580.5h3M497 580.5h2M491 581.5h3M495 581.5h2M498 581.5h1M490 582.5h11M491 583.5h9M492 584.5h6M500 584.5h1M503 584.5h1M489 585.5h2M492 585.5h7M503 585.5h1M488 586.5h1M491 586.5h5M497 586.5h4M487 587.5h4M492 587.5h7M500 587.5h1M488 588.5h3M492 588.5h6M499 588.5h2M502 588.5h1M490 589.5h2M493 589.5h7M501 589.5h2M504 589.5h1M489 590.5h1M491 590.5h1M493 590.5h8M502 590.5h1M491 591.5h10M502 591.5h1M489 592.5h4M494 592.5h1M496 592.5h4M494 593.5h3M498 593.5h4M527 593.5h3M490 594.5h8M499 594.5h2M529 594.5h1M492 595.5h2M495 595.5h3M500 595.5h2M489 596.5h1M491 596.5h6M498 596.5h1M492 597.5h1M495 597.5h2M499 597.5h1M489 598.5h1M491 598.5h1M493 598.5h1M495 598.5h4M493 599.5h1M496 599.5h2M497 600.5h1M495 601.5h1M496 602.5h1" fill="none" stroke="#dc3a1e" stroke-width="1"/>
<path d="M597 569.5h1M598 571.5h1M614 572.5h1M573 573.5h1M596 573.5h1M594 574.5h1M597 574.5h1M573 575.5h1M595 575.5h2M605 575.5h1M605 576.5h1M608 576.5h1M567 577.5h1M593 577.5h1M610 577.5h1M563 578.5h1M565 578.5h1M584 578.5h1M593 578.5h1M609 578.5h1M569 579.5h1M571 579.5h1M583 579.5h2M610 579.5h1M626 579.5h1M628 579.5h1M564 580.5h2M571 580.5h2M610 580.5h1M618 580.5h1M620 580.5h2M623 580.5h1M566 581.5h2M585 581.5h3M613 581.5h1M617 581.5h1M619 581.5h3M627 581.5h1M629 581.5h1M568 582.5h1M586 582.5h1M588 582.5h1M591 582.5h1M610 582.5h2M616 582.5h1M623 582.5h1M570 583.5h3M583 583.5h1M585 583.5h1M592 583.5h1M612 583.5h2M615 583.5h1M618 583.5h1M620 583.5h1M627 583.5h1M592 584.5h1M611 584.5h1M613 584.5h1M615 584.5h1M621 584.5h1M624 584.5h1M572 585.5h1M588 585.5h2M616 585.5h5M623 585.5h3M559 586.5h1M582 586.5h1M585 586.5h1M615 586.5h1M617 586.5h1M619 586.5h2M571 587.5h1M614 587.5h1M616 587.5h2M553 588.5h2M614 588.5h1M553 589.5h2M591 589.5h1M612 589.5h1M616 589.5h1M555 590.5h1M589 591.5h1M615 591.5h1M552 592.5h1M554 592.5h1M613 592.5h1M616 592.5h1M559 593.5h1M613 593.5h2M616 593.5h1M554 594.5h1M562 594.5h1M559 595.5h1M586 595.5h1M588 595.5h1M615 595.5h2M556 596.5h1M558 596.5h1M577 596.5h1M582 596.5h1M558 597.5h1M560 597.5h2M564 597.5h2M584 597.5h3M588 597.5h1M591 597.5h1M614 597.5h1M618 597.5h2M560 598.5h1M565 598.5h1M580 598.5h1M584 598.5h1M617 598.5h1M580 599.5h1M586 599.5h1M588 599.5h1M592 599.5h1M606 599.5h1M609 599.5h1M611 599.5h1M617 599.5h1M584 600.5h1M586 600.5h1M591 600.5h1M614 600.5h1M565 601.5h1M569 601.5h1M578 601.5h1M584 601.5h1M587 601.5h1M592 601.5h1M612 601.5h1M614 601.5h1M616 601.5h1M619 601.5h1M565 602.5h1M570 602.5h1M577 602.5h1M583 602.5h2M586 602.5h1M590 602.5h1M611 602.5h1M615 602.5h1M568 603.5h1M570 603.5h1M574 603.5h1M584 603.5h3M589 603.5h1M592 603.5h1M600 603.5h1M607 603.5h2M612 603.5h1M617 603.5h1M567 604.5h1M570 604.5h1M573 604.5h1M575 604.5h1M581 604.5h1M593 604.5h1M609 604.5h2M567 605.5h1M579 605.5h2M584 605.5h1M596 605.5h1M604 605.5h1M619 605.5h1M573 606.5h1M576 606.5h1M579 606.5h1M582 606.5h1M588 606.5h1M605 606.5h1M613 606.5h1M620 606.5h1M569 607.5h1M574 607.5h2M589 607.5h1M592 607.5h1M597 607.5h1M601 607.5h3M611 607.5h2M614 607.5h1M620 607.5h1M570 608.5h1M577 608.5h1M586 608.5h1M590 608.5h1M595 608.5h1M601 608.5h2M605 608.5h1M609 608.5h1M611 608.5h1M613 608.5h1M638 608.5h1M573 609.5h1M583 609.5h1M586 609.5h2M598 609.5h1M609 609.5h1M611 609.5h2M638 609.5h2M643 609.5h1M569 610.5h1M579 610.5h2M583 610.5h1M597 610.5h1M600 610.5h1M606 610.5h3M643 610.5h1M568 611.5h1M584 611.5h2M588 611.5h1M595 611.5h2M599 611.5h1M601 611.5h1M608 611.5h1M610 611.5h1M612 611.5h1M639 611.5h1M582 612.5h3M591 612.5h1M594 612.5h1M598 612.5h3M604 612.5h2M566 613.5h1M569 613.5h1M578 613.5h1M580 613.5h1M584 613.5h1M588 613.5h1M591 613.5h1M593 613.5h1M595 613.5h1M600 613.5h3M606 613.5h1M609 613.5h2M573 614.5h1M575 614.5h1M586 614.5h1M588 614.5h1M592 614.5h3M600 614.5h1M602 614.5h1M607 614.5h1M611 614.5h1M576 615.5h1M581 615.5h1M585 615.5h1M597 615.5h1M605 615.5h1M607 615.5h1M585 616.5h1M589 616.5h1M591 616.5h1M593 616.5h1M598 616.5h1M576 617.5h1M590 617.5h1M592 617.5h1M594 617.5h1M601 617.5h1M605 617.5h1M577 618.5h1M580 618.5h1M584 618.5h1M586 618.5h1M590 618.5h1M603 618.5h1M605 618.5h1M607 618.5h1M609 618.5h1M574 619.5h1M578 619.5h1M585 619.5h1M593 619.5h1M603 619.5h1M576 620.5h1M589 620.5h3M596 620.5h2M601 620.5h4M606 620.5h1M569 621.5h1M575 621.5h1M591 621.5h1M594 621.5h1M596 621.5h1M604 621.5h1M578 622.5h1M580 622.5h1M592 622.5h1M595 622.5h1M597 622.5h3M587 623.5h1M605 623.5h1M579 624.5h1M582 624.5h1M590 624.5h2M578 625.5h1M580 625.5h1M591 625.5h1M600 625.5h1M604 625.5h1M597 626.5h1M596 627.5h1M561 628.5h1M589 628.5h1M604 628.5h1M575 629.5h1M592 629.5h1M600 629.5h1M580 630.5h1M593 633.5h1M597 633.5h1M548 635.5h1M579 636.5h1" fill="none" stroke="#a9dbc2" stroke-width="1"/>
<path d="M615 569.5h1M598 570.5h1M618 570.5h1M597 571.5h1M574 573.5h1M615 573.5h1M609 576.5h2M564 578.5h1M567 578.5h1M564 579.5h2M570 579.5h1M586 579.5h1M623 579.5h1M627 579.5h1M581 580.5h1M572 581.5h1M583 581.5h1M615 581.5h1M618 581.5h1M572 582.5h1M584 582.5h1M587 582.5h1M627 582.5h1M582 583.5h1M586 583.5h1M614 583.5h1M581 584.5h2M585 584.5h1M616 584.5h1M619 584.5h1M561 585.5h1M573 585.5h1M612 585.5h2M562 586.5h2M573 586.5h1M586 586.5h1M612 586.5h3M618 586.5h1M615 587.5h1M618 587.5h1M551 588.5h2M612 588.5h1M615 588.5h1M554 590.5h1M616 590.5h1M553 591.5h1M614 591.5h1M634 591.5h1M634 592.5h2M558 593.5h1M615 593.5h1M630 593.5h1M589 594.5h1M633 594.5h1M558 595.5h1M564 595.5h1M584 595.5h1M612 595.5h1M617 595.5h1M559 596.5h1M562 596.5h1M564 596.5h1M580 596.5h1M586 596.5h1M615 596.5h1M618 596.5h2M559 597.5h1M563 597.5h1M573 597.5h1M580 597.5h1M613 597.5h1M617 597.5h1M568 598.5h1M579 598.5h1M585 598.5h1M615 598.5h2M618 598.5h1M562 599.5h2M565 599.5h1M568 599.5h1M583 599.5h2M610 599.5h1M615 599.5h2M620 599.5h1M622 599.5h1M565 600.5h2M569 600.5h1M585 600.5h1M588 600.5h1M616 600.5h2M568 601.5h1M574 601.5h1M579 601.5h2M582 601.5h2M586 601.5h1M588 601.5h1M610 601.5h1M573 602.5h3M578 602.5h2M581 602.5h1M585 602.5h1M612 602.5h1M620 602.5h1M622 602.5h1M571 603.5h1M576 603.5h1M580 603.5h1M611 603.5h1M613 603.5h2M621 603.5h1M569 604.5h1M574 604.5h1M576 604.5h3M584 604.5h2M591 604.5h2M615 604.5h1M618 604.5h1M568 605.5h2M571 605.5h1M576 605.5h1M590 605.5h3M611 605.5h1M614 605.5h1M620 605.5h1M568 606.5h1M570 606.5h2M574 606.5h1M580 606.5h1M586 606.5h1M621 606.5h1M573 607.5h1M577 607.5h1M579 607.5h3M586 607.5h1M593 607.5h1M569 608.5h1M571 608.5h6M578 608.5h1M580 608.5h6M588 608.5h2M591 608.5h2M597 608.5h1M604 608.5h1M639 608.5h3M564 609.5h1M578 609.5h2M582 609.5h1M585 609.5h1M588 609.5h1M592 609.5h1M613 609.5h1M642 609.5h1M564 610.5h1M567 610.5h2M575 610.5h1M578 610.5h1M591 610.5h1M594 610.5h1M599 610.5h1M609 610.5h2M613 610.5h1M637 610.5h1M564 611.5h2M567 611.5h1M570 611.5h3M575 611.5h1M578 611.5h1M586 611.5h2M590 611.5h1M593 611.5h1M597 611.5h1M600 611.5h1M602 611.5h1M607 611.5h1M613 611.5h1M641 611.5h1M566 612.5h1M573 612.5h1M575 612.5h1M577 612.5h1M579 612.5h1M581 612.5h1M587 612.5h2M606 612.5h1M608 612.5h6M570 613.5h2M573 613.5h1M585 613.5h1M589 613.5h1M594 613.5h1M597 613.5h1M604 613.5h2M612 613.5h1M570 614.5h1M576 614.5h1M581 614.5h1M585 614.5h1M587 614.5h1M589 614.5h1M599 614.5h1M601 614.5h1M608 614.5h2M570 615.5h2M577 615.5h1M579 615.5h1M582 615.5h3M586 615.5h2M590 615.5h4M601 615.5h1M608 615.5h1M573 616.5h1M575 616.5h2M579 616.5h1M581 616.5h3M587 616.5h2M594 616.5h4M601 616.5h2M604 616.5h1M607 616.5h2M582 617.5h1M593 617.5h1M596 617.5h1M602 617.5h3M606 617.5h1M608 617.5h2M573 618.5h1M576 618.5h1M578 618.5h1M581 618.5h2M585 618.5h1M587 618.5h1M591 618.5h1M595 618.5h1M604 618.5h1M606 618.5h1M570 619.5h2M573 619.5h1M576 619.5h1M581 619.5h2M586 619.5h1M590 619.5h1M592 619.5h1M594 619.5h1M598 619.5h1M605 619.5h2M568 620.5h1M579 620.5h1M584 620.5h1M586 620.5h3M592 620.5h1M595 620.5h1M598 620.5h2M607 620.5h1M571 621.5h2M578 621.5h2M586 621.5h1M588 621.5h3M593 621.5h1M595 621.5h1M597 621.5h2M600 621.5h1M602 621.5h2M573 622.5h2M576 622.5h2M581 622.5h1M583 622.5h1M588 622.5h1M590 622.5h2M601 622.5h1M568 623.5h1M573 623.5h1M575 623.5h1M586 623.5h1M591 623.5h1M594 623.5h1M597 623.5h3M602 623.5h1M568 624.5h1M580 624.5h2M587 624.5h2M597 624.5h1M603 624.5h2M579 625.5h1M582 625.5h1M587 625.5h3M599 625.5h1M601 625.5h2M605 625.5h1M582 626.5h1M600 626.5h1M602 626.5h1M595 627.5h1M597 627.5h1M602 627.5h1M564 628.5h1M575 628.5h1M577 628.5h1M595 628.5h1M601 628.5h1M603 628.5h1M559 629.5h4M577 629.5h1M594 629.5h1M598 629.5h1M578 630.5h1M595 630.5h1M598 630.5h1M574 631.5h3M596 631.5h3M550 632.5h1M590 632.5h1M577 633.5h1M580 633.5h1M600 633.5h1M549 634.5h1M577 635.5h1M578 636.5h1" fill="none" stroke="#7fb9d6" stroke-width="1"/>
<path d="M598 572.5h1M599 573.5h1M596 574.5h1M598 574.5h1M600 574.5h2M603 574.5h2M593 575.5h1M599 575.5h3M604 575.5h1M594 576.5h1M597 576.5h1M599 576.5h1M601 576.5h1M603 576.5h1M594 577.5h1M597 577.5h10M608 577.5h1M598 578.5h5M604 578.5h2M608 578.5h1M610 578.5h1M593 579.5h1M596 579.5h9M606 579.5h1M593 580.5h1M595 580.5h3M599 580.5h3M603 580.5h2M606 580.5h2M609 580.5h1M569 581.5h1M592 581.5h1M594 581.5h4M599 581.5h9M625 581.5h1M569 582.5h3M595 582.5h13M628 582.5h1M593 583.5h15M609 583.5h1M617 583.5h1M571 584.5h2M591 584.5h1M594 584.5h15M623 584.5h1M625 584.5h1M591 585.5h19M574 586.5h1M590 586.5h1M592 586.5h3M596 586.5h4M601 586.5h4M606 586.5h2M609 586.5h1M591 587.5h2M594 587.5h15M612 587.5h1M590 588.5h1M593 588.5h2M596 588.5h16M593 589.5h3M597 589.5h10M608 589.5h2M611 589.5h1M591 590.5h2M594 590.5h14M609 590.5h2M613 590.5h1M590 591.5h4M595 591.5h15M590 592.5h7M598 592.5h12M591 593.5h1M593 593.5h1M598 593.5h3M602 593.5h8M590 594.5h20M612 594.5h1M615 594.5h1M592 595.5h17M610 595.5h1M591 596.5h2M595 596.5h8M604 596.5h3M608 596.5h3M594 597.5h16M593 598.5h12M608 598.5h3M593 599.5h1M595 599.5h7M603 599.5h3M589 600.5h1M593 600.5h1M595 600.5h12M611 600.5h1M589 601.5h2M596 601.5h1M598 601.5h2M602 601.5h7M598 602.5h1M600 602.5h3M604 602.5h5M597 603.5h3M601 603.5h5M609 603.5h1M587 604.5h1M596 604.5h1M601 604.5h3M606 604.5h2M598 605.5h3M602 605.5h2M595 606.5h2M599 606.5h1M601 606.5h1M604 606.5h1M610 606.5h1M598 607.5h2M607 607.5h1M600 608.5h1M606 608.5h1M614 608.5h1M603 609.5h1M596 610.5h1M604 610.5h1M642 610.5h1M609 611.5h1M597 612.5h1" fill="none" stroke="#dc3a1e" stroke-width="1"/>
<path d="M599 572.5h1M601 573.5h1M595 574.5h1M599 574.5h1M594 575.5h1M597 575.5h2M602 575.5h2M606 575.5h1M595 576.5h2M598 576.5h1M600 576.5h1M566 577.5h1M595 577.5h2M607 577.5h1M609 577.5h1M570 578.5h1M592 578.5h1M596 578.5h2M603 578.5h1M566 579.5h3M592 579.5h1M605 579.5h1M607 579.5h3M611 579.5h1M625 579.5h1M567 580.5h3M591 580.5h1M594 580.5h1M598 580.5h1M602 580.5h1M605 580.5h1M608 580.5h1M626 580.5h1M568 581.5h1M570 581.5h2M598 581.5h1M608 581.5h4M616 581.5h1M623 581.5h2M590 582.5h1M592 582.5h1M594 582.5h1M609 582.5h1M612 582.5h2M618 582.5h1M620 582.5h1M622 582.5h1M625 582.5h2M573 583.5h2M610 583.5h2M616 583.5h1M619 583.5h1M623 583.5h2M573 584.5h1M612 584.5h1M620 584.5h1M574 585.5h1M590 585.5h1M583 586.5h1M589 586.5h1M595 586.5h1M605 586.5h1M588 587.5h1M593 587.5h1M609 587.5h1M611 587.5h1M613 587.5h1M591 588.5h1M590 589.5h1M607 589.5h1M610 589.5h1M593 590.5h1M608 590.5h1M614 590.5h1M554 591.5h1M610 591.5h3M589 592.5h1M611 592.5h1M615 592.5h1M552 593.5h1M589 593.5h2M592 593.5h1M612 593.5h1M553 594.5h1M555 594.5h2M559 594.5h1M587 594.5h1M611 594.5h1M614 594.5h1M556 595.5h1M587 595.5h1M590 595.5h1M611 595.5h1M557 596.5h1M560 596.5h1M581 596.5h1M588 596.5h1M590 596.5h1M593 596.5h2M611 596.5h1M616 596.5h1M592 597.5h1M616 597.5h1M559 598.5h1M583 598.5h1M587 598.5h1M592 598.5h1M605 598.5h1M607 598.5h1M611 598.5h2M585 599.5h1M589 599.5h3M613 599.5h1M587 600.5h1M592 600.5h1M594 600.5h1M607 600.5h1M609 600.5h1M615 600.5h1M594 601.5h1M597 601.5h1M600 601.5h2M609 601.5h1M613 601.5h1M589 602.5h1M592 602.5h2M595 602.5h1M597 602.5h1M599 602.5h1M588 603.5h1M590 603.5h2M593 603.5h1M610 603.5h1M615 603.5h2M579 604.5h1M588 604.5h1M595 604.5h1M605 604.5h1M608 604.5h1M611 604.5h2M575 605.5h1M583 605.5h1M585 605.5h5M594 605.5h2M597 605.5h1M606 605.5h2M609 605.5h1M613 605.5h1M587 606.5h1M592 606.5h2M597 606.5h1M602 606.5h1M606 606.5h1M614 606.5h1M587 607.5h1M591 607.5h1M595 607.5h2M605 607.5h1M593 608.5h1M599 608.5h1M593 609.5h1M595 609.5h1M600 609.5h2M604 609.5h1M606 609.5h1M608 609.5h1M574 610.5h1M586 610.5h1M592 610.5h1M598 610.5h1M638 610.5h1M604 611.5h3M592 612.5h2M596 612.5h1M590 613.5h1M597 614.5h2M606 614.5h1M612 614.5h1M588 615.5h1M603 615.5h1M597 617.5h1" fill="none" stroke="#f0a35c" stroke-width="1"/>
<path d="M594 573.5h2M597 573.5h2M573 574.5h1M575 574.5h1M574 575.5h1M568 576.5h1M593 576.5h1M602 576.5h1M604 576.5h1M606 576.5h2M592 577.5h1M566 578.5h1M568 578.5h2M594 578.5h2M607 578.5h1M591 579.5h1M594 579.5h2M566 580.5h1M590 580.5h1M592 580.5h1M611 580.5h2M619 580.5h1M622 580.5h1M624 580.5h2M627 580.5h1M590 581.5h2M593 581.5h1M612 581.5h1M622 581.5h1M626 581.5h1M628 581.5h1M593 582.5h1M614 582.5h2M617 582.5h1M619 582.5h1M587 583.5h2M591 583.5h1M622 583.5h1M625 583.5h2M628 583.5h1M570 584.5h1M584 584.5h1M587 584.5h2M590 584.5h1M593 584.5h1M609 584.5h2M614 584.5h1M617 584.5h2M622 584.5h1M626 584.5h1M571 585.5h1M584 585.5h1M610 585.5h1M614 585.5h2M621 585.5h1M570 586.5h3M587 586.5h2M608 586.5h1M611 586.5h1M587 587.5h1M590 587.5h1M584 588.5h1M592 588.5h1M616 588.5h1M585 589.5h1M592 589.5h1M613 589.5h3M560 590.5h1M615 590.5h1M552 591.5h1M613 591.5h1M553 592.5h1M558 592.5h1M610 592.5h1M612 592.5h1M614 592.5h1M560 593.5h1M610 593.5h2M557 594.5h1M560 594.5h2M588 594.5h1M610 594.5h1M613 594.5h1M616 594.5h1M561 595.5h1M585 595.5h1M589 595.5h1M591 595.5h1M609 595.5h1M614 595.5h1M561 596.5h1M563 596.5h1M576 596.5h1M587 596.5h1M589 596.5h1M607 596.5h1M612 596.5h1M614 596.5h1M617 596.5h1M557 597.5h1M562 597.5h1M582 597.5h2M587 597.5h1M593 597.5h1M610 597.5h3M558 598.5h1M586 598.5h1M588 598.5h1M606 598.5h1M614 598.5h1M619 598.5h1M587 599.5h1M594 599.5h1M607 599.5h2M612 599.5h1M614 599.5h1M570 600.5h1M590 600.5h1M608 600.5h1M612 600.5h2M585 601.5h1M591 601.5h1M593 601.5h1M595 601.5h1M611 601.5h1M615 601.5h1M566 602.5h1M569 602.5h1M582 602.5h1M591 602.5h1M594 602.5h1M596 602.5h1M603 602.5h1M610 602.5h1M614 602.5h1M621 602.5h1M566 603.5h1M578 603.5h2M583 603.5h1M587 603.5h1M594 603.5h1M596 603.5h1M606 603.5h1M618 603.5h1M586 604.5h1M589 604.5h2M594 604.5h1M597 604.5h1M600 604.5h1M604 604.5h1M619 604.5h1M573 605.5h1M578 605.5h1M581 605.5h1M593 605.5h1M601 605.5h1M605 605.5h1M608 605.5h1M610 605.5h1M612 605.5h1M615 605.5h1M577 606.5h2M581 606.5h1M584 606.5h2M589 606.5h2M594 606.5h1M598 606.5h1M600 606.5h1M603 606.5h1M607 606.5h1M609 606.5h1M611 606.5h2M615 606.5h1M582 607.5h1M584 607.5h1M590 607.5h1M594 607.5h1M600 607.5h1M604 607.5h1M606 607.5h1M608 607.5h3M613 607.5h1M587 608.5h1M594 608.5h1M596 608.5h1M598 608.5h1M603 608.5h1M607 608.5h2M610 608.5h1M584 609.5h1M594 609.5h1M596 609.5h2M599 609.5h1M602 609.5h1M605 609.5h1M610 609.5h1M637 609.5h1M640 609.5h2M570 610.5h1M581 610.5h1M584 610.5h2M588 610.5h1M590 610.5h1M601 610.5h3M605 610.5h1M639 610.5h3M576 611.5h1M581 611.5h1M589 611.5h1M598 611.5h1M638 611.5h1M640 611.5h1M580 612.5h1M590 612.5h1M602 612.5h1M607 612.5h1M572 613.5h1M592 613.5h1M596 613.5h1M598 613.5h1M607 613.5h1M577 614.5h2M595 614.5h2M603 614.5h1M605 614.5h1M580 615.5h1M595 615.5h1M598 615.5h3M610 615.5h1M590 616.5h1M592 616.5h1M605 616.5h1M574 618.5h1M592 618.5h2M587 619.5h1M599 619.5h1M604 619.5h1M608 619.5h1M583 620.5h1M585 625.5h1M579 626.5h1M604 626.5h1M604 627.5h1M597 628.5h1M574 629.5h1M598 633.5h1" fill="none" stroke="#f1e89a" stroke-width="1"/>
<text transform="translate(287.4 680.8) scale(0.901 1)" font-size="12.99" font-weight="bold" fill="#000">i</text>
<text transform="translate(383.6 681.5)" font-size="8.9" text-anchor="middle">PDL1 on tumor cells (Yale cohort)</text>
<path d="M316 714.4H482" fill="none" stroke="#c8c8c8" stroke-width="0.6" stroke-dasharray="1 1.6"/>
<path d="M311 714.4L314.2 714.4" stroke="#444" stroke-width="0.7"/>
<text transform="translate(306 717.1)" font-size="7.8" text-anchor="end" fill="#333">5</text>
<path d="M316 756.5H482" fill="none" stroke="#c8c8c8" stroke-width="0.6" stroke-dasharray="1 1.6"/>
<path d="M311 756.5L314.2 756.5" stroke="#444" stroke-width="0.7"/>
<text transform="translate(306 759.2)" font-size="7.8" text-anchor="end" fill="#333">4</text>
<path d="M316 799.4H482" fill="none" stroke="#c8c8c8" stroke-width="0.6" stroke-dasharray="1 1.6"/>
<path d="M311 799.4L314.2 799.4" stroke="#444" stroke-width="0.7"/>
<text transform="translate(306 802.1)" font-size="7.8" text-anchor="end" fill="#333">3</text>
<text transform="translate(294.3 748.5) rotate(-90)" font-size="8.9" text-anchor="middle">Expression level</text>
<text transform="translate(382 734.6)" font-size="7.8"><tspan font-style="italic">P</tspan> = 0.048</text>
<path d="M360.3 813L360.3 816.6" stroke="#444" stroke-width="0.7"/>
<text transform="translate(360.3 825)" font-size="7.8" text-anchor="middle">Nonprogressors</text>
<path d="M437.8 813L437.8 816.6" stroke="#444" stroke-width="0.7"/>
<text transform="translate(434.6 825)" font-size="7.8" text-anchor="middle">Progressors</text>
<path d="M360.3 690.3L360.5 691.1L360.7 691.9L361 692.7L361.2 693.5L361.4 694.3L361.6 695.2L361.7 696L361.9 696.8L362.1 697.6L362.1 698.4L362.2 699.2L362.1 700L361.9 700.8L361.7 701.6L361.4 702.4L361.2 703.2L361 704L360.8 704.9L360.8 705.7L360.7 706.5L360.6 707.3L360.6 708.1L360.6 708.9L360.6 709.7L360.6 710.5L360.6 711.3L360.6 712.1L360.6 712.9L360.6 713.7L360.6 714.6L360.6 715.4L360.6 716.2L360.6 717L360.6 717.8L360.6 718.6L360.6 719.4L360.6 720.2L360.6 721L360.6 721.8L360.6 722.6L360.6 723.4L360.6 724.3L360.6 725.1L360.6 725.9L360.6 726.7L360.6 727.5L360.6 728.3L360.6 729.1L360.6 729.9L360.6 730.7L360.6 731.5L360.6 732.3L360.7 733.1L360.8 734L361.1 734.8L361.3 735.6L361.5 736.4L361.7 737.2L361.8 738L361.9 738.8L362 739.6L362 740.4L362.1 741.2L362.2 742L362.7 742.8L363.3 743.7L364.1 744.5L364.9 745.3L365.9 746.1L366.9 746.9L368 747.7L369.2 748.5L370.4 749.3L371.7 750.1L373 750.9L374.4 751.7L375.7 752.5L377.1 753.4L378.5 754.2L379.9 755L381.3 755.8L382.8 756.6L384.2 757.4L385.6 758.2L387 759L388.3 759.8L389.6 760.6L390.7 761.4L391.7 762.2L392.7 763.1L393.4 763.9L394.1 764.7L394.6 765.5L394.9 766.3L394.8 767.1L394.3 767.9L393.2 768.7L391.7 769.5L389.6 770.3L387.3 771.1L384.9 771.9L382.3 772.8L379.7 773.6L377.1 774.4L374.7 775.2L372.7 776L371 776.8L369.5 777.6L368.1 778.4L366.9 779.2L365.8 780L364.8 780.8L363.9 781.6L363.1 782.5L362.5 783.3L361.9 784.1L361.4 784.9L360.9 785.7L360.3 786.5L360.3 786.5L359.7 785.7L359.2 784.9L358.7 784.1L358.1 783.3L357.5 782.5L356.7 781.6L355.8 780.8L354.8 780L353.7 779.2L352.5 778.4L351.1 777.6L349.6 776.8L347.9 776L345.9 775.2L343.5 774.4L340.9 773.6L338.3 772.8L335.7 771.9L333.3 771.1L331 770.3L328.9 769.5L327.4 768.7L326.3 767.9L325.8 767.1L325.7 766.3L326 765.5L326.5 764.7L327.2 763.9L327.9 763.1L328.9 762.2L329.9 761.4L331 760.6L332.3 759.8L333.6 759L335 758.2L336.4 757.4L337.8 756.6L339.3 755.8L340.7 755L342.1 754.2L343.5 753.4L344.9 752.5L346.2 751.7L347.6 750.9L348.9 750.1L350.2 749.3L351.4 748.5L352.6 747.7L353.7 746.9L354.7 746.1L355.7 745.3L356.5 744.5L357.3 743.7L357.9 742.8L358.4 742L358.5 741.2L358.6 740.4L358.6 739.6L358.7 738.8L358.8 738L358.9 737.2L359.1 736.4L359.3 735.6L359.5 734.8L359.8 734L359.9 733.1L360 732.3L360 731.5L360.1 730.7L360.1 729.9L360.1 729.1L360.1 728.3L360.1 727.5L360.1 726.7L360.1 725.9L360.1 725.1L360.1 724.3L360.1 723.4L360.1 722.6L360.1 721.8L360.1 721L360.1 720.2L360.1 719.4L360.1 718.6L360.1 717.8L360.1 717L360.1 716.2L360.1 715.4L360.1 714.6L360.1 713.7L360.1 712.9L360.1 712.1L360.1 711.3L360.1 710.5L360.1 709.7L360 708.9L360 708.1L360 707.3L359.9 706.5L359.8 705.7L359.8 704.9L359.6 704L359.4 703.2L359.2 702.4L358.9 701.6L358.7 700.8L358.5 700L358.4 699.2L358.5 698.4L358.5 697.6L358.7 696.8L358.9 696L359 695.2L359.2 694.3L359.4 693.5L359.6 692.7L359.9 691.9L360.1 691.1L360.3 690.3Z" fill="#a8b4de" stroke="#444" stroke-width="0.6"/>
<path d="M360.3 740L360.3 776.5" stroke="#444" stroke-width="0.6"/>
<path d="M369.4 778.5a1 1 0 1 0 0.01 0zM351.4 754.4a1 1 0 1 0 0.01 0zM367 772.6a1 1 0 1 0 0.01 0zM363.7 760.6a1 1 0 1 0 0.01 0zM362.4 769a1 1 0 1 0 0.01 0zM361.9 756.4a1 1 0 1 0 0.01 0zM358.9 763a1 1 0 1 0 0.01 0zM364.8 779.9a1 1 0 1 0 0.01 0zM369.3 767.2a1 1 0 1 0 0.01 0zM359.2 759.5a1 1 0 1 0 0.01 0zM351 752.8a1 1 0 1 0 0.01 0zM359.6 760.9a1 1 0 1 0 0.01 0zM357.9 777a1 1 0 1 0 0.01 0zM360.8 767.7a1 1 0 1 0 0.01 0zM355 752.7a1 1 0 1 0 0.01 0zM356.8 755.8a1 1 0 1 0 0.01 0zM360.5 780a1 1 0 1 0 0.01 0zM363.8 757.1a1 1 0 1 0 0.01 0z" fill="#bdbdbd"/>
<rect x="356.7" y="759.2" width="7.7" height="10.1" fill="#fff" stroke="#666" stroke-width="0.5"/>
<path d="M356.7 766.9L364.4 766.9" stroke="#333" stroke-width="0.8"/>
<circle cx="360.3" cy="700" r="1.25" fill="#111"/>
<circle cx="360.3" cy="739.9" r="1.25" fill="#111"/>
<circle cx="351.2" cy="700" r="1" fill="#c8c8c8"/><circle cx="352.3" cy="740" r="1" fill="#c8c8c8"/><circle cx="366" cy="750" r="1" fill="#c8c8c8"/>
<path d="M437.8 733.2L438.2 733.8L438.6 734.4L438.9 735L439.3 735.5L439.5 736.1L439.7 736.7L439.9 737.3L440 737.9L440 738.5L440 739.1L439.8 739.7L439.6 740.2L439.4 740.8L439.3 741.4L439.2 742L439.1 742.6L439 743.2L439 743.8L438.9 744.3L438.9 744.9L439 745.5L439.2 746.1L439.4 746.7L439.6 747.3L439.7 747.9L439.9 748.5L440 749L440.1 749.6L440.1 750.2L440.1 750.8L440.1 751.4L440.1 752L440.1 752.6L440.3 753.1L440.7 753.7L441.2 754.3L442 754.9L442.9 755.5L444 756.1L445.4 756.7L447.2 757.2L449.2 757.8L451.5 758.4L453.8 759L456.2 759.6L458.5 760.2L460.7 760.8L462.7 761.4L464.6 761.9L466.2 762.5L467.4 763.1L468.2 763.7L468.8 764.3L469.2 764.9L469.4 765.5L469.4 766L469.3 766.6L469.3 767.2L469.6 767.8L469.8 768.4L469.8 769L469.4 769.6L468.6 770.2L467.6 770.7L466.2 771.3L464.6 771.9L462.6 772.5L460.4 773.1L458.1 773.7L455.9 774.3L453.8 774.8L451.8 775.4L450 776L448.2 776.6L446.7 777.2L445.5 777.8L444.3 778.4L443.3 779L442.4 779.5L441.7 780.1L441 780.7L440.4 781.3L439.9 781.9L439.5 782.5L439.3 783.1L439.1 783.6L438.9 784.2L438.8 784.8L438.6 785.4L438.5 786L438.4 786.6L438.4 787.2L438.4 787.7L438.4 788.3L438.4 788.9L438.4 789.5L438.4 790.1L438.4 790.7L438.4 791.3L438.4 791.9L438.4 792.4L438.4 793L438.4 793.6L438.4 794.2L438.5 794.8L438.8 795.4L439.1 796L439.4 796.5L439.7 797.1L439.9 797.7L440 798.3L440.1 798.9L440 799.5L439.8 800.1L439.6 800.7L439.2 801.2L438.7 801.8L438.3 802.4L437.8 803L437.8 803L437.3 802.4L436.9 801.8L436.4 801.2L436 800.7L435.8 800.1L435.6 799.5L435.5 798.9L435.6 798.3L435.7 797.7L435.9 797.1L436.2 796.5L436.5 796L436.8 795.4L437.1 794.8L437.2 794.2L437.2 793.6L437.2 793L437.2 792.4L437.2 791.9L437.2 791.3L437.2 790.7L437.2 790.1L437.2 789.5L437.2 788.9L437.2 788.3L437.2 787.7L437.2 787.2L437.2 786.6L437.1 786L437 785.4L436.8 784.8L436.7 784.2L436.5 783.6L436.3 783.1L436.1 782.5L435.7 781.9L435.2 781.3L434.6 780.7L433.9 780.1L433.2 779.5L432.3 779L431.3 778.4L430.1 777.8L428.9 777.2L427.4 776.6L425.6 776L423.8 775.4L421.8 774.8L419.7 774.3L417.5 773.7L415.2 773.1L413 772.5L411 771.9L409.4 771.3L408 770.7L407 770.2L406.2 769.6L405.8 769L405.8 768.4L406 767.8L406.3 767.2L406.3 766.6L406.2 766L406.2 765.5L406.4 764.9L406.8 764.3L407.4 763.7L408.2 763.1L409.4 762.5L411 761.9L412.9 761.4L414.9 760.8L417.1 760.2L419.4 759.6L421.8 759L424.1 758.4L426.4 757.8L428.4 757.2L430.2 756.7L431.6 756.1L432.7 755.5L433.6 754.9L434.4 754.3L434.9 753.7L435.3 753.1L435.5 752.6L435.5 752L435.5 751.4L435.5 750.8L435.5 750.2L435.5 749.6L435.6 749L435.7 748.5L435.9 747.9L436 747.3L436.2 746.7L436.4 746.1L436.6 745.5L436.7 744.9L436.7 744.3L436.6 743.8L436.6 743.2L436.5 742.6L436.4 742L436.3 741.4L436.2 740.8L436 740.2L435.8 739.7L435.6 739.1L435.6 738.5L435.6 737.9L435.7 737.3L435.9 736.7L436.1 736.1L436.3 735.5L436.7 735L437 734.4L437.4 733.8L437.8 733.2Z" fill="#f6b6cc" stroke="#444" stroke-width="0.6"/>
<path d="M437.8 745L437.8 795" stroke="#444" stroke-width="0.6"/>
<path d="M429.4 760.1a1 1 0 1 0 0.01 0zM434.5 761.1a1 1 0 1 0 0.01 0zM423.9 766a1 1 0 1 0 0.01 0zM451.2 774a1 1 0 1 0 0.01 0zM446.3 762.4a1 1 0 1 0 0.01 0zM439 763.5a1 1 0 1 0 0.01 0zM427.3 760.1a1 1 0 1 0 0.01 0zM428.7 776.5a1 1 0 1 0 0.01 0zM448.3 774.1a1 1 0 1 0 0.01 0zM447.4 761.9a1 1 0 1 0 0.01 0zM431.7 770.5a1 1 0 1 0 0.01 0zM445.2 775.1a1 1 0 1 0 0.01 0zM450 759.7a1 1 0 1 0 0.01 0zM441.2 771.4a1 1 0 1 0 0.01 0zM438 761.6a1 1 0 1 0 0.01 0zM437 759.8a1 1 0 1 0 0.01 0zM451.7 775.3a1 1 0 1 0 0.01 0zM439.3 764a1 1 0 1 0 0.01 0zM450.9 769.4a1 1 0 1 0 0.01 0zM450 775a1 1 0 1 0 0.01 0zM438.1 766.3a1 1 0 1 0 0.01 0zM441 766.6a1 1 0 1 0 0.01 0zM427 764.1a1 1 0 1 0 0.01 0zM447.8 758.9a1 1 0 1 0 0.01 0zM423.3 770.5a1 1 0 1 0 0.01 0zM430.8 768.7a1 1 0 1 0 0.01 0zM436.9 764.9a1 1 0 1 0 0.01 0zM453.7 761.9a1 1 0 1 0 0.01 0zM435 762.1a1 1 0 1 0 0.01 0zM442 763.5a1 1 0 1 0 0.01 0z" fill="#bdbdbd"/>
<rect x="433.7" y="763.3" width="8.5" height="7.9" fill="#fff" stroke="#666" stroke-width="0.5"/>
<path d="M433.7 768.1L442.2 768.1" stroke="#333" stroke-width="0.8"/>
<circle cx="437.8" cy="740.4" r="1.25" fill="#111"/>
<circle cx="437.8" cy="750.5" r="1.25" fill="#777"/>
<circle cx="437.8" cy="798.7" r="1.25" fill="#111"/>
<circle cx="445.6" cy="740.6" r="1" fill="#c8c8c8"/>
<text transform="translate(495.4 680.8) scale(0.901 1)" font-size="12.99" font-weight="bold" fill="#000">j</text>
<text transform="translate(591.5 681.5)" font-size="8.9" text-anchor="middle">PDL1 on macrophages (Yale cohort)</text>
<path d="M524 699H685" fill="none" stroke="#c8c8c8" stroke-width="0.6" stroke-dasharray="1 1.6"/>
<path d="M518.5 699L521.7 699" stroke="#444" stroke-width="0.7"/>
<text transform="translate(513.5 701.7)" font-size="7.8" text-anchor="end" fill="#333">5</text>
<path d="M524 749.5H685" fill="none" stroke="#c8c8c8" stroke-width="0.6" stroke-dasharray="1 1.6"/>
<path d="M518.5 749.5L521.7 749.5" stroke="#444" stroke-width="0.7"/>
<text transform="translate(513.5 752.2)" font-size="7.8" text-anchor="end" fill="#333">4</text>
<path d="M524 800.1H685" fill="none" stroke="#c8c8c8" stroke-width="0.6" stroke-dasharray="1 1.6"/>
<path d="M518.5 800.1L521.7 800.1" stroke="#444" stroke-width="0.7"/>
<text transform="translate(513.5 802.8)" font-size="7.8" text-anchor="end" fill="#333">3</text>
<text transform="translate(502.8 748.5) rotate(-90)" font-size="8.9" text-anchor="middle">Expression level</text>
<text transform="translate(587 714.6)" font-size="7.8"><tspan font-style="italic">P</tspan> = 0.045</text>
<path d="M566.5 813L566.5 816.6" stroke="#444" stroke-width="0.7"/>
<text transform="translate(566.5 825)" font-size="7.8" text-anchor="middle">Nonprogressors</text>
<path d="M640.4 813L640.4 816.6" stroke="#444" stroke-width="0.7"/>
<text transform="translate(640.4 825)" font-size="7.8" text-anchor="middle">Progressors</text>
<path d="M566.5 692.2L566.9 693L567.1 693.7L567.4 694.5L567.7 695.2L567.9 696L568.1 696.7L568.2 697.5L568.3 698.2L568.4 699L568.4 699.7L568.2 700.5L568 701.2L567.7 702L567.3 702.7L567.1 703.5L567 704.2L566.9 705L566.8 705.7L566.8 706.5L566.8 707.2L566.8 708L566.8 708.7L566.8 709.5L566.8 710.2L566.8 711L566.8 711.7L566.8 712.5L566.8 713.2L566.8 714L566.8 714.7L566.8 715.5L566.8 716.2L566.8 717L566.8 717.7L566.8 718.5L566.8 719.2L566.8 720L566.8 720.7L566.8 721.5L566.8 722.2L566.8 723L566.8 723.7L566.8 724.5L566.8 725.2L566.8 726L566.8 726.7L566.8 727.5L566.8 728.2L566.8 729L566.8 729.7L566.8 730.5L566.8 731.2L566.8 732L566.8 732.7L566.8 733.5L567 734.2L567.3 735L567.7 735.7L568 736.5L568.4 737.2L568.7 738L568.9 738.7L569.1 739.5L569.2 740.2L569.3 741L569.3 741.7L569.3 742.5L569.3 743.2L569.2 744L569.2 744.7L569.4 745.5L569.6 746.2L570 747L570.6 747.7L571.4 748.5L572.4 749.2L573.5 750L574.7 750.7L576.1 751.5L577.6 752.2L579.2 753L580.9 753.7L582.6 754.5L584.5 755.2L586.4 756L588.3 756.7L590.3 757.5L592.2 758.2L594.1 759L595.8 759.7L597.3 760.5L598 761.2L597.7 762L596.4 762.7L594.5 763.5L592.1 764.2L589.4 765L586.6 765.7L583.9 766.5L581.5 767.2L579.4 768L577.5 768.7L576 769.5L574.7 770.2L573.6 771L572.6 771.7L571.8 772.5L571.1 773.2L570.5 774L569.9 774.7L569.4 775.5L569 776.2L568.6 777L568.2 777.7L567.9 778.5L567.5 779.2L567.2 780L566.9 780.7L566.5 781.5L566.5 781.5L566.1 780.7L565.8 780L565.5 779.2L565.1 778.5L564.8 777.7L564.4 777L564 776.2L563.6 775.5L563.1 774.7L562.5 774L561.9 773.2L561.2 772.5L560.4 771.7L559.4 771L558.3 770.2L557 769.5L555.5 768.7L553.6 768L551.5 767.2L549.1 766.5L546.4 765.7L543.6 765L540.9 764.2L538.5 763.5L536.6 762.7L535.3 762L535 761.2L535.7 760.5L537.2 759.7L538.9 759L540.8 758.2L542.7 757.5L544.7 756.7L546.6 756L548.5 755.2L550.4 754.5L552.1 753.7L553.8 753L555.4 752.2L556.9 751.5L558.3 750.7L559.5 750L560.6 749.2L561.6 748.5L562.4 747.7L563 747L563.4 746.2L563.6 745.5L563.8 744.7L563.8 744L563.7 743.2L563.7 742.5L563.7 741.7L563.7 741L563.8 740.2L563.9 739.5L564.1 738.7L564.3 738L564.6 737.2L565 736.5L565.3 735.7L565.7 735L566 734.2L566.2 733.5L566.2 732.7L566.2 732L566.2 731.2L566.2 730.5L566.2 729.7L566.2 729L566.2 728.2L566.2 727.5L566.2 726.7L566.2 726L566.2 725.2L566.2 724.5L566.2 723.7L566.2 723L566.2 722.2L566.2 721.5L566.2 720.7L566.2 720L566.2 719.2L566.2 718.5L566.2 717.7L566.2 717L566.2 716.2L566.2 715.5L566.2 714.7L566.2 714L566.2 713.2L566.2 712.5L566.2 711.7L566.2 711L566.2 710.2L566.2 709.5L566.2 708.7L566.2 708L566.2 707.2L566.2 706.5L566.2 705.7L566.1 705L566 704.2L565.9 703.5L565.7 702.7L565.3 702L565 701.2L564.8 700.5L564.6 699.7L564.6 699L564.7 698.2L564.8 697.5L564.9 696.7L565.1 696L565.3 695.2L565.6 694.5L565.9 693.7L566.1 693L566.5 692.2Z" fill="#a8b4de" stroke="#444" stroke-width="0.6"/>
<path d="M566.5 745L566.5 776" stroke="#444" stroke-width="0.6"/>
<path d="M572.6 770.5a1 1 0 1 0 0.01 0zM566.7 753.1a1 1 0 1 0 0.01 0zM557.5 765.5a1 1 0 1 0 0.01 0zM566.4 768.6a1 1 0 1 0 0.01 0zM564.6 768.9a1 1 0 1 0 0.01 0zM562.7 769.9a1 1 0 1 0 0.01 0zM571.4 757.8a1 1 0 1 0 0.01 0zM567.7 766.1a1 1 0 1 0 0.01 0zM561.2 762.2a1 1 0 1 0 0.01 0zM572.8 753.2a1 1 0 1 0 0.01 0zM572.8 766.3a1 1 0 1 0 0.01 0zM573.5 755.4a1 1 0 1 0 0.01 0zM559.3 769.8a1 1 0 1 0 0.01 0zM572.8 758.8a1 1 0 1 0 0.01 0zM559.3 751.1a1 1 0 1 0 0.01 0zM569.6 754a1 1 0 1 0 0.01 0z" fill="#bdbdbd"/>
<rect x="563.4" y="757.3" width="6.7" height="7.2" fill="#fff" stroke="#666" stroke-width="0.5"/>
<path d="M563.4 761.1L570.1 761.1" stroke="#333" stroke-width="0.8"/>
<circle cx="566.5" cy="699" r="1.25" fill="#111"/>
<circle cx="566.5" cy="738" r="1.25" fill="#111"/>
<circle cx="566.5" cy="742" r="1.25" fill="#111"/>
<circle cx="566.5" cy="745.7" r="1.25" fill="#111"/>
<circle cx="556.5" cy="745.5" r="1" fill="#c8c8c8"/><circle cx="576.3" cy="742.7" r="1" fill="#c8c8c8"/>
<path d="M640.4 734.4L640.8 735L641.1 735.6L641.4 736.2L641.7 736.7L641.9 737.3L642 737.9L642.1 738.5L642.2 739.1L642.2 739.7L642.2 740.3L642.1 740.9L642 741.4L641.9 742L641.8 742.6L641.7 743.2L641.7 743.8L641.7 744.4L641.6 745L641.7 745.5L641.8 746.1L642.1 746.7L642.4 747.3L642.7 747.9L643.1 748.5L643.6 749.1L644.1 749.7L644.6 750.2L645.2 750.8L645.9 751.4L646.7 752L647.6 752.6L648.7 753.2L649.9 753.8L651.1 754.3L652.5 754.9L654 755.5L655.6 756.1L657.2 756.7L658.9 757.3L660.6 757.9L662.3 758.4L664 759L665.8 759.6L667.5 760.2L669.1 760.8L670 761.4L670 762L669.1 762.6L667.6 763.1L665.8 763.7L663.7 764.3L661.4 764.9L658.9 765.5L656.5 766.1L654.3 766.7L652.4 767.2L650.7 767.8L649.1 768.4L647.8 769L646.8 769.6L646 770.2L645.3 770.8L644.7 771.4L644.1 771.9L643.6 772.5L643.2 773.1L642.8 773.7L642.4 774.3L642.2 774.9L642.1 775.5L642.1 776L642.2 776.6L642.2 777.2L642.3 777.8L642.3 778.4L642.3 779L642.2 779.6L641.9 780.2L641.7 780.7L641.4 781.3L641.2 781.9L641 782.5L640.9 783.1L640.8 783.7L640.7 784.3L640.7 784.8L640.6 785.4L640.6 786L640.6 786.6L640.6 787.2L640.6 787.8L640.6 788.4L640.6 788.9L640.6 789.5L640.6 790.1L640.6 790.7L640.6 791.3L640.6 791.9L640.6 792.5L640.6 793.1L640.6 793.6L640.6 794.2L640.6 794.8L640.6 795.4L640.7 796L640.8 796.6L641 797.2L641.3 797.7L641.7 798.3L642 798.9L642.2 799.5L642.2 800.1L642.2 800.7L642 801.3L641.8 801.9L641.5 802.4L641.2 803L640.8 803.6L640.4 804.2L640.4 804.2L640 803.6L639.6 803L639.3 802.4L639 801.9L638.8 801.3L638.6 800.7L638.6 800.1L638.6 799.5L638.8 798.9L639.1 798.3L639.5 797.7L639.8 797.2L640 796.6L640.1 796L640.1 795.4L640.1 794.8L640.1 794.2L640.1 793.6L640.1 793.1L640.1 792.5L640.1 791.9L640.1 791.3L640.1 790.7L640.1 790.1L640.1 789.5L640.1 788.9L640.1 788.4L640.1 787.8L640.1 787.2L640.1 786.6L640.1 786L640.1 785.4L640.1 784.8L640.1 784.3L640 783.7L639.9 783.1L639.8 782.5L639.6 781.9L639.4 781.3L639.1 780.7L638.9 780.2L638.6 779.6L638.5 779L638.5 778.4L638.5 777.8L638.6 777.2L638.6 776.6L638.7 776L638.7 775.5L638.6 774.9L638.4 774.3L638 773.7L637.6 773.1L637.2 772.5L636.7 771.9L636.1 771.4L635.5 770.8L634.8 770.2L634 769.6L633 769L631.7 768.4L630.1 767.8L628.4 767.2L626.5 766.7L624.3 766.1L621.9 765.5L619.4 764.9L617.1 764.3L615 763.7L613.2 763.1L611.7 762.6L610.8 762L610.8 761.4L611.7 760.8L613.3 760.2L615 759.6L616.8 759L618.5 758.4L620.2 757.9L621.9 757.3L623.6 756.7L625.2 756.1L626.8 755.5L628.3 754.9L629.7 754.3L630.9 753.8L632.1 753.2L633.2 752.6L634.1 752L634.9 751.4L635.6 750.8L636.2 750.2L636.7 749.7L637.2 749.1L637.7 748.5L638.1 747.9L638.4 747.3L638.7 746.7L639 746.1L639.1 745.5L639.2 745L639.1 744.4L639.1 743.8L639.1 743.2L639 742.6L638.9 742L638.8 741.4L638.7 740.9L638.6 740.3L638.6 739.7L638.6 739.1L638.7 738.5L638.8 737.9L638.9 737.3L639.1 736.7L639.4 736.2L639.7 735.6L640 735L640.4 734.4Z" fill="#f6b6cc" stroke="#444" stroke-width="0.6"/>
<path d="M640.4 745L640.4 778" stroke="#444" stroke-width="0.6"/>
<path d="M633.8 771.1a1 1 0 1 0 0.01 0zM631.4 764.9a1 1 0 1 0 0.01 0zM630.4 753.9a1 1 0 1 0 0.01 0zM652.4 753a1 1 0 1 0 0.01 0zM643.8 759a1 1 0 1 0 0.01 0zM639.3 759.9a1 1 0 1 0 0.01 0zM633 767.9a1 1 0 1 0 0.01 0zM630.5 753.6a1 1 0 1 0 0.01 0zM628.9 754.4a1 1 0 1 0 0.01 0zM638.2 769.6a1 1 0 1 0 0.01 0zM637.5 750.7a1 1 0 1 0 0.01 0zM634.6 771.8a1 1 0 1 0 0.01 0zM629.9 762.9a1 1 0 1 0 0.01 0zM637.5 763.9a1 1 0 1 0 0.01 0zM636.5 764.6a1 1 0 1 0 0.01 0zM640.3 763.6a1 1 0 1 0 0.01 0zM650 762a1 1 0 1 0 0.01 0zM631.8 749.5a1 1 0 1 0 0.01 0zM651.1 759.7a1 1 0 1 0 0.01 0zM633.1 770.7a1 1 0 1 0 0.01 0zM642.3 765.5a1 1 0 1 0 0.01 0zM649.5 754.9a1 1 0 1 0 0.01 0zM637 769.1a1 1 0 1 0 0.01 0zM631.6 766.3a1 1 0 1 0 0.01 0zM630.7 764.6a1 1 0 1 0 0.01 0zM645.3 770.8a1 1 0 1 0 0.01 0z" fill="#bdbdbd"/>
<rect x="636.8" y="757.7" width="7.2" height="8" fill="#fff" stroke="#666" stroke-width="0.5"/>
<path d="M636.8 761.6L644 761.6" stroke="#333" stroke-width="0.8"/>
<circle cx="640.4" cy="740.4" r="1.25" fill="#111"/>
<circle cx="640.4" cy="779.4" r="1.25" fill="#111"/>
<circle cx="640.4" cy="800.1" r="1.25" fill="#777"/>
<circle cx="650.6" cy="740.8" r="1" fill="#c8c8c8"/><circle cx="631.5" cy="778.5" r="1" fill="#c8c8c8"/>
</svg>
</body></html>
